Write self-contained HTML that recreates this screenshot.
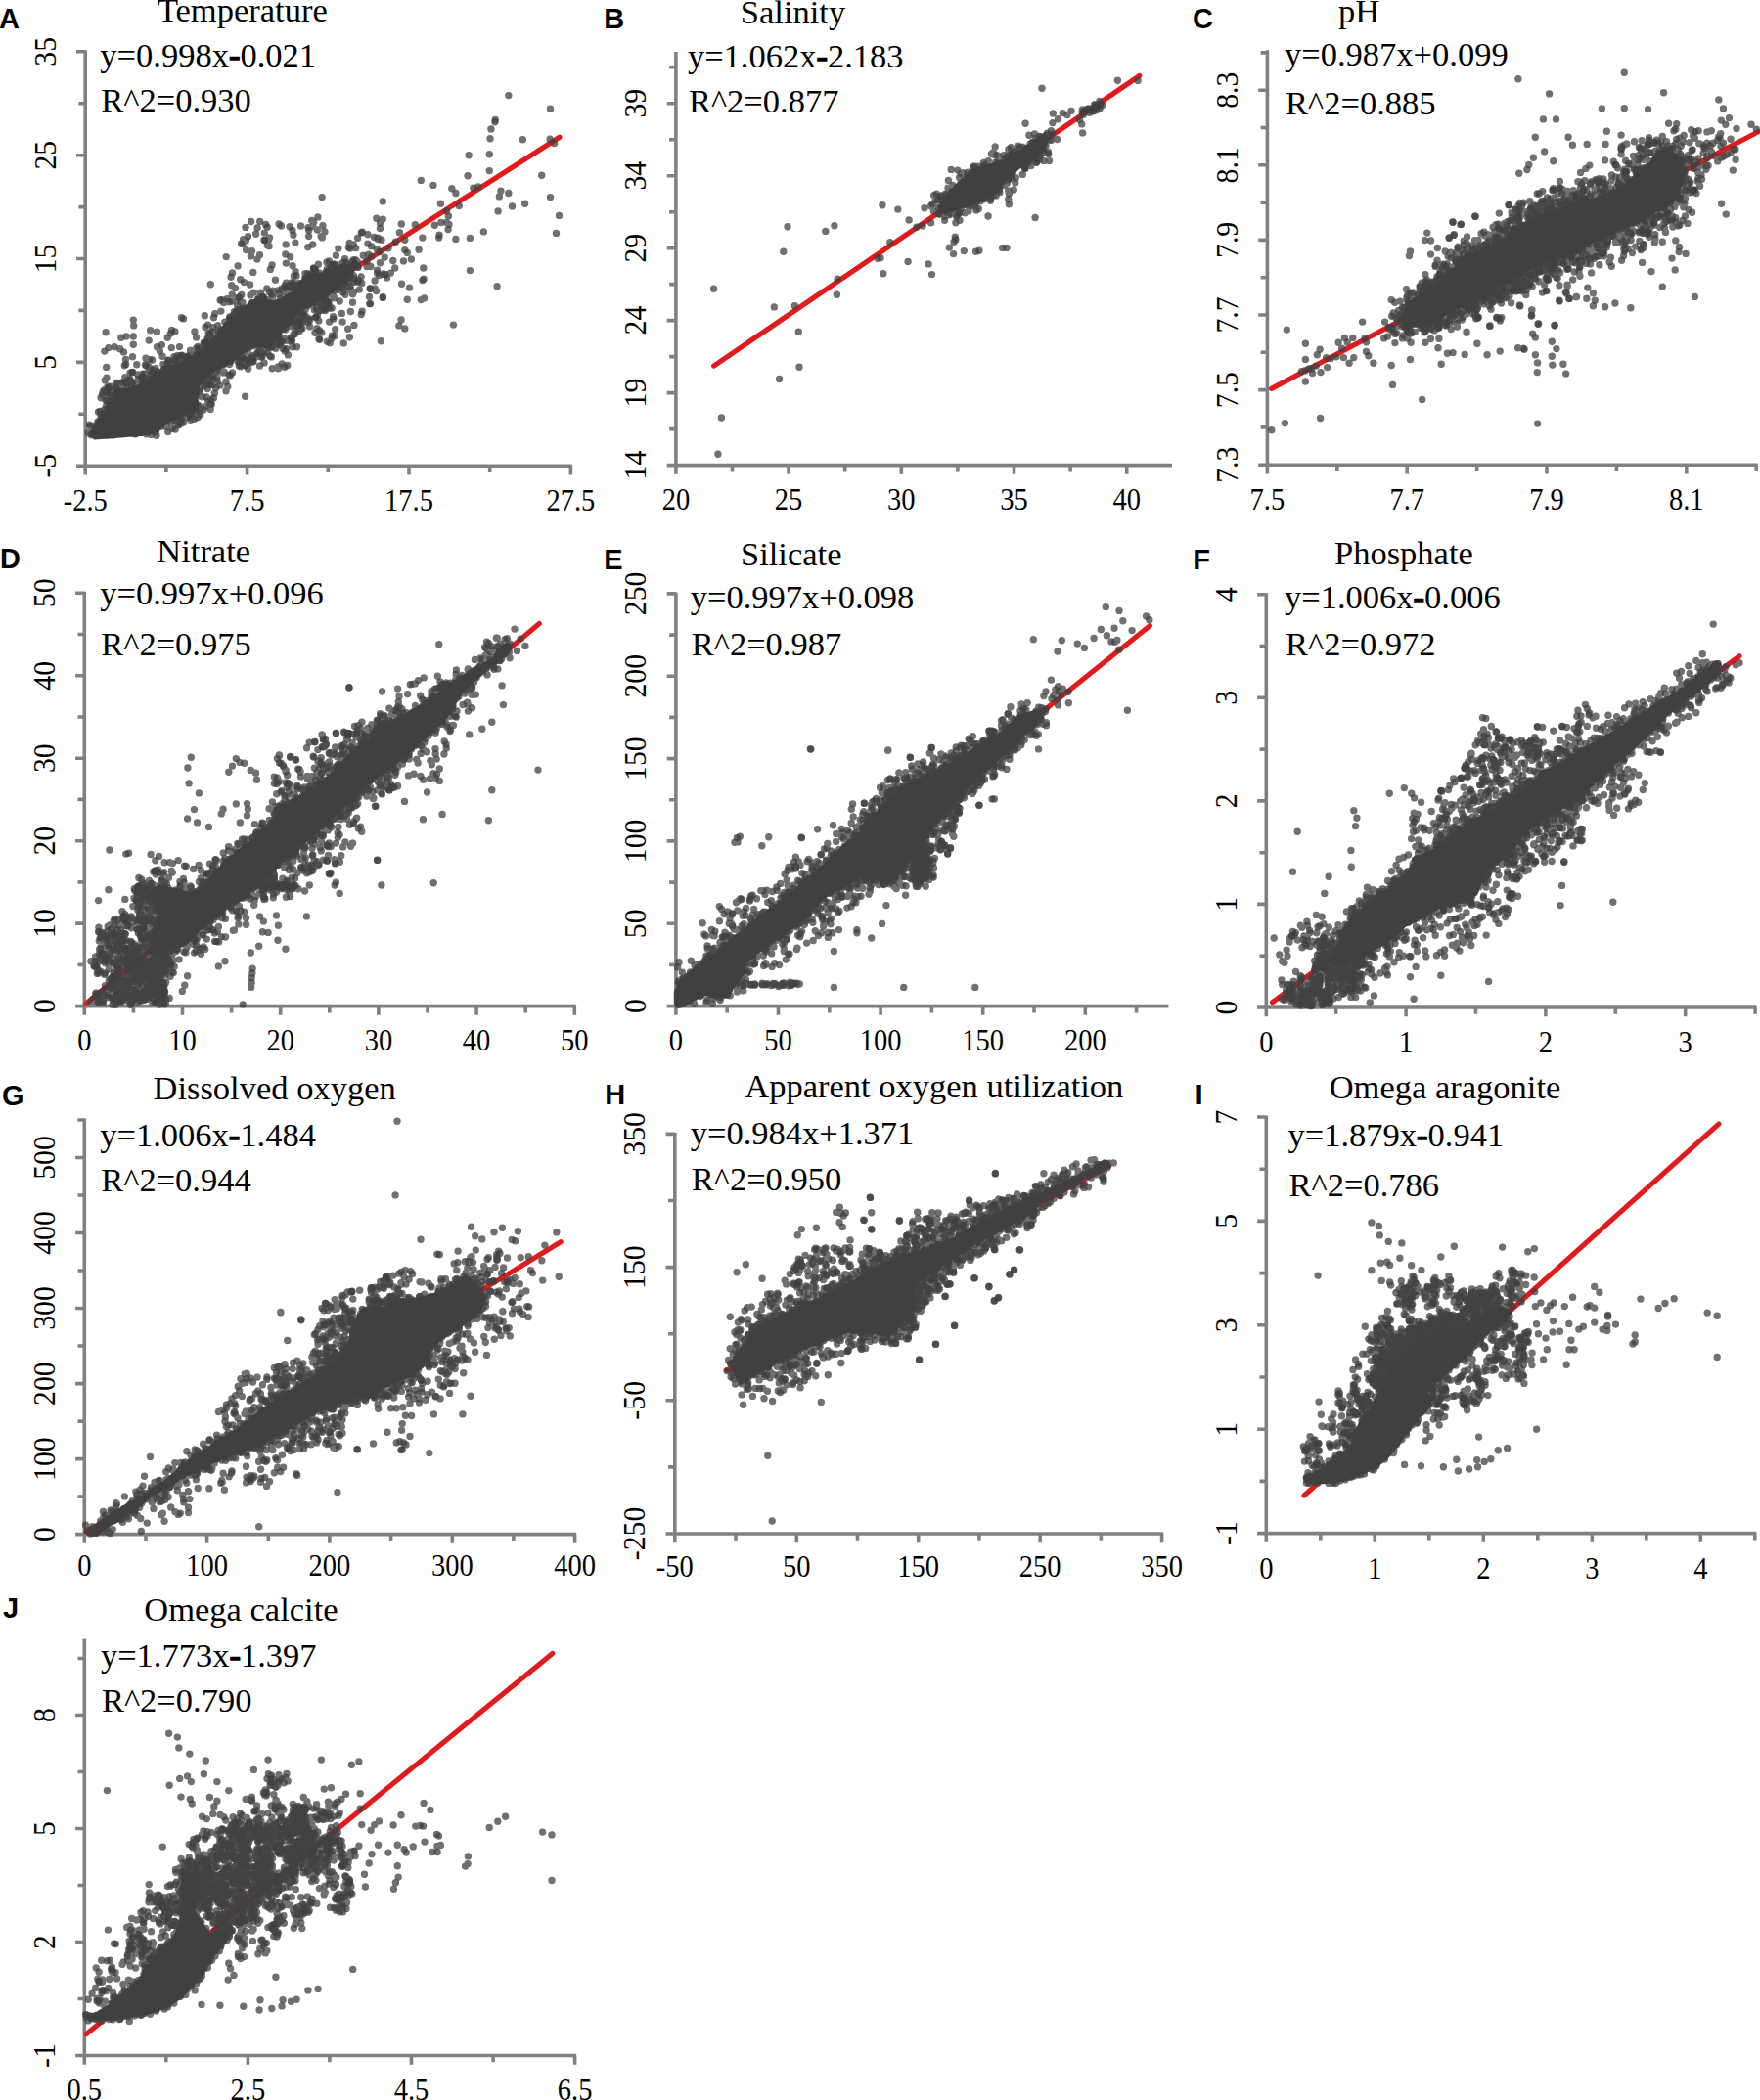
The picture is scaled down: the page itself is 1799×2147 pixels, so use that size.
<!DOCTYPE html>
<html><head><meta charset="utf-8"><title>Figure</title>
<style>
html,body{margin:0;padding:0;background:#fff;}
body{width:1799px;height:2147px;overflow:hidden;}
svg{display:block;}
.lab{font-family:"Liberation Sans",sans-serif;font-weight:bold;font-size:29px;fill:#000;}
.ttl{font-family:"Liberation Serif",serif;font-size:34.5px;fill:#000;}
.tk{font-family:"Liberation Serif",serif;font-size:32px;fill:#000;}
.d{stroke:#404040;stroke-width:7.4;stroke-linecap:round;fill:none;opacity:.75;}
</style></head><body>
<svg width="1799" height="2147" viewBox="0 0 1799 2147">
<rect width="1799" height="2147" fill="#fff"/>
<g><g stroke="#808080" stroke-width="3.6" fill="none">
<path d="M87.2 51.3V485.4M78 476.2H584.9M169.9 476.2v6.8M252.6 476.2v9.2M335.3 476.2v6.8M418 476.2v9.2M500.7 476.2v6.8M583.4 476.2v9.2M87.2 423.3h-6.8M87.2 370.4h-9.2M87.2 317.4h-6.8M87.2 264.5h-9.2M87.2 211.6h-6.8M87.2 158.7h-9.2M87.2 105.8h-6.8M87.2 52.8h-9.2"/></g>
<path d="M97 444L571.9 140.3" stroke="#e31a1c" stroke-width="5.2" stroke-linecap="round" fill="none"/>
<polygon fill="#404040" points="92.2,443.8 95.9,449.4 117.5,447.9 141.9,446 158.8,443.8 164.4,438.1 173.8,431.6 185,425.9 196.3,423.1 203.8,417.5 201.9,408.1 203.8,395 211.3,385.6 222.5,378.1 235.6,372.5 248.8,361.3 260,355.6 273.1,355.6 282.5,348.1 290,336.9 297.5,329.4 305,320 320,312.5 331.3,305 342.5,297.5 351.9,290 361.3,278.8 366.9,269.4 363.1,265.6 353.8,271.3 342.5,273.1 331.3,278.8 318.1,278.8 305,288.1 299.4,297.5 286.3,305 278.8,306.9 267.5,305 258.1,306.9 248.8,314.4 241.3,321.9 230,329.4 220.6,342.5 211.3,351.9 200,361.3 188.8,368.8 177.5,372.5 168.1,378.1 158.8,380 151.3,387.5 141.9,393.1 128.8,396.9 117.5,396.9 113.8,406.3 106.3,419.4 98.8,430.6 94.1,438.1"/>
<path class="d" d="M91.4 434.1h0M96.1 444.4h0M96.9 437.5h0M100 430.9h0M104.5 403.4h0M108.7 375.4h0M109.3 409.4h0M119 391.7h0M125.3 390.8h0M126.1 399.9h0M126.5 359.9h0M127.3 373.7h0M127.8 385.7h0M128.5 367.4h0M129.1 344h0M133 381.3h0M136.3 352.3h0M140.2 397.9h0M144.9 385.9h0M145.5 442.4h0M149.5 443.8h0M154 382.5h0M155.6 368h0M158.8 384.6h0M159.6 440.3h0M160 445.3h0M160.4 339.3h0M160.6 354.7h0M161.8 437.1h0M163.4 359h0M166 380h0M167.9 377.5h0M171.3 345.3h0M171.8 368.3h0M172 429.3h0M173.9 375.9h0M174.4 429.9h0M175.3 433.1h0M176.1 438.3h0M177.9 375.7h0M178 364.8h0M178.2 367.3h0M178.4 425.7h0M178.9 338.9h0M181.3 373.6h0M182.3 370.2h0M182.6 434.7h0M183.5 363.9h0M183.5 425.9h0M184.4 372.6h0M185.7 366.4h0M187.6 432h0M188.6 365.8h0M192 367.7h0M192.5 366h0M194.8 429.2h0M197.4 365.9h0M199.9 420.4h0M203.1 358.5h0M203.2 356.1h0M204.4 394.6h0M204.8 397.7h0M210 351.2h0M211.3 392.7h0M212.1 346.3h0M212.2 397.5h0M212.5 332.1h0M216 345.4h0M216.9 339h0M217.6 393.6h0M217.8 388.3h0M217.9 378h0M218.2 351.1h0M219.4 402.1h0M219.7 320.8h0M221.7 379.2h0M222.2 389.7h0M222.7 338h0M222.7 332.6h0M222.9 374.7h0M225.1 307h0M225.8 318.1h0M231 399.8h0M232.1 305.8h0M232.8 395.2h0M234.6 372.6h0M234.8 323.9h0M236.4 328.8h0M237.5 381h0M241.2 318.6h0M242.6 312h0M243.1 304.7h0M244.3 373.9h0M245.7 285.7h0M246.5 322.3h0M246.6 366.3h0M246.8 301.5h0M247.5 363.2h0M248.1 317.8h0M248.1 249.5h0M248.6 244.8h0M250.7 360.1h0M251.4 245.8h0M253.6 377.1h0M257.3 363.5h0M257.5 309.8h0M257.7 368h0M258.8 278.4h0M261.6 239.3h0M261.7 364.7h0M262.9 265.1h0M263.3 306.2h0M264.2 360.3h0M264.9 352.7h0M265.3 362.7h0M265.5 260.8h0M267 365.1h0M267.9 353.9h0M269.3 303.6h0M269.7 361h0M270.1 370.9h0M271.6 229.5h0M272.9 354h0M274.2 355.6h0M275.1 352.9h0M277.7 300.7h0M278.7 297.2h0M285.3 352.5h0M286.1 348h0M288 295.2h0M288.3 372h0M289.2 356.4h0M289.9 295.5h0M290.9 298.7h0M293.8 330h0M296.7 262.7h0M297 295.7h0M297.8 300.7h0M298 289h0M298.5 348.5h0M301.8 341.5h0M301.9 248.1h0M302.7 326.1h0M303.2 321.7h0M303.5 354.7h0M304.9 328.8h0M306.9 291.9h0M308.1 326.2h0M309 325.9h0M309.4 320.7h0M313.6 311h0M314.8 252.7h0M316.4 312.1h0M316.7 333.9h0M319.6 311.4h0M320.9 274.2h0M321.5 316.9h0M322.8 324.5h0M325.4 270.2h0M326 317.9h0M326.7 279.2h0M326.7 347.2h0M329.5 310.1h0M330.2 282.6h0M332.2 313.7h0M334.4 349.2h0M334.4 274.9h0M334.5 310.2h0M336.6 329.1h0M339 346.1h0M341.9 270h0M342.7 336.8h0M343.1 294.2h0M343.4 261.3h0M344.5 274.3h0M345.9 254.1h0M347.2 308h0M349.5 288h0M350.2 295.3h0M350.4 272.8h0M351.5 286.5h0M352.6 264.6h0M352.9 301.3h0M352.9 284.2h0M356.2 284.6h0M356.4 252.9h0M356.9 296.5h0M358.1 278.4h0M358.4 318.5h0M358.5 295.7h0M359.5 284.2h0M360.6 300.8h0M360.9 298.8h0M361.4 284.8h0M361.5 265.7h0M361.6 298.4h0M362.6 271.6h0M369.2 321.5h0M371.3 261.3h0M375.1 267.3h0M375.9 249.1h0M377.5 303.4h0M387.6 281.5h0M388.1 257.5h0M391.3 303.7h0M413.8 245.3h0M413.8 255.6h0M430.3 306.6h0M433.1 285.3h0M433.5 304.9h0M444.4 230.3h0M458.1 234.6h0M479.1 158.7h0M483.8 192.3h0M500.3 174.6h0M553.7 179.3h0M566.6 146.5h0M571.5 220.4h0"/>
<path class="d" d="M93.3 444.7h0M100.5 421.2h0M103 426h0M106 425.9h0M106.8 418.7h0M107 398.4h0M107.3 388.7h0M109 386.2h0M110.1 395h0M112 412.1h0M112 400.8h0M113.2 409.5h0M113.7 404.4h0M116.8 397.9h0M117.4 404.7h0M119.2 397.3h0M123.8 345.3h0M128.7 372.4h0M129.3 391.7h0M135.5 364.8h0M135.6 380.4h0M136.3 327.1h0M136.3 344h0M136.7 332.9h0M139.4 394.1h0M139.7 372.8h0M140.9 382.9h0M145.3 382.4h0M145.6 388h0M147.6 386.3h0M149.6 373.9h0M152.2 348.1h0M152.8 387.7h0M153.6 337.8h0M155.9 378.4h0M157.4 386h0M161 380h0M164 382.3h0M164.6 383.3h0M165.4 352.6h0M166.1 364.2h0M170.5 377.9h0M171.8 441.6h0M172.5 368.5h0M172.9 377.6h0M173.3 373h0M175.3 355.6h0M175.5 337.4h0M178.5 367.9h0M181.1 363.8h0M181.6 431.1h0M185.2 432.7h0M192.7 363.8h0M193.9 420.5h0M195.5 424.6h0M197.6 411.7h0M198.4 367.2h0M198.9 339h0M200.9 403.4h0M202.6 362.5h0M204.8 424.1h0M204.8 422.1h0M208 418.9h0M208.9 350.7h0M209 394.6h0M209.9 334.4h0M211 405.9h0M212 382.9h0M213.2 340.1h0M215.7 408.5h0M217.8 334.8h0M221.1 387.5h0M221.8 385.6h0M223.5 372.5h0M225 394.1h0M225.7 337h0M226.7 306.6h0M228.6 372.8h0M228.6 309.6h0M229.8 329.1h0M231 390.3h0M231.2 262.6h0M232.8 330.1h0M232.9 308.6h0M233.6 368.7h0M234.3 308.8h0M235.3 369.5h0M235.4 383.8h0M237.3 301.1h0M237.5 278.9h0M238.8 321.7h0M241.3 366.1h0M242.5 362.2h0M243 316.8h0M243.5 370h0M244.4 360.6h0M247.1 319.4h0M247.8 358.1h0M249.3 371.9h0M249.5 367.5h0M250.2 373.1h0M251 232.4h0M251.5 318.6h0M251.6 367.3h0M255.5 312.7h0M255.6 291h0M255.8 371h0M256.1 367.5h0M256.6 226.5h0M258.5 370h0M259.4 310.3h0M260.9 353.9h0M262.7 310.1h0M263.7 308.2h0M265.7 226.4h0M266.6 299.1h0M270.1 306.6h0M270.2 245.6h0M271.3 352h0M272.1 353.3h0M274 309.9h0M275.5 298.7h0M275.9 363.9h0M276.5 353.6h0M277.6 354.7h0M278.2 376.8h0M280.3 350.5h0M282.6 351.5h0M282.8 350.9h0M283.6 345.3h0M284.2 374.9h0M284.4 376.8h0M284.6 345.6h0M285.1 229h0M285.3 339.7h0M286.6 305.1h0M289 349.1h0M289.4 336.2h0M291.8 260h0M292.4 269.1h0M292.7 356.7h0M293.8 373.4h0M294.4 362.9h0M295.8 292.1h0M296.1 231.8h0M297.9 345.5h0M299.1 293.8h0M300.5 330.9h0M303 281.9h0M305.6 289.4h0M305.8 332.2h0M306.5 328.4h0M307.6 315.5h0M307.6 231h0M308.4 291.5h0M309.1 319.1h0M311.9 284.2h0M312 279.8h0M312.4 316.1h0M315.2 282.2h0M315.8 235.4h0M322.4 277.9h0M322.7 305h0M324.9 221.9h0M326.7 337.9h0M328.1 241.6h0M329.3 242.9h0M331.2 306.6h0M331.5 307.3h0M331.9 236.9h0M331.9 304h0M332.4 317.5h0M333.2 279.4h0M334 268.2h0M335.7 310.8h0M335.8 277h0M335.9 308.2h0M339.7 278.4h0M340.3 270.6h0M345.8 271.6h0M346.5 296.4h0M350 268.9h0M350.5 298.7h0M356.5 288.7h0M357.2 248.5h0M357.4 344.8h0M357.9 254h0M358.3 272.3h0M358.4 275.3h0M359.2 287.4h0M361.3 250h0M361.4 272.2h0M361.4 281.7h0M361.8 288.2h0M361.9 332.5h0M362.8 269.1h0M363.7 265.9h0M365.3 267.6h0M365.8 272.9h0M367.3 296.1h0M369.3 238h0M369.8 289.5h0M385.5 276.1h0M386.2 244.6h0M386.3 243.1h0M388.5 228.2h0M389.4 348.7h0M391.3 224.1h0M393.2 263.1h0M395.6 284.1h0M401.8 266.5h0M403.7 274h0M408.4 237.8h0M410.1 326.9h0M416.3 306.3h0M418.5 294.1h0M420.4 265h0M431.8 243.1h0M442.9 189.4h0M465.9 197.5h0M480.4 243.4h0M500.3 157.8h0M509.1 215.9h0M510.4 200.9h0M511.9 195.3h0M534.4 142.8h0M536.6 208.2h0"/>
<path class="d" d="M90.3 442.7h0M94 443.6h0M100.6 432h0M103.7 423.5h0M105.3 400.5h0M108 409.2h0M108.1 339.7h0M108.3 444.8h0M108.8 401.8h0M109.9 444.9h0M110.8 407h0M110.9 355.6h0M111.1 415.2h0M112 396.3h0M114 395.3h0M115.6 444.9h0M117.7 403.4h0M119.3 396h0M119.8 443.6h0M120.6 391.8h0M122.7 356.7h0M124.8 392.3h0M125.9 395.4h0M133.2 388.3h0M134.3 395.4h0M134.5 391.7h0M135.2 380.7h0M137.8 443.5h0M141.5 387.7h0M141.9 442.2h0M143.5 388.6h0M144.6 396.7h0M145.8 388.1h0M146.7 384.3h0M147.7 382h0M148.4 373h0M149.1 384.7h0M150.6 441.6h0M150.7 386.9h0M151.7 387.8h0M154.4 384.5h0M158.2 377.7h0M158.9 441.6h0M159 376.5h0M169.5 377.6h0M169.5 436.3h0M170.1 432.5h0M171 372.3h0M178.1 429.8h0M179.2 439h0M182.8 434.1h0M185.2 428h0M186 363.1h0M187.5 325.9h0M191.6 365h0M192 423h0M194.6 358.2h0M195.1 426.6h0M196.8 366.1h0M198.7 428.2h0M199.9 362.6h0M199.9 407.9h0M200.3 364.2h0M200.3 395.2h0M200.6 356.2h0M201 400.5h0M201.7 414.4h0M203.2 390.1h0M204.3 360.6h0M206.8 405.8h0M207.1 359.8h0M208.6 386.8h0M209.2 354.7h0M210.2 415.6h0M210.5 385.5h0M210.8 350.4h0M212.8 410.2h0M213.4 355.4h0M213.4 393.1h0M216.3 413.2h0M216.5 385.6h0M220.7 396.7h0M230.3 369.2h0M231.9 333.6h0M232.2 332.3h0M233.9 383.3h0M234.5 325.9h0M236.1 283.3h0M237.7 328.7h0M239.5 318.7h0M243.1 271.9h0M244.3 369.5h0M244.6 303.9h0M246.1 374.7h0M246.5 249.1h0M248.4 315.3h0M248.5 365.7h0M248.6 320.6h0M251.6 255.6h0M254.5 370.1h0M256.4 261.8h0M257.5 256.8h0M259 369.3h0M262.5 361.6h0M262.8 309.1h0M263.1 233h0M265.5 374h0M265.5 306.5h0M268 364.5h0M270.3 245.4h0M270.4 305.6h0M272.1 306.6h0M274.9 306.8h0M276 310h0M277.7 354.9h0M278.1 271h0M279 303.1h0M282.4 346.3h0M283.4 349.7h0M284.1 342.6h0M285.3 300.5h0M286.3 352.3h0M291.1 292.1h0M291.6 337.1h0M292.2 249.9h0M296.3 333.6h0M296.8 345.4h0M297.9 327.7h0M299.1 271.8h0M299.9 342.3h0M299.9 240.2h0M300.1 320.3h0M300.3 289.2h0M301.5 337.9h0M302.1 277.4h0M302.2 295.8h0M305 292.7h0M305.5 318.9h0M305.7 294.6h0M307.5 336.1h0M309.3 329.6h0M309.6 289.4h0M309.9 313h0M312.2 322.7h0M312.2 284.5h0M315 232.6h0M315.6 241.6h0M316.6 327.5h0M317.3 280.7h0M318.7 225.5h0M319.7 231.3h0M320 226.4h0M320.4 274.3h0M320.6 227.6h0M321.2 307.9h0M322 340.3h0M322.6 276h0M323.6 315.9h0M324.4 235h0M324.4 323.2h0M324.7 312.8h0M325.8 328h0M325.9 346.6h0M328.5 282.1h0M328.5 317.3h0M329.1 201.6h0M329.5 316.3h0M330 230.7h0M332.1 305.5h0M333.2 278.1h0M334 301.5h0M335.9 310.3h0M336.4 267h0M336.8 315h0M337.8 277.8h0M337.8 300.3h0M338.2 272.9h0M339.4 343.1h0M340.3 274.5h0M340.7 302.7h0M340.8 326.1h0M341.3 273.5h0M341.8 304.8h0M347.7 293.7h0M349.2 273.8h0M349.4 320.4h0M351.3 350.9h0M353.5 292.5h0M355 292.5h0M355.7 270.4h0M358 292.2h0M360.5 309.2h0M363.7 253.6h0M365.5 288.3h0M366 273.3h0M369.1 282.9h0M370.1 318.3h0M370.3 237.3h0M375 272.5h0M376.7 260.2h0M378.2 295h0M378.5 310.6h0M378.8 272.5h0M382.5 242.5h0M383.1 287h0M383.2 295h0M384.6 297.5h0M385.3 254.7h0M390 245.3h0M393.8 280.7h0M407.8 332.9h0M410.3 229h0M410.6 290.3h0M413.8 335.9h0M424.3 229.8h0M430.3 184.4h0M431.8 286.6h0M448.7 243.1h0M450.4 208.2h0M456.6 215.9h0M456.6 227.5h0M459 229.4h0M461.8 192.8h0M463.5 332.1h0M488.8 190.9h0M506.3 122.5h0M508.1 292.8h0M519.8 197.5h0M523.5 211h0M562.5 201.6h0M568.5 238.4h0"/>
<path class="d" d="M91.9 435.8h0M95.2 441.7h0M96.4 435.1h0M102.2 420.4h0M103.1 406.7h0M103.3 429.7h0M106.8 359.1h0M108.5 415.3h0M108.6 421.7h0M110.2 400h0M110.5 397.3h0M111.1 401.9h0M117.1 354.7h0M121.6 399.9h0M128.8 400.3h0M128.8 390h0M131.1 396.8h0M131.7 388.2h0M131.9 395.3h0M135.4 390.8h0M136.7 443h0M138.8 443.8h0M145.2 385.1h0M145.6 393h0M147.9 391.2h0M149 366.2h0M152 374.9h0M152.5 377.5h0M152.9 367.6h0M153.2 376.5h0M154.7 444.4h0M155.8 442.7h0M159.9 382.8h0M164.5 436h0M165.1 433.3h0M166.9 372.5h0M167.2 378.9h0M174.4 341h0M177.7 375.9h0M177.8 370.1h0M178.9 372.7h0M180 369.3h0M183.5 354.6h0M185.3 365.5h0M185.4 324.7h0M185.5 426.8h0M185.8 363.7h0M186.5 369.9h0M186.8 364.2h0M188.3 367.3h0M188.4 370.4h0M190 421.3h0M190.4 426.5h0M191.2 367.8h0M195 367.3h0M196.4 421.2h0M200.1 362.9h0M200.5 345h0M201.7 418.9h0M202 426.7h0M202.1 354.5h0M202.2 414.3h0M203.6 415.2h0M203.8 399.9h0M204.6 420.5h0M208.3 350.4h0M208.6 388.9h0M209.3 322.8h0M212.8 346h0M213.5 389h0M213.6 352.9h0M214.3 341.8h0M215.1 413h0M215.2 418.4h0M215.3 290.7h0M215.6 393.4h0M215.8 347.1h0M216.5 377.9h0M217.6 345.4h0M217.9 383.8h0M218.4 406.9h0M218.5 345.8h0M218.5 324.8h0M221.4 347.3h0M223.4 340.5h0M224.5 378.4h0M225.7 338.4h0M225.7 379.1h0M226.6 341.5h0M228.2 381.1h0M229.2 380.3h0M229.3 337.9h0M230.1 336.4h0M236.3 368.8h0M236.6 324.8h0M236.7 291.7h0M237.5 308.1h0M239.5 326h0M240.5 294.6h0M242.3 363.8h0M242.7 325.5h0M243.9 321.6h0M245.5 308.8h0M247.6 316.3h0M247.9 309.2h0M249.1 313.9h0M249.5 288.6h0M250.6 405.3h0M250.8 373.8h0M252 368.4h0M253.6 357h0M253.6 241.6h0M254.7 315.7h0M255 354.3h0M256 301.9h0M256 354.2h0M258.1 365.1h0M258.2 309.6h0M259.4 299.1h0M264.4 305h0M264.4 360.5h0M265.6 304.3h0M266.1 358.7h0M267.8 303.1h0M267.8 360.1h0M270.3 238.1h0M272.8 294.9h0M273.2 232.2h0M273.3 250.8h0M273.7 360.8h0M274.5 245.2h0M275.1 251.7h0M275.5 242.9h0M276.3 275.4h0M277.2 348.7h0M277.4 364.9h0M280.6 310.7h0M281.5 286.3h0M281.8 356.3h0M284.2 296.9h0M285.3 343.9h0M287.4 231h0M288.3 348h0M289.3 308.5h0M290.1 345.8h0M290.9 294.2h0M290.9 375.3h0M291.3 359h0M291.9 334.4h0M292.1 332.9h0M292.5 289.2h0M292.5 305.3h0M294 329.6h0M294 348.2h0M296.2 293.1h0M296.5 303.3h0M296.7 293.9h0M297.5 349.5h0M298.6 326.6h0M298.9 235.4h0M299.2 354.7h0M299.8 302.7h0M300.3 292.8h0M300.5 282.3h0M300.7 329.5h0M303.5 334.1h0M304.1 324.3h0M306.1 338.6h0M307.1 332.3h0M307.2 331.2h0M309 335.8h0M310.4 323h0M314.1 289.9h0M314.6 329.6h0M314.6 284.3h0M314.8 279.7h0M315.1 309.7h0M316 325.6h0M319.1 282.4h0M319.7 250h0M320.3 309h0M320.7 275.9h0M322 281.7h0M322.9 324.1h0M324 335.7h0M324.3 282.1h0M324.5 309.1h0M325.7 306h0M327.8 311.4h0M328.8 340.1h0M328.9 303.2h0M332.5 316.1h0M333.7 307.8h0M333.8 310.2h0M334.7 298.9h0M337.3 350.7h0M339.1 315h0M339.8 270.7h0M340.6 323.7h0M341.9 343.5h0M342.1 297.1h0M345.1 290.7h0M350.2 329.1h0M351.1 274h0M352 290.1h0M353.2 268.3h0M355.7 336.3h0M357.3 280h0M357.3 283.9h0M359.4 269h0M359.7 267.8h0M365.6 243.4h0M366.1 286.2h0M366.2 287.1h0M375.9 239.7h0M377.8 310.6h0M378.5 295.3h0M379.7 251.9h0M379.7 262.2h0M384.8 223.2h0M385.7 279.5h0M388.5 233.5h0M388.5 268.8h0M391.3 205.9h0M391.3 304.4h0M391.9 280h0M393.7 280.6h0M396.9 253.8h0M399.4 279.1h0M404.4 247.2h0M412.5 266.9h0M416.3 258.4h0M428.1 255.3h0M432.8 274h0M449.1 240.3h0M450.9 227.5h0M458.4 220.9h0M465.9 244.4h0M469.3 210.6h0M478.1 179.7h0M480.4 276.6h0M494.4 236.9h0M501 141.8h0M501.9 131.9h0M505.9 124.8h0M519.8 97.6h0M562.1 142.2h0M562.5 111.3h0"/>
<text class="lab" x="-1" y="29">A</text>
<text class="ttl" x="160.9" y="22.3">Temperature</text>
<text class="ttl" x="102.3" y="67.7">y=0.998x<tspan stroke="#000" stroke-width="1.3">-</tspan>0.021</text>
<text class="ttl" x="103.3" y="113.6">R^2=0.930</text>
<text class="tk" text-anchor="middle" transform="translate(87.2 522) scale(.89 1)">-2.5</text>
<text class="tk" text-anchor="middle" transform="translate(252.6 522) scale(.89 1)">7.5</text>
<text class="tk" text-anchor="middle" transform="translate(418 522) scale(.89 1)">17.5</text>
<text class="tk" text-anchor="middle" transform="translate(583.4 522) scale(.89 1)">27.5</text>
<text class="tk" text-anchor="middle" transform="translate(56.7 476.2) rotate(-90) scale(.93 1)">-5</text>
<text class="tk" text-anchor="middle" transform="translate(56.7 370.4) rotate(-90) scale(.93 1)">5</text>
<text class="tk" text-anchor="middle" transform="translate(56.7 264.5) rotate(-90) scale(.93 1)">15</text>
<text class="tk" text-anchor="middle" transform="translate(56.7 158.7) rotate(-90) scale(.93 1)">25</text>
<text class="tk" text-anchor="middle" transform="translate(56.7 52.8) rotate(-90) scale(.93 1)">35</text></g>
<g><g stroke="#808080" stroke-width="3.6" fill="none">
<path d="M690.9 53.1V484.8M681.7 475.6H1197.9M748.5 475.6v6.8M806.1 475.6v9.2M863.7 475.6v6.8M921.3 475.6v9.2M978.9 475.6v6.8M1036.5 475.6v9.2M1094.1 475.6v6.8M1151.7 475.6v9.2M690.9 438.6h-6.8M690.9 401.6h-9.2M690.9 364.6h-6.8M690.9 327.6h-9.2M690.9 290.6h-6.8M690.9 253.7h-9.2M690.9 216.7h-6.8M690.9 179.7h-9.2M690.9 142.7h-6.8M690.9 105.7h-9.2M690.9 68.7h-6.8"/></g>
<path d="M729.6 374.1L1164.7 77.5" stroke="#e31a1c" stroke-width="5.2" stroke-linecap="round" fill="none"/>
<polygon fill="#404040" points="960,215 964.7,217.8 975,215.9 984.4,213.1 995.6,209.4 1005,205.6 1014.4,200 1021.9,194.4 1027.5,185 1035,179.4 1042.5,171.9 1050,166.3 1057.5,164.4 1061.3,160.6 1066.9,155 1070.6,147.5 1073.4,140 1068.8,137.2 1063.1,138.1 1057.5,141.9 1051.9,147.5 1044.4,152.2 1038.8,155 1031.3,155 1029.4,162.5 1020,164.4 1010.6,168.1 1001.3,170 993.8,173.8 984.4,181.3 976.9,188.8 969.4,196.3 963.8,203.8 960,209.4"/>
<polygon fill="#404040" points="1103.4,112.8 1105.3,116 1115.6,116.6 1122.2,112.8 1127.8,107.2 1128.8,104.4 1124.1,103.4 1117.5,106.3 1113.8,110.4 1108.1,110.9"/>
<path class="d" d="M791.3 313.9h0M812.4 312.8h0M817 375.2h0M852.9 230.7h0M856.1 285.3h0M900 263.8h0M936.9 232.3h0M945 212.8h0M951.6 210.7h0M954.4 215.9h0M957.2 198.1h0M958.7 204.7h0M964.1 213.8h0M964.6 213.2h0M966.1 214.1h0M966.7 202.6h0M970.3 253.1h0M971.2 212.6h0M972.1 213.7h0M972.2 173.4h0M974.5 195.8h0M974.6 259.6h0M976.3 242.2h0M976.9 194.9h0M977.2 211.6h0M980.5 217.9h0M984.9 185.6h0M985.2 199.1h0M987.2 187.5h0M988.6 179.9h0M991.8 178.2h0M995.9 175.4h0M997.2 171.6h0M1000.4 177.9h0M1001.5 179.5h0M1004.4 172.3h0M1007 201.5h0M1010.3 164.6h0M1010.8 201.9h0M1012.2 183.4h0M1012.4 203.6h0M1013.1 171.8h0M1019.4 193.1h0M1021.3 190.2h0M1021.4 182.3h0M1022.9 187.1h0M1026.2 161.9h0M1028.4 165.7h0M1030.7 203.8h0M1033.2 179.4h0M1034.5 156.6h0M1034.9 183h0M1036.6 156.5h0M1037.8 186.9h0M1039.8 154.9h0M1041 149.3h0M1045.3 150.1h0M1045.7 152.5h0M1047.1 171.1h0M1048.1 166.8h0M1048.1 126.3h0M1049.9 151.6h0M1051.9 138.3h0M1052.1 158.9h0M1058.5 141.7h0M1058.6 144.5h0M1059.5 155.5h0M1059.9 156.9h0M1060.5 145.4h0M1062.5 139.5h0M1062.5 163.2h0M1063.1 157.8h0M1065 90.3h0M1066.2 155.5h0M1067.1 146.8h0M1074.4 133.8h0M1076.3 116h0M1080.5 142.5h0M1090.9 117.5h0M1095 113.4h0M1103.4 122.2h0M1106.1 114.1h0M1106.4 111.9h0M1113.7 115.2h0M1120.7 109.7h0M1123.9 103.5h0M1124.1 111h0M1142.4 82.3h0"/>
<path class="d" d="M729.6 295.2h0M733.9 464.3h0M796.6 387.5h0M805 231.8h0M816.3 339.2h0M897 264.2h0M901.9 209.8h0M929.1 224.9h0M943.1 230.9h0M951.6 227.8h0M953.2 208.4h0M958.9 212.3h0M960 218.8h0M960.9 212.7h0M962.9 201.2h0M965 214.1h0M965.7 221h0M966 198.4h0M967 205.7h0M969.8 219.7h0M974.7 198.2h0M975 247.3h0M977.8 221.6h0M978.1 216h0M980.6 181.5h0M982.3 213.6h0M983.6 210.4h0M989.4 176.1h0M994.9 176.7h0M996.4 201.2h0M997.4 176.5h0M1000.9 256.3h0M1001.1 179.5h0M1001.4 198.4h0M1002.2 205.8h0M1006.2 168.8h0M1011.9 171.3h0M1012.7 200.9h0M1013.5 190.4h0M1013.8 196h0M1017.6 166.3h0M1020.4 192.2h0M1021.8 193.1h0M1021.9 196.5h0M1022.1 172.5h0M1027.9 180.7h0M1029.6 160.6h0M1029.7 164.4h0M1030.5 159.5h0M1031.8 168.9h0M1032.1 163.1h0M1032.2 181.6h0M1033.4 150.7h0M1036.3 194h0M1039.8 170.1h0M1040.4 167h0M1042.6 150.8h0M1043.8 153.4h0M1044.8 159.7h0M1046.8 162.9h0M1048.1 171.9h0M1051.5 150.7h0M1052.7 166.7h0M1053.9 169.6h0M1054.1 163.4h0M1055.1 145.5h0M1055.8 146.4h0M1059.5 165.8h0M1059.6 147.7h0M1060.1 149.2h0M1060.6 157.2h0M1063.3 139.8h0M1068.7 142.7h0M1069.1 148.5h0M1069.2 138.1h0M1071.9 138h0M1074.3 143.4h0M1081.5 121.8h0M1105.7 126.9h0M1106.6 135.9h0M1111.2 111.5h0M1117.2 113.7h0M1119.3 107.9h0"/>
<path class="d" d="M800.8 257.2h0M855.4 301.2h0M902.8 279.7h0M909.8 247.8h0M949.1 269.9h0M952.5 280.6h0M954.6 199.6h0M956.3 204.7h0M958.3 201.9h0M960 219.1h0M961.4 212.5h0M964.2 209.3h0M965.6 225.3h0M965.8 216.1h0M966.4 210.2h0M968.3 197.8h0M969 192.2h0M972 205.6h0M973.8 189.4h0M974.4 212.1h0M976.9 227.8h0M978.8 174.1h0M979.3 192h0M980.6 217.4h0M981.9 187.7h0M985.3 256.6h0M985.7 187.2h0M986.3 217.8h0M990 215.9h0M990.8 209.5h0M995.3 171.2h0M995.4 195.3h0M996.1 210.5h0M998.2 205.2h0M998.6 197.1h0M1000.3 213.5h0M1005.3 166.4h0M1006 203.7h0M1010.1 221h0M1012.5 205.3h0M1013.4 157.5h0M1014.6 181h0M1015.3 155.6h0M1016.1 194.8h0M1016.8 158.6h0M1017.2 149.9h0M1018 170.2h0M1018.1 200h0M1020.2 165.2h0M1021.1 194.4h0M1024.7 253.4h0M1024.8 167.2h0M1025.5 158.9h0M1026 184.9h0M1027.8 158.4h0M1030.6 183.8h0M1030.9 152.8h0M1032.2 157.1h0M1032.6 178.5h0M1034.6 176.4h0M1034.9 156.5h0M1036.1 154.9h0M1038.3 181.7h0M1039.3 157.5h0M1042.7 168.2h0M1045.3 178.4h0M1045.8 167.1h0M1047.5 170.1h0M1048.9 152.1h0M1053 164.1h0M1053.1 147.1h0M1054.8 146.4h0M1057.6 136.9h0M1058.7 159.2h0M1059.4 166.3h0M1062.9 142.9h0M1065.7 149.1h0M1068.7 142.2h0M1070.5 136.3h0M1071.4 155.3h0M1072.5 164.4h0M1072.7 142.5h0M1075.3 137.2h0M1107.4 117.3h0M1112.9 110.9h0M1117.8 113.6h0M1120.7 112.7h0M1122.9 108.5h0M1126.7 107.5h0"/>
<path class="d" d="M737.4 427h0M843.8 236.4h0M917.8 214.1h0M928.1 267.5h0M961.9 200h0M963.5 206.9h0M965.2 207.4h0M967.7 217h0M968.9 216.9h0M969.4 184.4h0M970 203.3h0M971.8 218.8h0M972.8 196.3h0M976.9 245h0M978.3 220.3h0M978.6 191.2h0M981 225.3h0M982.4 177.7h0M984.4 176.6h0M987.8 209.5h0M988.3 183.6h0M991.8 182.1h0M992.2 206.6h0M992.5 181.4h0M993.4 210.6h0M993.8 177.1h0M995.6 170h0M997 211.2h0M997.5 186.4h0M997.5 257.2h0M997.9 215h0M998 206.6h0M998.4 171.4h0M999.3 170.3h0M1002.2 171.2h0M1005.6 179.4h0M1010.6 198.9h0M1015 199.1h0M1015 199.6h0M1019.2 158.6h0M1026.6 189.3h0M1028.4 185.4h0M1029 253.4h0M1029.3 187.3h0M1030.7 194.9h0M1031.3 198.1h0M1031.3 208.8h0M1035.2 175.9h0M1036.8 172.7h0M1037.7 160.4h0M1047.7 172.5h0M1050.1 164.3h0M1050.8 166.5h0M1055.2 160.9h0M1058.1 222.5h0M1060.2 162.4h0M1063.3 159.2h0M1065.8 141h0M1066.8 153.1h0M1066.9 164.4h0M1067.5 140.3h0M1071.6 157.4h0M1075.9 125.6h0M1086.2 115.6h0M1107.6 113.6h0M1118.8 106.8h0M1124.7 106.3h0M1163.1 82.4h0"/>
<text class="lab" x="617.2" y="29.2">B</text>
<text class="ttl" x="756.8" y="24">Salinity</text>
<text class="ttl" x="702.9" y="69">y=1.062x<tspan stroke="#000" stroke-width="1.3">-</tspan>2.183</text>
<text class="ttl" x="703.9" y="114.7">R^2=0.877</text>
<text class="tk" text-anchor="middle" transform="translate(690.9 521.4) scale(.89 1)">20</text>
<text class="tk" text-anchor="middle" transform="translate(806.1 521.4) scale(.89 1)">25</text>
<text class="tk" text-anchor="middle" transform="translate(921.3 521.4) scale(.89 1)">30</text>
<text class="tk" text-anchor="middle" transform="translate(1036.5 521.4) scale(.89 1)">35</text>
<text class="tk" text-anchor="middle" transform="translate(1151.7 521.4) scale(.89 1)">40</text>
<text class="tk" text-anchor="middle" transform="translate(660.4 475.6) rotate(-90) scale(.93 1)">14</text>
<text class="tk" text-anchor="middle" transform="translate(660.4 401.6) rotate(-90) scale(.93 1)">19</text>
<text class="tk" text-anchor="middle" transform="translate(660.4 327.6) rotate(-90) scale(.93 1)">24</text>
<text class="tk" text-anchor="middle" transform="translate(660.4 253.7) rotate(-90) scale(.93 1)">29</text>
<text class="tk" text-anchor="middle" transform="translate(660.4 179.7) rotate(-90) scale(.93 1)">34</text>
<text class="tk" text-anchor="middle" transform="translate(660.4 105.7) rotate(-90) scale(.93 1)">39</text></g>
<g><g stroke="#808080" stroke-width="3.6" fill="none">
<path d="M1295.4 51.3V484.4M1286.2 475.2H1796.8M1366.8 475.2v6.8M1438.2 475.2v9.2M1509.6 475.2v6.8M1581 475.2v9.2M1652.4 475.2v6.8M1723.8 475.2v9.2M1795.2 475.2v6.8M1295.4 436.9h-6.8M1295.4 398.6h-9.2M1295.4 360.3h-6.8M1295.4 322h-9.2M1295.4 283.7h-6.8M1295.4 245.4h-9.2M1295.4 207.1h-6.8M1295.4 168.8h-9.2M1295.4 130.5h-6.8M1295.4 92.2h-9.2M1295.4 53.9h-6.8"/></g>
<path d="M1299.6 397.4L1797.2 134.7" stroke="#e31a1c" stroke-width="5.2" stroke-linecap="round" fill="none"/>
<polygon fill="#404040" points="1434.4,336.6 1440,335.6 1449.4,333.8 1458.8,334.7 1470,330 1477.5,322.5 1486.9,316.9 1496.3,313.1 1505.6,309.4 1515,305.6 1524.4,300 1531.9,292.5 1541.3,286.9 1552.5,283.1 1560,275.6 1571.3,271.9 1582.5,268.1 1593.8,264.4 1605,260.6 1620,255 1620,200.6 1608.8,208.1 1597.5,213.8 1586.3,217.5 1575,219.4 1565.6,223.1 1560,234.4 1550.6,241.9 1539.4,243.8 1528.1,247.5 1520.6,255 1511.3,262.5 1500,268.1 1492.5,275.6 1483.1,283.1 1473.8,286.9 1466.3,292.5 1455,296.3 1447.5,303.8 1438.1,309.4 1434.4,318.8 1433.4,328.1"/>
<polygon fill="#404040" points="1469,284.9 1480.3,277.4 1493.4,268 1506.5,258.6 1521.5,251.1 1536.5,245.5 1551.5,236.1 1562.8,226.8 1577.8,221.1 1592.8,215.5 1607.8,209.9 1622.8,206.1 1637.8,198.6 1652.8,193 1664,185.5 1675.3,174.3 1686.5,164.9 1695.9,153.6 1705.3,151.8 1714.6,157.4 1720.3,166.8 1722.1,175 1720.3,188.1 1716.5,197.5 1710.9,206.9 1699.6,214.4 1690.3,218.1 1680.9,225.6 1667.8,231.3 1656.5,235 1645.3,240.6 1634,246.3 1622.8,250 1611.5,255.6 1600.3,259.4 1589,265 1574,270.6 1562.8,276.3 1551.5,281.9 1540.3,287.5 1529,295 1517.8,302.5 1506.5,308.1 1493.4,313.8 1480.3,319.4 1469,325"/>
<path class="d" d="M1334.4 390h0M1340.6 376.9h0M1350 380.6h0M1373.4 365.6h0M1382.8 345.4h0M1396.5 359.4h0M1418.4 344.1h0M1419.4 334.7h0M1422.2 373.5h0M1423.4 338.6h0M1423.5 393.4h0M1432.4 326.9h0M1432.7 331.4h0M1433.4 345.9h0M1433.4 327.3h0M1434.6 329.1h0M1436.3 335.1h0M1436.6 333.3h0M1437.3 322.7h0M1437.4 333.3h0M1439.5 310.1h0M1440 339.6h0M1442.1 350.2h0M1448.1 331.2h0M1454.5 293.1h0M1454.7 300.7h0M1455.8 335.6h0M1456.5 245.6h0M1456.5 332.7h0M1456.8 298.7h0M1456.9 280.7h0M1458.5 318h0M1458.7 325.6h0M1458.8 288.8h0M1459.6 323.6h0M1462.4 289h0M1462.5 324.3h0M1462.6 336.6h0M1463 314h0M1463.3 293.6h0M1466.7 323.7h0M1468.3 332h0M1469.3 292.8h0M1470.5 301.3h0M1470.9 301.7h0M1470.9 346.3h0M1471.1 314.8h0M1471.1 335h0M1471.2 333.7h0M1471.3 280.7h0M1472.1 327.5h0M1472.3 287.8h0M1472.7 287.6h0M1472.8 322.7h0M1473.1 325.7h0M1473.2 372.2h0M1473.3 322.1h0M1474.7 283.7h0M1474.8 324.1h0M1475.7 285.5h0M1475.8 320.9h0M1476.2 324.7h0M1477.2 284.8h0M1477.2 257h0M1477.6 307.6h0M1477.8 272h0M1477.8 273.1h0M1478.4 323.4h0M1478.4 330h0M1480.6 316.4h0M1482.4 280.4h0M1482.8 319.6h0M1482.8 298h0M1482.9 281.9h0M1483.3 336.6h0M1485 227.3h0M1485.8 282.1h0M1486.3 239.7h0M1491.3 294.4h0M1491.4 307.8h0M1492.5 269.1h0M1493 320.2h0M1493 229.4h0M1494.4 311.7h0M1495.2 265.3h0M1495.5 304.8h0M1495.9 255.4h0M1496.7 307.6h0M1496.9 266h0M1497.3 271.4h0M1498 292.5h0M1498.3 269.6h0M1498.8 310.1h0M1499.1 265.2h0M1499.1 308.3h0M1499.8 267.3h0M1500.4 303.3h0M1500.5 265.8h0M1500.8 260.1h0M1500.8 316.9h0M1503.8 251.3h0M1503.8 276.3h0M1503.9 289.3h0M1506.3 308.2h0M1506.4 286.9h0M1507.2 311.2h0M1507.5 315h0M1508.6 308.7h0M1509.3 316.6h0M1510.1 265.7h0M1510.5 313.7h0M1510.6 324.1h0M1510.8 306.4h0M1511.7 306.5h0M1513.3 262.5h0M1514.1 238.7h0M1515.6 292.8h0M1515.8 258.9h0M1515.9 304.4h0M1516 260.4h0M1516.4 253.4h0M1516.8 310.8h0M1517.3 250.7h0M1517.8 240.9h0M1518.1 261.7h0M1519 301.2h0M1520.1 362.8h0M1520.7 304.8h0M1520.9 242.8h0M1521 239.8h0M1521.3 252.2h0M1521.4 270.9h0M1521.4 240.2h0M1521.9 291h0M1521.9 293.3h0M1522 305.6h0M1522.9 333.4h0M1524 316.2h0M1524 256.3h0M1524.6 310.1h0M1524.7 248.3h0M1525.3 294.7h0M1525.7 301.5h0M1526.1 232.3h0M1526.5 297.7h0M1527.3 247.3h0M1527.6 297.8h0M1528.4 242.3h0M1528.6 294.8h0M1529.1 229.7h0M1530 324.4h0M1530.3 258.9h0M1531 300.2h0M1531.2 289h0M1532.1 301.7h0M1532.3 218.1h0M1532.4 234.4h0M1532.9 288.4h0M1533.8 306.6h0M1533.9 234.6h0M1535 296h0M1535.7 293.2h0M1536.5 291.6h0M1537.1 267.5h0M1539.7 230h0M1540.2 244.1h0M1540.7 266.5h0M1540.9 287.3h0M1541.9 285.6h0M1542.2 209.6h0M1543.5 243.4h0M1544.4 246.4h0M1545.1 217.2h0M1545.2 217.6h0M1545.6 240.1h0M1546.7 297.4h0M1547.5 232.4h0M1547.6 238.1h0M1548 287.5h0M1548.7 214h0M1548.8 288.6h0M1549.7 286.1h0M1550.7 222.4h0M1550.9 268.3h0M1551.5 273h0M1551.5 251.5h0M1551.8 222.4h0M1551.9 80.7h0M1552 210.6h0M1552.2 289.5h0M1552.5 219.4h0M1552.5 225.7h0M1552.9 234.3h0M1553.2 295.9h0M1553.3 238.3h0M1553.6 242.1h0M1554 295.3h0M1554.8 239.3h0M1555.2 240.2h0M1555.9 254.3h0M1556 279.4h0M1556.2 275.3h0M1556.6 230.1h0M1556.8 237.8h0M1556.9 266.8h0M1557.1 233.7h0M1557.1 293.3h0M1557.8 233.2h0M1558 253.3h0M1558.1 357.2h0M1558.2 247.1h0M1558.3 287.6h0M1559.6 277.3h0M1560.5 237.2h0M1560.7 279h0M1561.6 256.5h0M1561.9 219.4h0M1562.4 228.9h0M1562.7 291.5h0M1562.9 215.7h0M1562.9 270.6h0M1563.8 230.7h0M1563.9 231.2h0M1564.8 274.3h0M1565.6 322.2h0M1565.7 212.6h0M1565.8 225.2h0M1566.5 272.5h0M1566.6 341.3h0M1566.9 226.8h0M1567 279.8h0M1567.5 281.2h0M1567.8 210h0M1568.4 274.3h0M1568.7 276.6h0M1568.9 213.5h0M1569.4 362.8h0M1570 224.9h0M1570.1 213.3h0M1570.4 254.1h0M1571.6 433.1h0M1571.7 219.8h0M1572.9 287.7h0M1575.2 270h0M1575.8 205.6h0M1576.7 276.6h0M1577.5 275.8h0M1578.6 291.2h0M1578.7 208.2h0M1578.8 255.6h0M1580.5 264.3h0M1580.6 297.6h0M1580.7 272.4h0M1581 278.9h0M1581.1 214.6h0M1581.7 220.6h0M1582.2 225.9h0M1583.6 95.9h0M1583.9 277.3h0M1583.9 253.8h0M1584.1 212.4h0M1584.2 209.4h0M1584.3 212.3h0M1584.4 221.2h0M1584.4 265h0M1585.3 260h0M1586.8 373.1h0M1586.8 275.3h0M1586.9 217.8h0M1587.1 194.7h0M1587.1 234.8h0M1587.7 164.7h0M1587.8 242.4h0M1588 216h0M1588.4 262.9h0M1588.7 256.2h0M1589.1 332.8h0M1589.3 272.2h0M1589.6 251.8h0M1589.6 216.7h0M1589.8 273.2h0M1590.8 267.1h0M1591.3 234.7h0M1591.3 264.2h0M1591.5 261.9h0M1591.8 267.1h0M1592.1 284.5h0M1592.7 268.5h0M1594.7 278.7h0M1594.9 209h0M1596.3 254.4h0M1596.8 254.4h0M1597.2 258.5h0M1597.8 244.5h0M1598.2 260.4h0M1598.3 264.5h0M1600.5 212.2h0M1600.7 213.9h0M1601 207.3h0M1601.3 300h0M1602.1 223.1h0M1602.5 214h0M1602.8 249.7h0M1603 222.6h0M1603.1 140.3h0M1603.3 274.9h0M1603.7 207.7h0M1605.4 261.7h0M1606.4 208.4h0M1607.2 209.5h0M1607.5 223.6h0M1608.6 210.3h0M1609.4 202.7h0M1609.5 245.2h0M1609.8 228.7h0M1610.5 234.6h0M1610.6 208.9h0M1611.6 256.3h0M1612.1 243.8h0M1612.9 197.9h0M1613.3 245.7h0M1613.5 218.1h0M1613.8 211.9h0M1614.1 265.9h0M1614.8 272.9h0M1615.5 238.6h0M1615.8 266.9h0M1616.8 188.1h0M1617.4 260.6h0M1617.5 224.7h0M1618 251.3h0M1618 258.7h0M1618.2 213.5h0M1618.6 201.5h0M1618.9 252.5h0M1619 226.6h0M1619 193.9h0M1619.4 262h0M1619.5 203.5h0M1619.6 246.7h0M1619.8 250h0M1619.8 205.7h0M1619.8 184.7h0M1620.4 209.3h0M1621.6 257.1h0M1622.5 244h0M1623.7 253.7h0M1625.7 199h0M1625.9 187.5h0M1626.6 204.5h0M1627.2 260.9h0M1627.3 227.3h0M1627.5 255.4h0M1628.4 312.8h0M1628.5 261.5h0M1629.6 262.4h0M1631.2 251.5h0M1632.4 184.2h0M1632.5 224.2h0M1633.3 253.2h0M1633.4 186.1h0M1634.8 210.2h0M1634.9 270.8h0M1635.9 217.9h0M1636.8 197.2h0M1637.4 258.8h0M1638 243.6h0M1639 241.9h0M1640.5 242.5h0M1640.6 313.8h0M1641 200.1h0M1642.3 253h0M1643.4 246.6h0M1644.1 197.1h0M1644.8 211h0M1646.3 241.3h0M1646.5 197.8h0M1648.9 198h0M1651.2 181h0M1652.1 191.3h0M1652.4 196.7h0M1653.3 238.3h0M1655.4 242.8h0M1655.8 222.1h0M1657.1 157.8h0M1657.3 242.8h0M1658.2 233.3h0M1659 192.1h0M1659.8 253.7h0M1660.1 257h0M1660.3 148.2h0M1661.3 213h0M1661.6 203.5h0M1662.2 175.7h0M1662.8 146.9h0M1663.1 181.6h0M1664.2 254.3h0M1664.8 232.2h0M1665.7 229.7h0M1666.8 168.4h0M1667 185.4h0M1667.5 203.1h0M1667.8 230.1h0M1668.1 238.2h0M1668.6 186.6h0M1669.4 166.5h0M1669.8 236.3h0M1669.8 185.1h0M1670.3 172.1h0M1670.5 144.7h0M1671.7 252.1h0M1672.3 176.7h0M1673.8 168.1h0M1674.2 228.4h0M1675.1 176.3h0M1675.3 150.4h0M1676.3 173.3h0M1677.1 234h0M1677.1 255.6h0M1678.5 162.8h0M1680.2 163.3h0M1680.3 172.3h0M1680.3 225.4h0M1682.5 154h0M1682.8 160.5h0M1683.6 237.5h0M1684.9 171.5h0M1685.7 147.6h0M1686.1 156h0M1686.5 208.8h0M1688.1 217.2h0M1690.5 155.6h0M1690.8 227.9h0M1690.8 224.9h0M1691.3 248.1h0M1691.9 244.1h0M1692.1 154.2h0M1692.7 153.9h0M1692.7 186.7h0M1694.1 166.7h0M1694.6 221.5h0M1695.3 147h0M1696.3 198.4h0M1696.8 205.8h0M1697.1 195.9h0M1697.8 193.1h0M1698 193.8h0M1699 197.8h0M1699.2 180.8h0M1700.7 157h0M1700.9 211.4h0M1701.6 222.4h0M1702.2 206.5h0M1703 155.7h0M1703.2 152h0M1703.4 226.6h0M1704.5 149.5h0M1704.7 222.7h0M1704.8 207.1h0M1704.8 222.9h0M1704.9 218.8h0M1705 225.3h0M1706.5 154.2h0M1707.5 154.5h0M1707.9 203.3h0M1708.4 207.5h0M1708.9 169.1h0M1709.2 221h0M1709.7 224h0M1709.8 149.2h0M1711.7 211.5h0M1712.3 200.3h0M1714.2 160.9h0M1714.4 199.9h0M1714.5 206.2h0M1714.8 207.2h0M1715.1 203.2h0M1715.2 152.9h0M1715.3 158.2h0M1716.7 205h0M1717.3 202.4h0M1719.2 185.6h0M1719.2 169.5h0M1719.3 202.9h0M1719.5 160.3h0M1719.6 170.6h0M1720.9 205.1h0M1721.2 138.4h0M1722.5 202.7h0M1724.5 162.1h0M1726.2 214.5h0M1726.6 165.4h0M1726.8 193.5h0M1729.3 153.7h0M1730.7 172.3h0M1731.5 194.7h0M1735.3 185.3h0M1736 161.9h0M1737.6 190.3h0M1744.2 169.6h0M1750.6 146.8h0M1751.1 146.3h0M1758.2 141.6h0M1759.3 123.1h0M1761.5 110.9h0M1761.5 146.3h0M1769.2 156.1h0"/>
<path class="d" d="M1299.8 439.7h0M1337.8 376.9h0M1355.6 365.6h0M1356.6 375.6h0M1360.3 366.6h0M1365.9 364.7h0M1377.2 350.1h0M1395 345.9h0M1415.6 329.1h0M1422.2 306.6h0M1423.1 335.6h0M1425.7 341.3h0M1434.9 320h0M1435.5 314.2h0M1435.7 334.2h0M1437.6 320.3h0M1439 301.8h0M1441.5 328.1h0M1442.1 310.9h0M1446.3 309.6h0M1449.4 307.3h0M1449.6 301.4h0M1451.6 293.2h0M1454.1 335.5h0M1455.1 332.7h0M1456.6 288h0M1456.9 338.9h0M1458.3 310.8h0M1458.8 238.1h0M1460.2 324.5h0M1460.8 331.9h0M1461.5 323.9h0M1462.1 293.4h0M1463.3 301.3h0M1465.3 301h0M1466.1 298.1h0M1466.1 337.9h0M1466.2 317.4h0M1467.2 272.4h0M1468.3 328.9h0M1469 266.1h0M1469.2 292.7h0M1469.4 287h0M1469.5 286.7h0M1470.3 334.2h0M1470.4 326.5h0M1470.4 330.5h0M1470.9 320.8h0M1471.4 284h0M1471.8 312.5h0M1472 328.8h0M1472.1 276.3h0M1472.8 297.8h0M1473.6 305.2h0M1478.6 332.1h0M1478.7 278.8h0M1480.6 276.5h0M1480.7 315.8h0M1481.7 308.6h0M1482.1 327.8h0M1483 293.7h0M1483.1 329.6h0M1483.2 263.5h0M1484.1 323.4h0M1484.1 324.9h0M1485.3 314.4h0M1485.3 277.7h0M1485.7 282.2h0M1485.8 310.2h0M1485.9 301.5h0M1485.9 240.4h0M1487.1 322.3h0M1487.9 264.9h0M1488.2 267.7h0M1489.4 285.5h0M1489.7 312h0M1490.3 279.8h0M1490.5 273.4h0M1490.9 273.5h0M1491 266.7h0M1493.1 317.8h0M1493.4 229.3h0M1494.4 319h0M1494.4 319h0M1495.2 285.4h0M1496.2 310.1h0M1496.3 250.3h0M1496.3 275.2h0M1496.9 317.3h0M1498.1 269.4h0M1498.8 248.5h0M1499 339.1h0M1499.1 340.3h0M1499.6 261.9h0M1499.7 264.1h0M1500.1 306.4h0M1501.5 263h0M1502.3 314h0M1505.4 314.9h0M1506 260h0M1506.8 307.6h0M1507.5 245.6h0M1508 258h0M1508.1 221.3h0M1509.2 252.1h0M1509.9 351.2h0M1510.2 250.8h0M1511 245.4h0M1511.5 260.8h0M1512.1 296.5h0M1513 290.3h0M1514.7 257.7h0M1515.1 283.8h0M1515.5 272.7h0M1515.6 257.3h0M1515.7 297.5h0M1516 304.6h0M1516.9 237.2h0M1516.9 302.3h0M1517.9 307.5h0M1518.7 298.1h0M1519.2 302.6h0M1519.6 308.6h0M1519.7 306.5h0M1520.2 256.4h0M1521.3 249.8h0M1521.5 294.3h0M1521.7 299.3h0M1522.2 246.3h0M1522.5 313.1h0M1522.6 282.9h0M1523.1 307.8h0M1523.2 286h0M1524.1 303h0M1525.6 288h0M1526.5 250.7h0M1526.8 303.6h0M1526.8 285.2h0M1527 302.5h0M1527.3 291.5h0M1527.6 292.9h0M1527.7 237.2h0M1528.7 293.1h0M1529.2 248h0M1529.2 256h0M1529.7 306.9h0M1530.2 301.4h0M1530.5 254h0M1530.9 271.8h0M1531.3 252.9h0M1531.7 229.3h0M1531.9 232.5h0M1531.9 242.4h0M1532.7 269h0M1532.8 325.9h0M1534.1 286.3h0M1535 288.9h0M1535.7 250.1h0M1535.7 300.8h0M1536.1 235.4h0M1536.3 303.9h0M1536.4 247.6h0M1537 286.2h0M1537.2 245.3h0M1538.4 295.5h0M1539.3 304.8h0M1542.2 240.1h0M1542.8 295.1h0M1544.8 243.5h0M1545.3 250.6h0M1545.5 291h0M1545.5 285.3h0M1546 225.3h0M1546.2 295.6h0M1547.7 233.6h0M1548.1 290.5h0M1548.9 214.7h0M1549.1 275h0M1549.7 214.7h0M1549.7 249.2h0M1550.3 282.3h0M1550.8 216.9h0M1552.4 226.1h0M1552.8 296.9h0M1553.7 238.4h0M1554 230.8h0M1555.5 236.3h0M1555.7 285.2h0M1556.9 231.7h0M1556.9 298.1h0M1557 287.6h0M1558.6 231.2h0M1559.8 301.5h0M1560.2 262.5h0M1560.5 229.6h0M1561.4 233.8h0M1562.4 281.5h0M1562.6 288.6h0M1562.8 168.4h0M1562.9 229.5h0M1563.5 227h0M1563.8 290.6h0M1563.8 240.9h0M1564.1 289.9h0M1565 264.2h0M1565.6 316.9h0M1565.9 316.9h0M1566.8 284.3h0M1566.9 270.2h0M1567.1 282.8h0M1567.3 244.5h0M1568.3 273.7h0M1568.8 253.5h0M1568.8 217.8h0M1568.8 281.9h0M1569.4 276.5h0M1569.5 221h0M1569.9 277.5h0M1571.6 370.9h0M1572.6 330.9h0M1573.2 267.8h0M1573.3 269.2h0M1573.6 270h0M1573.9 276.6h0M1576.3 206.1h0M1577.3 267.3h0M1577.4 121.9h0M1577.6 206.1h0M1578.1 205.5h0M1578.1 239.7h0M1579.8 238.7h0M1580.5 221.4h0M1580.9 284.2h0M1581.5 222h0M1581.6 214.6h0M1582.4 244.7h0M1582.7 220.5h0M1583.1 224.2h0M1584.4 274.3h0M1585.7 271.4h0M1586.8 263.4h0M1586.9 272.5h0M1588 213.6h0M1588.7 235.8h0M1589.1 208.1h0M1589.4 265.7h0M1589.7 245.7h0M1589.7 206.9h0M1590.4 264.4h0M1590.5 238.5h0M1591 209.2h0M1591 206.5h0M1592.1 197.9h0M1593.6 205.4h0M1593.6 260.1h0M1594.1 307.9h0M1594.8 225.5h0M1596 267.3h0M1596.6 268.7h0M1596.9 215.6h0M1597 193.5h0M1597.9 372.2h0M1598 195.1h0M1598.3 232.7h0M1598.4 204.4h0M1599.9 200.9h0M1601.3 209.6h0M1601.5 256.3h0M1601.7 239.7h0M1602.1 291.3h0M1602.2 198.8h0M1602.2 292.5h0M1602.3 195.6h0M1602.4 195.4h0M1602.6 197h0M1603.3 221.9h0M1603.9 230.5h0M1604 305.3h0M1604.2 210.9h0M1605.5 210.6h0M1605.5 227.1h0M1605.7 254.1h0M1606.1 258.1h0M1606.3 250.4h0M1606.6 256.7h0M1607.4 148.2h0M1607.6 266.7h0M1607.6 268.3h0M1607.7 285.9h0M1608.2 266.7h0M1608.3 194.7h0M1609.6 246.6h0M1609.8 197.1h0M1611.7 201.9h0M1613 267.1h0M1613.3 209.9h0M1613.5 245.3h0M1613.9 277.5h0M1614 250.9h0M1614.9 282.3h0M1615.3 241.9h0M1615.8 231.8h0M1616.1 251h0M1616.6 203.1h0M1617.3 267.3h0M1618.2 253.4h0M1619.4 246.6h0M1620.4 249.7h0M1621 172.4h0M1621.1 203.9h0M1623.5 226.7h0M1623.8 233.6h0M1623.9 218.3h0M1624.1 249.9h0M1624.5 264.2h0M1625.1 210.4h0M1625.2 243.2h0M1626.3 264.2h0M1626.6 278.9h0M1626.7 207.4h0M1626.7 245.7h0M1626.8 237.6h0M1627.4 230h0M1627.5 208.8h0M1628.6 227.5h0M1629.5 264.3h0M1630 194h0M1630.5 206.9h0M1631 246.5h0M1631.1 249.9h0M1631.3 183.7h0M1631.3 193.3h0M1633.1 254h0M1633.2 250h0M1634.6 182.6h0M1634.6 261.8h0M1635.5 224.4h0M1636.7 246.2h0M1637.1 242.5h0M1637.1 200.7h0M1637.4 110.9h0M1637.5 217.3h0M1638.3 259.4h0M1638.4 200.9h0M1638.5 257h0M1638.6 194.6h0M1638.9 254.9h0M1639.2 186.4h0M1640.4 247h0M1641.5 188.2h0M1642 250h0M1645.1 192.2h0M1646.5 193.4h0M1646.8 234.8h0M1648.9 196.4h0M1649.3 165.2h0M1650.7 233.5h0M1651 214.5h0M1651.3 228.8h0M1654.1 234.9h0M1654.7 187h0M1654.9 191.4h0M1654.9 186.9h0M1655.2 187.1h0M1656.2 216.6h0M1656.5 192h0M1657.1 138.1h0M1657.1 151.8h0M1657.8 228.7h0M1658 199.7h0M1658.7 247.4h0M1659.7 261.5h0M1659.8 247.3h0M1660.3 74.3h0M1660.3 110.7h0M1660.3 217.8h0M1660.3 236.9h0M1660.5 173.1h0M1660.7 249.9h0M1661 226h0M1661 230.7h0M1661.2 180.7h0M1661.5 189.1h0M1661.5 177.9h0M1662 230.2h0M1662.9 174.9h0M1663.4 228.9h0M1663.5 186.8h0M1664 193.3h0M1664.5 237.9h0M1666.5 237.6h0M1666.8 314.7h0M1667.1 245.5h0M1668.4 258.6h0M1668.8 227.1h0M1671.7 203.1h0M1673.5 178.5h0M1674.5 189.3h0M1675.4 221.1h0M1676.2 161.3h0M1676.2 236.9h0M1676.5 161.1h0M1677 209.4h0M1677.3 196.7h0M1678.2 172.3h0M1678.6 268.4h0M1679.5 238.5h0M1679.5 207.9h0M1679.7 249.9h0M1679.8 210.9h0M1679.9 232.4h0M1680.3 191.7h0M1681 217.2h0M1681.4 216.3h0M1681.5 229.5h0M1683 189.2h0M1683.3 232.8h0M1683.9 217.1h0M1684.6 111.6h0M1685.3 238.3h0M1685.7 143.7h0M1688.8 221.1h0M1690.7 230.3h0M1691.2 145.4h0M1691.2 164.4h0M1691.8 239.6h0M1692 212.9h0M1693.4 197.4h0M1693.4 208.2h0M1695.7 155h0M1696.7 232.5h0M1697 222.1h0M1699.3 153h0M1699.5 180.4h0M1699.5 203.8h0M1700.6 212.3h0M1700.7 228.7h0M1701.7 221.4h0M1704 217.3h0M1707.3 153.2h0M1708.1 226.1h0M1708.3 204.9h0M1709 264.1h0M1709.5 157.9h0M1709.8 152.2h0M1709.8 232.1h0M1710.9 133.8h0M1711.2 166.6h0M1712.8 222.8h0M1713.7 126.6h0M1714.6 196.6h0M1715.5 200.3h0M1716.1 257.5h0M1717 141.3h0M1717.4 166.5h0M1719.8 164.4h0M1719.9 225.5h0M1720 179.9h0M1720.5 144.9h0M1722.6 171h0M1725.5 158.8h0M1727 145.8h0M1727.8 186.5h0M1730.8 196.4h0M1731.3 194.9h0M1731.4 170.2h0M1732.1 171.8h0M1732.4 134.7h0M1734 197.6h0M1736.8 146.8h0M1736.8 170.2h0M1742.3 147.8h0M1743 168.9h0M1743.9 173.3h0M1744.8 162.1h0M1744.9 146.1h0M1745.4 159.1h0M1746.1 169.4h0M1753.1 159.7h0M1755.7 143.5h0M1755.7 164.9h0M1759.6 208.2h0M1762 159.7h0M1764.3 219.1h0M1769 142.2h0M1771.3 174.1h0M1774.1 163.2h0M1775 131.5h0"/>
<path class="d" d="M1313.4 432.6h0M1334.1 378.8h0M1349.1 357.2h0M1349.6 427.5h0M1396.5 349.7h0M1398.8 363.8h0M1403.8 371.3h0M1414.7 345.9h0M1422.7 323.3h0M1425.7 309.3h0M1426.8 325.1h0M1428.8 324.4h0M1429.6 317.5h0M1431.2 308.1h0M1431.4 321.2h0M1434.6 343h0M1437.8 304.1h0M1438.1 306.4h0M1438.7 346.1h0M1439.6 339.4h0M1440.4 261.6h0M1441.5 256.9h0M1441.7 299.5h0M1441.7 333h0M1443 301.4h0M1443.7 339.8h0M1444.7 301.9h0M1444.8 330.8h0M1446.1 302.9h0M1446.2 339.4h0M1448.8 302.1h0M1449.7 314.1h0M1452 335.3h0M1452.9 320.2h0M1453.9 301.5h0M1454.1 297.9h0M1455.6 321.9h0M1455.6 324.9h0M1456.1 339.7h0M1456.5 291.9h0M1457.3 327.2h0M1457.5 297.8h0M1459.7 290.4h0M1460.9 335.4h0M1461.6 334.7h0M1461.9 314.4h0M1462.5 246h0M1463.9 330.5h0M1464.5 290.2h0M1465.8 294.2h0M1465.8 332.1h0M1467.4 308h0M1467.5 333.2h0M1468.2 286.4h0M1468.6 290h0M1469.1 295.7h0M1469.5 321.9h0M1469.5 317.7h0M1470 355.7h0M1470 321.3h0M1470.1 324.2h0M1470.7 310h0M1470.8 282.9h0M1470.9 304.8h0M1472.1 308.3h0M1473.1 322.4h0M1473.8 295.2h0M1474.3 283.4h0M1474.9 330.9h0M1475.8 270.9h0M1476.2 329.1h0M1478 332.9h0M1479.4 361.3h0M1479.7 282.1h0M1480.1 262.1h0M1481.3 243.2h0M1482.8 258.3h0M1482.9 321.9h0M1483.6 284.1h0M1484.1 259.7h0M1485 277.5h0M1485.1 280.5h0M1486.4 287.4h0M1487 321.5h0M1487.5 266h0M1488.2 314.7h0M1490 253.8h0M1490.1 326.7h0M1490.7 319.7h0M1490.8 275.6h0M1491 270.4h0M1491.4 278.5h0M1491.7 321.8h0M1491.8 309.2h0M1492.4 297.6h0M1493.7 264.9h0M1494.5 281.4h0M1494.6 268.5h0M1495.1 298.9h0M1495.1 324.2h0M1495.2 272.7h0M1495.4 259.8h0M1496.3 246.3h0M1497.2 362.4h0M1497.4 313.3h0M1498.8 255.6h0M1499 320.9h0M1499.6 241.9h0M1499.9 312h0M1501.9 315h0M1502 261.5h0M1502.3 253.7h0M1503.8 309.6h0M1503.9 261.8h0M1504.4 285.4h0M1505.2 266.1h0M1506.2 308.2h0M1506.3 289.2h0M1507.3 262.9h0M1507.7 320.2h0M1507.8 221.3h0M1507.9 282.9h0M1508.2 322.4h0M1508.6 253.7h0M1508.8 312.2h0M1509.2 304h0M1509.4 257h0M1510.3 325.3h0M1511.6 296.9h0M1511.6 255.7h0M1513 263.8h0M1514.3 258.2h0M1514.7 293.6h0M1515 266.9h0M1515.8 302.9h0M1516.2 285.1h0M1517.4 283.6h0M1518.2 300.7h0M1518.5 296.9h0M1518.5 276.4h0M1518.7 248.9h0M1519.4 250.3h0M1523.5 269.6h0M1524.8 299.1h0M1524.9 288h0M1525.4 278.1h0M1526.4 253.7h0M1526.8 296.4h0M1527.1 254.4h0M1527.3 292.5h0M1527.6 243.4h0M1531.8 247.6h0M1531.9 298.1h0M1532.1 304.9h0M1532.1 290.4h0M1533.2 359.1h0M1533.3 246.7h0M1533.4 328.1h0M1534.7 324.8h0M1534.9 289.9h0M1535.6 296.8h0M1537.7 247.3h0M1537.8 255.6h0M1537.9 250.1h0M1538.9 298.4h0M1539.2 268.7h0M1540.4 235.1h0M1540.5 298.3h0M1540.7 288h0M1540.8 238.9h0M1541.1 245.3h0M1541.3 255.8h0M1542.1 235.1h0M1542.1 209.7h0M1543.6 225.8h0M1544.6 259.8h0M1545.7 241.2h0M1545.9 286.1h0M1546.6 296.4h0M1546.7 225.7h0M1547.8 225h0M1548.1 284.4h0M1548.3 235.3h0M1548.4 255.8h0M1549.5 241.5h0M1549.6 282.3h0M1549.7 241h0M1550.4 265.2h0M1550.5 286.8h0M1551.6 292.9h0M1552.3 264.6h0M1552.5 297.2h0M1552.8 177.3h0M1553.2 232.4h0M1553.4 311.9h0M1553.5 207.5h0M1553.5 280.6h0M1553.5 282.5h0M1553.8 221.7h0M1554.8 230.5h0M1556 209.4h0M1556.3 215h0M1556.7 294.9h0M1556.9 283.2h0M1557.2 297h0M1558.8 236h0M1560.5 296.5h0M1560.9 219.8h0M1561.1 231.5h0M1561.2 221.8h0M1561.8 272.9h0M1562.6 231.4h0M1562.7 231.3h0M1563.7 205.7h0M1563.9 272.7h0M1564.2 242.4h0M1564.3 222.9h0M1564.7 211.9h0M1564.9 281.8h0M1565.4 228.3h0M1566.2 292.7h0M1567.4 161.3h0M1569.4 345h0M1569.7 215.2h0M1570.3 211h0M1571 234.2h0M1571.3 198h0M1571.3 217.9h0M1571.8 275.8h0M1572.1 331.2h0M1572.9 213.1h0M1573.5 277.6h0M1573.8 269h0M1574.2 215.8h0M1574.4 221.3h0M1574.6 209.6h0M1575.8 224.1h0M1576.5 299.1h0M1576.7 195.6h0M1576.8 239.9h0M1577.6 207.7h0M1577.7 251.4h0M1578.7 154.9h0M1579.8 219.1h0M1579.9 235.3h0M1580 284.7h0M1580.3 269.3h0M1580.9 211.9h0M1581.6 255.7h0M1582.6 286.2h0M1583.6 219.1h0M1584.1 264.4h0M1584.1 224.6h0M1584.4 263.8h0M1584.7 213.4h0M1584.8 203.2h0M1584.8 214.6h0M1584.8 241.5h0M1585 213.4h0M1585 264.1h0M1585.2 234.3h0M1585.7 266.1h0M1585.9 244.6h0M1586.1 279.8h0M1586.4 252.2h0M1586.9 239.8h0M1587.1 270.8h0M1587.2 194.1h0M1587.3 277.7h0M1587.4 226.7h0M1587.8 202.4h0M1588.5 215h0M1588.8 266.8h0M1589 332.5h0M1589 268.8h0M1591.4 263.2h0M1591.6 244.3h0M1592 223.3h0M1592.7 216.7h0M1592.9 218.3h0M1593 207.2h0M1593.7 260.4h0M1593.7 307.2h0M1593.7 233h0M1593.7 223.6h0M1593.8 242.9h0M1593.9 291.7h0M1594.1 241.3h0M1594.1 216.1h0M1594.1 192.2h0M1596.2 205.7h0M1596.4 256.3h0M1597.1 257.9h0M1597.3 215.3h0M1597.4 208.3h0M1597.6 207.8h0M1598 258.3h0M1598.2 242.2h0M1598.6 217.3h0M1598.6 204.4h0M1600.7 269.5h0M1600.7 382.1h0M1601.3 264.4h0M1601.7 213.9h0M1601.9 270.2h0M1602.2 273.5h0M1602.7 223.6h0M1603.1 206h0M1603.3 211.4h0M1603.5 205h0M1604.2 251.2h0M1604.2 257.7h0M1604.6 263.8h0M1605 257.9h0M1605.6 213.1h0M1606.4 263.3h0M1606.8 214.2h0M1607.3 258.2h0M1607.5 199.4h0M1607.5 213.9h0M1607.8 255.5h0M1607.9 260.1h0M1608 210.4h0M1609.3 243.9h0M1609.3 278h0M1609.7 200.6h0M1609.8 230.6h0M1611 303.8h0M1611.3 211.1h0M1611.5 303.4h0M1612.6 254.9h0M1613.4 256h0M1613.4 205.3h0M1614.8 245.7h0M1615.2 201.6h0M1615.4 192.5h0M1615.6 214.3h0M1616.2 244.1h0M1616.9 229.3h0M1617 239.7h0M1617.2 195.1h0M1617.3 193h0M1617.4 239.2h0M1617.8 209.4h0M1617.9 216.5h0M1617.9 212.1h0M1618 211h0M1619.5 218h0M1619.6 238.7h0M1620.7 193.5h0M1621.9 194.6h0M1622.1 240.6h0M1622.7 228h0M1623.3 248.1h0M1623.3 206.3h0M1624 232.2h0M1624.2 209.5h0M1625.5 269.9h0M1625.5 265.2h0M1628.5 245.4h0M1632.2 250.4h0M1632.7 244.7h0M1634.9 186.9h0M1635.7 246.5h0M1636.1 216.9h0M1638.4 250.3h0M1640.3 188.6h0M1640.3 250.6h0M1640.5 163.9h0M1641.6 200.6h0M1642.4 134.3h0M1642.8 246.7h0M1643.1 245.6h0M1644.9 236.7h0M1645 233.4h0M1645.1 268h0M1646.5 263.2h0M1647 185.1h0M1648.8 197.6h0M1649.1 196.4h0M1649.3 241.2h0M1651.1 230.3h0M1651.4 247.8h0M1651.8 228.9h0M1651.8 168.8h0M1653.5 248h0M1654.1 188.4h0M1655.5 202.1h0M1656.4 192.4h0M1657.3 152.5h0M1657.5 149.8h0M1657.5 202.9h0M1659.6 175.9h0M1661.3 255.4h0M1661.6 164.3h0M1662.3 232.4h0M1665 220.6h0M1666.2 186.6h0M1667.1 218.7h0M1667.4 227.6h0M1667.5 199.6h0M1670.1 227.6h0M1672 183.3h0M1672.5 218.5h0M1672.5 205.4h0M1672.7 173.6h0M1673.8 226.2h0M1674.6 163.4h0M1674.8 158.6h0M1675.6 237.7h0M1675.8 246.4h0M1675.9 174.7h0M1676.6 223.4h0M1677 151.4h0M1677.2 182.1h0M1677.7 254.3h0M1679.4 193.2h0M1679.6 253.6h0M1679.9 152.2h0M1680 249.8h0M1681 193.3h0M1681.2 225.1h0M1682 224.1h0M1682.3 221.7h0M1682.4 224.9h0M1682.6 221.3h0M1684.2 200.3h0M1684.5 147.8h0M1685.7 242.2h0M1686.1 234.8h0M1686.2 167.5h0M1686.5 156.3h0M1688 165h0M1690 227.9h0M1690.5 214.7h0M1692.9 223h0M1693.3 143.2h0M1693.3 143.5h0M1693.4 216.3h0M1695 219.6h0M1695.9 159.5h0M1699.1 149.6h0M1699.3 247.2h0M1699.3 293.1h0M1700.1 212.8h0M1700.6 94.8h0M1701.5 233.1h0M1702.5 237.4h0M1703.5 144.7h0M1706 152.2h0M1707.4 213.7h0M1707.5 173.3h0M1707.5 214.6h0M1707.8 151.9h0M1707.9 204.4h0M1712.2 275.9h0M1712.7 226.6h0M1712.8 245.9h0M1713.1 146.8h0M1714.5 196.5h0M1714.6 191.5h0M1715.3 231h0M1715.7 201.8h0M1717.2 164.2h0M1717.3 204.4h0M1718.9 183.5h0M1720.2 186.5h0M1720.8 211.8h0M1721.4 176.9h0M1721.9 196h0M1721.9 208.1h0M1722.5 221h0M1722.6 181.7h0M1722.7 163.7h0M1723.1 259.4h0M1723.8 192.5h0M1724.9 191.7h0M1726.6 189.1h0M1727.3 164.4h0M1728.3 164.3h0M1728.7 132.8h0M1729.6 217.2h0M1730.1 153h0M1730.5 138.8h0M1732.2 193.9h0M1732.3 141.3h0M1733.7 165.3h0M1735.8 176.4h0M1739 178.8h0M1741.1 156.6h0M1741.6 149.7h0M1743.9 151.7h0M1749.4 154.9h0M1767.5 120.6h0M1771.9 152.4h0M1790 127.2h0M1795.3 132.3h0"/>
<path class="d" d="M1315.3 337.1h0M1330.3 379.7h0M1334.4 351.2h0M1334.4 367.5h0M1341.6 381.6h0M1345.3 374.1h0M1346.3 362.8h0M1368.2 350.3h0M1371.6 356.3h0M1374.4 345.4h0M1379.1 371.3h0M1383.8 365.6h0M1392.6 329.1h0M1420.2 336.4h0M1423.9 334.9h0M1424.2 319.9h0M1425 322.5h0M1425.9 350.6h0M1426 334.5h0M1427.8 340.8h0M1428.4 327.7h0M1429.4 321.8h0M1431.8 333.5h0M1433.2 324.1h0M1433.6 314.4h0M1437.6 295.7h0M1438.4 313h0M1438.4 340h0M1439.4 307.7h0M1441.4 338.3h0M1441.5 367.5h0M1442.5 313h0M1442.7 340.8h0M1443.5 307.6h0M1444.1 298.9h0M1446.9 307.7h0M1451.1 292.8h0M1451.2 296.3h0M1452.2 304h0M1452.3 331.6h0M1453.1 289.3h0M1453.5 300.7h0M1453.7 408.4h0M1453.7 313.7h0M1456.9 350.3h0M1458.6 286.2h0M1458.7 318.4h0M1458.9 295h0M1461.2 298.8h0M1461.3 310.3h0M1461.7 294.3h0M1462.5 260.1h0M1462.5 346.5h0M1463.1 296.9h0M1463.5 325.1h0M1463.9 288.2h0M1464.4 291.6h0M1466.3 310.1h0M1467.2 271h0M1467.9 305.9h0M1468.9 283h0M1469 283.3h0M1469.1 298.9h0M1469.4 253.5h0M1470 335.6h0M1470.3 327.7h0M1471.2 323.9h0M1472.1 279.8h0M1472.2 301.7h0M1472.5 293h0M1472.7 296h0M1473.3 307.7h0M1474.1 272.8h0M1474.4 270.2h0M1476.6 285.1h0M1477 280.9h0M1477 282.3h0M1478.4 329.7h0M1479.1 269.7h0M1479.2 317.9h0M1480.8 277.2h0M1481.2 243.1h0M1481.8 324.2h0M1482 327.6h0M1482.7 319.9h0M1482.7 288.3h0M1482.8 318.6h0M1483.4 273.7h0M1483.5 281h0M1483.5 273.2h0M1484.1 323.6h0M1484.2 317.5h0M1484.9 226.9h0M1485 360.6h0M1485 322.8h0M1485.4 316.9h0M1486.4 280h0M1486.9 306.3h0M1487.5 275.5h0M1487.7 271.6h0M1488.3 279.5h0M1488.6 258.1h0M1489 301.3h0M1489.1 317.1h0M1489.1 312.1h0M1489.1 330.8h0M1489.3 291h0M1489.5 334.1h0M1489.9 268.1h0M1490.4 252.2h0M1490.9 277.8h0M1491.6 260.6h0M1491.8 273.1h0M1494.2 327h0M1495 307.9h0M1495.3 264.9h0M1495.4 277.2h0M1497.2 274.4h0M1498.1 283.3h0M1498.5 311.2h0M1499.2 277.9h0M1499.5 313.8h0M1501.1 308.4h0M1501.2 264.4h0M1501.4 315.6h0M1502.8 269.9h0M1504.1 310.3h0M1504.6 256.1h0M1505.1 312.7h0M1505.4 256h0M1505.8 321.2h0M1506.3 314.1h0M1506.3 295.8h0M1506.9 309.8h0M1507.6 268h0M1507.8 257.3h0M1508.1 264.8h0M1508.4 271.7h0M1508.6 306.3h0M1508.6 310.4h0M1508.7 320.2h0M1508.7 325.7h0M1509 285.4h0M1509.3 291.5h0M1509.5 306.2h0M1510.3 315.4h0M1511.1 270.7h0M1511.2 278.2h0M1511.3 324.4h0M1511.8 275.1h0M1512.1 265.7h0M1512.5 280.1h0M1512.8 291h0M1513.3 250.9h0M1513.4 302.1h0M1514.1 306.9h0M1514.5 308.2h0M1515.5 301.6h0M1516.1 282h0M1516.2 300.7h0M1518.2 270.1h0M1519 264.2h0M1519.3 304.9h0M1519.4 273.9h0M1519.5 302h0M1519.5 255.9h0M1520.9 254.4h0M1522.8 332.9h0M1523.4 268.6h0M1525 299.7h0M1525.2 300.4h0M1526.4 308.6h0M1526.6 252.5h0M1526.9 294.1h0M1528.6 250.5h0M1528.6 291.4h0M1528.7 244.6h0M1529.3 300.9h0M1529.9 325h0M1530.1 250.4h0M1530.2 296.8h0M1530.5 294.3h0M1530.7 252.4h0M1531.2 291.6h0M1532.3 233.2h0M1533.1 241h0M1533.6 246.6h0M1533.9 299.5h0M1534 297.8h0M1534 245.7h0M1534.5 310.1h0M1535.9 266.7h0M1536.3 287.3h0M1537.5 236.5h0M1538.1 228.2h0M1539.2 295.9h0M1539.4 303.8h0M1539.5 236h0M1539.7 240.6h0M1539.8 236.9h0M1540 274.7h0M1540.2 247.4h0M1540.3 231.6h0M1540.3 229.7h0M1540.7 269.5h0M1540.7 226.8h0M1542 289.6h0M1543 239.3h0M1543 302.5h0M1543.1 235.3h0M1543.6 273.6h0M1544.6 309.7h0M1545.2 222.2h0M1545.7 235.1h0M1546.3 292.2h0M1546.3 243.5h0M1546.8 281.5h0M1547.5 239.6h0M1547.6 287.6h0M1548.1 295.4h0M1548.6 295.6h0M1548.7 242.9h0M1549.3 298.1h0M1550.3 236.9h0M1551.3 289.3h0M1551.4 221.9h0M1551.6 355.7h0M1551.7 277.3h0M1552.5 230.4h0M1552.5 280.8h0M1553.1 214h0M1553.5 295.3h0M1553.8 313.1h0M1555.2 250.7h0M1555.9 278.4h0M1556.9 289.4h0M1557 274h0M1557.2 207.3h0M1557.2 356.3h0M1557.3 241.4h0M1559.4 292.1h0M1560.9 286.1h0M1560.9 173.5h0M1561.1 263.6h0M1561.1 244h0M1561.4 277.7h0M1561.7 233.8h0M1562.8 225h0M1562.9 258h0M1563.2 268.7h0M1563.3 223h0M1564.5 280h0M1564.5 287.1h0M1564.8 214.7h0M1565.3 323.1h0M1565.8 270.8h0M1567 220.8h0M1567.6 253.8h0M1567.8 259.5h0M1568.3 222h0M1568.6 233h0M1569.1 225.9h0M1569.3 140.3h0M1569.4 269.9h0M1569.7 285.1h0M1570.4 269.2h0M1571.2 226.1h0M1571.3 380.6h0M1571.7 268.1h0M1572.9 278.3h0M1573.3 198.1h0M1573.5 225.8h0M1574 276.5h0M1574.2 223.5h0M1574.4 209.1h0M1574.9 277.8h0M1575.6 213.6h0M1576.5 219.4h0M1576.6 271.9h0M1577.3 223h0M1577.3 227.9h0M1577.8 235.7h0M1578 221.7h0M1578.2 269.7h0M1579.5 217.8h0M1580.1 267.9h0M1580.5 276.2h0M1580.6 297.3h0M1581.4 268.3h0M1581.4 202h0M1582 285.6h0M1582.7 267.2h0M1583.5 226.3h0M1584.7 205.8h0M1585.2 268.7h0M1585.7 273.3h0M1585.8 209.6h0M1586.2 267.3h0M1586.3 349.3h0M1586.3 364.3h0M1587.6 217h0M1587.9 221h0M1587.9 192.7h0M1588.8 267.6h0M1588.9 280.9h0M1589.2 275.6h0M1589.2 270h0M1589.3 230.6h0M1590.4 220.4h0M1590.5 121.9h0M1590.8 283.7h0M1590.9 356.6h0M1592.1 232.7h0M1592.1 244.5h0M1592.2 256.5h0M1592.9 276.3h0M1593.2 219h0M1594 259.1h0M1594.3 191.9h0M1594.3 214.8h0M1594.4 185.5h0M1596.2 211.5h0M1596.8 198h0M1598.8 269.8h0M1599 261.5h0M1600.3 298.8h0M1601.8 275.2h0M1602.6 237.4h0M1603.8 205.2h0M1604.1 305.6h0M1604.2 260.9h0M1604.5 260.8h0M1605.6 263.1h0M1606.5 209.4h0M1608.1 210.2h0M1608.2 207.6h0M1608.3 259.5h0M1608.6 262.9h0M1608.8 253.8h0M1610.1 268.8h0M1610.4 251.2h0M1610.5 199.3h0M1610.7 265h0M1612 216h0M1612 204.1h0M1612.9 185.7h0M1614.2 208.6h0M1614.6 252.5h0M1614.7 272.9h0M1614.8 255.2h0M1615.1 261.5h0M1615.3 186.5h0M1615.5 253.6h0M1615.6 176.4h0M1615.7 240.1h0M1616.1 222.4h0M1616.3 187.5h0M1616.6 221.9h0M1616.9 258.8h0M1617 222.4h0M1617.1 206.3h0M1617.5 228.8h0M1618 248.2h0M1618.2 195.2h0M1618.8 210.3h0M1619.1 218.8h0M1619.2 262h0M1619.4 234.9h0M1619.5 214.8h0M1619.7 262.4h0M1620.4 206.2h0M1621.1 202.4h0M1621.3 260.6h0M1621.5 269.4h0M1621.5 204.9h0M1621.8 305.3h0M1622.2 147.4h0M1622.7 237h0M1622.8 294.1h0M1623 249.1h0M1623.4 215.4h0M1624.7 214.4h0M1624.8 169.1h0M1625.2 200.7h0M1625.6 188.8h0M1625.9 203.3h0M1626.8 185.8h0M1627.6 224.1h0M1628.4 299.7h0M1629.1 225.4h0M1630.3 307.2h0M1630.6 199.2h0M1631.8 262h0M1632.3 205.8h0M1632.6 229.2h0M1633.7 187.5h0M1633.7 230.9h0M1634.3 258.6h0M1635.6 194.1h0M1637.1 221.3h0M1638.1 213.9h0M1638.9 182.9h0M1639.5 261.7h0M1639.6 197.2h0M1639.7 259h0M1640.8 191.9h0M1641.1 147.4h0M1642 239.7h0M1643 249.1h0M1647.3 272.3h0M1647.4 179h0M1648.6 241.2h0M1650.9 310h0M1651 168.6h0M1653.4 171.8h0M1655.5 182.9h0M1656.2 181.2h0M1657.2 186.8h0M1657.6 266.3h0M1659.1 225.7h0M1660.9 244.6h0M1661.1 247.6h0M1661.4 175.6h0M1662.9 245.9h0M1664 238.8h0M1664.1 183.5h0M1664.6 167.4h0M1664.8 196.4h0M1667.3 239.5h0M1669.3 183.4h0M1669.5 159.5h0M1670.5 173.2h0M1672.8 180.1h0M1677.1 152.5h0M1678.1 143.7h0M1679.6 177.1h0M1679.9 235.5h0M1679.9 158.5h0M1680.5 237.9h0M1681.2 235.9h0M1681.4 204.3h0M1681.8 180.3h0M1682.2 228.1h0M1682.8 171.2h0M1683.2 222.6h0M1683.8 147.9h0M1684.1 239h0M1685.3 226.5h0M1685.6 140.7h0M1687.3 174.9h0M1688 277.6h0M1688.1 227.9h0M1688.7 221.8h0M1689.3 205.1h0M1690.2 146.4h0M1690.8 169.4h0M1692.2 160h0M1696 212.4h0M1697.8 144.8h0M1697.9 214.2h0M1698 218.5h0M1698.4 169.1h0M1699.3 139.4h0M1699.6 216h0M1700.3 213.7h0M1701.3 194.1h0M1701.5 210.7h0M1702.3 162.5h0M1702.5 181.3h0M1703.2 206.9h0M1704.1 159.3h0M1704.7 218.6h0M1705.6 126.3h0M1706.5 224.7h0M1706.5 208.1h0M1710 160.6h0M1711 193.5h0M1712.8 131.9h0M1712.9 162h0M1713.6 142.5h0M1713.6 202.2h0M1716.5 252.4h0M1716.9 229.9h0M1717.3 201.3h0M1717.4 157.2h0M1718.2 149.3h0M1719.5 180.6h0M1719.6 164.2h0M1719.6 174.2h0M1719.8 187.7h0M1720.4 187.4h0M1721.3 194.3h0M1722.1 176.3h0M1722.8 184.4h0M1724.9 228.4h0M1725.8 183.5h0M1725.8 183.4h0M1727.3 196.8h0M1728.8 162.5h0M1730.8 195.1h0M1732.4 303.4h0M1735.9 182.5h0M1736.2 133.8h0M1738.2 182.3h0M1739.5 183.3h0M1742 151.3h0M1744.9 134.9h0M1748.2 149h0M1749.3 133.8h0M1756.8 101.9h0M1756.8 139.4h0M1758.7 136.6h0M1759 149.6h0M1759.7 161.1h0M1763.8 127.2h0M1765.3 158.1h0M1773.9 152.7h0"/>
<text class="lab" x="1219" y="29.4">C</text>
<text class="ttl" x="1368" y="22.8">pH</text>
<text class="ttl" x="1313" y="67.1">y=0.987x+0.099</text>
<text class="ttl" x="1314" y="116.6">R^2=0.885</text>
<text class="tk" text-anchor="middle" transform="translate(1295.4 521) scale(.89 1)">7.5</text>
<text class="tk" text-anchor="middle" transform="translate(1438.2 521) scale(.89 1)">7.7</text>
<text class="tk" text-anchor="middle" transform="translate(1581 521) scale(.89 1)">7.9</text>
<text class="tk" text-anchor="middle" transform="translate(1723.8 521) scale(.89 1)">8.1</text>
<text class="tk" text-anchor="middle" transform="translate(1264.9 475.2) rotate(-90) scale(.93 1)">7.3</text>
<text class="tk" text-anchor="middle" transform="translate(1264.9 398.6) rotate(-90) scale(.93 1)">7.5</text>
<text class="tk" text-anchor="middle" transform="translate(1264.9 322) rotate(-90) scale(.93 1)">7.7</text>
<text class="tk" text-anchor="middle" transform="translate(1264.9 245.4) rotate(-90) scale(.93 1)">7.9</text>
<text class="tk" text-anchor="middle" transform="translate(1264.9 168.8) rotate(-90) scale(.93 1)">8.1</text>
<text class="tk" text-anchor="middle" transform="translate(1264.9 92.2) rotate(-90) scale(.93 1)">8.3</text></g>
<g><g stroke="#808080" stroke-width="3.6" fill="none">
<path d="M86.3 604.8V1037.8M77.1 1028.6H588.7M136.4 1028.6v6.8M186.5 1028.6v9.2M236.6 1028.6v6.8M286.7 1028.6v9.2M336.8 1028.6v6.8M386.9 1028.6v9.2M437 1028.6v6.8M487.1 1028.6v9.2M537.2 1028.6v6.8M587.3 1028.6v9.2M86.3 986.4h-6.8M86.3 944.1h-9.2M86.3 901.9h-6.8M86.3 859.7h-9.2M86.3 817.4h-6.8M86.3 775.2h-9.2M86.3 733h-6.8M86.3 690.8h-9.2M86.3 648.5h-6.8M86.3 606.3h-9.2"/></g>
<path d="M88 1026L551.3 637.6" stroke="#e31a1c" stroke-width="5.2" stroke-linecap="round" fill="none"/>
<polygon fill="#404040" points="168.1,976.3 177.5,970.6 192.5,965 203.8,951.9 215,944.4 226.3,933.1 237.5,925.6 248.8,920 256.3,912.5 267.5,905 276.9,895.6 286.3,884.4 297.5,875 308.8,863.8 320,856.3 331.3,845 342.5,833.8 353.8,822.5 365,813.1 376.3,801.9 387.5,792.5 398.8,783.1 410,775.6 410,740 387.5,740 380,751.3 372.5,762.5 361.3,770 350,779.4 342.5,792.5 331.3,803.8 321.9,811.3 310.6,815 301.3,824.4 288.1,830 278.8,839.4 267.5,846.9 260,858.1 248.8,863.8 241.3,871.3 230,878.8 222.5,888.1 211.3,899.4 201.9,908.8 192.5,912.5 185,908.8 173.8,906.9 162.5,905 155,908.8 153.1,916.3 158.8,927.5 162.5,935 156.9,944.4 155,951.9 153.1,961.3 151.3,970.6 155,978.1"/>
<polygon fill="#404040" points="267.5,903.1 278.8,901.3 290,901.3 303.1,905 301.3,908.8 290,909.7 278.8,910.6 267.5,910.6"/>
<polygon fill="#404040" points="280,826.1 291.3,820.5 302.5,814.9 313.8,809.3 325,801.8 336.3,792.4 345.6,783 355,771.8 364.4,764.3 373.8,756.8 385,749.3 392.5,741.8 403.8,734.3 415,728.6 426.3,723 435.6,715.5 445,709.9 454.4,702.4 463.8,694.9 475,689.3 484.4,681.8 493.8,678 503.1,672.4 508.8,663 516.3,657.4 521.9,659.3 523.8,661.9 520,669.4 512.5,675 505,680.6 495.6,686.3 488.1,693.8 480.6,701.3 473.1,708.8 467.5,716.3 463.8,725.6 456.3,735 446.9,744.4 439.4,751.9 430,759.4 422.5,766.9 411.3,776.3 400,785.6 388.8,793.1 377.5,798.8 368.1,806.3 360.6,817.5 351.3,825 341.9,834.4 330.6,843.8 319.4,853.1 308.1,862.5 298.8,871.9 289.4,877.5 280,885"/>
<path class="d" d="M92.9 982.8h0M96.5 988.1h0M96.9 983.6h0M98.1 1014.9h0M100.5 1019h0M100.6 952.7h0M100.6 920.6h0M101.3 962h0M103.1 982.5h0M103.4 979.3h0M103.8 974.4h0M104.4 1024.6h0M106.8 978.1h0M107.4 978.1h0M107.5 1007.7h0M108.7 958.4h0M109.5 1008.8h0M110.2 947.3h0M110.4 1017.1h0M110.8 1005.1h0M111 984.4h0M111.2 991.1h0M111.4 986.1h0M111.5 969.6h0M111.5 1002h0M112.5 945.6h0M113.3 962.4h0M113.4 1005.5h0M114 1010.8h0M114.9 973.9h0M115 1027h0M115.4 1002.8h0M115.7 984h0M116.2 941.1h0M116.4 975.6h0M116.8 998.7h0M116.9 961.9h0M117 959.7h0M117.6 986.5h0M117.9 957.3h0M118.4 1016.3h0M118.9 969.3h0M119.1 997.3h0M119.2 958.8h0M119.8 950.9h0M119.8 954.4h0M120 969.6h0M120.4 981h0M121.1 966.3h0M121.4 977.3h0M121.4 993.6h0M121.9 1024.2h0M122.7 957.1h0M122.9 967.7h0M123.6 1015.4h0M124.2 972h0M124.2 1018.1h0M124.5 1004.4h0M124.6 1021.5h0M125.3 1003.2h0M125.5 968h0M125.6 1013.5h0M125.8 939h0M125.9 1016.8h0M126 982.5h0M126.4 1005.9h0M127.7 1017.8h0M127.7 1002.5h0M127.8 934.6h0M127.8 919.4h0M128.6 982.2h0M129.3 941.9h0M129.6 970.5h0M129.7 993h0M130 990.7h0M130.4 975.7h0M130.5 974.1h0M130.5 984.4h0M130.7 983.6h0M130.8 1008.9h0M131.5 1015.8h0M131.5 1015.4h0M131.8 984.9h0M132.3 1012.3h0M132.4 1006.2h0M132.7 971.8h0M132.7 993.8h0M133 981.1h0M133.1 990.3h0M133.2 1027.2h0M133.7 962.5h0M133.8 962.8h0M134.2 936.9h0M134.5 993.8h0M134.7 994.1h0M134.8 1005.3h0M135.1 1004.6h0M135.5 1002.8h0M135.5 982h0M135.5 1011.6h0M135.6 978.3h0M135.7 1005h0M136 996.4h0M136 974.4h0M136.2 942.7h0M136.3 970.5h0M136.3 1000.8h0M136.4 978.7h0M136.5 997.4h0M136.5 981.4h0M136.6 976.1h0M137.2 1010.1h0M137.3 908.8h0M138 1001.8h0M139 972.6h0M139.1 1000h0M139.5 921.3h0M139.8 987.2h0M139.9 1021h0M140 950h0M140.3 912.2h0M140.3 1002.2h0M140.8 930.5h0M141 992.6h0M141 906.5h0M141.2 1012.1h0M141.3 970.6h0M141.7 909.4h0M141.7 980.8h0M142.2 993.2h0M142.2 1018.9h0M142.2 979.8h0M142.3 997.8h0M142.5 970.6h0M142.5 929.3h0M142.6 941.1h0M142.7 1010.8h0M142.8 981.7h0M142.9 941.5h0M143.3 992.3h0M143.3 1021.2h0M143.4 906.3h0M143.4 991.3h0M143.4 955.4h0M143.7 990h0M144 911.7h0M144.2 986.9h0M144.4 913.4h0M144.5 920.6h0M144.6 905.3h0M144.7 899.3h0M144.8 1007.5h0M145 968.3h0M145.1 920.6h0M145.3 911.1h0M145.5 951.5h0M145.6 970.7h0M145.6 958.9h0M146 910.4h0M146.2 977.4h0M146.3 905.2h0M146.4 914.9h0M146.6 923.8h0M146.8 929.3h0M146.9 988.9h0M146.9 997.2h0M147.8 913.4h0M148.2 1017.6h0M148.4 914.4h0M148.7 984.2h0M149.5 1015.3h0M149.6 919.5h0M149.8 959.9h0M149.8 974.7h0M150.3 975.4h0M150.6 1021.2h0M150.6 913.9h0M150.7 998.5h0M150.7 974h0M150.8 983h0M151.1 988.5h0M151.2 910.7h0M151.5 1010.2h0M151.8 918.5h0M151.9 917.7h0M152 917.6h0M152 1007h0M152.4 915.4h0M152.5 1012.4h0M152.5 900.5h0M152.6 940.7h0M152.9 914.1h0M152.9 951.7h0M153.5 942.3h0M153.6 902.3h0M154.1 921.7h0M154.1 916.4h0M154.7 983.1h0M154.7 940h0M154.8 958.9h0M155 950.2h0M155.8 1025.1h0M155.9 991.5h0M156.3 920.4h0M156.3 1013.1h0M156.3 1003.1h0M156.3 962h0M156.4 991.2h0M156.5 1016.9h0M156.6 1000.3h0M157 973.7h0M157 955.7h0M157.3 973.9h0M157.5 909.4h0M157.6 1003.3h0M158.1 988.8h0M158.6 984.6h0M159 928.8h0M159.7 977.8h0M159.9 889.9h0M160.4 1008.8h0M160.6 979.4h0M160.8 1002.6h0M161.2 1021.7h0M161.3 932.1h0M161.3 1019.6h0M161.4 1012.7h0M161.5 1007.3h0M161.9 891.9h0M161.9 998h0M162.2 993.7h0M162.7 1010.5h0M162.9 991.7h0M162.9 930.4h0M164 1017.8h0M164.1 929.6h0M164.1 1017.9h0M164.5 906.4h0M164.9 986.1h0M165.1 1006.8h0M165.1 994.5h0M165.5 937.1h0M165.8 1005.8h0M165.9 991.6h0M166 1006.3h0M166.2 1010.8h0M166.3 992.7h0M166.7 994.6h0M166.7 990.2h0M167.3 906.7h0M167.3 983.6h0M167.4 993.6h0M167.4 981.4h0M167.6 975.7h0M167.7 891.6h0M167.8 1010.6h0M167.8 971.9h0M167.9 1016.8h0M168.1 881.7h0M168.1 1017.3h0M168.1 1012.9h0M168.3 1026.8h0M169.4 1025.8h0M169.5 1021.8h0M170 972.5h0M172.9 986h0M173.4 972.8h0M174.3 985.7h0M175.3 890.5h0M176.3 892h0M178.2 988.2h0M180.6 967.8h0M184.7 965.2h0M185.1 913.7h0M186.3 1013.4h0M187.6 962.7h0M188.8 1007.2h0M189.9 973.7h0M191.6 836.9h0M194.7 906h0M198.6 974.1h0M200.7 966.3h0M201.5 840.9h0M203.1 884.4h0M203.4 810.9h0M205.4 897.8h0M208.9 947.8h0M211.5 893h0M217.3 889.1h0M217.7 950.8h0M221.9 935.3h0M224 890h0M226.8 931.3h0M227 938.5h0M228 937.7h0M228.5 884.6h0M230.5 958h0M230.7 925.7h0M240.8 868.2h0M241.3 775.6h0M242.8 862.5h0M249.4 857.9h0M249.7 932.2h0M252.1 913.5h0M255.9 914.2h0M257.6 911h0M258.1 990.3h0M258.4 861.2h0M260.6 907.5h0M261.4 916.5h0M261.6 852.2h0M265.3 913.8h0M266 906.1h0M268.1 841.3h0M268.3 843.9h0M269.4 942.1h0M270.1 902.9h0M272 847.7h0M273.3 900.8h0M273.3 907h0M275.3 838.5h0M275.5 902.4h0M277.6 869.9h0M277.7 879.2h0M277.7 907.5h0M278.4 820h0M279.5 913.9h0M279.7 893.6h0M280 897.9h0M281.5 854.7h0M282.2 877h0M282.5 935.9h0M282.9 855.4h0M283.4 775.6h0M283.4 795.3h0M283.8 840h0M283.8 870.9h0M283.9 867h0M285.4 799h0M286.6 908.6h0M289.4 782.8h0M292.2 800h0M292.3 814h0M294 876.7h0M295.7 911.3h0M296.6 916.6h0M296.9 773.4h0M296.9 908.8h0M297.4 872.3h0M298.1 821.6h0M302 868.3h0M302.7 827.5h0M302.8 815.8h0M303.6 875.1h0M303.8 803.3h0M306.1 821.6h0M306.4 863.5h0M306.5 860.8h0M308.1 863.2h0M309.7 864.9h0M309.8 890.1h0M309.8 855.9h0M310.1 865.2h0M310.4 872h0M310.5 866.9h0M311 817h0M311.3 866.5h0M311.6 911h0M312.3 877.1h0M313.4 936.9h0M319.7 890h0M319.8 873.9h0M320.2 852.4h0M321 879.5h0M321.5 808.2h0M321.7 810.5h0M322.3 855.7h0M322.4 854.6h0M322.8 796.9h0M324.4 800.4h0M325.1 845.8h0M325.5 850.9h0M326.9 810.8h0M327 846.3h0M328.2 774.7h0M328.2 852.6h0M328.3 869.9h0M329.1 750.9h0M329.2 845.4h0M329.3 790h0M329.4 751.3h0M329.5 843.5h0M329.6 848h0M330 763.8h0M330.4 805.9h0M330.6 755.6h0M330.9 807.9h0M333.1 761.6h0M334.4 880.3h0M335.3 848.9h0M335.7 798.3h0M336.3 794.4h0M336.8 840.8h0M338 892.5h0M338.2 865.6h0M339.4 800.1h0M339.4 801.3h0M340.2 794.1h0M341.3 831h0M341.8 878.6h0M342.8 882.2h0M343.4 902.2h0M344.8 782.9h0M347.8 823.7h0M348.3 828h0M349.6 778.9h0M350.4 787.4h0M350.5 784.1h0M350.7 770.7h0M350.8 780.7h0M351.5 822.2h0M351.8 834.4h0M352.3 761.3h0M352.4 771.1h0M353.8 831.6h0M354.1 817h0M354.4 830.8h0M355.1 817.8h0M355.8 752.2h0M356.9 776.4h0M356.9 749.6h0M357.6 821.9h0M358.8 764h0M359.8 826.1h0M359.9 765.7h0M360.7 811.5h0M361 767.1h0M361.4 840.2h0M361.7 810.3h0M362.5 742.5h0M362.5 819.6h0M363.2 771.7h0M364 822.9h0M364.4 750h0M365.8 767.4h0M367.1 765.9h0M368.6 805.1h0M369.4 808.6h0M369.9 738.3h0M370 805.4h0M371.1 760.2h0M373.3 750.5h0M374.2 765.9h0M374.9 802.3h0M375.7 744.4h0M375.8 798.4h0M376.6 808.1h0M377.8 760.5h0M378.3 795.4h0M381.4 751.6h0M383.7 792.9h0M383.8 824.4h0M384.8 745.9h0M385.4 736.3h0M386.2 743.9h0M388.1 800.9h0M388.6 729.6h0M392 739.9h0M393.1 804.6h0M393.8 784.3h0M395.2 745.7h0M396 793.9h0M397.6 736.1h0M397.8 807.8h0M397.9 724.1h0M399.8 805.2h0M400 784.5h0M400.6 730.6h0M402.4 739.1h0M405.6 741.5h0M406.1 774.2h0M406.6 772.2h0M406.6 722.7h0M406.8 756.1h0M408.1 711.9h0M409.1 732.3h0M409.4 759.8h0M410.1 765.7h0M411 725h0M412.2 776.5h0M412.7 770.7h0M413.5 819.4h0M414.4 774.2h0M417.7 766.6h0M418.2 771.7h0M419.3 699.7h0M420.5 766.1h0M424.4 762.5h0M425.7 776.5h0M427.1 780h0M429.6 711.3h0M433.2 692.9h0M433.8 759.1h0M441 711.3h0M444.7 746.5h0M445.2 770.8h0M446.6 703.6h0M447.4 738.8h0M448.8 658.7h0M449.3 786h0M450 696.9h0M450.7 705.3h0M450.9 736.8h0M452.2 740.5h0M454 700h0M456.3 765h0M457.5 705.2h0M458.9 728.7h0M458.9 731.7h0M460 698.1h0M460.3 732.3h0M460.4 746.2h0M464.3 698.7h0M466.4 684.9h0M476.7 700.5h0M477.6 718.2h0M478.1 720.2h0M478.4 727.1h0M478.8 689.7h0M479.1 697.5h0M490.1 688.6h0M493.6 686.9h0M500.2 674.8h0M502.8 738.2h0M510.3 666h0M513.1 700.9h0M514.4 720.6h0M521.4 658.2h0M550 787.1h0"/>
<path class="d" d="M99 987.5h0M100.1 1021.3h0M100.8 995.1h0M101.6 975.5h0M101.9 1016.4h0M103.1 969.4h0M103.8 1018.8h0M103.9 969.1h0M104.1 981.1h0M105.1 953.4h0M105.4 1021.7h0M105.5 957.9h0M105.6 1025.3h0M106.4 1018h0M107.2 981.7h0M107.2 995h0M107.6 967.7h0M107.7 964.6h0M108.1 1015h0M108.2 1011.9h0M109.5 958.5h0M109.5 979.8h0M110 960.3h0M111.9 956h0M113.2 1000.6h0M114.1 1019.7h0M114.4 1004.4h0M115.1 1006.3h0M115.3 1009.6h0M115.4 998.1h0M115.5 984.5h0M116.9 960.4h0M117.1 960.1h0M117.1 954.6h0M117.6 1004h0M117.8 1003.8h0M117.9 1006.7h0M118.2 962.9h0M118.4 993.7h0M119.1 1012.4h0M119.5 966.4h0M119.7 971.2h0M120.1 1024.4h0M120.5 940.2h0M120.5 1021.1h0M120.6 971.6h0M120.8 1008.1h0M121.2 991.8h0M121.3 1005.2h0M121.3 1006.3h0M121.8 997.6h0M121.8 967.8h0M122.2 990.3h0M122.2 968.6h0M122.3 960.6h0M124.2 999.2h0M124.2 1022.9h0M124.3 1014.7h0M124.9 1012.1h0M125.1 954h0M126.1 1014.8h0M126.2 980h0M126.6 936.7h0M127.3 961.5h0M127.6 1017.1h0M127.9 941.2h0M128.4 971.5h0M128.7 985h0M128.7 1019h0M128.8 873.1h0M129 937h0M129 1003.4h0M129.1 999.8h0M129.5 942.4h0M129.7 994.7h0M130.2 1023.1h0M130.2 993.4h0M130.4 1009.5h0M131.3 1002.7h0M131.4 969h0M131.5 1008.9h0M132.4 1018.2h0M132.6 982.4h0M132.9 992.5h0M133 997.6h0M133.2 986.7h0M133.3 999.6h0M133.8 1021h0M133.8 1024.6h0M134.3 948.7h0M134.3 938.6h0M134.4 991.7h0M134.4 997.6h0M134.4 1026.2h0M135.4 986.5h0M135.5 1022h0M135.7 1021.3h0M136 967.1h0M136.4 1000.6h0M136.6 993.3h0M136.8 970.1h0M137.1 977.4h0M138 968.5h0M138.1 1016.6h0M138.3 1019.1h0M138.4 1020.3h0M138.5 967.7h0M138.8 975.3h0M139.2 975.7h0M139.3 920h0M139.5 993.1h0M139.5 986.7h0M139.8 967.4h0M140.3 914.8h0M140.3 973.5h0M140.4 907.2h0M140.6 987.1h0M140.7 912.5h0M140.8 1015.5h0M140.9 992.6h0M141.3 954h0M141.4 967.5h0M141.5 908.2h0M141.9 937.9h0M142 915.2h0M143.2 992.4h0M143.3 933.1h0M143.4 1023.3h0M143.4 919.4h0M143.4 986.1h0M143.5 981.6h0M143.6 909.2h0M143.6 994.3h0M143.8 992.8h0M144.2 987.5h0M144.2 927.6h0M144.4 911h0M144.4 961.1h0M144.6 909.8h0M144.8 949.1h0M145 985.6h0M145.1 980.6h0M145.3 1018.8h0M145.5 979.6h0M145.9 1001.4h0M145.9 999.2h0M146.2 909.3h0M146.3 968.7h0M146.9 966.6h0M147.3 1012.8h0M147.5 940.7h0M147.6 1013.5h0M147.7 937.2h0M147.9 986.6h0M148 1012.5h0M148 1022.1h0M148.6 1003.7h0M148.8 1012.1h0M149.2 945h0M149.7 921.4h0M150 1014.8h0M150.3 956.2h0M150.8 907.9h0M151.3 944h0M151.8 936.9h0M151.8 929.2h0M151.9 981.3h0M152.1 973.1h0M152.1 1019.9h0M152.1 916h0M152.2 1001.5h0M152.4 995h0M152.7 937.7h0M153.3 937.2h0M153.7 933.4h0M153.9 944.2h0M154.1 873.5h0M154.1 1011.5h0M154.2 933.1h0M154.7 985.1h0M154.8 916h0M155.1 962.5h0M155.1 956.8h0M155.3 937.7h0M155.7 914.8h0M156.1 942.7h0M156.4 926.8h0M156.5 1017.5h0M156.5 975.9h0M157.4 923.6h0M157.8 935.5h0M158.1 989.9h0M158.3 1006.9h0M158.4 890.3h0M158.5 985.7h0M158.7 1024.3h0M159.2 1010.5h0M159.7 1023.3h0M159.8 993.9h0M160.2 922.3h0M160.5 1002.8h0M160.9 1005.6h0M161 993.7h0M161.4 1006.6h0M161.5 1017.2h0M161.6 889.3h0M162.5 875.4h0M162.7 998.3h0M162.7 994.7h0M163.1 990.2h0M163.2 1027h0M163.6 1001.2h0M163.8 976.1h0M163.8 976.6h0M164 1006.8h0M164.3 995.1h0M164.5 1023.4h0M164.6 1012h0M165.2 1024.3h0M165.3 1020.2h0M165.7 899.2h0M165.7 974.3h0M165.9 992.6h0M166.3 1013.4h0M166.6 1005.6h0M166.6 974.7h0M167 1025.2h0M167 1015.5h0M167.9 1014.1h0M168.3 905.5h0M168.4 993.7h0M168.8 980h0M169.1 1005.5h0M169.7 1004.1h0M170.4 903.4h0M171 983.9h0M171 991.2h0M171.3 984.4h0M171.6 980.8h0M172.6 970.1h0M173.4 983.3h0M174.3 911.7h0M174.6 986.7h0M175.6 971.3h0M176 994.1h0M181.4 970.6h0M184.4 905.3h0M187.9 973h0M188.1 901.9h0M188.7 907.7h0M190.8 965.9h0M191 968.6h0M191.6 997.8h0M194 910.4h0M195.3 957.3h0M195.4 907.4h0M197.4 957.7h0M198.2 961.6h0M202.5 911h0M204.3 969.8h0M205.2 946.4h0M205.5 975.2h0M206.2 905h0M207.7 955.5h0M208.1 968h0M212.4 894.4h0M215 942.6h0M215.8 949.7h0M219.8 895.5h0M219.9 893.7h0M220.4 879.2h0M220.7 891.6h0M221.1 962.6h0M221.4 879.8h0M221.7 937.4h0M222.3 952.6h0M223.4 947.5h0M227.7 933.3h0M228.1 929.2h0M228.2 872h0M230.4 939.4h0M232 881.9h0M233.6 865.7h0M233.7 878.8h0M233.8 789.3h0M234.1 865.9h0M237.5 930.8h0M238.4 951.3h0M239.4 950.9h0M242.3 919.9h0M243.5 932.4h0M243.9 944.9h0M245 779.4h0M246 931.1h0M248.8 869.1h0M251.5 938.6h0M252 862.8h0M252.5 821.6h0M253.6 858.3h0M256.3 787.4h0M256.6 1009.4h0M257.2 1004.8h0M257.8 995h0M260.4 842.6h0M261.5 790.3h0M262.4 853.5h0M262.4 850.8h0M262.4 797.2h0M264.7 967.3h0M265.6 936.9h0M266.2 845.7h0M268.4 952.8h0M269.2 907h0M269.9 912h0M270 919.5h0M270.6 848.8h0M270.9 919.2h0M275.1 826.8h0M275.4 903.7h0M275.9 866h0M276.6 896.2h0M277.3 843h0M279 904.4h0M279.2 893.9h0M279.3 917.7h0M279.3 890.8h0M279.9 897.1h0M280 831.6h0M280.1 844.7h0M280.5 895h0M280.8 846.4h0M281 836.6h0M281.4 874.1h0M281.7 824.7h0M281.8 904.8h0M282.2 877.1h0M282.2 828.6h0M282.5 840h0M282.7 878.3h0M282.9 834.9h0M282.9 863.9h0M284.3 907.3h0M284.9 884h0M285.3 771.9h0M285.4 827.5h0M285.6 772.5h0M285.9 824.6h0M287.1 902.6h0M287.2 780.3h0M287.6 808.6h0M288.2 878.7h0M288.9 898.2h0M288.9 907.5h0M289.5 832.5h0M290 784.1h0M290.7 901h0M290.9 887.3h0M291.5 874.8h0M291.9 788.8h0M292.2 787.5h0M292.4 917.2h0M292.4 906.8h0M293.3 805.1h0M294.3 883.5h0M294.8 820.2h0M296.8 906.9h0M298.6 869.3h0M299.8 888.9h0M300 868.8h0M302.1 905.4h0M302.5 872.8h0M302.6 867.9h0M303.9 892.5h0M304.3 804.8h0M304.7 786.3h0M307.5 794.1h0M308 878.4h0M308.1 886.9h0M308.5 860.5h0M309.8 877.7h0M309.9 861.7h0M310.5 807.2h0M310.9 880.6h0M311.8 811.4h0M312.5 859.3h0M313.4 816.4h0M313.5 764.7h0M313.6 860.5h0M313.6 892.8h0M314.1 793.5h0M314.4 796.6h0M315.4 810.5h0M316.1 804.8h0M316.3 857.8h0M318.3 890.6h0M318.6 884.8h0M318.8 793.8h0M319 852h0M319 867.3h0M319.1 800.5h0M319.2 874.6h0M320.7 813.9h0M320.9 858.7h0M321.4 785.2h0M321.6 758.4h0M322.3 848h0M323 847.9h0M324.3 801.9h0M324.9 778.3h0M325.9 884.1h0M326.7 778.2h0M328.3 790.8h0M328.6 860.3h0M328.8 844.7h0M329.2 763.6h0M330 782.1h0M330.4 800.1h0M330.4 841.3h0M330.6 802.9h0M331.9 763.5h0M332.2 837.7h0M332.8 840.6h0M333.4 760.7h0M333.6 804.7h0M334.1 864.3h0M335 841.4h0M335.2 799.2h0M335.3 785h0M335.5 874.4h0M336.2 835.5h0M336.3 770.3h0M336.3 892.9h0M337.5 842.9h0M338.6 772.1h0M341.4 788.8h0M342.1 786.8h0M342.5 882.9h0M342.7 835.9h0M342.8 770.3h0M343.4 749.6h0M343.4 862.1h0M344.5 830.3h0M344.6 783.2h0M344.6 773.7h0M345 828.6h0M345.1 828.6h0M346.5 832.2h0M347.1 853.4h0M348.7 837.5h0M349.4 762.5h0M352.2 749.1h0M352.4 819.4h0M354.5 837.2h0M354.5 756h0M354.7 775.8h0M354.8 778.8h0M355.2 754.6h0M355.3 777.7h0M355.6 749.4h0M356.9 703.1h0M357 774.1h0M358.6 865.2h0M359.1 816.2h0M359.8 816.7h0M360.3 862.3h0M360.6 862.1h0M360.9 774.3h0M361.1 818.2h0M361.3 842.2h0M363.8 804.8h0M363.9 753.8h0M365 815.4h0M366.6 763h0M368.8 756.1h0M371.7 766.8h0M372.4 751.9h0M373.4 759h0M375.9 806.7h0M377.5 798.2h0M378.4 798.4h0M380.2 796.8h0M382.4 753.2h0M383.6 747.3h0M383.8 789.8h0M385.6 879.4h0M386 798.9h0M386.1 744.8h0M388.3 803.3h0M388.6 744h0M388.9 741.4h0M389 731.7h0M390.5 811.9h0M391 794.7h0M391 797.9h0M392.5 739.1h0M393 786.9h0M393.2 731.8h0M397.8 788.1h0M398.2 807.9h0M398.9 737.2h0M399.9 777.2h0M400.2 784.5h0M401.7 804.2h0M402.3 784.6h0M402.3 790.9h0M403.7 787.5h0M403.8 792.2h0M404.1 778.2h0M406.1 747.5h0M406.2 775.7h0M406.7 745.6h0M406.8 728.3h0M407.3 717.6h0M407.6 739.9h0M408.1 721.9h0M413.3 776.2h0M414.1 772.2h0M415.3 769.3h0M416.6 709.6h0M417.5 792.9h0M422.6 727.4h0M423.1 791.2h0M427.4 761.2h0M429.9 793.5h0M430.9 754.5h0M432.4 766.1h0M436.4 768.7h0M439.6 795.9h0M439.9 777.6h0M441.3 781.8h0M442.9 790.8h0M445.3 795.3h0M446.2 776.1h0M447.4 691.3h0M449.2 703.2h0M454 735.5h0M454.2 757.9h0M455.1 737.6h0M455.9 697.9h0M459.2 742h0M462.8 725h0M463.4 741.4h0M465.5 695.3h0M465.6 732.6h0M466.1 689.2h0M468.9 712h0M472.3 690.5h0M476.2 705.7h0M477.3 704h0M478.2 684.4h0M478.4 684h0M482.5 703.5h0M482.5 723.8h0M484.7 697.1h0M487.2 692.4h0M492.8 674.2h0M492.8 745.3h0M496.2 670.3h0M497.7 669h0M498.1 689.9h0M499.5 657.7h0M499.5 678.3h0M501.5 672.5h0M502.8 807.8h0M504.5 682.2h0M505.1 677.2h0M506.3 672.2h0M507.4 670.4h0M507.4 652.3h0M508.2 652.1h0M508.3 661.6h0M508.6 668.1h0M511.1 675.3h0M511.2 658.3h0M511.5 660.4h0M518.3 652.7h0"/>
<path class="d" d="M93 1024h0M94 1024.4h0M95 1021.4h0M97.6 978h0M98.4 987.9h0M98.9 990.1h0M99.3 995.2h0M100.6 1025.1h0M101.8 953.1h0M102.1 953.5h0M102.3 958.6h0M102.5 993h0M102.7 954h0M104.6 974.9h0M106.8 975.1h0M108.1 982.6h0M109.9 951.9h0M110.2 965.5h0M110.4 954.2h0M110.9 909.7h0M112.7 981.7h0M112.7 977.7h0M114.2 971.5h0M115.2 953.3h0M115.5 1022.5h0M115.7 955.7h0M116.1 1022h0M116.4 1003.8h0M116.5 994.4h0M116.6 1000.3h0M117.3 945.7h0M117.4 1022.4h0M117.4 939.8h0M117.9 1020.7h0M118.6 1006.5h0M118.7 1018.4h0M118.8 1007h0M119.4 987.5h0M119.8 1021.3h0M120.2 1008.8h0M120.4 984.9h0M120.6 1000.3h0M121.3 1022.7h0M121.5 990.2h0M122.3 1013.4h0M123.2 956.1h0M123.5 950.7h0M123.6 983.1h0M123.7 1010.9h0M123.8 1025h0M124.2 963.3h0M125.2 1014h0M125.6 938h0M125.8 1016.7h0M126.6 1016.1h0M126.6 968.2h0M127 954.8h0M127.2 987.6h0M127.6 1006.8h0M127.7 969.5h0M128.1 954.7h0M128.7 1021.1h0M129.5 961.6h0M129.7 980.5h0M129.9 1017.2h0M130.3 1010.5h0M130.3 1020.5h0M130.4 947h0M131.6 872.2h0M131.6 1010.4h0M132.1 1003.7h0M132.7 1016.3h0M133 981.2h0M133 990.3h0M133.4 976.1h0M133.9 985.6h0M134.7 1011.1h0M135.5 1019.2h0M135.9 926.6h0M136.4 1021.6h0M136.6 1013.2h0M137.1 1015.8h0M137.2 982.3h0M137.2 965.3h0M137.3 1003.4h0M137.4 972.7h0M137.9 991.5h0M138.5 993.5h0M139 967.5h0M140 942.8h0M140.2 971.8h0M140.5 940.9h0M140.6 969h0M141 987h0M141.1 993.1h0M141.2 911.8h0M141.5 997.3h0M141.6 981.7h0M141.6 924.1h0M142.2 1004.6h0M142.5 911.1h0M142.6 935.1h0M142.7 979.8h0M142.8 910.6h0M142.9 985.5h0M143 950.6h0M143.3 941.9h0M143.5 909.3h0M143.6 922.3h0M144.5 993.9h0M144.6 998.6h0M145.3 914.6h0M145.5 1014.5h0M145.7 960.1h0M145.8 959.1h0M145.9 994.3h0M145.9 1022.5h0M146 990.5h0M146.2 1014.3h0M146.3 939.4h0M146.3 903h0M146.6 1000.9h0M146.8 912h0M146.8 941h0M146.8 945.1h0M147 1022h0M147.2 948.9h0M147.3 959.5h0M148.1 989.5h0M148.1 989.1h0M148.8 905.4h0M149.5 1005h0M149.6 1017.2h0M149.7 1009.3h0M149.9 915.4h0M149.9 995.3h0M150 916h0M150 991.3h0M150.3 958.5h0M150.7 1017.3h0M150.7 993.3h0M151.3 909.4h0M151.6 1015.2h0M151.8 958.6h0M152.5 967.3h0M152.6 1008.8h0M153.4 971.9h0M153.5 990.1h0M153.8 917.1h0M154 1002.8h0M154.3 903.5h0M154.3 913.4h0M154.8 991.1h0M155 985.9h0M155.3 985.2h0M155.4 998.2h0M155.6 914.5h0M156 983.9h0M156.4 1006.4h0M156.5 980.2h0M156.7 1008.9h0M156.8 891.3h0M156.8 991.4h0M157.1 982.2h0M157.1 1005.4h0M157.4 1016.4h0M158 912.4h0M158.2 1015.1h0M159.1 989.4h0M159.1 951.1h0M159.2 1025.6h0M159.3 894.1h0M159.4 946.2h0M159.6 1025.7h0M159.6 998.5h0M160 1011.7h0M160.1 928.4h0M160.7 977.1h0M160.9 985h0M161.2 891.4h0M161.5 940.7h0M162.2 1014.1h0M163.5 982.3h0M163.6 998.9h0M164 997.7h0M164.3 978.3h0M164.8 983.4h0M165 978.2h0M165.5 995.9h0M165.5 1004.4h0M165.7 980.8h0M166.1 1020.1h0M166.2 893.1h0M166.4 988.3h0M167 984.3h0M167.3 1008.2h0M168 983.4h0M168.3 984.6h0M168.8 984.4h0M169 986.6h0M169.4 980.8h0M169.5 1020.7h0M169.5 982.9h0M169.7 976h0M169.8 973h0M170 993.6h0M171.9 979.8h0M172.5 897.3h0M173.2 1020.4h0M173.6 881.8h0M173.9 966.7h0M174.2 998.3h0M176.4 882.6h0M177.2 965.3h0M180.8 970.7h0M184 906.7h0M188.1 915.5h0M188.6 885.1h0M191.9 785h0M192.7 958.8h0M193.1 800.9h0M193.5 913.1h0M197.6 965.6h0M197.7 888.5h0M197.8 964.8h0M198.5 827.6h0M201.2 960.1h0M201.6 953.8h0M204.7 949h0M206.7 907h0M207.4 904.9h0M207.7 902.8h0M208.9 901.6h0M210.7 904h0M212 951h0M213.1 901.8h0M214.5 883.1h0M216.4 899.7h0M219.6 962.4h0M220.2 885.7h0M225.7 933.7h0M226.3 831.9h0M226.4 957.6h0M228.1 827.2h0M228.3 888.5h0M230 877.7h0M235.1 927.1h0M236.3 877.5h0M237.1 925h0M238.3 877.3h0M239.5 877.3h0M240.8 921.3h0M241.5 931.5h0M242.3 873.9h0M243.9 936.7h0M244 863.2h0M245.4 840.9h0M246.3 870.8h0M246.9 917.4h0M247.9 918.3h0M248.2 866h0M248.2 1026.9h0M251.6 945.3h0M252.2 917.5h0M253.4 827.2h0M255.9 919.1h0M256.3 974h0M258.7 856.3h0M262.7 905.8h0M265.3 851.2h0M265.5 902.6h0M267.3 852.9h0M268.3 841.8h0M268.4 911.2h0M269.5 909.3h0M269.5 917h0M274 905.5h0M276.1 843.9h0M276.5 849h0M276.6 910.1h0M277.4 843.8h0M279 880.8h0M279.1 840.5h0M280.2 898.6h0M280.3 885.4h0M280.4 794.2h0M280.9 908.1h0M281.5 843.5h0M282.4 912.3h0M283.1 835.4h0M283.1 801.4h0M283.2 827.9h0M283.3 849.1h0M283.4 800h0M283.8 829.3h0M283.9 884.4h0M284 880.5h0M284 906.3h0M284.1 880h0M284.4 946.3h0M285.4 823.8h0M286.5 880.7h0M287.6 809.9h0M288.2 822h0M289.8 908.5h0M290 880.8h0M291.3 880h0M291.9 970.3h0M292.6 871.5h0M292.8 901.9h0M293.5 910h0M293.7 792.5h0M294.1 906.8h0M294.6 877.3h0M294.9 800.9h0M295.4 889.5h0M296.6 774.3h0M297.6 870.1h0M298.4 897.3h0M298.7 812.8h0M299 904h0M299.5 908.3h0M299.8 874.2h0M300.3 815h0M301.3 813h0M302.2 776.9h0M303.1 868.2h0M304.1 824.6h0M304.9 818.3h0M305 908.7h0M305.8 816.7h0M306.2 786.6h0M306.5 818.1h0M306.7 824h0M307.1 789h0M308.9 807.1h0M309.7 818.8h0M309.8 856.7h0M310.1 887.8h0M310.4 818.8h0M311 805h0M312 866.7h0M313.3 814h0M314.2 852.2h0M314.5 809h0M314.5 886.9h0M316.2 759.1h0M316.2 804h0M316.3 905h0M319.6 861.9h0M320.6 855.9h0M320.8 774.1h0M321.1 850h0M321.7 863h0M321.9 885.5h0M323.9 789.8h0M324.3 852.6h0M324.3 880.8h0M325.6 884h0M325.7 802.6h0M325.9 813.6h0M326 794.6h0M326.2 786.1h0M327.1 866.5h0M327.6 795.9h0M327.8 803.8h0M328.4 780.1h0M329.9 854.4h0M329.9 804h0M330.3 755.9h0M330.5 879.1h0M330.7 785h0M331 842.8h0M332.6 785.1h0M333.9 837.1h0M333.9 797.8h0M334.4 864.4h0M334.7 780.4h0M336.4 779h0M336.8 843.2h0M336.9 893.8h0M337.1 833.6h0M337.9 804.2h0M338.4 833.5h0M338.7 837.5h0M338.9 845.7h0M339.5 832.1h0M342.6 764h0M344.1 784.4h0M345.8 781.1h0M345.9 845.5h0M345.9 790.8h0M346.9 790.5h0M347.4 881.3h0M347.5 834h0M348.6 772.1h0M348.6 826.5h0M348.8 831h0M349.3 764.1h0M349.8 781.9h0M351.6 748.2h0M355.9 828.1h0M355.9 820.6h0M356 831.2h0M356.3 831.1h0M356.9 702.8h0M356.9 817.4h0M357.3 766.6h0M357.5 843.3h0M357.9 773.8h0M358.5 825h0M360.6 750.4h0M360.7 812.1h0M364.8 749.6h0M365.4 807.8h0M366.5 814.9h0M367.5 769.6h0M368.1 803.5h0M368.4 808.5h0M368.6 845.1h0M368.6 744.9h0M369.5 801.9h0M369.6 849.8h0M369.7 850.3h0M369.7 761.8h0M369.7 810.8h0M371.1 801.7h0M373 754.7h0M374 797.7h0M374.8 764.4h0M375.4 752.9h0M376.8 757.7h0M377.9 757.3h0M379.9 740.6h0M379.9 754.4h0M380.6 809.4h0M380.6 795.8h0M380.6 753.2h0M380.9 747.1h0M381.3 756.1h0M383.5 824.1h0M384.5 793.4h0M387.5 793.7h0M387.9 788.8h0M388.4 741.4h0M388.7 738.4h0M389.9 787.9h0M389.9 905h0M390.9 790.1h0M390.9 744.2h0M391.1 732.7h0M391.1 790.8h0M392.6 732.4h0M395.5 739.5h0M396.1 799.5h0M396.5 787.5h0M396.6 783.7h0M398.1 784.8h0M399.2 780.7h0M401.2 779.8h0M401.9 738.9h0M402.4 786.4h0M402.9 805.2h0M403.7 785.3h0M404.7 781h0M405 725.8h0M406.1 740.7h0M406.1 768.7h0M406.5 784.2h0M406.5 774.5h0M406.6 773.4h0M406.9 757.6h0M410.6 750.6h0M410.8 765.8h0M411.8 729.1h0M412.7 774h0M414.6 767.1h0M418.2 776h0M420.9 763.8h0M421.6 699.4h0M424.3 698.9h0M427.2 724.7h0M430.1 770.4h0M431.2 723.9h0M431.6 715.2h0M432.6 797.2h0M439.2 748.4h0M440.2 717h0M444.4 704.4h0M444.9 711.7h0M445 765.6h0M446.5 712.7h0M449.3 798.4h0M451.8 699.7h0M452.1 832.5h0M452.5 738.3h0M456 760.9h0M457.1 743.3h0M459.9 747.5h0M462.6 722.6h0M464.4 715.7h0M466.3 733h0M467 713.9h0M469.8 693h0M471.2 693.1h0M482.2 710.2h0M484.1 685.9h0M485.4 674.5h0M485.9 692.4h0M486.3 710.1h0M491 673h0M491.6 679.4h0M495.3 682.9h0M495.5 661.6h0M495.6 680.2h0M497.5 683.3h0M501.3 678h0M502 660.7h0M503.4 679.3h0M506.1 675.7h0M508.6 660.7h0M508.8 683.9h0M510.7 675.6h0M516.2 653.7h0M516.3 667.3h0M518.2 661.7h0M519 660.1h0M528.5 665.5h0M532.2 653.1h0"/>
<path class="d" d="M96 987.3h0M97.4 982.8h0M97.8 1016.7h0M100.2 1017.4h0M100.5 1025.4h0M100.7 993.1h0M100.9 948.3h0M101.6 970.7h0M102.6 969.1h0M103.4 959h0M104 955.4h0M104.7 1014.1h0M104.7 1022.3h0M104.8 1016.6h0M106 976.8h0M106.8 996.2h0M107.4 984.7h0M108.3 960.6h0M108.6 975.7h0M109.5 957.5h0M109.9 1019.7h0M110.9 980.7h0M111.9 869h0M113.7 949.8h0M114.3 1003.2h0M114.5 1011.9h0M114.9 999.1h0M114.9 968.7h0M115.1 1007.7h0M115.3 952.1h0M115.7 1002.8h0M115.9 1002h0M116.1 966h0M116.6 1002.7h0M117 956.8h0M117 1022.1h0M117 966h0M117.1 1018.8h0M118.1 969h0M118.3 1008.7h0M118.4 1011h0M118.5 966.9h0M118.5 1012.6h0M118.5 1027.2h0M119 983.4h0M119.1 1000.6h0M119.4 999.6h0M119.7 967.7h0M120 980.8h0M120.3 995.4h0M120.8 984.4h0M121 989.9h0M121 946.6h0M121.1 994.3h0M121.6 962h0M121.8 979.7h0M123.2 977h0M123.6 972h0M123.6 1001.7h0M123.9 971.7h0M124.6 979.4h0M124.6 943.5h0M124.7 984.4h0M125 931.7h0M125.1 962h0M125.7 977.6h0M125.8 1004.9h0M126.2 1000.4h0M127.7 980.4h0M127.7 1005.1h0M127.9 955h0M128.1 946.6h0M128.4 939.4h0M128.9 992.3h0M129.6 969.4h0M129.9 942.9h0M130.3 985.3h0M130.7 946.3h0M130.7 977.3h0M131.3 995.1h0M131.5 971.6h0M131.6 1018.2h0M131.7 995.6h0M131.7 988.9h0M132.5 999.5h0M132.7 994.5h0M133.3 991.4h0M134 971.4h0M134.1 992h0M134.3 1000.4h0M134.5 963.6h0M134.7 986h0M134.8 971.1h0M135 997.6h0M135 991.9h0M135.1 1025h0M135.3 970.5h0M135.5 1020.8h0M135.5 972.5h0M136.2 986.9h0M136.4 975h0M137 918.5h0M137.1 970.8h0M137.1 972.5h0M137.2 982h0M137.2 985.7h0M137.4 1003.8h0M137.9 910.7h0M138.2 992.8h0M138.3 986.9h0M138.3 1011.6h0M138.4 971.5h0M138.9 1016.5h0M139.6 977.7h0M140.2 1025h0M140.2 1015.5h0M140.3 999.4h0M140.4 969.6h0M140.4 1015.5h0M140.6 982.9h0M140.6 973.6h0M140.7 1020.4h0M140.8 949.7h0M140.8 969.4h0M141.4 986.1h0M141.4 927.4h0M141.5 988.6h0M141.5 1007.4h0M141.6 940.8h0M141.9 897.5h0M142.6 905.4h0M143 975.1h0M143.1 940h0M143.1 911h0M143.5 919.2h0M143.6 956.8h0M143.8 957.7h0M144.1 992.3h0M144.1 917.8h0M144.5 1017.7h0M144.9 995.3h0M145.3 951.2h0M145.6 908.1h0M145.8 1000.8h0M146 946.7h0M146 988.8h0M146.5 988.7h0M146.8 985.4h0M146.8 948.8h0M147 983.6h0M147.1 959.4h0M147.8 935.4h0M148.1 1015h0M148.2 995.9h0M148.3 941.1h0M148.5 935.6h0M148.6 962.3h0M148.8 1017.3h0M148.8 955.5h0M148.8 965.4h0M149.1 939.7h0M149.6 992.1h0M149.7 983.7h0M150.2 986.3h0M150.6 909.9h0M150.8 915.8h0M150.9 985.2h0M151.1 1014.5h0M151.2 928.4h0M151.4 998.1h0M151.6 969h0M151.7 912.2h0M151.7 940.7h0M151.9 982.6h0M151.9 1009.3h0M151.9 1018.3h0M152.6 934.7h0M152.8 960.6h0M152.8 938.3h0M153.2 969.9h0M153.2 958.1h0M153.3 1012.4h0M153.4 984h0M153.8 1003.2h0M153.8 922.1h0M154.3 919.4h0M154.3 916.2h0M154.4 923.6h0M154.4 984.9h0M154.5 991.3h0M154.6 941.1h0M154.6 954h0M154.7 1005.8h0M154.9 954.7h0M155.2 982.3h0M155.9 992.4h0M156.2 904.5h0M156.6 919.7h0M156.6 1021.1h0M156.7 997.1h0M156.7 922.8h0M158 930.6h0M158.1 944.4h0M158.2 1010.3h0M158.2 891h0M158.4 983.8h0M158.6 1005h0M158.8 879.7h0M158.8 1018.6h0M158.9 1009.4h0M159.1 1003.6h0M159.4 986.7h0M159.7 911.8h0M160 991.2h0M160.4 1017.9h0M160.5 1023.9h0M160.7 906h0M160.8 1021h0M161.2 909.7h0M161.9 940.3h0M162.2 1023.8h0M162.8 931.2h0M162.8 985.8h0M163 1017.1h0M163.6 984.2h0M163.8 1002.3h0M164 978.7h0M164.2 1015h0M164.3 1007.2h0M164.6 984.7h0M164.8 900.4h0M165.1 997.9h0M165.2 1012.7h0M165.2 1011.2h0M165.3 1019h0M165.3 997.9h0M165.7 1016.9h0M165.8 988h0M165.9 976.3h0M166 1019.4h0M166 1018.2h0M167.3 1004.6h0M167.7 1026.4h0M168 982.1h0M168.4 902.8h0M168.5 1014.1h0M169 996.8h0M169.6 978.7h0M169.9 988h0M170.3 988.7h0M170.8 976h0M170.8 975.1h0M172 907.9h0M173.8 988.6h0M174.9 983.4h0M175.8 976.3h0M177 981.7h0M177.3 994.6h0M179.6 909.9h0M179.6 911.7h0M179.6 972.8h0M182.2 879.6h0M183.1 912.8h0M183.1 980.9h0M183.9 913.3h0M183.9 901.4h0M186.2 964.2h0M187.4 898.5h0M190.2 885.6h0M191.2 960.7h0M195.3 774.3h0M198.4 911.7h0M199.8 953.2h0M199.9 960.6h0M200.4 972.2h0M203.4 901.6h0M203.5 971.1h0M204.6 908.8h0M205.3 890h0M205.7 969.9h0M207 955.9h0M209.7 970.4h0M210.3 893.1h0M210.8 902h0M211.3 960.1h0M213.1 946.8h0M213.4 950h0M213.5 845.4h0M213.6 945.6h0M214.8 892.2h0M217.7 885.1h0M218 940.5h0M218.3 938.9h0M219.3 954h0M220.2 878.6h0M223.4 987.9h0M223.7 962.9h0M224.2 931.4h0M225.6 889.6h0M228.5 880.1h0M230 982.8h0M233.5 869.7h0M235.7 927.9h0M236.5 870.7h0M237.5 783.1h0M238.6 923.4h0M241.3 821.9h0M241.9 871.7h0M243.1 938.6h0M244.4 926.5h0M247.5 858.1h0M248.3 916.7h0M249.7 780.3h0M249.9 863.5h0M252.3 912.6h0M252.5 833.8h0M253.3 916.1h0M257.2 999.7h0M257.8 908h0M257.9 862.9h0M258 857.3h0M259.7 925.2h0M260 858.1h0M260.2 920.8h0M261.2 854.4h0M265.5 854h0M267.1 904h0M268.9 909.6h0M269.6 851.9h0M270.4 918h0M271.9 899.6h0M271.9 905.9h0M272.5 907.8h0M272.7 907.3h0M273.5 895.9h0M274.1 953.4h0M274.2 844.9h0M275.8 891.3h0M276.3 896.5h0M276.4 901.5h0M277.2 846.5h0M278 841h0M279.7 874.4h0M280.4 801h0M280.5 901.7h0M280.9 836.7h0M280.9 851.4h0M280.9 831.8h0M282.5 863.8h0M282.7 811.8h0M283.3 830.1h0M283.3 858.2h0M283.7 833.8h0M284 961.3h0M284.9 828.5h0M285.6 780h0M286.5 837h0M289.1 906.2h0M289.2 904.8h0M290.1 876.1h0M290.8 814h0M290.9 829.8h0M291 818.2h0M291.2 822.1h0M292.7 830h0M293.5 900.1h0M294 800.9h0M294.8 869.2h0M294.9 906.1h0M295.2 827.6h0M295.4 808.8h0M296 875.1h0M296.7 802.7h0M297.1 884.9h0M297.7 821.2h0M298.9 908.4h0M299.8 820.9h0M299.8 880.3h0M299.9 827.4h0M300.4 904.9h0M301.6 871h0M301.6 898h0M302.5 776.8h0M303.8 806.9h0M304 862.8h0M307.8 886.8h0M308 864.7h0M309.3 813.4h0M310.3 887.2h0M310.3 814.4h0M311.3 887.4h0M315.3 884.2h0M315.3 888.3h0M315.7 807.6h0M316.2 891.6h0M316.3 891.5h0M316.5 855.6h0M317 854.6h0M317.7 860h0M318.5 814.2h0M320.2 773.2h0M321.8 803.8h0M321.9 758.8h0M323.7 848.1h0M324.9 766.6h0M327.7 799.8h0M327.8 782h0M328 853.9h0M330.1 797.2h0M330.4 854.3h0M332.6 755.4h0M332.7 798.5h0M334.1 879.7h0M335.4 865.8h0M335.7 789.6h0M336.3 862h0M336.9 770h0M337 844.4h0M337.1 783h0M337.6 769.5h0M338.6 788h0M338.8 783.9h0M339 831h0M340 837.6h0M340.5 796.3h0M341.8 770.8h0M342.1 795.1h0M342.1 905h0M342.4 837.2h0M342.9 831.9h0M343.4 787.2h0M343.4 749.4h0M345.1 851.4h0M345.3 856.2h0M345.8 828.4h0M347.2 913.4h0M348.6 833.9h0M348.7 874.7h0M348.7 822.9h0M350.7 865.9h0M350.7 783.7h0M350.7 767.4h0M351.6 768.7h0M352.1 765h0M352.3 823.7h0M352.9 861h0M353.3 779.3h0M355.9 750h0M356.7 826.6h0M358.2 824.9h0M358.3 823.3h0M360.1 759.4h0M360.5 770.7h0M360.5 768.6h0M361 821.4h0M361.5 766.5h0M361.8 814.3h0M362.3 765.9h0M362.7 823.9h0M364.1 836.9h0M364.4 823h0M364.7 836.1h0M365.2 746.6h0M365.7 821.7h0M365.9 811.3h0M366.2 809.8h0M366.3 741.8h0M366.3 847h0M368.9 765.7h0M369 757.2h0M369.8 749.8h0M372.1 809.4h0M372.8 754.6h0M374.3 804.5h0M374.6 812.1h0M374.9 814h0M377.2 757.7h0M378.6 805.2h0M378.8 797.7h0M379.1 752.2h0M379.3 753.1h0M379.7 750.6h0M381.3 816.6h0M381.9 815.9h0M385.5 741.5h0M385.6 879.3h0M385.8 737h0M385.8 807.9h0M387.4 752.3h0M387.5 789.7h0M387.6 749.4h0M389.3 741.6h0M389.7 811.1h0M390 748.7h0M390.1 805.9h0M390.6 706.9h0M391.3 787.5h0M391.3 742.7h0M393.2 740.6h0M393.6 741.1h0M395.8 741.5h0M397 807.1h0M397.5 795.5h0M399.4 801.4h0M399.8 739.9h0M399.9 782h0M401 782.6h0M401.5 742.4h0M403 738.2h0M404 726.4h0M404.8 789.3h0M405.6 776.1h0M405.9 734.9h0M406.1 751.3h0M406.6 704.1h0M406.6 803.4h0M406.6 803.8h0M408 763.8h0M411.4 781.1h0M411.6 733.1h0M415.6 728.8h0M417.6 770.9h0M420.9 729.6h0M424.5 721.4h0M426.2 758.4h0M427.5 695.6h0M428 757.3h0M430.4 762.6h0M431.7 722.1h0M432.4 837.8h0M433.4 718.2h0M434.8 755.2h0M435.3 716.4h0M436.6 810h0M438 752.2h0M438.5 717.6h0M440.9 707h0M441.1 713.2h0M441.5 748.4h0M442.2 711.2h0M443.2 902.8h0M445.2 749.2h0M445.7 740.9h0M446.2 745.2h0M446.5 791.6h0M447 742h0M450 709.9h0M451.4 702.4h0M452.7 703.4h0M453.5 731.7h0M453.9 771h0M458 699.7h0M463 720.7h0M463.8 730.6h0M467.1 726.9h0M469.9 708.1h0M471.2 705.4h0M473.1 720.5h0M475.1 709h0M479.3 690.1h0M479.7 750.9h0M480.6 698.1h0M480.8 704h0M481.4 687.9h0M482.7 702h0M487 686.1h0M488.2 689h0M489.9 681.8h0M496.8 663.1h0M497.5 656.3h0M499.4 838.7h0M501.3 666.6h0M502.6 664.1h0M505 684.2h0M511.8 665.7h0M512.8 673.5h0M514.9 669.1h0M515.2 661.1h0M518.7 665.7h0M519.1 660.7h0M520.4 666.8h0M521.1 672.8h0M526 643.1h0M536.9 660.4h0"/>
<text class="lab" x="0" y="580.5">D</text>
<text class="ttl" x="160.3" y="575.2">Nitrate</text>
<text class="ttl" x="102.2" y="618.2">y=0.997x+0.096</text>
<text class="ttl" x="103.2" y="670.3">R^2=0.975</text>
<text class="tk" text-anchor="middle" transform="translate(86.3 1074.4) scale(.89 1)">0</text>
<text class="tk" text-anchor="middle" transform="translate(186.5 1074.4) scale(.89 1)">10</text>
<text class="tk" text-anchor="middle" transform="translate(286.7 1074.4) scale(.89 1)">20</text>
<text class="tk" text-anchor="middle" transform="translate(386.9 1074.4) scale(.89 1)">30</text>
<text class="tk" text-anchor="middle" transform="translate(487.1 1074.4) scale(.89 1)">40</text>
<text class="tk" text-anchor="middle" transform="translate(587.3 1074.4) scale(.89 1)">50</text>
<text class="tk" text-anchor="middle" transform="translate(55.8 1028.6) rotate(-90) scale(.93 1)">0</text>
<text class="tk" text-anchor="middle" transform="translate(55.8 944.1) rotate(-90) scale(.93 1)">10</text>
<text class="tk" text-anchor="middle" transform="translate(55.8 859.7) rotate(-90) scale(.93 1)">20</text>
<text class="tk" text-anchor="middle" transform="translate(55.8 775.2) rotate(-90) scale(.93 1)">30</text>
<text class="tk" text-anchor="middle" transform="translate(55.8 690.8) rotate(-90) scale(.93 1)">40</text>
<text class="tk" text-anchor="middle" transform="translate(55.8 606.3) rotate(-90) scale(.93 1)">50</text></g>
<g><g stroke="#808080" stroke-width="3.6" fill="none">
<path d="M690.9 605.4V1037.8M681.7 1028.6H1194.4M743.2 1028.6v6.8M795.5 1028.6v9.2M847.8 1028.6v6.8M900.1 1028.6v9.2M952.4 1028.6v6.8M1004.7 1028.6v9.2M1057 1028.6v6.8M1109.3 1028.6v9.2M1161.6 1028.6v6.8M690.9 986.4h-6.8M690.9 944.3h-9.2M690.9 902.1h-6.8M690.9 859.9h-9.2M690.9 817.7h-6.8M690.9 775.6h-9.2M690.9 733.4h-6.8M690.9 691.2h-9.2M690.9 649.1h-6.8M690.9 606.9h-9.2"/></g>
<path d="M692 1027L1175.3 639.7" stroke="#e31a1c" stroke-width="5.2" stroke-linecap="round" fill="none"/>
<polygon fill="#404040" points="690.6,1030.6 700,1029.7 709.4,1023.1 722.5,1017.5 733.8,1021.3 745,1019.4 750.6,1010 760,996.9 763.8,983.8 773.1,976.3 784.4,966.9 797.5,959.4 812.5,948.1 827.5,936.9 835,925.6 846.3,916.3 861.3,908.8 872.5,901.3 883.8,893.8 895,886.3 906.3,878.8 917.5,875 928.8,869.4 938.1,860 947.5,848.8 955,837.5 966.3,828.1 977.5,815 988.8,803.8 1000,794.4 1015,779.4 1015,751.3 1003.8,758.8 992.5,768.1 981.3,775.6 970,783.1 958.8,788.8 947.5,794.4 936.3,800 925,809.4 913.8,818.8 902.5,830 891.3,837.5 881.9,846.9 872.5,856.3 861.3,863.8 850,875 838.8,886.3 827.5,895.6 816.3,905 805,914.4 793.8,923.8 782.5,931.3 771.3,940.6 760,950 748.8,957.5 737.5,968.8 726.3,976.3 715,985.6 703.8,993.1 694.4,1002.5 688.8,1013.8 688.8,1025"/>
<polygon fill="#404040" points="936.3,861.9 947.5,860 950.3,882.5 949.4,897.5 941.9,903.1 932.5,899.4 930.6,886.3 934.4,871.3"/>
<polygon fill="#404040" points="898.8,895.6 904.4,890 915.6,891.9 919.4,897.5 910,903.1 900.6,903.1"/>
<polygon fill="#404040" points="880,844.9 887.5,835.5 898.8,828 910,814.9 921.3,805.5 932.5,798 943.8,792.4 955,788.6 966.3,783 977.5,775.5 986.9,769.9 996.3,764.3 1007.5,758.6 1016.9,753 1026.3,745.5 1033.8,738 1041.3,730.5 1048.8,728.6 1058.1,725.8 1064.7,726.8 1067.5,729.4 1061.9,736.9 1058.1,744.4 1048.8,750 1041.3,759.4 1030,768.8 1020.6,776.3 1011.3,785.6 1001.9,793.1 992.5,800.6 985,808.1 977.5,819.4 968.1,830.6 958.8,840 951.3,851.3 943.8,862.5 936.3,871.9 928.8,881.3 917.5,892.5 902.5,900 880,900"/>
<polygon fill="#404040" points="934.4,875.6 947.5,871.9 951.3,885 949.4,900 932.5,900 934.4,888.8"/>
<path class="d" d="M697.5 1005.8h0M698.4 1001.8h0M706.3 982.2h0M719.1 983.7h0M719.4 1014.9h0M719.9 955.3h0M723.1 966.9h0M726.8 976.2h0M728.1 970.1h0M728.4 1018.8h0M729 1021h0M730.9 952.1h0M733.4 973.8h0M735.1 1020.8h0M735.3 926.6h0M736.2 1022.5h0M737.5 971h0M738.2 957.9h0M740.2 934.6h0M740.8 966h0M741 953.2h0M742.8 955.8h0M745.2 944.2h0M745.3 944.4h0M746.2 1008.4h0M747.8 944.7h0M748.3 933.9h0M748.7 946.8h0M750.2 950.1h0M751.8 1005.1h0M753.4 950.7h0M753.4 856.6h0M754 999.1h0M755.9 955.9h0M757.8 919.4h0M757.8 953.6h0M758.3 994.5h0M758.6 989.4h0M759.2 936.3h0M759.9 1007.6h0M760.5 931.9h0M762.5 1001.5h0M763.5 950.8h0M764.2 950.8h0M764.8 986.1h0M766.4 993.2h0M767.3 938.9h0M767.4 947.2h0M770.4 976h0M770.6 943.6h0M771.5 985.2h0M771.5 1006.6h0M771.6 1006h0M773.9 978.1h0M773.9 972.7h0M777.4 938.5h0M777.8 910.6h0M778.9 1006.2h0M779.3 1005.3h0M780.1 910.7h0M780.3 977h0M780.5 969.2h0M781.6 969.7h0M784.1 1005.7h0M784.7 922.5h0M788.5 925.3h0M788.7 974.9h0M792.3 1005.8h0M793.1 961.6h0M793.8 906.9h0M795.2 923.7h0M796.6 986.6h0M796.7 958.5h0M799.2 915.6h0M804.4 960.1h0M805.4 948.9h0M807 975.3h0M807.6 951.1h0M807.8 1005.4h0M808.8 1006h0M810.3 914.4h0M811.6 1005.2h0M813.3 885.8h0M815.6 956.2h0M817.1 939.5h0M817.6 944h0M819.1 856.3h0M821 941.3h0M823.4 939.9h0M823.7 941.8h0M826.9 897.6h0M828.8 766.1h0M829.6 897.7h0M829.7 930.8h0M830 885.5h0M830.2 939.4h0M830.3 881.9h0M830.6 895h0M834.6 887.8h0M835 880.6h0M836.5 956.6h0M838.4 920.1h0M839.3 873.6h0M841.6 947.2h0M841.7 914.3h0M841.8 945.6h0M841.8 917.9h0M844.4 942.5h0M844.6 879.1h0M851.6 875.1h0M858 931.5h0M859.2 910.8h0M860.8 917h0M861 915.2h0M864.8 906.9h0M865.4 903.5h0M866.4 916.6h0M867.5 863.1h0M868.5 903h0M868.7 913.1h0M869.5 905.6h0M870.1 926.7h0M870.3 827.2h0M873.7 853h0M874.1 898.4h0M875.2 845.9h0M875.9 953.8h0M876.2 904.2h0M877.2 844.8h0M878 857.2h0M879.1 865.4h0M879.2 837.9h0M879.3 873.6h0M879.3 863.1h0M881.2 882.9h0M881.6 897h0M881.7 878.3h0M882 867.9h0M882.2 885.2h0M882.6 850.2h0M884.1 894.2h0M884.2 854.1h0M884.9 892.7h0M885.6 898.5h0M885.8 838h0M886 900.2h0M887 834.1h0M888 914.2h0M889.4 911h0M890.2 899.4h0M890.2 823h0M891.4 899.9h0M891.8 820h0M892.3 836.4h0M892.5 835.7h0M894.3 833.7h0M896.3 897.4h0M897.7 885.3h0M902 901.2h0M902.1 877.7h0M902.3 902.8h0M903.4 886.5h0M904.3 828.7h0M904.7 821.1h0M905.2 818.5h0M905.6 888.9h0M907.2 810.8h0M907.5 885.7h0M907.7 820.1h0M910.4 881.1h0M911.2 809.8h0M912.5 815.4h0M913.8 906.3h0M914 799.6h0M915.4 894.4h0M915.7 885.5h0M915.8 896.9h0M916.1 908.5h0M916.3 812.8h0M918.4 881.9h0M920.3 813.1h0M922.3 887.5h0M922.6 891.3h0M923.1 804.1h0M923.9 887.4h0M924.2 815.5h0M926.1 887.8h0M926.1 905.8h0M927.7 881h0M927.9 866.2h0M929.3 800h0M929.5 866.8h0M930.3 774.3h0M930.5 879.3h0M930.9 794.2h0M931.1 878.5h0M931.9 890.3h0M932.7 884h0M933.2 805.5h0M933.5 866.5h0M933.5 800.3h0M934.1 890.4h0M934.4 882.4h0M934.6 798.3h0M934.7 898.5h0M934.8 876.2h0M935.1 889.7h0M935.5 872.9h0M936.3 906.2h0M936.3 871.8h0M937 872.3h0M937.5 874.3h0M937.8 878.9h0M938 860.2h0M938.4 788.5h0M938.4 868.2h0M938.7 868.1h0M938.8 868.3h0M939.2 869h0M940 786.5h0M940.4 901.1h0M940.4 798.2h0M940.7 903.5h0M941.1 899.7h0M941.1 876.1h0M941.8 868.8h0M942.7 863.6h0M943.7 873.3h0M944 898.7h0M944.5 794.1h0M944.5 791h0M944.5 879.9h0M945.6 862.5h0M946 786.2h0M946.2 860.8h0M946.4 881.3h0M946.5 866.8h0M946.5 859h0M946.8 877.2h0M946.8 856.5h0M947 859.6h0M947.5 884.7h0M947.5 790.8h0M947.9 892.1h0M950.3 770h0M950.6 888h0M950.8 885.7h0M950.9 770.1h0M951.8 864.9h0M951.8 869h0M952.2 838.5h0M952.3 881h0M952.6 841.4h0M952.8 789.1h0M953.4 788.1h0M953.7 880.1h0M953.9 881.8h0M954 894.4h0M954.2 792.1h0M954.6 775.3h0M956.1 853.6h0M957.2 842.6h0M957.4 866.8h0M957.6 833.6h0M958.3 836.8h0M958.4 838.3h0M959.1 852.2h0M962.3 860.3h0M962.5 860.6h0M962.9 827.5h0M964.2 833.6h0M965.2 849.6h0M965.6 864.3h0M965.6 825.3h0M966.2 783.8h0M969 825.8h0M969.3 827.7h0M971.4 775.4h0M971.5 866.8h0M971.9 783.8h0M972.5 834.9h0M973.6 780.7h0M975.3 838.2h0M976.5 826.9h0M977.1 776.9h0M977.8 776.3h0M977.8 810h0M979.3 825.8h0M980.3 830.6h0M980.4 780.4h0M982 772.2h0M983.7 810.6h0M984.6 808h0M985.3 769.3h0M985.3 773.4h0M987.8 762.8h0M988.3 801.9h0M990.9 798.2h0M991.1 800h0M994 811.5h0M994.5 810.4h0M994.9 793.8h0M995.2 798.9h0M996.4 767.6h0M1000.6 791.7h0M1001.8 796.4h0M1002.7 763.8h0M1004.5 785.6h0M1005.3 758.4h0M1005.4 787.1h0M1005.4 762.4h0M1005.9 763.5h0M1009.4 781h0M1009.8 787.4h0M1010.9 785.2h0M1012.3 788.5h0M1013.1 768.1h0M1013.3 755.6h0M1013.9 757.1h0M1014.1 747.2h0M1014.3 751.3h0M1014.5 785.3h0M1015.2 752.8h0M1015.5 757.6h0M1015.8 782.8h0M1016 747.7h0M1016.7 791.4h0M1017.4 753.3h0M1022.4 751.6h0M1025 735.8h0M1028.7 740.2h0M1030.5 729.4h0M1032.9 722.7h0M1033.6 739.7h0M1033.8 734.1h0M1035.7 738.5h0M1039.5 758.5h0M1043 731.8h0M1044.9 752.1h0M1045.2 747.4h0M1045.8 729.8h0M1049 748.2h0M1050.3 745.2h0M1050.8 731.8h0M1054.3 742.5h0M1056.3 653.8h0M1059.3 752.2h0M1059.4 727.7h0M1060.9 738.3h0M1062 730.6h0M1063.2 734.6h0M1064.7 723.8h0M1065.6 727.3h0M1066.1 740.2h0M1068.4 727.5h0M1069 706.9h0M1069.4 738.8h0M1074.4 695.1h0M1076.9 710.6h0M1081.6 701.8h0M1091.9 707.4h0M1108.4 662.4h0M1118.1 652.5h0M1125.3 643.5h0M1130.3 620.6h0M1131.3 649.7h0M1147.8 634.7h0M1152.4 726.2h0"/>
<path class="d" d="M693.8 1002.9h0M694 983.8h0M694.2 1027.2h0M696.1 1001.7h0M697.3 994.3h0M700 1025h0M703.5 998h0M709.5 1020.6h0M709.6 1026.2h0M710.7 993.8h0M712.6 1017.6h0M714.8 989.7h0M722.8 1022.4h0M723.4 979.4h0M727.4 950.5h0M728.5 979.7h0M728.5 1016.7h0M730.4 969.1h0M731.5 977.5h0M735.3 971.3h0M735.9 968.2h0M736 963.4h0M737.6 967.6h0M737.6 929.4h0M740.9 957.2h0M741.8 963h0M742 961.1h0M743 961.8h0M743.1 1017.3h0M745 1012.5h0M745.6 962.4h0M753.6 1001.9h0M757 1007.8h0M757.2 997.4h0M758.2 946.8h0M758.7 1002.3h0M762.1 992.2h0M762.6 928.4h0M766.4 921.1h0M767.7 945.6h0M769.2 915.2h0M769.5 977.2h0M770 986h0M771.8 1007.1h0M774.5 934.9h0M776.8 969.7h0M780.7 932.3h0M782.4 984.6h0M783 932.4h0M783 985.9h0M785.4 968.2h0M788.3 920.8h0M791 968h0M792.5 927.4h0M795.9 1008.5h0M797.4 958.9h0M797.7 903.4h0M799.8 1006.9h0M800.8 921.6h0M801.8 963.5h0M803.2 916.2h0M803.4 960.7h0M805.7 975.4h0M805.9 886.4h0M806.4 1007.9h0M806.5 912.2h0M807.6 1004.3h0M808.8 886.3h0M808.8 946.9h0M809.3 1005h0M809.7 1006.7h0M810.7 908.4h0M814.4 970.6h0M814.9 969.1h0M815.5 945.2h0M817.5 901.4h0M818.3 954.4h0M818.7 904.3h0M819.4 856.6h0M822.5 899.2h0M825.1 880.7h0M828.4 765.7h0M829.7 889.6h0M831.1 885.6h0M835.3 928.4h0M836.8 927.6h0M837.3 891.5h0M839 873.7h0M839.4 936.5h0M842.5 868h0M842.9 887.1h0M843.9 928h0M846.3 958.4h0M847.3 913.3h0M849.4 869.9h0M850.9 910.4h0M851.2 873.3h0M853.4 917.6h0M857.5 915.7h0M857.5 950.6h0M857.7 868.4h0M859 905.6h0M859.7 869.2h0M859.8 915.4h0M860.7 906.5h0M861.5 851.3h0M862.5 857.7h0M864.9 867.1h0M869.2 861.6h0M870 907.6h0M871.8 868.9h0M872.5 855.7h0M872.9 860h0M874.9 922.8h0M876.1 903.2h0M878.4 863.4h0M879.3 864.1h0M880 916.3h0M880.9 868.9h0M880.9 892.4h0M881.6 890.7h0M881.8 832.5h0M882.1 846.2h0M882.7 848.3h0M883.1 900.7h0M883.2 847.6h0M883.3 858.7h0M883.4 821.3h0M884.5 891h0M886.3 840.9h0M886.4 891.2h0M887 844.8h0M889 891.2h0M890.8 836h0M891.1 904.2h0M891.2 841.8h0M892.1 834h0M894 887.6h0M895.5 816.4h0M895.5 900h0M895.5 881.9h0M898 896.4h0M899.8 894.7h0M900.6 826.8h0M901.4 810.3h0M901.6 893.8h0M901.7 825.8h0M901.7 810.9h0M902 899.8h0M902.3 803.8h0M903.7 892h0M904.9 900.9h0M905.2 810.4h0M905.6 829.4h0M906.3 812h0M907.6 767.2h0M907.7 891.3h0M907.8 766.9h0M907.9 892.8h0M910 826.3h0M910 796.3h0M910.4 901.2h0M911.3 815.1h0M911.3 886.8h0M911.4 894.3h0M912.2 880.9h0M912.8 876.5h0M912.8 821.1h0M913.3 881h0M914.4 813h0M915.6 796.9h0M916.1 805.9h0M916.9 820.8h0M920.3 816.5h0M920.4 870.3h0M920.7 891.1h0M922.9 807.9h0M923.8 884.7h0M924.4 896.5h0M924.4 807.7h0M924.7 796.3h0M924.9 870.5h0M925.6 809h0M926.9 805h0M930 877.3h0M930.9 873.2h0M932.1 887h0M933.5 876h0M934.8 899.5h0M935.5 806.9h0M935.5 880.1h0M935.9 791.1h0M936.2 896.7h0M937.1 899.4h0M937.5 873h0M937.9 906.4h0M938.3 802.2h0M938.7 790.5h0M938.8 883.7h0M939.1 853.2h0M939.1 902.6h0M939.4 876.4h0M939.6 874.4h0M940.2 866h0M940.4 864.2h0M943.4 862.9h0M944.1 850.6h0M944.7 799.1h0M944.8 863.6h0M945.2 784.9h0M945.4 865.7h0M946 898.5h0M946.6 842.1h0M946.9 872.8h0M947.3 848.5h0M947.3 894h0M948.3 882.6h0M949.4 892.2h0M950.2 797.1h0M950.3 879.7h0M950.4 881.2h0M951.3 868.4h0M952.4 784.9h0M952.7 842.9h0M953.6 781.4h0M953.9 852.5h0M954.4 845.4h0M956.6 847.6h0M956.8 789h0M958.7 838.2h0M960 776.7h0M961.2 868.7h0M962.5 861.9h0M962.6 835.2h0M963.5 785.3h0M964 841h0M967.6 869.3h0M968.3 830.7h0M968.7 872.8h0M968.7 844.6h0M969.8 827.1h0M971.7 819.1h0M972.2 769.9h0M972.8 773h0M973.4 833.3h0M973.5 852.4h0M974 817.1h0M974 771.8h0M974.7 781.5h0M974.8 855.2h0M974.9 813.5h0M975 776.2h0M975.1 823.3h0M976 775.3h0M976.6 817.8h0M977.8 821.5h0M978 775h0M980.3 831.3h0M980.8 816.1h0M981 826.4h0M981 811.1h0M981.6 764.8h0M983.8 777.6h0M985.5 805.3h0M986 771.2h0M990.9 756.7h0M991 800.5h0M993 795.2h0M993.7 795.5h0M995.9 808.1h0M996.9 760.8h0M999.1 803.2h0M1000.5 803.4h0M1000.9 823.4h0M1002.3 790.9h0M1003.1 789.1h0M1003.4 795.4h0M1003.4 795.7h0M1003.6 792.5h0M1004.6 757.8h0M1011.3 747.2h0M1012 778.2h0M1013 763.8h0M1013.2 771.5h0M1013.4 751.2h0M1013.9 747.4h0M1014.1 751h0M1014.8 793.9h0M1015.7 755.2h0M1016.3 816.9h0M1016.8 775.9h0M1018.7 783.4h0M1021.8 770.5h0M1023.5 742h0M1025.2 768.9h0M1028 765.7h0M1028.7 744.9h0M1028.9 786.4h0M1032.1 771.5h0M1033.8 760.4h0M1034.4 764.1h0M1037 735.6h0M1038.2 762h0M1040.3 757.8h0M1041 734.9h0M1041.1 735.4h0M1044.1 720h0M1044.4 722.8h0M1044.7 758.6h0M1047.2 756.4h0M1054.2 731.3h0M1055.9 749.9h0M1061.5 765.9h0M1061.8 735.6h0M1063.9 731.6h0M1069.1 724.8h0M1082.5 706.9h0M1085.3 654.8h0M1086.3 704.1h0M1135.9 655.9h0M1144 624.4h0M1157.1 644.6h0"/>
<path class="d" d="M692.6 988.8h0M693.4 1004.8h0M710.1 987.3h0M711 989.6h0M711.5 986.3h0M717.1 1017.3h0M718.2 943.8h0M721.2 981.1h0M721.6 956.9h0M725 976.6h0M725.1 1016.7h0M728.5 956.2h0M730.2 956.7h0M731.8 1018.6h0M736.5 1019.8h0M739 1017.5h0M739.3 958.1h0M745.6 956.5h0M746.3 1017.7h0M748.5 934.5h0M750.2 958.7h0M751 861.3h0M751.9 1007.4h0M754 860.9h0M756.3 855.3h0M757.4 988.8h0M759.8 1012.9h0M759.8 952.1h0M761.5 1006.7h0M762 936h0M763.3 1005.7h0M764.3 978.8h0M764.4 994.6h0M766.1 1006.6h0M766.6 919.4h0M768.1 941.6h0M768.7 1006.9h0M770.7 929.4h0M771.3 984.7h0M772 971.7h0M773.5 918.8h0M778.8 864.7h0M780.2 937.5h0M781.8 971.5h0M783.8 1006.9h0M785.7 855.7h0M785.9 964.5h0M787.3 933.6h0M788.2 1007.5h0M789.5 928.7h0M789.8 926.9h0M791.8 984.6h0M794.2 910.3h0M798 918.2h0M799.7 965h0M799.8 955h0M800.4 1005.7h0M801.7 1005.1h0M802.2 893.8h0M803.3 981.1h0M805 913.1h0M805.8 952.8h0M808.9 1007.2h0M811.6 882.1h0M811.7 881.1h0M813.2 946h0M813.4 888.1h0M814.3 1005.2h0M815.6 900.3h0M819.6 952.1h0M820 892.8h0M822.2 901h0M822.3 945.3h0M824.5 941.1h0M826.2 932h0M826.4 935.2h0M826.6 878.4h0M828.6 928.2h0M830.8 943.2h0M831.2 889.6h0M835.6 931h0M836.5 922.5h0M837.3 882.4h0M838.7 928.6h0M840.7 940.3h0M841.3 884.3h0M845.1 867.1h0M845.8 862.4h0M846 922.7h0M846.1 933.6h0M846.5 953.5h0M847.9 881.2h0M848.8 913h0M849.3 874.8h0M849.5 939.1h0M850 927.5h0M851.4 923.8h0M852.4 972.5h0M852.4 1009.4h0M854.7 860.5h0M854.7 852.4h0M854.7 928.9h0M855.5 911.6h0M856.6 919.5h0M860.3 847.4h0M860.5 917.1h0M865.9 928.1h0M867.5 855.5h0M868.2 853.6h0M868.5 851.5h0M868.7 901.4h0M869.7 858.3h0M870.2 841.5h0M871.1 900.1h0M871.6 821.9h0M872.3 855.5h0M873.4 856.8h0M874 916.2h0M874.8 854.6h0M875.8 899.2h0M875.9 950.6h0M876.9 916.8h0M880.3 856.5h0M880.4 873.4h0M880.5 852.9h0M881.3 846.2h0M881.4 852.7h0M881.6 862.6h0M881.9 838.8h0M882.8 829.8h0M883.4 821.2h0M883.7 842h0M886.7 843.7h0M887.1 837.6h0M887.1 835.7h0M888.1 902.2h0M889.7 840.2h0M890.7 959h0M891.7 825.7h0M893.5 819h0M893.6 885.5h0M893.7 829.5h0M894.9 835.7h0M896.1 885.7h0M896.4 830.8h0M896.7 820.4h0M899.4 833.8h0M899.4 881.5h0M899.6 805.3h0M900.1 830.6h0M900.4 825.5h0M900.8 829.1h0M901.4 898.7h0M903.5 879h0M903.5 904.1h0M904.4 817.5h0M904.9 892.1h0M905 828.9h0M905 903.5h0M908.7 893.4h0M908.7 875.3h0M908.8 812.5h0M910 796.3h0M910.8 817.3h0M911.4 808.8h0M911.4 808.3h0M911.5 822.2h0M911.6 893.3h0M911.8 811h0M912 882h0M912.5 891.9h0M913.1 891.4h0M913.4 809h0M913.6 900.2h0M914.1 810.6h0M914.3 896h0M915.5 893.4h0M918.3 873.3h0M918.5 889.3h0M919.4 807.4h0M921.1 815.1h0M922.4 805.8h0M923.8 795.1h0M924.1 805.5h0M924.2 868h0M925.1 878.2h0M925.4 811.4h0M925.6 915.3h0M925.8 789.6h0M926.8 795.9h0M926.9 795.6h0M926.9 896.4h0M926.9 800.2h0M927.5 880.6h0M927.7 809.5h0M928.3 807.5h0M929.7 897.4h0M931.4 860.6h0M932.4 786.2h0M932.9 898.8h0M933 895.7h0M933.4 879.8h0M933.8 898.6h0M934 799.6h0M934.2 880.7h0M934.2 898.8h0M934.5 868.1h0M935.6 795.2h0M936 891.5h0M936.1 871.4h0M936.9 859h0M937 871.6h0M937.5 804.4h0M937.6 866.5h0M937.9 856.7h0M938.2 797.9h0M938.4 875.9h0M939.5 851.7h0M939.9 876.6h0M939.9 863.1h0M940.6 900.3h0M941.4 870.2h0M941.5 860.3h0M942 793.6h0M942.3 796.9h0M942.8 873.5h0M943.7 779h0M945.3 896.6h0M945.5 874.9h0M945.8 895.3h0M945.8 874.1h0M946 895.9h0M946.2 906.3h0M946.5 854.9h0M947.3 886.8h0M947.5 876.3h0M947.8 870.6h0M947.8 880.7h0M948.4 843.7h0M948.7 879.8h0M949.3 895.9h0M949.4 792h0M949.7 850.4h0M949.7 899.6h0M951.5 878.6h0M951.5 793.7h0M951.9 848.7h0M952.2 764.4h0M952.4 853.3h0M952.8 896.4h0M954.7 782.4h0M955.4 840.8h0M955.4 877.4h0M956.7 789.4h0M958.5 788.7h0M958.9 787.5h0M959.6 829.4h0M959.8 788.9h0M960.1 792.7h0M961.4 833.9h0M961.9 770.9h0M962.1 860.9h0M963.2 830.5h0M963.5 848.8h0M964.6 834.4h0M965.1 772.7h0M965.4 830.9h0M965.6 864.3h0M966.3 849.4h0M966.3 849.7h0M966.6 781.9h0M968.7 873.1h0M968.7 821.9h0M969.4 828.3h0M970.2 784h0M970.3 847.4h0M970.4 822.6h0M971.4 822.9h0M971.9 841.3h0M973.4 842.3h0M973.5 829.5h0M973.8 847.8h0M974.5 820h0M976.1 837.1h0M976.6 829.8h0M977.2 767.7h0M977.5 825.3h0M978.3 812.4h0M981.5 816.3h0M981.8 809.1h0M982.2 762.2h0M984 813.4h0M984.1 804.2h0M985.8 804.3h0M986.4 766.5h0M987.3 804.1h0M987.5 773.2h0M988.6 809h0M989.1 769.4h0M991.2 768.4h0M991.3 805h0M993.2 764.4h0M993.8 771.1h0M994 770h0M994.3 752.7h0M995.7 764.1h0M996.5 769.4h0M996.7 802.4h0M996.7 803.5h0M997.8 794.9h0M999.4 765.7h0M1000 794.6h0M1000.8 797.9h0M1002.8 788.7h0M1004.3 798.1h0M1005.4 790.3h0M1006.5 758.9h0M1006.9 756.4h0M1007.1 785.7h0M1008.9 784.3h0M1009.9 759.6h0M1010.8 747.3h0M1011.1 758h0M1014 749.6h0M1015.2 755.3h0M1015.2 780.3h0M1015.7 786.3h0M1016 777.7h0M1016.2 776.4h0M1017 772.2h0M1019.6 773.3h0M1022.2 770h0M1022.4 775.7h0M1023.7 782.4h0M1024 747h0M1024 779.2h0M1025.6 775.6h0M1028.2 768.7h0M1031.5 765.1h0M1031.9 776.3h0M1032.6 743.6h0M1037.5 766.9h0M1046.6 724.1h0M1052.3 751.2h0M1053.7 745.4h0M1054.3 751.6h0M1059.9 740.7h0M1063.5 736.6h0M1064.4 735.5h0M1066.9 711.6h0M1069.5 741.7h0M1075 714.4h0M1081 666h0M1092.4 718.7h0M1101.3 658.1h0M1139.7 656.3h0M1141.9 654.4h0M1143.8 664.3h0M1171.6 630h0"/>
<path class="d" d="M695.3 1007.7h0M698.7 999.9h0M704.1 1023.9h0M705.5 993.9h0M705.9 1022.1h0M708.3 995.9h0M712.8 989.5h0M715.5 1018.6h0M716 985.8h0M721.9 977.3h0M722 1024.4h0M723.2 969.7h0M726.5 974.9h0M728.3 1026.3h0M735.4 941.8h0M739.2 966.9h0M743.8 931.9h0M745.1 1010.4h0M746.1 938.9h0M746.8 960.5h0M747.6 959h0M748.6 946.9h0M749 964.1h0M752.5 922.8h0M753.3 1014h0M753.8 930.9h0M755 920.7h0M755.3 1004.1h0M755.4 958.7h0M756.8 918.8h0M760.3 946.4h0M760.3 944.8h0M760.9 992.1h0M762.6 984.4h0M763.8 979h0M767.4 1006.5h0M767.5 1006.9h0M767.5 916.3h0M769.4 979.9h0M769.5 935.3h0M773.2 941.6h0M776.2 938.2h0M777.3 934.5h0M779.4 1006.9h0M780.6 987.5h0M780.8 1006.7h0M780.9 932.7h0M781.9 914.5h0M782.9 969.7h0M783.3 972.7h0M783.8 910.3h0M787.3 961.3h0M787.7 932.2h0M788.9 961.5h0M789.1 988.4h0M789.3 911.5h0M790.2 1005.5h0M790.5 1006.9h0M796 1007.3h0M797.8 923.9h0M799.9 955.1h0M800.1 1005.3h0M800.2 1006.4h0M800.4 1006.5h0M800.5 1007.4h0M801.3 972.6h0M801.3 969.7h0M801.5 914.2h0M801.6 917.6h0M801.6 912.5h0M803 956.7h0M803.9 911.9h0M804.2 900h0M805 890h0M805.2 905.3h0M807.2 908.4h0M809.1 888.9h0M811.1 909.9h0M811.2 905.3h0M813.4 876.3h0M814.1 947.7h0M815.3 909.6h0M815.9 1006.5h0M816.3 880.6h0M817.3 1005.9h0M817.5 910h0M817.8 957.7h0M818.1 884.4h0M819.6 903.8h0M823.3 893.7h0M824.3 898.9h0M824.7 964.1h0M825.3 934h0M831.2 961.5h0M833.2 924.7h0M833.3 951.8h0M833.3 921.6h0M835 892.7h0M835.6 847.8h0M835.9 934h0M838.3 888.3h0M839.7 953.8h0M840.7 938h0M843.4 921.6h0M844.6 880.5h0M846.7 885.2h0M848 941.6h0M849 944.7h0M849.8 928.8h0M850.8 953.8h0M851.5 843.7h0M851.6 878.6h0M854.2 872h0M856.2 907.5h0M856.6 933.1h0M856.9 872.4h0M860.5 856.1h0M863.4 865.1h0M866.6 906.7h0M866.6 849.3h0M867.6 907.7h0M868 862.2h0M872.2 922.7h0M872.2 834.9h0M873 918.9h0M875.5 851.3h0M875.9 897.8h0M876.7 908h0M879.8 897.1h0M880.1 880.2h0M881.3 901.1h0M881.6 895.2h0M881.8 908.3h0M882.3 848.5h0M882.3 894h0M883.5 889h0M884.6 898.2h0M887.3 846.3h0M887.3 836.6h0M887.6 833.2h0M889 890.3h0M889.3 907.6h0M889.9 829h0M890.4 884.6h0M890.5 829.3h0M890.8 828.9h0M892.4 889.4h0M892.8 900h0M897.4 837.7h0M897.9 884.5h0M898 904.6h0M898 886.1h0M898.9 896h0M899 818.3h0M899.5 821.8h0M900 830.3h0M900.4 818.6h0M901.6 944.4h0M901.9 821.2h0M902.5 900.7h0M902.7 903.4h0M903.2 904.6h0M903.3 833.7h0M903.6 898.1h0M905 895.6h0M905.9 925.6h0M907.1 825.8h0M907.4 813.7h0M907.4 797.7h0M908.7 805.6h0M908.8 903.8h0M909 901h0M909.3 823.9h0M910.2 825.8h0M910.2 876.4h0M910.5 805.5h0M912.5 807.1h0M914.3 900h0M914.4 894.1h0M915.1 880.4h0M915.3 812.9h0M916 896.4h0M916.3 889.9h0M916.6 796.6h0M916.6 897.9h0M916.9 813.5h0M917.1 875.1h0M917.8 802.8h0M918.9 789.9h0M919.4 900.5h0M919.5 805.4h0M919.6 903.1h0M920 874.8h0M920.3 811.1h0M921.8 896.6h0M922.5 905.3h0M923.7 889.3h0M923.7 1009.4h0M924.6 804.2h0M925.2 884.5h0M926.9 795.3h0M929.3 876.2h0M929.9 876.8h0M930.3 774.4h0M931.6 898.9h0M931.7 783h0M932.7 896.1h0M932.9 870h0M933.3 880.1h0M933.4 893.4h0M933.6 798.9h0M934 863.2h0M934.3 872.4h0M935 866.8h0M935.3 876.4h0M935.9 878.7h0M936 903.1h0M937.3 891.3h0M937.9 901.8h0M938.1 780.9h0M938.3 863.2h0M938.5 872.8h0M938.9 863.2h0M939.8 901.5h0M941.3 875.8h0M941.9 781.9h0M942.5 797.9h0M942.6 801.9h0M943.3 897.8h0M944 873.2h0M944.5 856.5h0M945.1 848.2h0M945.4 894.6h0M946.3 893.9h0M946.4 854.7h0M946.5 862.7h0M946.6 798.3h0M946.8 879.6h0M946.8 847h0M947.6 886.8h0M947.9 895.2h0M949.8 786.4h0M949.9 847.4h0M950.5 870.8h0M951.8 865.9h0M952.2 764.4h0M952.4 794.1h0M952.6 791.2h0M952.7 783.7h0M954.2 897h0M954.5 887.3h0M955.1 850.8h0M955.2 835.6h0M959 862.9h0M959.7 858.6h0M961.2 868.4h0M962.3 786.1h0M962.6 784.6h0M964.4 778.1h0M964.8 784.6h0M965 789.3h0M966.9 844.2h0M967 774.3h0M967.2 825.2h0M967.3 780.3h0M968.3 828.6h0M968.7 834.5h0M970 843.8h0M970.1 826h0M970.4 784.4h0M971.5 867.5h0M971.6 774.6h0M972.3 846.8h0M974 814.3h0M974.7 772.5h0M975.2 823.9h0M975.4 844.7h0M975.9 780.9h0M976.5 837.3h0M977.2 763.9h0M977.4 781.5h0M977.6 822.5h0M978.4 825h0M978.6 774.5h0M979.1 830h0M980.2 778.3h0M981.1 817.6h0M981.4 772.7h0M981.5 773.5h0M982 808.4h0M984.8 772.1h0M984.9 762.8h0M985.3 815.8h0M985.3 773.4h0M985.9 811.9h0M987.6 801.2h0M988.7 809.4h0M990.2 755.1h0M990.7 774.6h0M991 808.3h0M993.2 796.3h0M993.6 759.2h0M995.8 803.7h0M995.8 798.7h0M996.8 1009.4h0M999.4 760.6h0M999.4 766.1h0M1000.8 792.6h0M1000.9 823.1h0M1001.1 764.8h0M1002.5 800.5h0M1006.5 796.8h0M1009.4 760.2h0M1010.8 759.3h0M1010.8 781.7h0M1010.8 781.4h0M1011.8 751.7h0M1012.5 771.9h0M1012.6 779.5h0M1013.2 760.5h0M1014.1 816.9h0M1014.3 751.9h0M1015.9 793.2h0M1016.8 748.4h0M1016.9 781h0M1019.5 775.6h0M1021.6 778.1h0M1023.6 736.8h0M1023.8 784.7h0M1024.9 773.7h0M1026.5 772.8h0M1026.8 747.5h0M1027.1 741.6h0M1029.2 772.4h0M1030 730.3h0M1031.8 745h0M1031.9 767.9h0M1036.7 766h0M1040.3 761.3h0M1040.4 764.7h0M1043 726.9h0M1043.7 761.8h0M1044.5 755.4h0M1048.8 725.7h0M1050.2 718.6h0M1054.1 743h0M1058 748.2h0M1059.1 727.2h0M1061.3 750.6h0M1061.6 723.2h0M1064.4 726.7h0M1065.5 728.8h0M1078.8 705h0M1080.6 716.3h0M1081.6 720.9h0M1084.4 710.6h0M1139.1 642.2h0M1174.8 633.8h0"/>
<text class="lab" x="617.3" y="581.6">E</text>
<text class="ttl" x="757" y="577.8">Silicate</text>
<text class="ttl" x="705.7" y="622">y=0.997x+0.098</text>
<text class="ttl" x="706.7" y="669.8">R^2=0.987</text>
<text class="tk" text-anchor="middle" transform="translate(690.9 1074.4) scale(.89 1)">0</text>
<text class="tk" text-anchor="middle" transform="translate(795.5 1074.4) scale(.89 1)">50</text>
<text class="tk" text-anchor="middle" transform="translate(900.1 1074.4) scale(.89 1)">100</text>
<text class="tk" text-anchor="middle" transform="translate(1004.7 1074.4) scale(.89 1)">150</text>
<text class="tk" text-anchor="middle" transform="translate(1109.3 1074.4) scale(.89 1)">200</text>
<text class="tk" text-anchor="middle" transform="translate(660.4 1028.6) rotate(-90) scale(.93 1)">0</text>
<text class="tk" text-anchor="middle" transform="translate(660.4 944.3) rotate(-90) scale(.93 1)">50</text>
<text class="tk" text-anchor="middle" transform="translate(660.4 859.9) rotate(-90) scale(.93 1)">100</text>
<text class="tk" text-anchor="middle" transform="translate(660.4 775.6) rotate(-90) scale(.93 1)">150</text>
<text class="tk" text-anchor="middle" transform="translate(660.4 691.2) rotate(-90) scale(.93 1)">200</text>
<text class="tk" text-anchor="middle" transform="translate(660.4 606.9) rotate(-90) scale(.93 1)">250</text></g>
<g><g stroke="#808080" stroke-width="3.6" fill="none">
<path d="M1294.3 606.3V1039.2M1285.1 1030H1795.6M1365.7 1030v6.8M1437.1 1030v9.2M1508.5 1030v6.8M1579.9 1030v9.2M1651.3 1030v6.8M1722.7 1030v9.2M1794.1 1030v6.8M1294.3 977.2h-6.8M1294.3 924.4h-9.2M1294.3 871.7h-6.8M1294.3 818.9h-9.2M1294.3 766.1h-6.8M1294.3 713.3h-9.2M1294.3 660.5h-6.8M1294.3 607.8h-9.2"/></g>
<path d="M1300.6 1024.7L1777.9 670.8" stroke="#e31a1c" stroke-width="5.2" stroke-linecap="round" fill="none"/>
<polygon fill="#404040" points="1365,989.4 1374.4,985.6 1387.5,983.8 1395,978.1 1406.3,970.6 1417.5,965 1428.8,955.6 1436.3,948.1 1447.5,942.5 1458.8,935 1470,929.4 1481.3,925.6 1492.5,923.8 1503.8,920 1511.3,912.5 1515,901.3 1518.8,891.9 1528.1,884.4 1539.4,876.9 1548.8,865.6 1556.3,856.3 1565.6,846.9 1576.9,839.4 1588.1,831.9 1599.4,826.3 1608.8,822.5 1620,816.9 1620,770 1608.8,775.6 1597.5,781.3 1586.3,788.8 1575,796.3 1563.8,803.8 1552.5,813.1 1541.3,820.6 1530,826.3 1518.8,831.9 1507.5,839.4 1496.3,848.8 1485,856.3 1473.8,861.9 1462.5,869.4 1451.3,876.9 1441.9,886.3 1434.4,895.6 1425,905 1413.8,910.6 1402.5,918.1 1393.1,927.5 1383.8,935 1376.3,944.4 1372.5,955.6 1366.9,965 1363.1,976.3"/>
<polygon fill="#404040" points="1469,865.5 1480.3,856.1 1495.3,844.9 1510.3,835.5 1525.3,828 1540.3,816.8 1553.4,809.3 1566.5,799.9 1574,788.6 1585.3,784.9 1596.5,779.3 1607.8,771.8 1619,764.3 1630.3,758.6 1641.5,751.1 1652.8,745.5 1664,738 1675.3,730.5 1686.5,723 1697.8,715.5 1709,709.9 1720.3,702.4 1731.5,693 1742.8,685.5 1750.3,678 1757.8,678.8 1757.8,688.1 1750.3,695.6 1739,705 1727.8,712.5 1716.5,721.9 1705.3,731.3 1694,742.5 1682.8,753.8 1671.5,765 1660.3,774.4 1649,783.8 1637.8,795 1626.5,804.4 1615.3,813.8 1604,821.3 1592.8,828.8 1581.5,834.4 1570.3,841.9 1559,849.4 1547.8,860.6 1536.5,870 1525.3,879.4 1515.9,890.6 1510.3,900 1469,900"/>
<path class="d" d="M1310.4 1021.3h0M1314.6 1012.5h0M1315.8 1006.5h0M1316 977.3h0M1316.4 1016.4h0M1317.1 1013.5h0M1317.8 1006.6h0M1318.1 963.1h0M1318.3 959.7h0M1319.6 1013.6h0M1320.9 1018.7h0M1321 1015.9h0M1321.5 891.3h0M1323 955.8h0M1325.7 1014.6h0M1326.5 1019.5h0M1327.8 1011h0M1329.2 997.8h0M1329.4 1025h0M1329.6 1027.2h0M1329.7 1028.1h0M1330 1024.1h0M1330.6 1017.6h0M1330.9 1005.5h0M1331 968.7h0M1332.1 1019.2h0M1332.4 960.6h0M1332.7 1026.6h0M1335.3 1026.8h0M1335.6 1019.8h0M1336.4 1016h0M1336.6 1017.4h0M1337.2 1019h0M1338.7 1025.5h0M1339 1015.3h0M1339.3 1017.8h0M1339.4 1028.5h0M1339.6 1025.9h0M1340.4 999.3h0M1340.5 1012.7h0M1340.7 1020.4h0M1341.9 1010.2h0M1342.2 1004.1h0M1342.9 1015.7h0M1343.6 992.3h0M1343.7 1001.1h0M1344.2 1004.6h0M1344.4 1008.1h0M1344.5 987.5h0M1344.9 1012.1h0M1345.1 985.9h0M1345.4 935.4h0M1345.5 965.7h0M1346.4 1001.5h0M1347.5 962h0M1348.1 980h0M1348.1 967.9h0M1348.7 998.1h0M1348.8 1001.2h0M1348.9 946.7h0M1349.3 967.5h0M1349.4 980.7h0M1349.4 1013.6h0M1349.6 983.5h0M1349.8 1019.7h0M1350.5 979.6h0M1350.5 984.4h0M1351.2 937.2h0M1351.4 964.1h0M1351.7 976.8h0M1352.1 1025.7h0M1352.3 1026.7h0M1352.6 987.7h0M1353.1 985.5h0M1353.1 958.2h0M1353.3 988.5h0M1353.5 974.8h0M1353.8 913.4h0M1354 1020.2h0M1354.6 1026.4h0M1354.7 980.7h0M1355.5 993.2h0M1355.8 1017.7h0M1356.2 1016.2h0M1356.9 1000.8h0M1357.1 988.4h0M1357.3 1026.3h0M1357.6 1006.5h0M1357.6 993.6h0M1357.6 967.3h0M1357.8 982.2h0M1358.4 1024.8h0M1359 972h0M1359.1 1016.9h0M1359.3 1008.6h0M1359.5 996.7h0M1359.8 1000.5h0M1360.1 988.1h0M1360.5 979.5h0M1360.7 986.9h0M1362.4 971.2h0M1363.3 1012.8h0M1363.7 994.6h0M1364.2 989.6h0M1364.7 972.7h0M1365.1 952.1h0M1365.3 951.6h0M1367.9 984.2h0M1368.2 998.4h0M1369.8 991.9h0M1371.3 999.5h0M1371.5 1000.3h0M1371.6 957.9h0M1371.9 1015.7h0M1372.4 998.3h0M1372.4 1000.6h0M1372.5 1006.6h0M1372.6 988h0M1372.8 991.1h0M1374 998.5h0M1374.2 1010.1h0M1374.3 1014.9h0M1374.3 1009.6h0M1375.1 991.2h0M1377.5 997.4h0M1378.4 995.7h0M1379.4 997.3h0M1379.6 1010.7h0M1380.3 1000.4h0M1380.9 869.4h0M1381 1001.9h0M1381.3 886.3h0M1381.4 999.6h0M1381.9 995.8h0M1382.6 935.2h0M1383.6 1012.8h0M1383.7 986.2h0M1384.5 1012.6h0M1385.3 1008h0M1385.6 1002.1h0M1386.5 986.7h0M1387 980h0M1387.4 932.9h0M1388 988.3h0M1389.4 978.5h0M1390.8 1013.1h0M1392.3 996.4h0M1394.7 1009.3h0M1395.2 978.4h0M1395.7 976.9h0M1396.4 914.5h0M1398.5 923.9h0M1398.8 924h0M1399.8 914.1h0M1401.1 974.3h0M1401.6 991.4h0M1407.1 918.2h0M1409.5 915.4h0M1416.6 914.2h0M1417.8 964.4h0M1418.4 909.4h0M1419.8 910.1h0M1422.5 890.8h0M1424.8 899.7h0M1425.3 959.4h0M1425.9 901.5h0M1430 878.2h0M1431.1 949.7h0M1431.9 899.8h0M1432.7 958.2h0M1434.7 876.5h0M1435.7 955.1h0M1441.5 998.8h0M1442.6 857.6h0M1443.7 836.8h0M1443.9 843.6h0M1444 888.8h0M1445.1 941h0M1445.6 815.9h0M1446.9 879.5h0M1447.1 988.4h0M1447.5 947.6h0M1447.6 849.1h0M1447.8 880.5h0M1448.4 965.8h0M1450.2 878.3h0M1452.2 846h0M1454.6 958.8h0M1455.7 848.7h0M1455.8 875.6h0M1455.8 934.8h0M1456.2 876.8h0M1457.7 874.6h0M1458.6 950.7h0M1462.7 949.3h0M1465.3 886.1h0M1466.8 880h0M1467.1 873.3h0M1468.4 851.2h0M1468.4 933.5h0M1469 883h0M1469.4 899.7h0M1470.1 868.8h0M1472.4 947.8h0M1472.5 973.4h0M1472.8 997.3h0M1473.8 864.3h0M1473.9 836.8h0M1474.2 923.1h0M1475.4 930.7h0M1476.2 899.4h0M1478.3 848h0M1478.6 832.7h0M1480 862.4h0M1480.4 859.2h0M1481.8 924.6h0M1482 803h0M1482.2 904.1h0M1483.2 903.5h0M1483.3 822.4h0M1483.7 850.6h0M1485.9 856.4h0M1486.9 923.3h0M1488.1 939.4h0M1489.1 851.1h0M1489.9 847.1h0M1490.9 919.4h0M1491.2 850.2h0M1491.9 972.1h0M1493.8 795.4h0M1494.4 958.4h0M1495.5 835.9h0M1495.6 963.8h0M1496.6 835.3h0M1496.8 920.5h0M1497.1 785.6h0M1497.6 960.5h0M1498.7 845.8h0M1499.2 948.4h0M1499.8 843.7h0M1500 787.3h0M1500.8 793.8h0M1500.8 778.7h0M1501 820.2h0M1501.2 952.7h0M1501.2 954.9h0M1501.3 842.7h0M1502.5 960h0M1502.7 827.3h0M1502.8 771.9h0M1502.8 772.3h0M1503.6 808.8h0M1503.9 921.7h0M1504 916.8h0M1504.1 770.3h0M1504.7 916.6h0M1505 835.3h0M1508.1 790.4h0M1509.2 841.4h0M1510.3 814.9h0M1510.4 904.6h0M1510.5 902.2h0M1511.3 819h0M1511.3 819.4h0M1512.6 817.5h0M1513.7 750.1h0M1513.8 838.8h0M1514.2 779.2h0M1515 774.7h0M1515 802.4h0M1515.2 782.1h0M1515.8 795.6h0M1516.3 836.6h0M1516.5 745.7h0M1516.5 798.1h0M1516.7 895.4h0M1516.9 898.8h0M1518 837.2h0M1518.5 812.2h0M1518.9 830.7h0M1519.5 810.5h0M1520 750.2h0M1521 893.8h0M1521.4 826.9h0M1522.2 882.6h0M1523 825h0M1523.6 776.5h0M1523.8 782.3h0M1524.3 742.5h0M1524.3 806.2h0M1524.4 742.8h0M1524.4 826.3h0M1524.5 924.1h0M1524.6 825.7h0M1524.7 880.3h0M1525.2 878.5h0M1525.2 885.9h0M1526.1 830.6h0M1526.2 776.8h0M1526.3 879.3h0M1528.7 760.8h0M1528.9 940.2h0M1529.7 784.6h0M1530 881.2h0M1530.3 889.4h0M1531.4 755.1h0M1531.4 780.4h0M1531.7 822.8h0M1532.7 880.7h0M1533.6 825.3h0M1533.8 779.4h0M1534.4 802.2h0M1534.5 881.9h0M1534.6 797.8h0M1535 826.8h0M1535 821.1h0M1535.1 753.1h0M1535.2 883.2h0M1536.3 821.7h0M1537 878.2h0M1537.7 868.9h0M1538.9 824.6h0M1539.7 862.7h0M1539.9 897.6h0M1540 800h0M1540.3 818.1h0M1540.5 873.3h0M1540.5 934.5h0M1541 894.3h0M1541.3 774.9h0M1541.9 883.9h0M1542.2 768h0M1542.4 872.7h0M1542.7 916.8h0M1543.2 757.3h0M1544 873h0M1544.9 775.3h0M1545 774.7h0M1545.2 793.4h0M1545.3 869.8h0M1545.3 868.4h0M1545.3 868.8h0M1545.3 819.2h0M1545.5 820.3h0M1545.9 781.5h0M1546.3 913.9h0M1546.4 812.2h0M1547 863h0M1547.1 772.6h0M1547.3 896.7h0M1547.4 873.8h0M1548.6 774.3h0M1548.7 818.4h0M1549 880.1h0M1550.5 772h0M1550.7 806.7h0M1550.8 867.5h0M1551 862h0M1551.5 853h0M1551.6 796.9h0M1553.1 887.1h0M1553.1 896.1h0M1553.9 863.8h0M1554.1 861.1h0M1555.1 887h0M1555.4 757h0M1555.5 807h0M1555.8 812.8h0M1556.1 801.7h0M1556.5 769.6h0M1556.7 864h0M1557.2 807.4h0M1557.4 761.8h0M1557.9 880.3h0M1558.4 780h0M1558.9 766.7h0M1559.1 847.4h0M1559.4 849.3h0M1561 765.8h0M1561 809.6h0M1561.3 804.3h0M1561.7 764h0M1561.7 881.1h0M1561.8 767.8h0M1562.9 774.3h0M1565 798h0M1565.1 801.3h0M1565.3 853.8h0M1565.4 875.3h0M1565.9 777.3h0M1566.5 806.2h0M1566.8 808.3h0M1566.9 800.4h0M1567.7 840.9h0M1568.1 851.2h0M1568.4 765h0M1568.7 797.3h0M1569.2 843.7h0M1569.6 800.4h0M1570.1 756.3h0M1571.2 800.7h0M1571.3 771.9h0M1571.8 766.9h0M1571.9 843.7h0M1572.3 837.3h0M1572.3 765.2h0M1572.7 798.2h0M1573.3 858.4h0M1574.4 771h0M1575.2 794.5h0M1578.4 791.9h0M1581.1 847.2h0M1581.1 867.8h0M1581.7 832.1h0M1582.1 796h0M1585.1 779.2h0M1585.6 770.9h0M1586.2 831.4h0M1586.3 871.2h0M1586.4 830.9h0M1587.7 779.2h0M1588.4 773.2h0M1589.1 827.5h0M1589.2 783.9h0M1589.4 784h0M1589.6 868.5h0M1591.4 765.9h0M1591.9 789.1h0M1592.1 829.1h0M1592.3 831.1h0M1592.4 836.2h0M1593 861.2h0M1593.4 770.2h0M1593.9 840.1h0M1593.9 843.6h0M1594.2 859.7h0M1594.2 783.1h0M1594.9 787.1h0M1595.1 925.6h0M1595.5 822.5h0M1596.1 767h0M1596.9 742.8h0M1597.5 846.9h0M1598.7 833.3h0M1599 782h0M1599.7 778.9h0M1600.7 840.2h0M1601.9 827.9h0M1602.4 769.2h0M1603.5 829.6h0M1604.2 771.2h0M1604.5 762.9h0M1605.8 826.3h0M1607.9 771.5h0M1608.1 840.5h0M1608.1 823.1h0M1608.8 817.1h0M1609 744.8h0M1609.8 765.6h0M1611.6 776.4h0M1612.1 859.1h0M1612.3 826.6h0M1612.8 743.2h0M1613.4 755h0M1613.6 775.6h0M1613.6 824.9h0M1615.1 854.4h0M1615.2 769.9h0M1615.5 772.6h0M1615.9 812.3h0M1615.9 847.5h0M1616 731.9h0M1616.4 813h0M1616.6 817h0M1616.7 851.9h0M1616.9 818.5h0M1617.1 800.5h0M1617.2 859.1h0M1618.1 805.1h0M1618.3 775.6h0M1618.4 782.2h0M1618.4 783.7h0M1618.5 795.5h0M1618.8 802.9h0M1619 767.1h0M1619.7 766.7h0M1619.7 788.4h0M1621.5 825.8h0M1622.3 809.8h0M1622.7 783.5h0M1624.3 763.1h0M1624.5 728.9h0M1626.1 756.9h0M1626.6 814.6h0M1627.1 800.1h0M1630.2 805.8h0M1631.5 800.6h0M1634.4 815.1h0M1636.6 795.8h0M1637.3 754.7h0M1639.5 812.7h0M1641.2 790h0M1643.2 789.9h0M1644.7 824.6h0M1644.8 820.7h0M1645.2 828.4h0M1647.1 745.5h0M1648.2 790.5h0M1649.6 833.4h0M1649.9 748h0M1649.9 783.5h0M1652.7 826.3h0M1653.7 780.2h0M1656.3 744.8h0M1658.5 776.4h0M1659.2 736.6h0M1659.3 734.6h0M1664 741.7h0M1664.4 826.9h0M1664.4 806.2h0M1665.8 768.8h0M1666.9 734.8h0M1667.1 821.2h0M1670 729.7h0M1670.3 760.8h0M1671.7 719.3h0M1672.2 726.9h0M1674.7 820.3h0M1675.1 723.7h0M1676.6 754.7h0M1680.5 763.2h0M1680.6 752.5h0M1681.3 800.6h0M1682 727.7h0M1683.1 768.6h0M1686.3 727.9h0M1686.5 745.2h0M1689.9 724.8h0M1690.4 748h0M1692.5 747.1h0M1693 767.6h0M1693.6 743.8h0M1694.4 753.2h0M1695.3 742h0M1697.9 718.2h0M1698.1 740.3h0M1699.5 737.3h0M1700.9 746.6h0M1705.4 742.2h0M1706.6 725.8h0M1708.9 704.7h0M1712.6 739.3h0M1713.9 724.7h0M1714 738.2h0M1718.4 686.5h0M1718.9 724.6h0M1719.5 706.4h0M1719.8 718h0M1720.1 722.5h0M1723.3 715h0M1724.4 712h0M1727.2 688.5h0M1728.5 712.1h0M1735.7 691.7h0M1736.7 701h0M1736.8 718.6h0M1741.9 684.9h0M1745.1 706.9h0M1747.7 686.6h0M1751.2 638.1h0M1752.8 690.3h0M1753.3 690.3h0M1756.2 678.8h0M1759 703.2h0M1764 690.3h0M1767.1 691.9h0M1767.1 698.1h0"/>
<path class="d" d="M1310.7 1006.6h0M1316.4 1019.4h0M1317.4 1007.1h0M1319.6 1023.4h0M1319.6 1019.8h0M1320.2 1013.1h0M1324.3 953.6h0M1324.4 1024.1h0M1328.2 1025.8h0M1328.3 1024.8h0M1329.2 1008.2h0M1329.4 946.3h0M1329.5 1018.9h0M1330.2 1023.6h0M1330.8 999.2h0M1330.8 948.3h0M1332.2 1012.7h0M1332.4 1018.5h0M1333.2 1012h0M1333.5 964.1h0M1334.5 1019.5h0M1334.8 965.2h0M1335.8 1026.9h0M1336.1 1016.8h0M1336.5 946.2h0M1337.4 1021.6h0M1340.7 1015.1h0M1341 1014.4h0M1341.3 1014.9h0M1341.3 1028h0M1342.4 1012.5h0M1343.7 982.3h0M1344.3 990.2h0M1344.5 1003.2h0M1345 1005.1h0M1345.1 1014.1h0M1345.6 1007.9h0M1345.8 953.7h0M1345.9 1009.7h0M1346.1 1006.9h0M1346.4 992.5h0M1346.8 1025.1h0M1348.1 1008.7h0M1348.4 996.5h0M1348.5 987.2h0M1348.8 1004.1h0M1349.3 986.6h0M1350.4 990.1h0M1350.4 1017.2h0M1350.7 977.9h0M1350.9 983.2h0M1351 989.4h0M1351.1 1001.9h0M1351.6 1016.8h0M1352.4 1024h0M1352.4 1000.4h0M1352.5 960.7h0M1352.9 944.6h0M1352.9 998h0M1353.2 967.6h0M1353.5 976.9h0M1353.8 962.8h0M1353.9 956.3h0M1354 962h0M1354.5 988.6h0M1354.7 1013.6h0M1355.1 963.5h0M1355.4 954.4h0M1356 963.9h0M1356.2 995.1h0M1356.4 1017.1h0M1356.8 965.8h0M1356.9 974.1h0M1357.1 996.7h0M1357.3 1022.7h0M1357.3 1007h0M1357.6 964.2h0M1357.7 1007h0M1358.2 965.8h0M1358.6 1001.2h0M1358.7 1015.3h0M1359.5 973.6h0M1360.6 964.3h0M1361.2 981.9h0M1362.9 983.1h0M1362.9 985.7h0M1363.1 1020.7h0M1363.1 972.3h0M1363.4 1008.9h0M1363.5 963.6h0M1363.5 1000.3h0M1364.7 981.8h0M1364.8 976.4h0M1365.4 969.5h0M1365.7 965.9h0M1365.8 998.1h0M1366.2 1000.4h0M1367.1 1011.2h0M1368 945.7h0M1368.3 987.6h0M1369.2 960.2h0M1370.4 1000.4h0M1370.5 954.2h0M1370.8 997.9h0M1371 994.9h0M1371.1 1004.3h0M1371.5 996h0M1371.9 954.4h0M1372.6 950.7h0M1375.3 945.1h0M1377.1 994.4h0M1377.1 951.6h0M1377.3 984.7h0M1378.4 999.1h0M1379 1010.6h0M1379 998.3h0M1379 946.1h0M1379.6 1000.9h0M1380.2 992h0M1380.5 981.1h0M1380.6 997.5h0M1380.8 982h0M1381.4 937.9h0M1382.1 1001.2h0M1382.5 1004.3h0M1383.9 980h0M1384.7 985.9h0M1384.8 982.9h0M1385.6 844.6h0M1385.7 996h0M1386.2 931.2h0M1386.8 926.7h0M1387.2 987.9h0M1388.6 932.9h0M1389.1 998h0M1389.3 920.9h0M1389.9 986.7h0M1390.8 934.1h0M1391.2 922.1h0M1394.9 926.4h0M1395.2 986.1h0M1396.4 973.1h0M1399.2 990.1h0M1400.3 1025h0M1402.6 920.2h0M1403.1 909.7h0M1404 977.9h0M1404.4 1017.9h0M1404.4 910.1h0M1408.2 969.4h0M1409.4 913.2h0M1411.1 964h0M1414.1 963.8h0M1415.6 990h0M1417 994h0M1418.5 900.5h0M1418.7 969.3h0M1419.9 957.6h0M1420.1 912.7h0M1420.3 811.3h0M1422.5 901.4h0M1423.8 908.4h0M1425.9 956.5h0M1426.9 898.2h0M1427.7 900.9h0M1428.4 906.2h0M1428.7 951.9h0M1430.1 889.8h0M1430.3 973.8h0M1430.5 900.3h0M1431.6 895.7h0M1432.5 898.3h0M1432.9 946.1h0M1433.3 898h0M1434.4 977.2h0M1435.3 805.6h0M1437.4 953h0M1439.1 890.8h0M1441.9 977.8h0M1442.8 811.3h0M1445.1 1021.3h0M1445.3 886.2h0M1446.1 939.1h0M1447.4 837.5h0M1448.6 876.9h0M1449.4 951.1h0M1449.6 871.9h0M1451.7 880.5h0M1451.9 880.6h0M1453.3 865.1h0M1458.3 932h0M1458.8 869.2h0M1459.7 872.7h0M1461 933.8h0M1465.4 841.6h0M1467 869h0M1467.4 870.1h0M1468 859.9h0M1468.1 841.9h0M1468.4 976.7h0M1468.5 927.1h0M1470.1 840.5h0M1470.2 865.5h0M1470.2 860.2h0M1470.9 859.9h0M1471.6 878.5h0M1471.7 897.1h0M1471.9 886.7h0M1472.8 808.8h0M1473.2 878.5h0M1473.5 873.4h0M1473.6 888.1h0M1474 852.7h0M1475.5 930.9h0M1475.9 822.2h0M1476.2 858.3h0M1476.9 820.8h0M1477.1 828.6h0M1477.4 834.6h0M1478.9 857.1h0M1479.5 897.9h0M1479.5 862.1h0M1479.9 897.9h0M1480.4 861.4h0M1481.4 829.3h0M1481.6 855.7h0M1482.9 857h0M1484.1 826.1h0M1484.3 848.5h0M1484.8 854.1h0M1485.4 955.4h0M1485.7 853.6h0M1486.2 845.5h0M1487.1 799.6h0M1487.2 851h0M1487.2 939.4h0M1487.6 823.1h0M1489.7 852.1h0M1490 854.6h0M1491.7 847.8h0M1491.9 900.4h0M1492.4 796.3h0M1492.5 952.4h0M1492.7 818.9h0M1493.4 827.7h0M1494.2 852.9h0M1494.4 838.4h0M1495 817h0M1495 899.6h0M1496.3 838.1h0M1496.7 840.7h0M1497.6 899.5h0M1497.7 945.1h0M1498.3 782.1h0M1498.9 933h0M1499.4 794.2h0M1500.2 838.2h0M1500.8 824.3h0M1501.9 841.8h0M1503 807.3h0M1503.1 922.3h0M1504.7 839.9h0M1504.8 776.5h0M1505.7 896.1h0M1505.8 821h0M1506.4 911.5h0M1506.6 897.9h0M1506.6 844.5h0M1506.6 817h0M1506.9 911.3h0M1508 939.6h0M1508.9 829.1h0M1510.1 945.2h0M1510.1 897.5h0M1511 777.4h0M1511 842.9h0M1513 802.3h0M1513.1 937.7h0M1513.2 894.8h0M1513.7 925.9h0M1514.1 810.4h0M1515.2 796.8h0M1515.4 937.3h0M1515.5 829.3h0M1515.5 733.7h0M1517.1 775.6h0M1517.3 761.6h0M1517.4 756.5h0M1517.5 825.8h0M1517.7 892.1h0M1518.5 902.3h0M1518.6 887h0M1518.8 792.7h0M1518.9 824.7h0M1519.3 892.8h0M1519.9 832.7h0M1520.1 887.1h0M1520.2 896.7h0M1520.4 834.3h0M1521.2 900.3h0M1521.3 754.3h0M1521.4 928.1h0M1521.6 1003.4h0M1522 761.1h0M1522.3 799.9h0M1524 765.1h0M1524.8 884.4h0M1524.8 772.9h0M1526.3 776.9h0M1527.9 783h0M1528.1 784.6h0M1528.2 933.6h0M1528.6 808.1h0M1529.1 796.8h0M1529.1 791.5h0M1529.6 748.1h0M1530.1 874.4h0M1531.5 932.8h0M1531.9 754.4h0M1532.6 799.7h0M1532.9 821.5h0M1534.3 868.3h0M1534.5 818.6h0M1536 769h0M1536.8 765.2h0M1537.1 768.2h0M1537.5 757.3h0M1537.5 822.5h0M1537.6 876h0M1538.1 763.1h0M1538.2 797h0M1538.2 813.1h0M1538.5 937.5h0M1539.4 816.1h0M1539.8 928.1h0M1540.2 816.8h0M1540.2 876.9h0M1540.7 891.2h0M1542.2 779.8h0M1543.5 815.2h0M1543.5 873.2h0M1544 756.1h0M1544 861.6h0M1544.2 913.9h0M1544.7 882.4h0M1545.5 918.6h0M1545.9 804.2h0M1546.2 813.5h0M1546.2 807.3h0M1546.6 865.2h0M1547.6 816.2h0M1547.6 853.4h0M1547.7 815.8h0M1547.8 813.6h0M1550.1 806.9h0M1550.2 898.1h0M1550.2 859.7h0M1550.5 859.7h0M1551.2 855.7h0M1551.2 758.7h0M1551.3 815.3h0M1551.6 916.2h0M1551.6 785.5h0M1552.4 791.1h0M1552.8 818.3h0M1555.3 850.7h0M1555.5 798.2h0M1555.8 863.1h0M1556.2 888.9h0M1557.4 807.3h0M1558.8 868.2h0M1559.3 797.8h0M1559.7 762.4h0M1560.5 853.3h0M1562.4 844.4h0M1562.8 843.5h0M1563.1 875.1h0M1565.1 847.5h0M1565.3 756.6h0M1566.5 807.1h0M1566.8 800.6h0M1567.5 800h0M1567.6 863.8h0M1567.6 805h0M1567.8 760.5h0M1568.1 788.3h0M1568.2 862.8h0M1569.6 761.1h0M1569.7 880.7h0M1570.9 849h0M1571.6 840.8h0M1572.6 767.4h0M1573.3 761.6h0M1573.6 759.4h0M1574.9 781.6h0M1575.7 836h0M1577 791.7h0M1577.8 875.6h0M1578.8 790.5h0M1579.7 837.4h0M1580.2 840.8h0M1581.1 852.1h0M1581.5 772.4h0M1582.2 792.2h0M1584.1 789.2h0M1584.2 867.1h0M1585.9 853h0M1587.4 789.1h0M1587.5 792.8h0M1587.9 772.7h0M1588.1 777.7h0M1588.2 851.8h0M1590 770.9h0M1593 765.7h0M1593 827.6h0M1593.4 832.3h0M1594.1 859.7h0M1596.4 771h0M1596.7 787.2h0M1598.8 881.6h0M1599.2 772.4h0M1599.7 767.8h0M1600.8 835.8h0M1600.9 771.9h0M1601.4 743.5h0M1602.7 819h0M1604.7 854h0M1604.8 823.1h0M1605.2 817.1h0M1605.5 779.7h0M1605.9 850.9h0M1606.1 835.5h0M1606.6 773.9h0M1606.7 779.7h0M1610.6 760h0M1611.3 774.1h0M1611.6 766.6h0M1612.5 859.1h0M1612.6 849.6h0M1612.9 748.4h0M1613.6 741.7h0M1614.8 767.3h0M1615 771.1h0M1615.2 852.2h0M1615.5 817.2h0M1616.2 738.4h0M1616.6 813.8h0M1616.7 819h0M1616.7 810.8h0M1617.4 847.8h0M1617.7 818.8h0M1618 797.3h0M1619.2 772.9h0M1620 790.3h0M1620.3 771.5h0M1620.8 760.4h0M1622.3 724.4h0M1622.7 775.2h0M1622.7 765.6h0M1624.6 810.2h0M1626.2 765.2h0M1626.9 769.7h0M1627.5 775.5h0M1628 733.7h0M1629.6 819.8h0M1631 732.3h0M1631.5 744.3h0M1633 821.2h0M1633.3 754.5h0M1638.5 798.7h0M1646.7 782.9h0M1647.6 799.5h0M1648.1 816h0M1648.4 752.3h0M1651.2 789.7h0M1653.3 742.3h0M1653.8 774.2h0M1654.1 749.8h0M1656.1 736.7h0M1657.1 772.3h0M1657.3 790h0M1657.3 794.4h0M1658 776.2h0M1659 741.9h0M1661 812.1h0M1661.2 795.7h0M1662.2 742.9h0M1664.9 720h0M1666.8 737.4h0M1669.7 788.8h0M1670.4 734.9h0M1672.9 756.9h0M1674.9 792.2h0M1675 761.9h0M1677.4 731.1h0M1678 730.6h0M1679.3 807.5h0M1679.4 756.6h0M1681 721.6h0M1682.2 749.5h0M1687.2 714.7h0M1687.4 769.3h0M1691.5 716.6h0M1692.2 742.9h0M1692.9 719.5h0M1696.3 744.4h0M1697.2 769h0M1697.6 744.7h0M1699.8 734.4h0M1701.3 703.2h0M1703.1 729.1h0M1705.4 729h0M1706.1 715.5h0M1712.6 708.3h0M1713.2 726.1h0M1713.7 704.1h0M1715.1 722.4h0M1716.5 693.2h0M1717.7 709.7h0M1718.7 699.7h0M1719.3 733.7h0M1721.3 703.4h0M1725.8 699.9h0M1725.8 680.7h0M1730.7 694.2h0M1731.1 707.7h0M1732.9 693.6h0M1734.5 701.9h0M1735.5 705.8h0M1736.1 682.4h0M1739.5 713.7h0M1741.7 688h0M1743.5 704.2h0M1746.3 694.6h0M1753.5 678.9h0M1756.5 681.8h0M1756.8 686.8h0M1761.1 699.7h0"/>
<path class="d" d="M1307.8 975.9h0M1310.7 982.7h0M1312.9 984.3h0M1312.9 1022.4h0M1318.3 1012.7h0M1319.7 1019.8h0M1320.9 957h0M1321.1 1020.9h0M1321.5 1011.7h0M1321.5 952.4h0M1322.4 1003.1h0M1323.5 1016.4h0M1324.5 993.5h0M1326.2 850.3h0M1327.2 1019.6h0M1328.5 1027.2h0M1329.2 1001.7h0M1331.3 1024.9h0M1332.9 956.9h0M1333 1014.7h0M1333.5 1014.7h0M1334.7 1020.1h0M1335 966.8h0M1335.6 1027.6h0M1336 1014.2h0M1336.5 957.9h0M1337.3 1007.8h0M1337.9 1023.4h0M1338.2 1025.2h0M1338.7 1017.7h0M1339.1 953.6h0M1339.1 1013.8h0M1340.4 1008.8h0M1340.4 1026.4h0M1340.9 1020.8h0M1341 1017.4h0M1341.4 1025h0M1341.7 1021.5h0M1341.8 962.5h0M1342.7 1016.3h0M1342.7 1001.7h0M1343.2 1020.5h0M1343.5 1014.4h0M1343.8 1018.3h0M1345.7 1000.6h0M1346.2 988.3h0M1346.3 1006.5h0M1346.4 976.8h0M1346.5 988.8h0M1346.5 999.9h0M1346.5 976.1h0M1347 947.8h0M1347.3 1003.2h0M1347.6 980h0M1347.6 1009.5h0M1348.5 1018.5h0M1348.8 1019.8h0M1349.1 1007.3h0M1349.2 997.7h0M1349.4 968.2h0M1349.9 981.7h0M1350 976.2h0M1350.8 1014.9h0M1351.3 978.5h0M1351.5 1027.5h0M1351.7 978.6h0M1351.9 970.1h0M1352 990.1h0M1352.8 979.4h0M1353.4 963.9h0M1354.2 975.8h0M1354.3 980.6h0M1354.6 966.6h0M1355.1 976.8h0M1355.1 1020h0M1355.7 984.5h0M1355.8 963h0M1355.9 981.4h0M1356 1015.6h0M1356 1020.1h0M1356.2 975.5h0M1357.1 961.9h0M1357.6 1016.9h0M1357.6 992.2h0M1358 1005.3h0M1358.1 896.2h0M1358.3 948.3h0M1358.3 989.1h0M1358.4 981.2h0M1358.5 984.7h0M1358.8 1012.7h0M1359.3 1001.9h0M1359.3 1021.1h0M1361 969.8h0M1361.1 961.8h0M1361.1 988.9h0M1361.6 1014.5h0M1361.7 982.5h0M1361.8 989.5h0M1362 985.8h0M1363.5 1008.5h0M1363.9 1002.9h0M1363.9 989.7h0M1364.3 981.7h0M1364.5 995.6h0M1366.1 994h0M1367 978.3h0M1367.3 972.8h0M1369 968.1h0M1369.6 991.4h0M1369.6 954h0M1370.8 954.6h0M1371.8 996.5h0M1372.6 1009.6h0M1373.7 1002h0M1374.2 999.7h0M1374.6 1005.1h0M1375.1 1011.9h0M1375.7 949.8h0M1376 993.3h0M1376 1010.5h0M1376.2 988.5h0M1376.4 932h0M1376.4 988.9h0M1376.7 1009.8h0M1376.8 998.2h0M1378.1 982.1h0M1378.6 950.7h0M1379.2 947.1h0M1380.2 939.4h0M1380.3 1008.2h0M1380.4 1007.7h0M1380.5 1013.5h0M1380.9 1019.4h0M1381.3 1001.2h0M1381.5 999.8h0M1382 942.3h0M1382.1 938h0M1383 928.8h0M1383.2 939.6h0M1383.3 990.8h0M1383.3 1009.7h0M1384.3 1003.1h0M1385.7 986.3h0M1385.7 997.7h0M1386.1 935.1h0M1386.5 986.9h0M1386.7 939.2h0M1386.8 933.4h0M1388 999.4h0M1389 998.9h0M1389.6 1000.2h0M1390.5 932.6h0M1391.2 986h0M1391.6 1008.1h0M1391.9 984h0M1392.1 982.6h0M1392.6 928.1h0M1396.3 917.2h0M1396.7 926.2h0M1397.5 907.3h0M1398.9 985.7h0M1399 923.4h0M1399.1 918.4h0M1399.9 919.9h0M1400.9 977.6h0M1401 972.4h0M1402.6 970.5h0M1403.6 973.6h0M1404 918.9h0M1405 999.2h0M1409.8 911.4h0M1412.7 917.1h0M1413.4 908.7h0M1417.3 963.1h0M1419.2 973.7h0M1419.3 967.6h0M1420.4 977.9h0M1421.1 966.2h0M1421.4 972.6h0M1422.4 959.4h0M1423.1 905.3h0M1425 983.7h0M1426.9 908.9h0M1427.4 958.1h0M1427.5 903.2h0M1429.1 901.8h0M1431.9 953h0M1435 897.1h0M1435.5 961.3h0M1438 891.6h0M1439.5 874h0M1439.6 943.2h0M1441.9 891.9h0M1444.4 883.2h0M1444.5 850.5h0M1445.3 831.1h0M1445.7 840h0M1445.9 883.2h0M1446.1 961.3h0M1446.4 881.7h0M1448.4 939.1h0M1448.7 877.6h0M1449 832.4h0M1449.7 859h0M1453.2 949.1h0M1453.5 936.9h0M1455.7 876h0M1456.1 941h0M1456.4 939.7h0M1456.6 943.6h0M1457.8 977.9h0M1460.6 867.1h0M1460.6 872.4h0M1460.8 848.4h0M1461.2 849.3h0M1461.3 937.3h0M1463.2 829.5h0M1465.2 884.1h0M1466 871.7h0M1466.3 945.3h0M1466.5 927h0M1467 863.7h0M1467.2 956.2h0M1467.7 845.2h0M1469.3 892.1h0M1469.9 907.1h0M1470.6 873h0M1470.7 816.1h0M1472 882.2h0M1472.2 862.6h0M1472.6 854.4h0M1472.8 867.7h0M1473.1 808.5h0M1474.3 866.4h0M1474.5 827.5h0M1475.8 927.9h0M1476.6 970.9h0M1479.1 943.9h0M1479.2 843.9h0M1479.3 837.7h0M1479.6 900.7h0M1479.6 858.7h0M1481.6 956.5h0M1483.1 897.3h0M1484.3 923.7h0M1485.4 899.4h0M1488.1 853.2h0M1489.3 855.8h0M1490.9 928.9h0M1491.6 896.8h0M1491.8 938h0M1492.5 920.2h0M1493.8 936.9h0M1495.1 849h0M1496.1 805.2h0M1496.6 908.2h0M1496.8 847.6h0M1497.2 785.6h0M1498.8 850.2h0M1498.9 850.8h0M1499.2 784.8h0M1500 837.4h0M1500.1 845.3h0M1501.6 845.7h0M1502.4 841.3h0M1502.6 899.6h0M1502.9 787.9h0M1503.4 818.7h0M1503.9 844.8h0M1504.4 898.4h0M1504.5 925.2h0M1505.3 811.5h0M1507.9 842.6h0M1508.4 840.4h0M1508.8 894.4h0M1509.7 835.8h0M1511.8 759.4h0M1511.9 906.8h0M1512.7 802.6h0M1513.2 827.6h0M1513.2 837h0M1513.5 837.1h0M1515.2 828.7h0M1515.9 817.6h0M1516.3 902.8h0M1516.3 918.1h0M1516.3 785.4h0M1516.8 756h0M1516.8 761.3h0M1516.9 755.9h0M1517 884.2h0M1517.1 752.4h0M1517.9 761.9h0M1518 886.9h0M1518.2 825.9h0M1518.8 734.5h0M1519 899.2h0M1519 907h0M1520.3 892.7h0M1520.6 826.4h0M1520.9 894.1h0M1521 921.8h0M1521.7 810h0M1522.4 831.3h0M1522.7 933.1h0M1524.1 832.8h0M1524.2 829.8h0M1524.7 821.3h0M1526 888.7h0M1527 799.9h0M1527.2 777.3h0M1527.5 779.8h0M1527.6 763.7h0M1528 830.6h0M1528.9 829.3h0M1529.2 821.3h0M1529.6 881.2h0M1529.7 829.7h0M1530.4 766.4h0M1530.5 794.6h0M1530.7 763h0M1531.3 779.9h0M1531.5 754.2h0M1531.9 894.8h0M1533.8 769.4h0M1534 819.2h0M1534.1 755.3h0M1534.3 822.4h0M1535.1 774.1h0M1535.3 930.9h0M1535.6 773.6h0M1535.7 811.3h0M1537.2 809.9h0M1537.4 816.6h0M1538.2 773.1h0M1538.7 819.2h0M1539.1 763.8h0M1540 813.3h0M1540.3 910.1h0M1541.3 877.6h0M1542.1 818.4h0M1544.4 877.2h0M1544.8 870.2h0M1545.1 896.7h0M1545.1 766.2h0M1546 862.7h0M1546.2 898.6h0M1546.2 870.5h0M1546.4 759.9h0M1547.7 874.9h0M1547.8 884.1h0M1548.2 788.7h0M1550.3 801.1h0M1552.2 802.3h0M1552.2 870.2h0M1553.7 814.8h0M1554.4 860.6h0M1554.7 811.8h0M1555.6 871.7h0M1555.6 810.1h0M1555.9 810.6h0M1556.5 854.8h0M1557.8 857.5h0M1558.7 866.9h0M1559 848.4h0M1559.4 786h0M1559.5 851.4h0M1559.8 847.5h0M1560.1 882h0M1561.2 800.7h0M1561.3 771.9h0M1562 801.5h0M1563.5 800.5h0M1563.8 758.8h0M1565.1 769.4h0M1565.5 842.5h0M1567.3 768.9h0M1567.6 772.1h0M1567.7 882.8h0M1567.9 803.8h0M1568.7 753.7h0M1569.5 839.4h0M1570.1 773.7h0M1571.2 851.2h0M1571.6 743.1h0M1571.8 868.2h0M1573.1 867.1h0M1573.1 782.5h0M1575.2 786.5h0M1576.4 865.6h0M1577.1 840.7h0M1577.3 759h0M1577.9 855.5h0M1578.3 795.2h0M1578.7 835.2h0M1578.7 881.2h0M1579.4 838.1h0M1579.5 874.4h0M1580.3 797.4h0M1580.8 834.2h0M1581 789.8h0M1581 769.6h0M1581 838.5h0M1581.6 844h0M1584.3 791.1h0M1585.3 787.8h0M1585.4 859.6h0M1585.9 831.6h0M1586.2 853.2h0M1587.1 837.9h0M1587.7 747.1h0M1587.7 846.8h0M1587.8 789.1h0M1590.2 781.3h0M1591.9 866h0M1592.2 827h0M1592.9 784h0M1594.6 846.5h0M1595.8 831.2h0M1596.6 905.4h0M1596.9 742.5h0M1597 860.5h0M1597.2 838h0M1597.3 780h0M1597.5 823h0M1598 782.4h0M1600.5 769.1h0M1602 780h0M1602.3 822.2h0M1602.7 855.1h0M1603.1 778.2h0M1603.3 821.2h0M1603.5 775.8h0M1604.2 825h0M1604.4 774.8h0M1604.5 821.3h0M1605 851.6h0M1605.3 773.3h0M1607 854.3h0M1607.3 783.4h0M1608 864.9h0M1608.5 823.9h0M1609.3 825h0M1610.1 830.1h0M1610.2 819.7h0M1610.5 812.3h0M1611.8 775.1h0M1612.5 769.4h0M1612.6 820.8h0M1612.9 726.3h0M1613.6 820.2h0M1614 739.6h0M1614.8 748.1h0M1615.2 759.2h0M1615.4 776.9h0M1616.2 859.7h0M1616.9 813.6h0M1617.8 770.4h0M1617.9 807.8h0M1618.6 807.7h0M1619.4 793.6h0M1620.5 774h0M1621.7 805.6h0M1622.3 742.4h0M1624.1 731h0M1626.9 818.7h0M1629.6 762h0M1631.2 759.8h0M1636.5 745.5h0M1637.2 793.7h0M1639.2 756.2h0M1643.4 739.4h0M1643.4 753.7h0M1644.6 787.1h0M1646.3 787.3h0M1647.5 738.6h0M1648.8 794.8h0M1649 811.5h0M1649.9 743h0M1651.8 776.9h0M1652.5 732.7h0M1654.4 744.7h0M1655.8 783.9h0M1656.5 794.4h0M1656.8 805.5h0M1658.9 771.4h0M1659.4 800.2h0M1659.6 778.3h0M1660.2 811.2h0M1660.6 723.8h0M1667.4 793.9h0M1672.5 759h0M1672.7 734.6h0M1678.4 725.4h0M1683 750.1h0M1686.3 748.5h0M1687 727.2h0M1689.1 757.8h0M1693.5 738.7h0M1695.3 717.7h0M1695.5 741.5h0M1695.7 712.4h0M1696.2 735.1h0M1697.4 769.3h0M1697.6 708.7h0M1698.1 716.7h0M1703.4 715.8h0M1710 714.6h0M1710.1 709.7h0M1713.2 725.5h0M1713.7 688.1h0M1715.2 729.2h0M1722 718.2h0M1722.6 714.4h0M1723.8 697.9h0M1725.7 732.4h0M1726.3 702.6h0M1728.1 721.4h0M1728.4 707.3h0M1730.1 698h0M1733 709.7h0M1733.8 728.8h0M1735.6 710.2h0M1736.4 709.7h0M1736.4 715.9h0M1736.9 693.2h0M1737.5 715.1h0M1739 688.5h0M1740.3 668.8h0M1742.5 700.9h0M1744.5 696.7h0M1746.8 681.6h0M1748.5 695.1h0M1750.6 679.3h0M1751.8 680.4h0M1754.6 686.9h0M1754.9 702.6h0M1755.4 693.1h0M1755.5 678.6h0M1765.2 696.3h0"/>
<path class="d" d="M1302.2 959h0M1309.9 1002h0M1313.2 1020.6h0M1315.1 971.1h0M1315.3 1016h0M1317.7 1014.3h0M1320.1 957.1h0M1320.1 1016.2h0M1321.1 1021.8h0M1321.6 1006.8h0M1324.7 1026.9h0M1326.3 961h0M1328.9 1020.8h0M1329 1026.2h0M1329.2 1019.8h0M1329.8 1012.1h0M1330.2 1020.6h0M1330.3 1018.2h0M1330.6 1022.7h0M1332.2 1020h0M1334.4 1021.5h0M1334.7 1012.8h0M1335.6 1017.6h0M1335.7 961.4h0M1335.9 942.1h0M1336.1 1020.5h0M1337.5 1005.4h0M1338.2 1006.2h0M1338.6 951.4h0M1338.8 1026.9h0M1338.9 1003.2h0M1339 967.5h0M1339.9 1024.4h0M1339.9 1028.5h0M1339.9 1005.4h0M1340.9 1011.6h0M1342.3 1014.2h0M1342.8 998.8h0M1342.8 1015.6h0M1344.6 991h0M1345.1 1009.5h0M1345.6 985.8h0M1346 990.5h0M1346.4 1003.9h0M1346.5 989.9h0M1347.1 1007.9h0M1347.9 984.3h0M1348 962.7h0M1348.4 988.6h0M1348.5 974.8h0M1349 1003.3h0M1349.1 1013.6h0M1349.4 971.6h0M1349.5 973.1h0M1350 982.7h0M1350.2 987.5h0M1350.7 987.5h0M1350.9 962.1h0M1351.1 1014.5h0M1351.1 1022h0M1351.3 970.6h0M1351.8 1022.1h0M1352.1 1025.3h0M1352.3 963.1h0M1352.5 1022.3h0M1352.5 984.2h0M1352.5 959h0M1353 977.3h0M1353.4 990.2h0M1353.8 976.4h0M1353.9 1025.2h0M1355.5 1012.4h0M1355.8 1025.3h0M1356 1016.4h0M1356.8 991.6h0M1358.1 997.7h0M1359.2 999.8h0M1359.3 1025.9h0M1359.5 1024.8h0M1359.5 989.4h0M1359.5 977.7h0M1361.2 965h0M1361.6 977.2h0M1362.2 979.3h0M1362.4 956.1h0M1362.9 967.1h0M1363 995h0M1364.2 993.8h0M1364.9 982.9h0M1365 965.6h0M1366.1 1005h0M1366.1 977.2h0M1367.2 985h0M1367.9 968h0M1368.3 1009.7h0M1368.4 1019.5h0M1368.4 954.8h0M1369 963.8h0M1370 955.9h0M1370.3 1001.6h0M1370.5 998.9h0M1371.5 992.3h0M1371.7 982.9h0M1372.2 993.2h0M1372.7 990.3h0M1372.9 1016.1h0M1373.2 953.8h0M1373.3 961.7h0M1373.5 1014.9h0M1373.5 1000.4h0M1375.3 995.5h0M1376 1000.7h0M1376.4 986.6h0M1376.7 991.6h0M1377.4 946.5h0M1377.5 997h0M1378.3 1003.2h0M1378.9 986.1h0M1379.4 979.8h0M1380.8 990.7h0M1380.8 1000.6h0M1380.9 1012.1h0M1381.4 934.3h0M1381.5 928.7h0M1381.5 1014.2h0M1381.7 990.2h0M1382.1 981.9h0M1382.1 998.6h0M1383.8 828.7h0M1384.7 938.5h0M1385.6 1019.4h0M1386.2 1003.6h0M1386.7 1009.5h0M1386.9 993.4h0M1386.9 836.2h0M1387 986.2h0M1387.1 1003.6h0M1387.6 1012.2h0M1390.5 996h0M1391.3 923.1h0M1391.4 982.7h0M1391.4 1001.6h0M1392.4 977.5h0M1392.9 987h0M1395.8 1010h0M1396.8 926.2h0M1397 919.6h0M1398.3 993.9h0M1401.3 975.9h0M1401.6 919.7h0M1401.9 996.1h0M1402.7 923.4h0M1403.8 917.4h0M1405.4 978.4h0M1407.2 918.6h0M1409 965.2h0M1410.9 995h0M1411.3 912.7h0M1412.8 911.2h0M1415.1 912.4h0M1415.7 913.4h0M1416.3 966.5h0M1417.2 966.3h0M1417.3 975h0M1418 988.1h0M1418.4 996.9h0M1418.5 973.6h0M1421.4 905h0M1425.6 900.5h0M1426 964.5h0M1427.1 884.4h0M1427.4 901.8h0M1429.6 979h0M1433.2 892.2h0M1435.5 893.5h0M1436.6 943.3h0M1436.8 897.6h0M1437.5 960h0M1440.7 941.9h0M1440.7 977.8h0M1443.9 886.5h0M1445.6 965.9h0M1446.3 879.2h0M1446.9 865.4h0M1448.4 972.5h0M1450.2 868.5h0M1450.2 951.1h0M1451 865.1h0M1452.6 820.3h0M1452.9 879.8h0M1453.7 876.5h0M1455.1 937.6h0M1455.6 846.3h0M1455.8 869.7h0M1456.7 972h0M1456.9 871h0M1463.5 931.3h0M1463.5 940.4h0M1465.1 873.3h0M1465.2 950.6h0M1468.5 864.3h0M1468.7 893.9h0M1468.7 857.2h0M1470 818h0M1470.5 867.7h0M1470.7 904h0M1470.9 890.9h0M1471.2 936h0M1471.4 835.7h0M1472 844h0M1472.4 859h0M1473.8 809h0M1474.2 897h0M1474.4 857.9h0M1474.9 929.3h0M1475 865.9h0M1475.3 860.9h0M1476.4 923.2h0M1476.6 977.2h0M1476.6 837.8h0M1477.2 860.4h0M1480.5 807.6h0M1481 852.1h0M1481.3 924.9h0M1481.4 929.5h0M1482.2 940h0M1484 858.7h0M1484.2 857.3h0M1484.4 966.3h0M1485.7 795.9h0M1485.9 846.2h0M1488.2 838.1h0M1488.4 839.5h0M1488.8 969.1h0M1489.2 948.5h0M1489.4 964.1h0M1489.5 925.3h0M1490.5 848.7h0M1491.9 846.7h0M1493.4 795.3h0M1494.2 845.5h0M1494.4 848.8h0M1494.9 832.1h0M1496 923.2h0M1496.5 822.9h0M1497.6 784.3h0M1497.6 844.1h0M1498.3 812.7h0M1498.7 840.9h0M1499.8 956.7h0M1501.4 903.1h0M1502.6 922.2h0M1502.8 919h0M1503.8 966.5h0M1503.9 923.7h0M1504.3 840.3h0M1504.9 942.9h0M1506.7 956.5h0M1507.1 946.5h0M1507.3 912.6h0M1507.4 787.8h0M1507.9 818.4h0M1508.2 761.7h0M1508.4 838.4h0M1510 924.6h0M1510.3 780.4h0M1510.3 779.9h0M1510.5 757.4h0M1512.5 939.2h0M1513.1 886.1h0M1513.6 899.8h0M1514.3 787.4h0M1514.9 775.3h0M1515.4 893.2h0M1516.3 786h0M1516.3 926.5h0M1516.5 916.1h0M1516.8 833h0M1517.6 799.2h0M1517.8 789.3h0M1518.4 772.9h0M1518.6 887.9h0M1519 772.2h0M1519.2 956.1h0M1519.2 895h0M1519.7 835.6h0M1520.6 826.3h0M1520.8 808.7h0M1520.9 797.8h0M1521.5 814.9h0M1522 928h0M1522.1 891h0M1522.7 885.8h0M1524.3 825.2h0M1525.1 786.9h0M1526 910.3h0M1526.3 935h0M1526.3 824.2h0M1527.9 872.3h0M1528.9 876h0M1529 813.2h0M1529.1 747.9h0M1529.4 904.3h0M1530.8 921.8h0M1531.2 795.9h0M1531.9 944.4h0M1533 787.4h0M1533.7 769.7h0M1534.3 800.9h0M1534.5 825.3h0M1534.5 872.3h0M1536 928.9h0M1537.2 764.8h0M1538.2 817.7h0M1538.6 865.3h0M1539.1 814.2h0M1539.7 875.8h0M1539.7 820.4h0M1539.9 819.8h0M1540.2 881.9h0M1540.4 822.3h0M1541 824h0M1541.9 930h0M1542.8 756.1h0M1543.2 917.4h0M1543.6 818h0M1544.4 874.6h0M1544.7 913.8h0M1545.1 914.4h0M1546.1 822.4h0M1547 815.4h0M1547.2 859.4h0M1547.2 817.2h0M1547.8 881.8h0M1548.2 819.2h0M1549.7 860.4h0M1550.5 809.6h0M1550.6 899h0M1550.8 892.3h0M1552.4 856.6h0M1552.5 875.1h0M1555.3 780.1h0M1555.6 805.4h0M1555.7 762.8h0M1556.7 851.5h0M1556.9 792.8h0M1557.8 759.6h0M1558.9 890.8h0M1559.4 876.4h0M1559.8 808h0M1559.9 873.6h0M1560 804.8h0M1560.5 856.8h0M1561.3 800.3h0M1561.4 807.2h0M1561.9 768.1h0M1562.1 768.1h0M1562.4 889.3h0M1562.8 759.1h0M1563.4 805.7h0M1563.4 798.1h0M1563.9 787.6h0M1564.3 759h0M1564.6 878.1h0M1565 845h0M1565.9 766h0M1568.4 769.2h0M1569 764.4h0M1569.2 767.5h0M1569.4 880.6h0M1570.3 789.7h0M1570.3 775.9h0M1570.9 841.5h0M1571.3 742.8h0M1571.5 775.5h0M1572 795h0M1572.5 770.6h0M1572.8 770h0M1573 850.7h0M1573.2 799.7h0M1573.5 794.1h0M1574.2 794.7h0M1575.7 792.5h0M1575.9 872.7h0M1576 840h0M1576 790.6h0M1576.1 839.4h0M1576.2 838.4h0M1576.7 743.5h0M1577.8 875.6h0M1577.9 862.6h0M1578.1 797h0M1578.7 794.7h0M1578.8 839.9h0M1578.8 857.4h0M1579.1 845.4h0M1579.8 776.7h0M1580.3 833.8h0M1582.4 787.7h0M1582.5 839.5h0M1582.7 833h0M1582.9 790h0M1583.7 841.5h0M1586.1 880.5h0M1586.3 784.5h0M1586.4 787.3h0M1587.2 776.5h0M1587.5 836.2h0M1588 841.4h0M1590.5 832.3h0M1590.7 826.5h0M1591.3 854.5h0M1594.4 757.1h0M1594.5 779.2h0M1594.6 765.6h0M1594.6 846.4h0M1595.1 779.1h0M1596.3 823.8h0M1597.3 785.5h0M1598.7 822.4h0M1598.8 880.6h0M1600.1 854.4h0M1600.2 822.6h0M1600.4 760.3h0M1603.2 836.9h0M1603.3 753.2h0M1604.8 824.5h0M1605.3 846h0M1606 840.4h0M1606.4 754.8h0M1610.9 817.8h0M1611 814.7h0M1611.5 748.3h0M1611.5 834h0M1611.8 732.3h0M1616.8 811.1h0M1617.2 767h0M1618.4 813.9h0M1618.9 777.8h0M1619.7 787h0M1620.3 816.1h0M1620.5 720.4h0M1621.2 810.6h0M1623.7 787.7h0M1624 782.1h0M1624.1 803.6h0M1625.2 769.7h0M1626.7 800.8h0M1629.3 754.3h0M1630.2 818.5h0M1632.5 796.3h0M1634.5 755.7h0M1635.4 802.4h0M1638.6 742.6h0M1639 743.9h0M1639.9 792.2h0M1641.1 747.9h0M1643.7 755.1h0M1644 731.2h0M1645.4 804.9h0M1646.5 785.7h0M1648.8 922.3h0M1649.2 810.5h0M1650.9 804.1h0M1652.6 740.5h0M1655.9 814.1h0M1660.5 776.1h0M1661.1 790.1h0M1663.8 808.1h0M1663.9 786.5h0M1664.2 771.3h0M1664.7 739.9h0M1666.1 765.7h0M1667.3 823.5h0M1668 770.2h0M1668.2 764.7h0M1670.2 822.4h0M1670.9 730.5h0M1670.9 725.1h0M1671.8 818.1h0M1677 733.2h0M1679.2 717.6h0M1683.9 754.6h0M1685.3 768.8h0M1689.5 743.8h0M1690 721.9h0M1698.9 743h0M1702.6 709.2h0M1703.5 749.1h0M1710.6 724.6h0M1716.9 722.1h0M1718.4 722h0M1718.6 706.7h0M1722.4 719.6h0M1725.4 696.8h0M1726.2 720.8h0M1728.2 723.2h0M1728.3 710.6h0M1728.7 723.8h0M1733.8 675.4h0M1738.3 686.7h0M1740.1 677.8h0M1741.9 682.3h0M1744 699.1h0M1744.3 677.3h0M1751.4 692.8h0M1753.6 704h0M1759.9 691.6h0M1760.6 700.7h0M1760.8 698.2h0M1762.2 694.6h0M1763 684.3h0M1764 681.8h0M1768.8 693.2h0M1774.3 679.7h0M1778 677.8h0"/>
<text class="lab" x="1219.2" y="581.8">F</text>
<text class="ttl" x="1364" y="576.8">Phosphate</text>
<text class="ttl" x="1313" y="622">y=1.006x<tspan stroke="#000" stroke-width="1.3">-</tspan>0.006</text>
<text class="ttl" x="1314" y="670.4">R^2=0.972</text>
<text class="tk" text-anchor="middle" transform="translate(1294.3 1075.8) scale(.89 1)">0</text>
<text class="tk" text-anchor="middle" transform="translate(1437.1 1075.8) scale(.89 1)">1</text>
<text class="tk" text-anchor="middle" transform="translate(1579.9 1075.8) scale(.89 1)">2</text>
<text class="tk" text-anchor="middle" transform="translate(1722.7 1075.8) scale(.89 1)">3</text>
<text class="tk" text-anchor="middle" transform="translate(1263.8 1030) rotate(-90) scale(.93 1)">0</text>
<text class="tk" text-anchor="middle" transform="translate(1263.8 924.4) rotate(-90) scale(.93 1)">1</text>
<text class="tk" text-anchor="middle" transform="translate(1263.8 818.9) rotate(-90) scale(.93 1)">2</text>
<text class="tk" text-anchor="middle" transform="translate(1263.8 713.3) rotate(-90) scale(.93 1)">3</text>
<text class="tk" text-anchor="middle" transform="translate(1263.8 607.8) rotate(-90) scale(.93 1)">4</text></g>
<g><g stroke="#808080" stroke-width="3.6" fill="none">
<path d="M86.3 1143.5V1577.8M77.1 1568.6H589.1M149 1568.6v6.8M211.6 1568.6v9.2M274.3 1568.6v6.8M336.9 1568.6v9.2M399.6 1568.6v6.8M462.3 1568.6v9.2M524.9 1568.6v6.8M587.6 1568.6v9.2M86.3 1530.1h-6.8M86.3 1491.6h-9.2M86.3 1453.1h-6.8M86.3 1414.6h-9.2M86.3 1376h-6.8M86.3 1337.5h-9.2M86.3 1299h-6.8M86.3 1260.5h-9.2M86.3 1222h-6.8M86.3 1183.5h-9.2M86.3 1145h-6.8"/></g>
<path d="M88 1566.3L573.1 1269.7" stroke="#e31a1c" stroke-width="5.2" stroke-linecap="round" fill="none"/>
<polygon fill="#404040" points="89.4,1569.7 98.8,1570.6 108.1,1563.1 121.3,1555.6 136.3,1546.3 147.5,1536.9 158.8,1527.5 173.8,1520 185,1512.5 200,1505 215,1497.5 230,1491.9 241.3,1486.3 254.4,1482.5 267.5,1478.8 275,1471.3 286.3,1467.5 297.5,1460 310.6,1452.5 321.9,1445 331.3,1441.3 346.3,1435.6 357.5,1428.1 368.8,1422.5 380,1413.1 391.3,1407.5 398.8,1400 410,1396.3 410,1328.8 398.8,1336.3 387.5,1343.8 376.3,1351.3 365,1356.9 357.5,1366.3 353.8,1377.5 346.3,1388.8 335,1398.1 323.8,1405.6 312.5,1411.3 301.3,1418.8 290,1424.4 278.8,1431.9 267.5,1441.3 256.3,1448.8 245,1458.1 233.8,1465.6 222.5,1471.3 211.3,1480.6 200,1486.3 188.8,1495.6 177.5,1505 166.3,1514.4 155,1521.9 143.8,1529.4 132.5,1535 121.3,1542.5 110,1550 98.8,1557.5 89.4,1565"/>
<polygon fill="#404040" points="280,1430 291.3,1428.5 302.5,1421.8 313.8,1414.3 325,1405.6 336.3,1396.3 347.5,1385 355,1373.8 358.8,1360.6 362.5,1349.4 370,1338.1 381.3,1334.4 392.5,1336.3 400,1330.6 411.3,1328.8 422.5,1326.9 433.8,1325 445,1321.3 456.3,1315.6 467.5,1310 475,1304.4 482.5,1308.1 490,1315.6 495.6,1323.1 495.6,1332.5 490,1341.9 482.5,1349.4 471.3,1356.9 460,1364.4 448.8,1371.9 441.3,1381.3 437.5,1392.5 430,1400 422.5,1407.5 411.3,1411.3 400,1415 388.8,1422.5 377.5,1430"/>
<path class="d" d="M89.2 1565h0M96.1 1567.6h0M98.7 1567.3h0M107.6 1548.9h0M110.1 1557.7h0M114 1554.9h0M115.2 1563.6h0M118.4 1540h0M118.8 1553.5h0M126.7 1542.5h0M135.3 1534.8h0M138.2 1543.6h0M138.8 1525.1h0M139.5 1533.4h0M139.8 1528.6h0M144.3 1565.4h0M145.2 1527.3h0M155.4 1536.1h0M156.9 1542.5h0M158.5 1524.9h0M161.4 1522.3h0M165.8 1519.4h0M168.1 1555.3h0M170.1 1524.6h0M172.1 1530.4h0M172.3 1500.9h0M177.1 1512.9h0M179.7 1512.2h0M184.3 1547.1h0M187.8 1535.9h0M188.4 1496.4h0M192.5 1546.6h0M193.4 1497.6h0M202.1 1503.7h0M208.8 1502.4h0M212.4 1496.3h0M213.9 1521.8h0M214.3 1471.8h0M214.7 1502.4h0M221.9 1474.2h0M222.3 1471h0M225.7 1516.2h0M228.1 1506.3h0M231.3 1458.4h0M233.9 1490.8h0M237.1 1465.9h0M240.5 1446.1h0M240.5 1464.6h0M241.4 1460.6h0M243 1450h0M243.2 1417.5h0M243.7 1417.3h0M247.4 1427.6h0M248.1 1414.3h0M248.7 1459.6h0M248.9 1455.6h0M251.1 1413.4h0M253.2 1479.3h0M255.5 1430.6h0M255.9 1480.3h0M256 1408.9h0M256.3 1512.5h0M256.6 1450h0M257.2 1441.6h0M259.7 1509h0M263 1408.1h0M266.5 1425h0M266.6 1502.2h0M268.1 1472.4h0M268.2 1475.5h0M268.4 1415.8h0M268.7 1477.8h0M270.7 1510.4h0M270.7 1441.7h0M271.6 1431.9h0M272.8 1410.4h0M277.5 1478.6h0M277.7 1426.7h0M278.8 1482.5h0M279.2 1465.2h0M280.3 1398.5h0M282.5 1433.4h0M282.7 1492.1h0M283.6 1467.5h0M283.6 1492.8h0M284.5 1476.7h0M285.2 1397.5h0M286.4 1466.6h0M286.8 1433.6h0M286.8 1341.5h0M286.9 1341.9h0M287.8 1396.8h0M289.5 1416.4h0M289.9 1424.6h0M290.8 1404h0M291 1394.8h0M291.9 1463.8h0M292.5 1422.5h0M292.8 1418.3h0M293.5 1480.5h0M293.7 1370.4h0M293.8 1370.6h0M294.5 1406.7h0M295.4 1428h0M297.7 1429.8h0M298.2 1474.4h0M299.6 1393.2h0M300.5 1466.2h0M300.8 1469.7h0M304.2 1421.1h0M304.8 1407.4h0M305 1453.1h0M305.5 1405.6h0M305.6 1418.9h0M305.8 1425.9h0M306.3 1461.3h0M307.3 1456.9h0M307.7 1408.9h0M307.8 1349h0M307.9 1451.9h0M309.8 1394h0M310.8 1464h0M312.1 1450.5h0M312.2 1426h0M313.2 1414.2h0M314.2 1456.8h0M314.7 1408.2h0M315 1461.1h0M317.2 1405.8h0M317.4 1453.7h0M318 1476.7h0M319 1426.6h0M322.4 1381.3h0M323.1 1441.2h0M323.1 1452.1h0M323.4 1396.2h0M323.8 1470h0M324 1408.7h0M324.9 1359.4h0M325.1 1471.8h0M326 1459.3h0M326.6 1399.7h0M326.7 1397.5h0M326.9 1400.7h0M327.3 1390.9h0M329.5 1437.6h0M330 1442.4h0M330 1350.8h0M330.3 1461.5h0M330.8 1400.5h0M331.1 1429.3h0M331.3 1397.7h0M332.3 1392.8h0M332.5 1390.9h0M332.5 1332.5h0M332.8 1385.9h0M332.8 1369.7h0M333.1 1380h0M333.6 1450.4h0M334 1472.6h0M335.2 1363.4h0M335.4 1429.3h0M335.9 1396h0M336 1464.3h0M336.4 1402h0M336.6 1428.7h0M337 1350.9h0M338 1440.2h0M338.5 1438.1h0M339.7 1393.5h0M340 1360.1h0M340 1439.9h0M340.6 1479.7h0M340.7 1386.6h0M341.7 1430.1h0M341.7 1391.1h0M342.1 1455.4h0M342.2 1481h0M342.2 1328.6h0M342.8 1382.9h0M343 1365.7h0M343.2 1393.3h0M343.4 1373.3h0M343.6 1373.9h0M343.9 1478.8h0M344 1385.7h0M344.8 1426.8h0M345.8 1434.8h0M346 1347.3h0M346.5 1436.3h0M347.7 1390.4h0M348.5 1456.2h0M349.3 1458.7h0M349.5 1444.7h0M349.6 1386.3h0M350 1451.5h0M350 1465.3h0M350.2 1324.4h0M350.9 1428.6h0M351.2 1384h0M351.3 1441.1h0M351.3 1335.9h0M351.4 1378.2h0M351.7 1374h0M352.2 1366.4h0M352.5 1343.2h0M352.6 1350.1h0M352.8 1439.1h0M353 1438.5h0M354.1 1378.4h0M354.4 1342.3h0M354.6 1434.2h0M355.5 1375.2h0M357.6 1377.2h0M357.8 1346.8h0M358 1341.5h0M358.2 1348h0M358.8 1353h0M358.8 1320.7h0M359.4 1434.6h0M360.2 1362.5h0M360.7 1369.3h0M362.3 1359.3h0M362.9 1360h0M364.2 1428.9h0M365.3 1436.4h0M365.4 1481.9h0M367.7 1319.2h0M368.3 1428.5h0M369.9 1417.7h0M370.4 1428h0M370.6 1421.1h0M372.2 1430.6h0M373.6 1425h0M374.8 1427.2h0M375 1356h0M376.2 1344.2h0M379.9 1418.5h0M381.5 1475.9h0M382.4 1425.2h0M383 1330.7h0M383.2 1425.8h0M383.3 1350.1h0M383.5 1330.1h0M383.7 1413.8h0M386.6 1440.3h0M387.6 1315.9h0M388.7 1332.2h0M389 1340.6h0M390.3 1430h0M391.6 1316.2h0M392.5 1400.5h0M392.6 1346.4h0M394.4 1305.7h0M394.4 1338.8h0M394.6 1405.2h0M396.6 1400.6h0M397.3 1427.3h0M397.9 1412.5h0M398.2 1313.8h0M398.8 1311.3h0M399 1403.3h0M399.2 1330.1h0M399.6 1326.2h0M400 1411.8h0M400 1329h0M402.3 1325.9h0M402.7 1420.7h0M403 1405.8h0M404.5 1335.3h0M404.5 1337.2h0M404.6 1325.9h0M406.2 1340.4h0M406.6 1372.8h0M406.9 1393.2h0M407.4 1338.3h0M407.8 1302.1h0M408 1346.9h0M409.9 1311.7h0M410 1482.5h0M410 1349.5h0M410.1 1313.2h0M410.6 1462.2h0M411 1416.1h0M411.2 1455.6h0M411.8 1330.8h0M412.5 1475h0M412.7 1331.8h0M413.5 1405.9h0M414.4 1373.4h0M419.7 1299.7h0M420.9 1403.8h0M421.3 1413.5h0M422.2 1405.4h0M422.7 1409.7h0M424.2 1421.3h0M424.8 1405.5h0M427.1 1406.3h0M428.5 1434.1h0M429 1328.7h0M430 1267.3h0M430.1 1395.9h0M431.1 1423.1h0M431.8 1414.3h0M434.3 1328.9h0M434.9 1328.2h0M436.6 1391h0M438.1 1312.3h0M438.4 1397.8h0M439.1 1386h0M440.1 1325.4h0M440.1 1315.1h0M445.5 1427.9h0M446.9 1282.3h0M448.5 1320.2h0M450.3 1416.2h0M450.5 1387.6h0M451 1307.8h0M451.7 1392.4h0M453.9 1386.4h0M457 1405.3h0M459.3 1373.6h0M460.8 1393h0M462.7 1372.1h0M464.1 1292h0M465 1414.2h0M468.2 1367.7h0M469.2 1354.2h0M469.5 1357.2h0M471.8 1389.1h0M472.6 1391h0M473.5 1386.8h0M473.7 1403.8h0M475.3 1308.3h0M476.1 1307.3h0M476.7 1308h0M480.8 1285.6h0M481 1427.2h0M482.1 1284.7h0M484.1 1297.7h0M485.5 1340h0M487.2 1318h0M490.8 1301.5h0M493.5 1327.4h0M494.7 1366.4h0M494.9 1329.3h0M496.6 1330.7h0M497.5 1309.6h0M497.6 1303h0M498.1 1287.5h0M498.9 1357.6h0M500.1 1346.6h0M505.3 1369.2h0M506.2 1357.9h0M507.7 1285.7h0M507.7 1288.3h0M509.3 1359.7h0M510.6 1349h0M511.1 1351h0M511.9 1365.5h0M518.5 1286h0M526.2 1306.5h0M531.4 1341.1h0M532.9 1322.3h0M537.8 1319.9h0M540.3 1284.7h0M540.6 1335.9h0M554.7 1309.1h0M556.9 1273.1h0M568.8 1259.9h0M571.2 1305.3h0"/>
<path class="d" d="M87.5 1559.1h0M93.5 1564.2h0M94.5 1560.6h0M102.2 1559.4h0M104.7 1565.8h0M105.9 1555.9h0M109.2 1563h0M109.8 1552.4h0M114.2 1552.8h0M115.8 1554.9h0M118.2 1545.4h0M125.4 1556.2h0M129.6 1550.8h0M133.7 1546.5h0M134.5 1546.7h0M140.4 1549.4h0M141.4 1532.7h0M143.7 1552.5h0M147.5 1509.3h0M148.3 1526.4h0M150.3 1557.1h0M154.4 1520.6h0M160.6 1531.3h0M161.3 1523.1h0M162.9 1513.4h0M165.3 1535h0M165.6 1518.4h0M173.6 1520.3h0M175.6 1515.9h0M178.9 1545.6h0M182.2 1548.4h0M183.9 1504.1h0M186.5 1508.1h0M187.6 1532.8h0M188.4 1505.6h0M188.5 1496h0M189.4 1495h0M193.8 1532.6h0M194.6 1508h0M194.9 1487.4h0M201.4 1506.7h0M201.5 1482.9h0M202.2 1521.5h0M202.4 1485.4h0M207.7 1476.2h0M211.8 1481h0M212 1501.9h0M212 1481.5h0M214.1 1494.5h0M216.1 1503.2h0M216.8 1501.3h0M219.3 1495.9h0M220.2 1492.2h0M221.6 1467.1h0M223.4 1443.5h0M226.8 1513.4h0M227.2 1515.3h0M227.9 1471.5h0M227.9 1469.3h0M228.1 1441.3h0M231.5 1436h0M231.9 1467.2h0M234.2 1509.8h0M237 1429.9h0M237 1503.9h0M237.9 1456.9h0M239.6 1434.7h0M240.7 1490.9h0M242.5 1484.2h0M244.1 1461.4h0M245.4 1455.4h0M245.9 1409.8h0M246.6 1485.3h0M251.9 1485.4h0M252 1510.2h0M252.6 1454.9h0M253.5 1510.6h0M254.1 1450.8h0M257.4 1479.9h0M259.2 1511h0M259.7 1438.6h0M261.7 1479.9h0M263.5 1449.6h0M266.2 1481.1h0M266.5 1515.3h0M266.6 1443.9h0M269.5 1493.3h0M271.2 1472.3h0M272.7 1433.6h0M273.2 1474.5h0M276.7 1469.3h0M280.4 1505.8h0M281.6 1427.2h0M281.8 1490.6h0M282.1 1410.9h0M283.8 1397.8h0M284.3 1430.8h0M285.9 1396.8h0M286.1 1403.3h0M286.6 1407.3h0M287.4 1416.8h0M287.7 1467.4h0M287.9 1403.7h0M288.3 1408.2h0M290.6 1410.3h0M292.2 1414.3h0M294.8 1408.2h0M295.4 1481.3h0M297.4 1426.3h0M298.7 1457.4h0M300.1 1408.9h0M300.1 1423.5h0M300.3 1482.5h0M301.1 1458.6h0M302.4 1426.8h0M304.3 1419.8h0M305.1 1418.5h0M305.4 1407h0M305.7 1415.2h0M306.3 1475.7h0M306.3 1481.6h0M306.6 1400.3h0M307.3 1401.7h0M307.6 1415.2h0M307.8 1349.8h0M308.3 1414.7h0M309.1 1403.7h0M309.5 1421.7h0M311.5 1457.7h0M312.8 1476.7h0M315.7 1413.1h0M317 1428.3h0M317.3 1450.9h0M318.8 1447.7h0M319.8 1411.1h0M320.7 1412.2h0M321 1470.3h0M322.6 1363.5h0M322.7 1409.1h0M322.7 1427.1h0M323.8 1475h0M324.7 1434.2h0M325 1374.3h0M325.2 1462.8h0M325.4 1400.9h0M325.4 1384.7h0M326.2 1369.4h0M326.8 1463.4h0M327.4 1461.6h0M327.6 1402.3h0M328.4 1429.1h0M328.4 1383.4h0M328.9 1371.5h0M329 1337.4h0M330.4 1443.5h0M330.5 1404.7h0M331.1 1368.5h0M331.2 1441.6h0M331.5 1354.4h0M331.8 1444.7h0M333.3 1452.4h0M333.4 1376.2h0M334.5 1387h0M335.2 1339.5h0M335.3 1457.8h0M335.5 1393.5h0M335.5 1353.3h0M336.2 1352.8h0M336.3 1334.7h0M336.3 1439.8h0M336.4 1434.1h0M336.6 1438h0M336.9 1399.3h0M337.6 1399.5h0M337.9 1467.7h0M338 1377.9h0M338 1363.8h0M338.4 1427.3h0M339.5 1432.1h0M341.8 1338.5h0M342 1386.6h0M342.4 1382.4h0M342.4 1436.5h0M342.5 1335.1h0M342.8 1353.9h0M343.7 1354.5h0M344.2 1337.9h0M344.7 1384.8h0M344.9 1525.6h0M346.1 1466.3h0M347.7 1347.5h0M347.8 1388.5h0M348 1367.1h0M348.3 1445.4h0M348.6 1429.9h0M350 1354h0M350.5 1333.7h0M350.6 1431.6h0M350.8 1388.5h0M352.9 1444.9h0M353.9 1337.3h0M356 1340.7h0M356.4 1428.5h0M357.3 1431.8h0M358.8 1372.8h0M359.8 1320.3h0M360 1348.6h0M360.3 1349.8h0M360.8 1339.4h0M361.5 1358.8h0M362.1 1365.3h0M362.4 1354.5h0M363 1353.2h0M364.5 1432.3h0M365.6 1432h0M365.8 1419.7h0M366.2 1361.8h0M368.9 1347.9h0M371.2 1415.6h0M373.2 1347.5h0M373.5 1352.8h0M374.5 1429.1h0M375.9 1338.9h0M377.3 1331.3h0M377.3 1329.3h0M377.9 1426.1h0M378.9 1318.6h0M379.4 1346.2h0M379.4 1316.6h0M380.2 1333.9h0M381.1 1410.5h0M382.5 1343.2h0M382.6 1323.8h0M383.4 1316.1h0M383.4 1408.8h0M386.1 1318h0M386.1 1435.8h0M386.6 1418h0M387.1 1329.8h0M393.4 1425h0M393.7 1408.4h0M394.6 1305.3h0M394.8 1344.7h0M396.6 1334.8h0M397.1 1414.7h0M398.6 1325.5h0M399.8 1418.9h0M400 1329.6h0M400.7 1330.3h0M402.1 1399.1h0M402.7 1429h0M402.7 1415.1h0M402.9 1316h0M403.4 1324.1h0M403.5 1422.3h0M403.7 1334.9h0M404 1406.2h0M404.1 1221.9h0M404.4 1328.2h0M405.3 1439.8h0M405.5 1405.3h0M406.2 1318.1h0M406.4 1387.8h0M406.6 1399.3h0M407.5 1359.9h0M407.7 1330.2h0M408.9 1322.4h0M409.2 1413.1h0M409.5 1336.5h0M410.3 1396.3h0M410.5 1366.9h0M410.6 1376.4h0M411 1389.9h0M411.1 1333.1h0M411.2 1481.9h0M411.7 1352.9h0M411.9 1438.8h0M412.4 1372.5h0M412.9 1305.5h0M414.1 1298.8h0M415.1 1312.9h0M418.1 1328.1h0M419 1468.4h0M420.6 1447.5h0M421.6 1302.5h0M422.8 1429.9h0M423.7 1405.3h0M424.3 1399.9h0M424.6 1330.2h0M425.5 1405h0M427.6 1400.2h0M429 1325.5h0M430 1394.6h0M430.6 1411.3h0M437 1425.7h0M437.1 1412.2h0M437.4 1388.1h0M437.9 1327.2h0M439.5 1394.9h0M444 1395.5h0M445.3 1325.9h0M446.1 1370.1h0M449.3 1282.8h0M449.4 1374h0M449.8 1372.7h0M451.9 1366.5h0M453.6 1316.5h0M453.6 1417.9h0M453.8 1390.5h0M457.1 1363.5h0M459.1 1362.2h0M459.5 1315.3h0M459.6 1424.4h0M460.6 1396.3h0M460.6 1414.1h0M461.3 1360.6h0M463.5 1397.8h0M465.2 1399.5h0M465.4 1308.2h0M467.6 1390.1h0M467.8 1290.7h0M468.3 1361.3h0M468.6 1358.6h0M470 1378.2h0M472 1376.2h0M472.8 1382.1h0M473.9 1305.1h0M475.3 1289.7h0M475.4 1388.4h0M479 1308.2h0M480.5 1369h0M481.6 1254.3h0M481.9 1303.8h0M484.4 1373h0M485.3 1343.8h0M485.7 1263.7h0M486.3 1278.1h0M487.2 1343.9h0M488.7 1313h0M490 1339.7h0M490.6 1334.6h0M492.6 1310.7h0M493.7 1337.8h0M494 1331.5h0M494.8 1332.7h0M496.7 1347.2h0M498.4 1302.7h0M500.5 1352.6h0M504.1 1309.6h0M504.9 1351.2h0M505.2 1346.3h0M506.8 1321.1h0M508.4 1287.5h0M509.7 1279.1h0M513.8 1340.8h0M514.3 1351.2h0M514.6 1295.9h0M517.1 1357.9h0M518.1 1310.2h0M518.9 1309.6h0M523 1331.6h0M523.2 1267.4h0M523.5 1342.8h0M532.2 1285.6h0M544.4 1301.6h0M553.8 1288.8h0"/>
<path class="d" d="M92.2 1564.5h0M92.3 1568h0M100.7 1560.7h0M102.7 1554.9h0M105.8 1551.2h0M113.6 1549.6h0M113.9 1545.6h0M118.5 1536.8h0M119.4 1537.8h0M121.1 1546.7h0M123.1 1552.6h0M127.7 1543.5h0M133.1 1537.9h0M138 1543.4h0M143.1 1523.2h0M143.4 1532.8h0M143.7 1537.3h0M144.9 1536.8h0M149.8 1529.3h0M150.1 1529.2h0M153.5 1524.9h0M154 1523.8h0M160.1 1532.6h0M161.5 1520.7h0M163.1 1535.5h0M168.7 1527.1h0M168.9 1533.3h0M169.7 1504.7h0M170.9 1516.1h0M171.4 1519.9h0M173.4 1520.2h0M174.6 1516.2h0M176.7 1503.3h0M177.1 1502.3h0M178.8 1495.6h0M179.1 1508.2h0M181.3 1523.8h0M181.9 1506.3h0M184.3 1502.9h0M184.8 1495.5h0M189.3 1513.2h0M190.9 1483.8h0M192.5 1524.7h0M192.5 1541.2h0M195.8 1502.5h0M198.7 1489.4h0M199.3 1482h0M200.4 1512.8h0M203.6 1484.7h0M203.8 1487.6h0M209.7 1481.1h0M212.7 1499.8h0M218.8 1477.1h0M229.9 1453.2h0M230.6 1493.3h0M231.9 1439.2h0M233.3 1464.4h0M235.4 1434.7h0M235.8 1466.1h0M236.6 1505.9h0M237.9 1484.6h0M239 1445h0M240.7 1437.2h0M244 1484.9h0M244.6 1421.9h0M248.2 1481.9h0M251.6 1515.9h0M251.9 1409.7h0M254.1 1512.6h0M256.3 1508.8h0M258.7 1452.3h0M261.5 1424.8h0M264.6 1494.3h0M264.7 1560.7h0M265.6 1438.8h0M266 1484.1h0M266.9 1430.4h0M267 1511.5h0M267.4 1489.6h0M268.1 1432.2h0M269.6 1444.5h0M271.8 1494.3h0M272.6 1519.4h0M273 1472.1h0M275 1431.5h0M275.5 1514.8h0M276.5 1437.8h0M277.3 1424.5h0M280.3 1473.4h0M282 1409.2h0M282.3 1426.1h0M283.7 1428h0M283.7 1471.2h0M283.9 1466.6h0M284.8 1410.1h0M285.7 1462.6h0M286.2 1462.9h0M286.7 1504.5h0M287.2 1430h0M288.6 1425.8h0M290.7 1475.6h0M291.1 1416.2h0M293.2 1457.6h0M293.4 1466.2h0M293.9 1412.8h0M295.1 1463.5h0M295.8 1424.4h0M296 1429.5h0M297.8 1469.1h0M299.1 1429.1h0M299.2 1399.6h0M299.3 1462.4h0M299.5 1412.1h0M299.5 1470.9h0M300 1421.3h0M302.6 1453.4h0M302.6 1425.6h0M303 1506.7h0M303 1415.8h0M303.5 1431.2h0M303.9 1391.3h0M307.8 1467.5h0M308.2 1475h0M308.9 1462.6h0M309.4 1429.4h0M310.6 1476h0M310.6 1481.2h0M311.5 1409.5h0M312.2 1418.8h0M312.3 1404.8h0M313.4 1400.7h0M313.9 1401.5h0M316.4 1414.1h0M318.3 1404.8h0M318.3 1463.3h0M318.8 1387.2h0M319.5 1444.8h0M319.8 1392.7h0M321 1432.3h0M321.3 1364.6h0M321.7 1409.1h0M321.9 1404h0M322.1 1466.5h0M323.2 1393.3h0M323.9 1388.9h0M327.7 1454.2h0M329.6 1391.7h0M330 1366h0M330.9 1356.8h0M331.1 1435.4h0M332 1438.7h0M332.7 1399.9h0M332.8 1475.5h0M333.6 1400h0M334.5 1476.6h0M334.6 1377.4h0M335.1 1385.3h0M336.6 1367h0M337.2 1435.2h0M337.9 1357.9h0M338 1336.4h0M339 1388.4h0M339.1 1353.9h0M339.8 1377.4h0M340 1390.9h0M340.2 1460.2h0M340.7 1383.1h0M340.8 1440.8h0M341 1347.3h0M341.3 1398.2h0M341.5 1384.4h0M342.2 1449.3h0M342.5 1384.5h0M345.4 1386.3h0M346.3 1350.6h0M346.6 1427.1h0M347.4 1467.8h0M348.5 1351.6h0M349.5 1386.9h0M350.2 1371.1h0M350.3 1380.5h0M351 1356.2h0M353 1338.4h0M353.5 1430.8h0M353.5 1383h0M353.5 1360.7h0M353.8 1426.9h0M354.5 1373.7h0M355.9 1369.4h0M356.3 1351.6h0M356.5 1428.4h0M357 1427.5h0M359 1425.6h0M360.2 1371.5h0M360.3 1360.7h0M360.7 1365.9h0M360.8 1328.1h0M361.3 1424h0M362.9 1426.2h0M365 1481.6h0M365.6 1353.6h0M368.2 1352h0M368.5 1343.1h0M369.2 1349.2h0M370.4 1351.2h0M370.6 1354.9h0M371.5 1339.6h0M372.8 1342.5h0M374 1413.3h0M377.4 1425.2h0M378.8 1337.4h0M379.2 1345.7h0M380 1340.7h0M380.4 1317.1h0M381.5 1330.2h0M382.3 1428.8h0M384.1 1329.1h0M384.6 1343.6h0M384.7 1326.1h0M385.3 1422h0M385.4 1424.4h0M385.8 1406.4h0M387.1 1412.4h0M387.5 1335.6h0M387.5 1349.5h0M387.6 1347.7h0M387.7 1420h0M388.5 1408.5h0M389.7 1403.5h0M389.8 1426.2h0M389.8 1419.6h0M390.7 1332h0M391 1337.3h0M391.9 1309.8h0M392.4 1427.2h0M392.5 1343.1h0M392.9 1334.6h0M393 1416.3h0M393.5 1311.9h0M393.6 1338.5h0M393.6 1422.6h0M395.1 1426.8h0M395.2 1414.5h0M395.9 1464.3h0M396.1 1336.5h0M396.4 1423.8h0M396.5 1328.3h0M396.9 1311.1h0M397.2 1305.1h0M398.1 1312.8h0M398.8 1422.7h0M399 1331.9h0M399.3 1326h0M399.7 1439.8h0M401.3 1328.8h0M401.8 1398.7h0M402 1304.1h0M403.2 1411.7h0M404 1413.2h0M405.3 1475h0M406.1 1328.5h0M406.4 1377.2h0M406.5 1397.1h0M406.5 1318.2h0M407.3 1341.9h0M407.3 1418.9h0M407.7 1385.3h0M408.3 1395.6h0M408.6 1370.7h0M408.7 1407.3h0M408.9 1330.5h0M410.2 1300.5h0M410.4 1422.4h0M410.4 1330.7h0M411 1408.1h0M413.4 1410.7h0M414.4 1447.2h0M414.8 1331.9h0M415 1357.7h0M416.8 1387.1h0M418.1 1308h0M418.3 1326.5h0M418.3 1341.6h0M418.6 1424h0M419 1435h0M419.3 1360.9h0M420.6 1409h0M420.7 1330.9h0M420.7 1328.4h0M426 1425.3h0M428.4 1429.9h0M428.6 1326h0M429.1 1310.6h0M430.5 1419.7h0M431 1311h0M433.4 1394.1h0M433.7 1323.2h0M434.1 1390.9h0M435 1431.2h0M438.7 1393.3h0M439.5 1382.2h0M440.3 1378.1h0M441.4 1423.1h0M443.4 1391h0M443.5 1445.9h0M443.6 1375.1h0M443.7 1385.7h0M444.6 1393.6h0M445 1427.1h0M447.2 1380.3h0M447.9 1323.2h0M447.9 1366.5h0M448.1 1319.7h0M449 1316.9h0M450 1429.9h0M452.2 1402.8h0M453.9 1416.4h0M455.4 1307.8h0M455.4 1404.5h0M455.8 1385.7h0M456.7 1412.7h0M458.8 1402.7h0M459.2 1313.3h0M459.4 1315.1h0M459.4 1390.1h0M459.9 1414.6h0M465.8 1393.8h0M465.8 1358.2h0M466.2 1367.8h0M467.7 1309.7h0M468.1 1279.1h0M469.2 1309h0M469.9 1309.1h0M472.3 1308.7h0M472.9 1445.9h0M476 1301.5h0M476.5 1364.3h0M477.8 1296.4h0M477.8 1363.2h0M478.1 1353.5h0M478.8 1347.5h0M481.8 1311.3h0M483.5 1290.6h0M485.7 1382.2h0M487.6 1348.4h0M487.9 1308.4h0M490.6 1342.7h0M491.3 1319.5h0M492.4 1305.2h0M493.7 1346.8h0M496.2 1323.8h0M496.3 1372.2h0M498.1 1321.5h0M499.3 1285.7h0M500.5 1310.6h0M500.7 1298.8h0M501.2 1320h0M506.1 1295.4h0M507.3 1356.4h0M507.7 1282.8h0M510.4 1320h0M513.3 1326.1h0M519.1 1311.4h0M520.2 1357.6h0M521.3 1365.9h0M523.9 1330.7h0M526.6 1268.8h0M529.4 1258.8h0M534.7 1343.6h0M538.8 1335.7h0"/>
<path class="d" d="M105.4 1545.4h0M106.9 1562.9h0M108.7 1555.3h0M110.7 1566.8h0M112.6 1567.6h0M113.1 1543.9h0M116.1 1547h0M124.1 1553.5h0M124.3 1544.8h0M127.4 1529.9h0M127.8 1549h0M131.3 1540.3h0M131.5 1552.7h0M137.3 1547h0M140.4 1529.1h0M140.6 1527.6h0M142.7 1541.2h0M146 1519.1h0M147.1 1533h0M150.2 1532.7h0M153.5 1489.4h0M154.7 1529.6h0M157.8 1526.6h0M157.9 1522.7h0M158 1515.5h0M161.7 1514.1h0M162.9 1519.8h0M163 1527.3h0M164.9 1548.8h0M166.1 1530.1h0M166.3 1547.2h0M167.9 1522.7h0M169.8 1512.8h0M172.2 1511.5h0M174.7 1541h0M175.7 1511.5h0M180.2 1519.1h0M182.5 1511.9h0M182.9 1517.8h0M185.6 1500.5h0M186.3 1508.9h0M186.8 1528.4h0M190.8 1516.3h0M195.4 1493.6h0M195.7 1505.4h0M199.2 1508.5h0M200.4 1489.3h0M200.5 1506.9h0M201.4 1503.5h0M206.6 1499.6h0M207 1486.7h0M208 1499h0M210 1497.3h0M214 1472.9h0M217.1 1480.4h0M219.7 1474.4h0M221.1 1490.4h0M226.6 1471.6h0M226.6 1493h0M227.6 1488.7h0M229.4 1444.1h0M229.4 1523.2h0M230.4 1448.8h0M230.6 1489.7h0M232 1486.4h0M233.4 1456.9h0M237.1 1486.8h0M238 1490.2h0M239.7 1443.4h0M240.7 1426.6h0M246.9 1484.7h0M250.1 1445.6h0M250.3 1404.7h0M251.4 1443h0M251.5 1499.2h0M252.2 1404.3h0M252.7 1488.8h0M255.2 1431.9h0M255.6 1444.1h0M256.2 1514.5h0M257.6 1430h0M258.4 1446.6h0M258.5 1413h0M261.2 1480.4h0M261.5 1444.1h0M263.9 1421.9h0M266.3 1477.1h0M266.7 1441.5h0M268.5 1430.5h0M272.3 1482.4h0M272.8 1492.8h0M272.9 1408h0M274.3 1436.9h0M276.9 1418.4h0M277.6 1472.2h0M279.8 1428.9h0M280.2 1409.1h0M280.2 1434.2h0M280.9 1434.8h0M282.5 1403.4h0M282.9 1416.1h0M283.7 1500.2h0M284 1430.3h0M286 1428h0M286.2 1423.6h0M287 1428.2h0M287.5 1428.5h0M288 1424.9h0M288.5 1487.2h0M288.5 1427h0M288.7 1410.7h0M289.5 1416.8h0M289.6 1500.3h0M290 1462.5h0M291.4 1430.5h0M291.8 1423.9h0M292.3 1425.7h0M292.5 1399.5h0M293.1 1427.3h0M295 1482.1h0M295.4 1457h0M296.8 1478.2h0M296.9 1483.6h0M299.2 1474.9h0M299.4 1424.1h0M299.5 1457.4h0M303.7 1508.4h0M304.7 1470.7h0M305.6 1407.8h0M306.6 1395.6h0M306.7 1427.1h0M308.1 1398.8h0M309.8 1454.1h0M309.9 1468.9h0M310 1420.2h0M310.6 1449.3h0M310.7 1413.5h0M314.2 1418.5h0M315.1 1447.5h0M317.8 1411.2h0M319.2 1468.3h0M319.8 1443.7h0M319.9 1412.3h0M320.5 1383.1h0M321.1 1426.7h0M323.6 1468.6h0M323.9 1453.9h0M323.9 1409.3h0M324.3 1405.9h0M324.6 1369.7h0M325 1427.8h0M325.5 1403.8h0M325.8 1383.7h0M325.9 1443h0M326.7 1355.7h0M326.9 1403.9h0M328.3 1407.6h0M329.3 1464.3h0M330.4 1400.3h0M331 1339.8h0M331.2 1369.6h0M331.2 1428.7h0M331.9 1354.2h0M332.8 1332.5h0M333.9 1390.9h0M334.5 1381.5h0M334.9 1395.8h0M335.8 1475.6h0M337.3 1438.7h0M337.4 1464.1h0M339.1 1395.4h0M339.2 1389h0M339.3 1440.9h0M339.8 1449.9h0M340.1 1473.8h0M342 1388.4h0M342.3 1396.6h0M342.4 1456.5h0M344 1362.3h0M344.5 1396.1h0M344.6 1458.3h0M345.7 1389h0M346.3 1478.8h0M346.7 1434.8h0M347.4 1449h0M347.6 1387.8h0M348.1 1356.2h0M348.2 1332.3h0M348.6 1375.9h0M349.2 1357h0M349.2 1358h0M350 1326.6h0M350.1 1383.6h0M350.3 1347.4h0M351 1431.1h0M352.2 1378.2h0M352.5 1429.7h0M352.5 1432.3h0M352.7 1377.9h0M353.1 1323.9h0M354.3 1357.3h0M354.7 1377.6h0M355 1321.3h0M355.3 1320.9h0M356.2 1359.1h0M356.6 1344.7h0M358.9 1433.7h0M359.7 1427.9h0M359.7 1320.7h0M359.7 1341.9h0M359.8 1351.9h0M359.8 1431.5h0M360.6 1344.9h0M361 1352.3h0M361.5 1367.8h0M362.3 1365.2h0M363.7 1430.7h0M363.7 1347.5h0M363.8 1421.4h0M366.3 1428.6h0M366.5 1422.5h0M366.8 1357.8h0M367.8 1352.9h0M367.9 1345.6h0M370.3 1338.5h0M373.1 1429.9h0M373.6 1432.1h0M374.3 1423.9h0M374.6 1426.8h0M377.1 1339h0M377.3 1328.2h0M378.6 1335.1h0M379 1354h0M379.4 1316.9h0M379.5 1321.6h0M379.6 1413.9h0M380.3 1350h0M380.6 1348.9h0M380.7 1317.5h0M381 1335.6h0M383 1428.8h0M383.3 1339.4h0M383.4 1429h0M384.9 1329.3h0M385.1 1335.8h0M385.2 1413.5h0M385.4 1331h0M386.4 1415.6h0M386.8 1416.1h0M388.1 1423.4h0M388.7 1310.5h0M389.6 1424.7h0M390 1415.6h0M390.7 1403.9h0M390.9 1311.8h0M391.6 1331.2h0M392.4 1317.3h0M393.3 1330h0M395.6 1308h0M396 1426.7h0M399.7 1339h0M400.1 1338.9h0M400.2 1403.6h0M400.9 1414.9h0M404.1 1333.5h0M404.5 1422.6h0M405 1402.3h0M405.5 1419.4h0M405.9 1361.4h0M406 1146.3h0M406.1 1410.5h0M406.4 1328.8h0M407 1331.2h0M407.3 1382.5h0M407.5 1355.8h0M408.8 1473.8h0M409.1 1355.2h0M409.2 1397.5h0M409.4 1342.5h0M409.7 1412.5h0M410.9 1322.5h0M410.9 1367h0M411.1 1350.9h0M412.7 1357.3h0M413.7 1341.5h0M414.7 1327.2h0M415 1476.9h0M415.6 1326.8h0M417.2 1404.4h0M417.4 1419.2h0M417.6 1428.1h0M419.8 1413.1h0M429.2 1409.1h0M430.1 1410.2h0M438.3 1395.9h0M438.8 1485.6h0M441 1315.9h0M444.3 1373.9h0M447.9 1378.4h0M448.3 1410.1h0M449.7 1368.8h0M450.3 1401.6h0M451.1 1310.1h0M453.6 1319.7h0M454.9 1321.2h0M454.9 1381.1h0M454.9 1401.5h0M456.6 1395h0M457.9 1381.9h0M458.1 1361.7h0M461.3 1390.1h0M462.1 1397.6h0M463.6 1313.2h0M464.4 1388.6h0M466.8 1371h0M466.8 1298.7h0M467.2 1307.4h0M468.6 1313.2h0M472.6 1363.9h0M472.7 1351.9h0M476.6 1347.9h0M478 1355.5h0M478 1390.1h0M478.9 1289.7h0M479.5 1290.8h0M481.6 1308.8h0M482.2 1348.8h0M485.6 1312.6h0M486 1307h0M486.1 1316.5h0M491.8 1337.6h0M491.9 1314.5h0M492.6 1324.1h0M492.8 1266.9h0M493 1326.5h0M494.7 1294.4h0M495.2 1296.2h0M496.6 1335.6h0M497.5 1385.4h0M498.4 1325h0M501.2 1320.4h0M503 1348.9h0M504.8 1309.9h0M505 1259.8h0M509.4 1323.1h0M509.6 1360h0M511 1281.5h0M512.6 1301.7h0M513.4 1255.3h0M515.4 1310.6h0M517.4 1317.7h0M517.6 1358.8h0M517.8 1360.8h0M521.6 1308.4h0M524.6 1312.4h0M525.5 1338.1h0M530.3 1326.6h0M530.8 1338h0M531.3 1312.7h0M540.1 1346.6h0M542.5 1298.8h0"/>
<text class="lab" x="2" y="1130.4">G</text>
<text class="ttl" x="156.5" y="1124.1">Dissolved oxygen</text>
<text class="ttl" x="102.2" y="1172.3">y=1.006x<tspan stroke="#000" stroke-width="1.3">-</tspan>1.484</text>
<text class="ttl" x="103.2" y="1218.1">R^2=0.944</text>
<text class="tk" text-anchor="middle" transform="translate(86.3 1610.8) scale(.89 1)">0</text>
<text class="tk" text-anchor="middle" transform="translate(211.6 1610.8) scale(.89 1)">100</text>
<text class="tk" text-anchor="middle" transform="translate(336.9 1610.8) scale(.89 1)">200</text>
<text class="tk" text-anchor="middle" transform="translate(462.3 1610.8) scale(.89 1)">300</text>
<text class="tk" text-anchor="middle" transform="translate(587.6 1610.8) scale(.89 1)">400</text>
<text class="tk" text-anchor="middle" transform="translate(55.8 1568.6) rotate(-90) scale(.93 1)">0</text>
<text class="tk" text-anchor="middle" transform="translate(55.8 1491.6) rotate(-90) scale(.93 1)">100</text>
<text class="tk" text-anchor="middle" transform="translate(55.8 1414.6) rotate(-90) scale(.93 1)">200</text>
<text class="tk" text-anchor="middle" transform="translate(55.8 1337.5) rotate(-90) scale(.93 1)">300</text>
<text class="tk" text-anchor="middle" transform="translate(55.8 1260.5) rotate(-90) scale(.93 1)">400</text>
<text class="tk" text-anchor="middle" transform="translate(55.8 1183.5) rotate(-90) scale(.93 1)">500</text></g>
<g><g stroke="#808080" stroke-width="3.6" fill="none">
<path d="M689.8 1157.9V1577.2M680.6 1568H1189.1M752 1568v6.8M814.3 1568v9.2M876.5 1568v6.8M938.7 1568v9.2M1000.9 1568v6.8M1063.2 1568v9.2M1125.4 1568v6.8M1187.6 1568v9.2M689.8 1499.9h-6.8M689.8 1431.8h-9.2M689.8 1363.7h-6.8M689.8 1295.6h-9.2M689.8 1227.5h-6.8M689.8 1159.4h-9.2"/></g>
<path d="M742.7 1401L1133.7 1192.2" stroke="#e31a1c" stroke-width="5.2" stroke-linecap="round" fill="none"/>
<polygon fill="#404040" points="745,1395 752.5,1408.1 761.9,1411.9 773.1,1406.3 786.3,1398.8 797.5,1391.3 808.8,1387.5 820,1380 831.3,1376.3 842.5,1372.5 853.8,1366.9 865,1363.1 876.3,1363.1 885.6,1361.3 895,1361.3 906.3,1361.3 917.5,1355.6 925,1348.1 934.4,1338.8 938.1,1327.1 934.4,1320 940,1310.3 951.3,1302.8 962.5,1295.3 973.8,1287.8 985,1280.3 996.3,1272.8 1007.5,1267.1 1018.8,1261.5 1030,1254 1041.3,1248.4 1052.5,1242.8 1060,1237.1 1060,1222.9 1048.8,1228.5 1037.5,1232.3 1026.3,1237.9 1015,1241.6 1003.8,1249.1 992.5,1254.8 981.3,1262.3 970,1267.9 958.8,1273.5 947.5,1279.1 936.3,1282.9 925,1284.4 913.8,1288.1 902.5,1291.9 891.3,1297.5 880,1305 868.8,1310.6 857.5,1316.3 846.3,1321.9 835,1327.5 823.8,1331.3 812.5,1336.9 801.3,1342.5 790,1348.1 778.8,1353.8 769.4,1359.4 763.8,1368.8 758.1,1378.1 750.6,1385.6"/>
<polygon fill="#404040" points="880,1304.4 891.3,1296.9 902.5,1293.1 913.8,1287.5 925,1281.9 936.3,1280 947.5,1276.3 958.8,1272.5 970,1268.8 981.3,1261.3 992.5,1253.8 1003.8,1250 1015,1240.6 1026.3,1236.9 1037.5,1231.3 1048.8,1225.6 1060,1220 1071.3,1216.3 1082.5,1210.6 1093.8,1205 1105,1199.4 1116.3,1193.8 1127.5,1186.3 1133.1,1188.1 1134.1,1193.8 1127.5,1197.5 1116.3,1201.3 1105,1206.9 1093.8,1212.5 1082.5,1218.1 1071.3,1223.8 1060,1229.4 1048.8,1236.9 1037.5,1244.4 1026.3,1251.9 1015,1259.4 1003.8,1265 992.5,1270.6 981.3,1278.1 970,1285.6 958.8,1293.1 947.5,1300.6 936.3,1308.1 932.5,1321.3 936.3,1332.5 928.8,1343.8 921.3,1355 913.8,1362.5 902.5,1366.3 891.3,1362.5 880,1366.3"/>
<path class="d" d="M743.1 1401.6h0M744.6 1390.5h0M745.3 1391.4h0M747.1 1407.7h0M749.2 1384.5h0M750.1 1403h0M750.9 1361.9h0M751.3 1397.2h0M751.9 1374.7h0M754.7 1387.5h0M756.9 1368.1h0M757.4 1348.8h0M761.1 1375h0M761.5 1411h0M764.7 1348.9h0M765.3 1407.8h0M765.6 1364.1h0M768.6 1366.9h0M768.7 1405.6h0M770.9 1361.4h0M773.5 1357.8h0M773.9 1343.5h0M775.6 1345.8h0M779.1 1307.3h0M782.1 1349.5h0M782.7 1330.3h0M784.8 1488.2h0M785 1398.3h0M786.5 1352.7h0M786.8 1345.3h0M788.1 1349.3h0M789.6 1432.5h0M790 1349.9h0M790.8 1326.1h0M792.2 1328.1h0M794.7 1322.3h0M795.1 1322.6h0M796.6 1349.4h0M797.9 1344.1h0M798.2 1387.4h0M799 1409.8h0M799.9 1412.1h0M801 1398h0M802.2 1345.7h0M803.4 1401.6h0M805.5 1386h0M806.2 1343.3h0M806.7 1336.9h0M806.7 1339h0M807.6 1395.8h0M810.1 1381.4h0M810.1 1397.8h0M810.3 1415.4h0M813.2 1390h0M814.2 1294.9h0M814.2 1411h0M814.6 1332.5h0M816.3 1287.2h0M816.5 1310.9h0M817.3 1399.5h0M817.7 1321.9h0M817.7 1391.4h0M817.7 1397.8h0M818.5 1290h0M819.8 1294h0M821 1328.7h0M824.2 1388.8h0M824.3 1381.7h0M825.6 1316.8h0M825.9 1394h0M826.2 1304.7h0M826.6 1373.9h0M828.5 1334.1h0M830.3 1291.5h0M830.5 1375.9h0M831.1 1287.7h0M831.5 1324.2h0M832.7 1277.6h0M833.3 1331h0M835 1393.4h0M836.1 1376.2h0M837.3 1306.6h0M837.8 1289.6h0M840.4 1322.5h0M842.3 1317.5h0M843.7 1321.5h0M844 1292.7h0M844.7 1303.9h0M845.8 1380.8h0M846.3 1405.7h0M848.5 1316h0M851.6 1320.8h0M851.7 1312.6h0M854.7 1369.5h0M854.7 1279h0M855.6 1374.1h0M855.8 1315.4h0M856 1301.6h0M856 1277.2h0M858.2 1368.2h0M859.4 1280.1h0M861.3 1254.4h0M862.5 1311.2h0M862.6 1278.3h0M864.1 1275.9h0M864.4 1239.9h0M866.2 1381.6h0M867.5 1308.3h0M869.3 1369h0M873 1374.4h0M876.7 1359.2h0M878.9 1359.9h0M878.9 1362.8h0M879.1 1360.7h0M880 1310.8h0M880.1 1378.8h0M880.1 1307.7h0M880.2 1353.5h0M881.5 1290.9h0M882 1331.8h0M882.1 1338.1h0M882.4 1307h0M882.9 1367.4h0M883.6 1297.8h0M883.8 1360.8h0M884.3 1299.1h0M884.6 1297.1h0M885.5 1276.3h0M887 1301.6h0M887.3 1284h0M887.4 1298.7h0M888.8 1299.4h0M889.3 1371.4h0M889.4 1224.3h0M889.6 1285.7h0M890 1285.8h0M890.5 1281.8h0M890.9 1256.8h0M891.9 1283h0M892.7 1358.5h0M893.1 1278.7h0M893.8 1300h0M894.5 1296.4h0M895.4 1285.3h0M897 1359.7h0M897.5 1360.6h0M899.1 1286.8h0M899.5 1280.8h0M900.4 1297.7h0M902.9 1368.5h0M906.3 1367.4h0M908.1 1364h0M913.1 1359.9h0M914.2 1362.3h0M914.4 1287.2h0M915.6 1373.2h0M916.7 1284h0M919.1 1276.7h0M919.6 1284.6h0M920.3 1349.1h0M921.7 1354h0M924.1 1342.8h0M925 1347.8h0M925.4 1275.1h0M926.3 1351h0M926.4 1350.4h0M926.7 1263.5h0M927 1342.1h0M927 1270.4h0M927.4 1342.9h0M928.3 1366.6h0M928.8 1262.1h0M929.4 1323h0M930.9 1340h0M931.1 1338.6h0M931.1 1351.3h0M931.1 1327.6h0M932.3 1333.1h0M932.8 1346.4h0M933.1 1248.6h0M934 1316.5h0M934 1282h0M935.7 1357.3h0M935.7 1322.5h0M935.7 1270.1h0M936.4 1266.3h0M936.8 1273.4h0M936.9 1325.1h0M937 1268h0M937 1332.9h0M937.4 1257.8h0M938.2 1245.9h0M938.3 1338.3h0M938.6 1319.8h0M939.1 1323.3h0M939.4 1255.1h0M941.4 1270h0M941.6 1319.8h0M942 1270.1h0M943.8 1316.5h0M944.1 1305.3h0M944.3 1308.1h0M945 1277.5h0M945.3 1262.4h0M945.6 1315.7h0M947.3 1263.1h0M947.6 1267.7h0M947.7 1284.5h0M948 1247h0M948.9 1256.9h0M949.1 1323h0M949.2 1273h0M951.4 1304.9h0M951.5 1249.6h0M952.6 1297.5h0M952.8 1307.8h0M953.7 1266.2h0M954.9 1304.1h0M955.5 1304.2h0M955.9 1296.4h0M958.2 1269.2h0M959 1301.2h0M959.1 1240.1h0M959.1 1239.9h0M959.7 1311.5h0M960.5 1318h0M960.7 1262h0M961.1 1291.9h0M961.5 1289.9h0M962.2 1298.6h0M962.3 1309.7h0M963.2 1270.6h0M963.7 1254h0M964.2 1256.1h0M964.9 1253.7h0M965.5 1273.5h0M965.5 1285.1h0M967.4 1273.1h0M967.8 1292.5h0M969.4 1270.6h0M970 1300.8h0M970 1288.8h0M970.1 1279.6h0M970.8 1264h0M970.9 1246.3h0M970.9 1312.9h0M971.4 1246.1h0M972.3 1268.2h0M972.6 1263.7h0M973.6 1265.7h0M974.7 1247.2h0M975.6 1355.4h0M975.7 1255.7h0M976 1246.4h0M977 1246.9h0M977.4 1281.8h0M977.7 1288h0M979.2 1251.6h0M980.1 1265.3h0M980.5 1261.8h0M981 1266.1h0M981.4 1293.4h0M982.2 1251.3h0M983.3 1288.5h0M984.1 1279.9h0M984.5 1252h0M985.2 1258.7h0M985.6 1240.3h0M986 1270h0M987.3 1239.1h0M987.5 1285.1h0M988.5 1274.9h0M989.5 1260.2h0M990.4 1248.4h0M990.5 1260.9h0M991.1 1273.7h0M994.4 1255.2h0M995 1255.8h0M995.3 1258.2h0M996.6 1271.9h0M997 1272.3h0M997.3 1247.4h0M1001.1 1234.8h0M1001.3 1253.9h0M1001.4 1242.2h0M1001.5 1247.4h0M1003.5 1249h0M1003.9 1265.1h0M1004.9 1250.3h0M1007.5 1275.9h0M1008.1 1263.2h0M1008.5 1244h0M1009.2 1247.9h0M1009.9 1244.7h0M1010 1263.9h0M1011.2 1244.6h0M1011.3 1233.5h0M1011.8 1233.7h0M1011.9 1230.8h0M1012.9 1266.8h0M1015.5 1245.1h0M1016.3 1330.1h0M1016.3 1277.4h0M1017.4 1200h0M1017.4 1229.1h0M1019.5 1243.9h0M1020.8 1225.9h0M1023 1256.3h0M1026.1 1232.9h0M1029.5 1238.9h0M1031.2 1236.1h0M1031.6 1247.8h0M1032.6 1249h0M1036.3 1241.9h0M1036.5 1225.1h0M1036.6 1298.4h0M1037 1227.2h0M1037.3 1251.8h0M1037.7 1250.2h0M1039.5 1249h0M1039.6 1221h0M1039.9 1225.5h0M1040.4 1241.7h0M1042 1232h0M1043.7 1241.5h0M1045.9 1234.9h0M1046.8 1228.7h0M1049.6 1252.1h0M1050.1 1255.5h0M1051.6 1225.6h0M1052.9 1232.8h0M1053.6 1252.5h0M1055.1 1219.4h0M1055.3 1229.8h0M1055.4 1240.8h0M1055.6 1227.2h0M1056.5 1224.2h0M1056.7 1241h0M1058.4 1212.6h0M1059.2 1218.4h0M1060.4 1229.1h0M1065.7 1234.4h0M1067.2 1221.3h0M1071.3 1208.4h0M1073.4 1229h0M1076.8 1218.1h0M1077.1 1201.2h0M1079.2 1209.3h0M1080.4 1206.4h0M1083 1221.7h0M1086.2 1200.1h0M1090.1 1200.5h0M1093 1212.1h0M1093.2 1209.9h0M1096.1 1213.1h0M1096.3 1207.2h0M1096.5 1192.7h0M1097.8 1205.5h0M1103.1 1205.1h0M1107 1201.9h0M1107.4 1211.6h0M1110.8 1192.8h0M1112.3 1197.6h0M1112.5 1213.8h0M1120.9 1190.8h0M1123.2 1197.3h0M1127.1 1204.1h0M1127.9 1208h0M1128.6 1196.9h0M1130 1193.5h0M1132 1193.7h0M1133.7 1189.3h0M1138.3 1188.9h0"/>
<path class="d" d="M746.3 1346.3h0M747.3 1394.5h0M748 1403.5h0M751.6 1415.1h0M752 1381.5h0M752.9 1364.6h0M753.1 1300.7h0M754.3 1405.7h0M754.4 1402.8h0M756.5 1412.6h0M756.8 1359.6h0M757.3 1380.8h0M758.1 1425.9h0M763.3 1420.3h0M764.7 1413.6h0M765.7 1372.4h0M769.3 1359.1h0M769.6 1362.8h0M771 1405.7h0M772.2 1419.4h0M775.3 1401.4h0M777.1 1346.5h0M777.6 1402.4h0M778.5 1353.6h0M779.4 1400.1h0M779.8 1419.4h0M781 1429.7h0M783.7 1351.2h0M783.9 1406h0M784.4 1422.2h0M784.7 1397.4h0M787 1328.1h0M787.4 1335h0M791.3 1390.8h0M792.4 1343.9h0M793.7 1330.8h0M795.4 1407.8h0M795.8 1329.1h0M797 1405.2h0M797.5 1423.5h0M799.9 1400.5h0M800.2 1401.3h0M801.2 1390.8h0M802.2 1409.9h0M802.8 1334.1h0M804.4 1329.2h0M804.7 1389.2h0M806.9 1397.7h0M807.3 1302.6h0M807.9 1326.8h0M808.8 1404h0M809.7 1330.6h0M810.6 1413.8h0M811.7 1405.9h0M811.9 1295.6h0M814.4 1292.8h0M814.7 1316.1h0M814.8 1313.6h0M815 1337.3h0M816.3 1301.5h0M817.8 1412.5h0M817.9 1298.1h0M817.9 1291.1h0M818.5 1386.7h0M820.2 1333.1h0M821.5 1321.6h0M823.1 1283.4h0M824.1 1314.9h0M824.5 1406.9h0M825.7 1407.4h0M825.8 1327.4h0M829.8 1382.2h0M830 1401.7h0M832.2 1372.7h0M832.2 1306.7h0M833.7 1406.8h0M834.8 1394.3h0M835.6 1277.3h0M836 1330.6h0M838.1 1377.2h0M841.4 1299.6h0M841.9 1278.4h0M842.5 1276.9h0M844 1286.9h0M844.4 1317h0M844.8 1282.3h0M846.3 1387.1h0M846.9 1287h0M849.3 1383.2h0M849.6 1368.3h0M849.7 1301.5h0M850.3 1313.8h0M853.1 1363.5h0M854.3 1322.4h0M855.7 1364.3h0M858.1 1249.7h0M858.4 1234.3h0M859.2 1282.7h0M860.6 1307h0M861.9 1316.7h0M862.6 1365.5h0M866.5 1381.3h0M868.7 1308.2h0M868.8 1279.7h0M869.1 1267.9h0M869.7 1376h0M870.4 1375.5h0M870.6 1358.9h0M871.1 1302.8h0M871.8 1341.4h0M872.2 1365.4h0M873.1 1313.3h0M875.9 1321.8h0M877.4 1305.2h0M879 1308.2h0M879 1309.5h0M879.1 1375.5h0M879.7 1328.5h0M880 1341.9h0M880 1288.1h0M880.6 1363.9h0M880.7 1303.3h0M880.8 1370.6h0M881.3 1282.2h0M882.1 1350.5h0M882.9 1290.2h0M882.9 1295.1h0M882.9 1303.7h0M883.1 1306.7h0M883.2 1247.6h0M884.3 1366h0M885.1 1363h0M886.7 1366.5h0M888.4 1276.8h0M889.2 1363.7h0M890.5 1297.3h0M890.7 1256.9h0M892.3 1290.7h0M894.1 1370h0M894.7 1288.6h0M895.2 1298.4h0M896 1294.6h0M897.7 1285.7h0M900.4 1367.8h0M900.8 1286.8h0M901.5 1363.2h0M901.7 1294.2h0M905 1296.4h0M905.2 1291.6h0M905.7 1367.1h0M905.7 1283.8h0M906.8 1363h0M906.9 1366.6h0M907.3 1360.9h0M911.4 1373.5h0M912.5 1288.2h0M914 1280.2h0M914.5 1355.4h0M915.6 1373.4h0M916.6 1361.2h0M918.7 1357.1h0M919.8 1286.3h0M920.9 1269h0M920.9 1366.7h0M921.4 1284.8h0M924.2 1284.5h0M924.5 1346.8h0M924.6 1351.5h0M925 1351.8h0M925 1356.2h0M925.7 1350.3h0M926.2 1282.1h0M926.8 1284.7h0M927 1349.1h0M927 1263.8h0M928.2 1368.8h0M928.4 1368.1h0M928.5 1320.6h0M929.7 1360.9h0M929.8 1348.4h0M930.5 1340.4h0M931.2 1337.9h0M931.3 1266h0M931.9 1316.9h0M932.1 1326.1h0M932.9 1354.8h0M932.9 1309h0M933.5 1350.3h0M934.2 1314.3h0M935 1270.8h0M935.3 1357.1h0M935.8 1337.6h0M936.2 1304.8h0M936.5 1264.3h0M936.5 1281.2h0M937.4 1328.1h0M937.6 1239.3h0M937.8 1239.4h0M937.8 1317.3h0M937.9 1309.9h0M939.6 1390.3h0M940 1259h0M940.1 1313.6h0M940.2 1277.8h0M942.2 1274.9h0M942.9 1259.4h0M943.1 1334.9h0M944.3 1325.4h0M944.5 1331.7h0M945.2 1317.5h0M946.8 1263.9h0M947.5 1246.3h0M947.9 1307.3h0M948.2 1319.9h0M949.2 1246.3h0M949.3 1299.7h0M949.4 1300.6h0M949.7 1277.2h0M950.2 1317.7h0M951.3 1245h0M952.8 1239.7h0M952.9 1306.9h0M953.1 1296.1h0M953.3 1303.8h0M953.5 1264.7h0M954 1273.3h0M954.2 1299.2h0M954.6 1291h0M955 1271.4h0M955.3 1258.5h0M955.5 1306.6h0M955.7 1306.7h0M955.8 1301.7h0M956.5 1290.4h0M958.6 1257.3h0M958.7 1296h0M958.8 1292.1h0M962.6 1277.2h0M963.6 1294.6h0M963.7 1294.9h0M964.4 1256.9h0M964.5 1265.1h0M966.6 1258.8h0M968.4 1313.2h0M969.5 1295.8h0M969.9 1291.1h0M970.4 1285.5h0M971.1 1283.7h0M971.7 1260.7h0M972 1243.1h0M973.3 1258.5h0M973.9 1246.8h0M974.7 1301.3h0M975 1278h0M975.6 1355.3h0M975.8 1282.9h0M976.3 1276.2h0M976.5 1286.5h0M977.4 1244.2h0M979.4 1254.3h0M979.6 1267.3h0M979.7 1263.8h0M980.7 1287.2h0M982.9 1276.1h0M983.6 1287.9h0M984 1253.9h0M984.5 1273.7h0M985.9 1281.8h0M986.7 1284.3h0M987.3 1279.7h0M989.7 1280h0M990.4 1240.6h0M990.6 1227.6h0M992.9 1267.4h0M993 1285.7h0M993.2 1271.1h0M993.4 1280.1h0M994.2 1257.7h0M994.7 1246.1h0M997.5 1255.2h0M1000 1269.7h0M1000 1282.7h0M1000.9 1276h0M1001.1 1277.3h0M1001.5 1239.3h0M1001.7 1252.8h0M1002.2 1261h0M1003.5 1272.1h0M1005.2 1244.2h0M1005.3 1232.6h0M1005.3 1244.5h0M1006.3 1248.3h0M1007.9 1268.5h0M1008.2 1258.8h0M1010.9 1315.3h0M1012.3 1257.7h0M1013.3 1267.9h0M1013.5 1239.4h0M1013.7 1272.2h0M1014.1 1233.1h0M1017 1237.7h0M1017.2 1257.8h0M1017.4 1199.4h0M1018.2 1235.6h0M1018.7 1255h0M1020.1 1243h0M1020.6 1326.5h0M1021.1 1267.7h0M1022.3 1254.5h0M1023 1256h0M1023.6 1268.8h0M1023.9 1227h0M1025.6 1253.5h0M1027.6 1251.2h0M1027.7 1234.6h0M1029.4 1249.4h0M1029.9 1252h0M1030.9 1224.4h0M1031.1 1258h0M1033 1244.4h0M1036.5 1261.8h0M1037.5 1233h0M1038.1 1245.8h0M1042.3 1251.5h0M1042.6 1278.1h0M1043.8 1245.2h0M1046.7 1222.7h0M1049 1231h0M1049.6 1248.6h0M1050.3 1253.2h0M1052.1 1241.2h0M1052.3 1231.4h0M1052.5 1245.3h0M1054.6 1226.5h0M1055.1 1245.3h0M1056 1247.3h0M1059.1 1213.1h0M1059.6 1239.7h0M1062.1 1226.2h0M1067.4 1223.5h0M1068.3 1213.8h0M1069.4 1221.5h0M1071.3 1230.5h0M1072.3 1220h0M1073.6 1224.4h0M1074.6 1205.6h0M1080.7 1214.2h0M1083 1216.1h0M1083.5 1221.7h0M1087.9 1208.6h0M1091.7 1212.5h0M1091.8 1210.1h0M1098.5 1212h0M1098.8 1217.7h0M1103.7 1203.8h0M1104.4 1211.8h0M1107.3 1200.7h0M1125.4 1190.7h0M1129.5 1189.2h0M1131.2 1189.8h0"/>
<path class="d" d="M746.2 1378.8h0M746.6 1393.9h0M753.1 1374.4h0M755 1409.6h0M755.2 1381h0M758.3 1414.9h0M760.1 1409.2h0M760.2 1370.3h0M761 1406.6h0M761.1 1339.9h0M762.6 1412.2h0M764.4 1364.6h0M765.1 1372h0M765.4 1420h0M766.1 1368.8h0M769.3 1356.4h0M774.8 1355.9h0M775.8 1356.9h0M776.1 1410.9h0M777.4 1352.3h0M778.3 1339.1h0M778.5 1354h0M779.4 1333.7h0M781.2 1346.7h0M781.5 1407.4h0M782.2 1352.1h0M782.6 1356h0M787.7 1347.6h0M787.8 1322.6h0M789.2 1555h0M790.3 1344.4h0M790.3 1392.5h0M790.9 1337.6h0M793.8 1336.9h0M795.3 1421.9h0M796.6 1391.3h0M799.2 1420.9h0M800.1 1343.7h0M800.7 1421.3h0M802.4 1393.1h0M804 1415.7h0M806.7 1390.2h0M806.8 1393.1h0M807.5 1394.7h0M807.9 1395.5h0M811.1 1299.2h0M811.1 1312.3h0M811.7 1384.6h0M812.2 1339.6h0M812.4 1395.7h0M814.3 1313.1h0M816.6 1380.6h0M818 1334.1h0M818.1 1288.1h0M818.1 1418.8h0M818.7 1316.8h0M819.4 1256.6h0M820.3 1293.9h0M823 1401.6h0M823.1 1331.7h0M823.9 1388.8h0M824.5 1376.3h0M825.9 1323.7h0M826.8 1333.4h0M828.6 1286.1h0M831.9 1382h0M832.4 1302h0M832.6 1310.2h0M833.2 1294.6h0M833.6 1276.2h0M833.7 1307.1h0M833.9 1298.6h0M833.9 1316.7h0M834.4 1255.3h0M839.3 1433.4h0M839.4 1383.6h0M840.3 1371.2h0M841 1327.6h0M841.2 1280.6h0M841.2 1324.9h0M841.9 1370.6h0M842 1302.4h0M844 1275.9h0M845.5 1317.1h0M848.9 1320h0M850 1323.5h0M850.7 1384.8h0M850.9 1288.1h0M851.3 1288.5h0M855.1 1300.3h0M856.3 1369.7h0M858.4 1314.2h0M858.9 1313.8h0M858.9 1362.1h0M859.3 1370.4h0M860.8 1289.6h0M862.2 1243.1h0M863.5 1315.6h0M863.6 1289h0M864 1360.8h0M865.6 1315.3h0M867.7 1371.8h0M868 1294.3h0M868.1 1363h0M872 1359h0M873.1 1360.3h0M874.5 1307.2h0M875 1299.7h0M879.2 1370.9h0M879.5 1343.4h0M879.7 1358.7h0M880 1345.6h0M880.2 1362.9h0M880.9 1348.2h0M882.2 1313.5h0M883.4 1295h0M883.5 1360.2h0M884 1335h0M884.1 1299.3h0M884.3 1328.5h0M884.5 1361.2h0M884.7 1378.4h0M885.3 1320.8h0M887.3 1360.2h0M887.7 1296.2h0M887.9 1282.1h0M889.4 1291.7h0M889.4 1224.4h0M890.7 1239.7h0M890.7 1239.8h0M893.4 1365.7h0M894.4 1287.1h0M897.2 1290.7h0M898 1290.1h0M898.3 1358.4h0M898.4 1299.1h0M900 1283.5h0M900.9 1283.5h0M901.4 1371.5h0M902.2 1358h0M903.9 1289.8h0M904.1 1288.6h0M905.5 1294.9h0M906 1287.5h0M909.6 1361.5h0M909.9 1289.2h0M911.5 1371.9h0M911.6 1359.5h0M912.7 1355.1h0M913.6 1360.3h0M913.8 1357.9h0M914.4 1358.1h0M916.8 1283.7h0M917.2 1367h0M918.4 1350.1h0M919.4 1247.8h0M919.6 1287.5h0M920.3 1352.1h0M924.1 1357.5h0M924.3 1282.6h0M924.7 1279.6h0M925.6 1269.3h0M925.7 1344.6h0M926.5 1289h0M926.5 1368.7h0M927.2 1341.2h0M927.3 1263.1h0M928.1 1356.5h0M929.1 1345.9h0M929.2 1283.1h0M929.2 1352.1h0M929.2 1338.3h0M929.4 1343h0M930.5 1315.1h0M931.1 1278.3h0M932.1 1340.1h0M932.2 1309.7h0M932.3 1356.7h0M933 1313.3h0M934 1320.6h0M934.2 1283.9h0M934.7 1321.8h0M934.8 1269.8h0M935.3 1276.9h0M936.1 1354.2h0M936.1 1322.1h0M937.2 1273.1h0M937.2 1321.3h0M937.3 1322.3h0M937.5 1326.8h0M938 1285.5h0M938.4 1303.5h0M939.1 1321h0M939.4 1329.6h0M940.7 1315h0M940.8 1301h0M941.1 1255.3h0M943.4 1299.9h0M943.6 1256.5h0M944 1268.6h0M944.3 1280h0M944.9 1282.2h0M945.4 1310.7h0M945.7 1246.5h0M945.9 1266.5h0M946.1 1330.2h0M947.5 1245.9h0M948.9 1295.8h0M949.8 1318.4h0M950.3 1256.6h0M950.4 1249.9h0M950.6 1251.6h0M952 1309.3h0M952.5 1319.9h0M953.7 1275.4h0M954.4 1300.7h0M954.4 1264.1h0M955.2 1259.8h0M956.5 1374.4h0M956.7 1279.4h0M957.8 1314.4h0M958.4 1319.4h0M960.1 1272.2h0M961.5 1286.9h0M962.7 1256.7h0M962.7 1305.5h0M964.1 1304.3h0M964.3 1271.6h0M965.3 1308.5h0M965.5 1290.2h0M966.3 1325.6h0M966.6 1265.5h0M967.3 1259.5h0M967.4 1298.3h0M967.8 1249h0M967.8 1313h0M967.9 1292.7h0M968.4 1293.5h0M968.4 1300.3h0M969.2 1288.2h0M969.3 1256.5h0M970.1 1252.2h0M970.1 1257.6h0M971.8 1271.1h0M972.7 1253.9h0M973 1278.1h0M974.7 1300.6h0M975.2 1249.3h0M975.7 1269.3h0M977.7 1281.2h0M984.4 1277.2h0M985.9 1261.7h0M986.7 1254.3h0M986.7 1273h0M987.5 1278.2h0M991.3 1231.9h0M991.9 1288.4h0M994.3 1234.8h0M995.9 1306.9h0M996.9 1254.2h0M997.5 1249.7h0M997.6 1280.6h0M999 1269.8h0M999.1 1233.8h0M999.6 1270.1h0M999.8 1246.9h0M1000.1 1247.3h0M1000.8 1266.6h0M1002 1253.8h0M1002.5 1281.3h0M1006.9 1262.2h0M1007 1249.9h0M1007.5 1275.9h0M1007.9 1241.8h0M1009.4 1271.5h0M1010.9 1315.7h0M1012.7 1271.9h0M1014.8 1239.6h0M1015 1259.8h0M1015.1 1267.2h0M1015.1 1241.9h0M1015.4 1269.2h0M1016.1 1275.2h0M1016.5 1242h0M1016.5 1255.1h0M1016.8 1241.6h0M1017.1 1231.2h0M1017.5 1263.2h0M1018 1232h0M1018.2 1261.4h0M1019.1 1261.2h0M1020 1238.3h0M1020.3 1327.1h0M1021.9 1258.2h0M1024.9 1254.8h0M1027.5 1238.5h0M1027.7 1228.3h0M1028.6 1257.3h0M1031.9 1303.1h0M1032.1 1235.7h0M1033.4 1254.6h0M1034.8 1245.8h0M1035.2 1232.6h0M1036.2 1225.4h0M1036.5 1229.7h0M1036.6 1298.1h0M1039.6 1231.5h0M1040.8 1249.7h0M1042.2 1229.6h0M1045.3 1243.1h0M1046.3 1222.5h0M1046.9 1223.3h0M1049.5 1234h0M1050.7 1232.4h0M1052.9 1227.9h0M1055.4 1222.2h0M1055.5 1234.9h0M1055.7 1237.9h0M1056.4 1243h0M1057.7 1223.7h0M1058.3 1231.1h0M1058.6 1226.6h0M1060.1 1225.9h0M1061.7 1220.3h0M1062.2 1217.7h0M1063.8 1211h0M1064.3 1226.3h0M1066.9 1199.8h0M1067.8 1232.9h0M1068.8 1224.5h0M1071.2 1217.4h0M1073 1219.2h0M1074.3 1217.8h0M1077.7 1211.6h0M1079.8 1215.9h0M1081.4 1204.7h0M1082 1210.4h0M1083.1 1210.4h0M1083.9 1222.8h0M1085 1202.4h0M1086.9 1215.6h0M1087.6 1207.5h0M1089.5 1203.7h0M1091.8 1198.8h0M1100.1 1189.9h0M1100.7 1206.9h0M1101.7 1201.9h0M1102 1197h0M1104.2 1203h0M1109.6 1201.9h0M1115.1 1186.1h0M1115.3 1204.1h0M1116.6 1193.7h0M1118.5 1185.8h0M1118.9 1198.1h0M1119.4 1196.4h0M1119.5 1196.2h0M1120.6 1200.8h0M1122.1 1190.4h0M1123.9 1195.8h0M1126.7 1203h0M1129.1 1189.2h0"/>
<path class="d" d="M749.5 1409.5h0M750.1 1392.9h0M752.1 1390.3h0M753.6 1407.9h0M754.1 1359.6h0M754.4 1352h0M754.4 1387.8h0M755.3 1384h0M756 1361.2h0M757.5 1350h0M757.9 1411.2h0M759.6 1377.8h0M759.6 1436.3h0M762.4 1292.8h0M763.3 1368.5h0M763.7 1336.7h0M764.7 1416.6h0M764.9 1353.8h0M768.3 1336.1h0M768.8 1358.5h0M769.4 1427.4h0M770.6 1357.5h0M773.6 1404.8h0M774.6 1354.4h0M776.3 1419.5h0M780.7 1405.1h0M784.6 1323.2h0M785.9 1399.5h0M787.2 1408.8h0M787.7 1403.1h0M788 1394.7h0M788.7 1332.5h0M791.3 1405.4h0M794.3 1397.3h0M794.8 1324h0M795 1339.6h0M796.3 1413.9h0M797.1 1391.3h0M799.2 1343.4h0M801.7 1410.4h0M802.2 1309.1h0M803.6 1312.9h0M807.1 1327.8h0M807.8 1395.2h0M808.6 1386h0M809.6 1338.8h0M811.7 1313.2h0M812.4 1384.9h0M813.9 1297.7h0M814.1 1330.6h0M814.2 1394.7h0M815.3 1262.8h0M816 1292.2h0M816.4 1330.2h0M817.1 1311h0M818.1 1379.2h0M821.1 1377h0M822.1 1405.2h0M822.3 1411.8h0M823.2 1407.2h0M823.6 1394.8h0M825.6 1299.6h0M826.8 1404.1h0M827.5 1292.8h0M831.2 1312.6h0M831.4 1319h0M831.4 1372h0M831.7 1315.8h0M833.1 1287.2h0M834.6 1283.5h0M835 1323.5h0M835.9 1327.5h0M837.3 1373.4h0M838.6 1288.8h0M840.7 1386.4h0M841.5 1387.9h0M841.5 1308.5h0M843.9 1368.1h0M844.1 1293.9h0M844.2 1305h0M844.2 1303.3h0M845 1324.8h0M848.3 1319.4h0M849.2 1299.5h0M852 1302.4h0M852.1 1275.9h0M852.4 1297.3h0M853.3 1366.6h0M854.6 1317.6h0M854.6 1384.3h0M854.7 1239.4h0M854.8 1316.3h0M858.9 1279.4h0M859.4 1240.3h0M859.8 1393.5h0M860.2 1383.6h0M861.6 1311.1h0M861.7 1288h0M863.8 1302.7h0M864.5 1306.9h0M865.1 1307h0M865.6 1303.1h0M867.3 1380.4h0M867.5 1306.3h0M868.1 1279.9h0M868.5 1275.4h0M868.7 1292.7h0M869.4 1294.6h0M869.5 1314h0M874.7 1360.9h0M875.4 1339.1h0M875.6 1331.3h0M879 1299h0M879.4 1316.5h0M880.7 1296.9h0M880.9 1379.4h0M881.6 1304.7h0M882.2 1371.9h0M882.2 1354.9h0M882.6 1321.7h0M882.8 1247.2h0M882.8 1247.3h0M883.8 1324.9h0M884.8 1302.8h0M885.5 1302.2h0M885.6 1359.3h0M888.4 1363.6h0M888.4 1276.9h0M890.1 1301.2h0M890.1 1360.5h0M890.2 1359.5h0M892.1 1299.9h0M892.9 1360.5h0M897.7 1362.4h0M899.1 1280.2h0M901.6 1295.8h0M902.4 1360.8h0M902.5 1292.6h0M905.1 1372.1h0M906.2 1360.1h0M907.3 1357.5h0M908.4 1366.8h0M908.8 1289.3h0M909 1293.7h0M909.5 1292.2h0M910.1 1370h0M910.2 1360.6h0M910.4 1284.8h0M910.8 1363.3h0M912.4 1291.1h0M914 1368.8h0M914.4 1289.3h0M914.9 1368.9h0M915.9 1353.4h0M916.9 1278.9h0M918.3 1286.1h0M918.9 1354.7h0M919.4 1248.2h0M921.2 1282.4h0M921.5 1277.1h0M922.3 1279.9h0M922.9 1285.5h0M922.9 1361.7h0M923.5 1346.8h0M925.3 1286.4h0M926.1 1276.2h0M927.4 1274.1h0M930.5 1359.6h0M930.8 1285.1h0M930.9 1286.6h0M932.6 1251h0M932.6 1348.5h0M933.1 1331.7h0M933.1 1257.2h0M933.8 1254.3h0M933.8 1255.1h0M933.9 1345.5h0M933.9 1334.8h0M934 1329.9h0M934.4 1265h0M934.8 1278.4h0M935.1 1277.5h0M935.9 1334.4h0M936.2 1281.4h0M936.9 1340.5h0M937.4 1328h0M938.6 1280.1h0M939 1307.7h0M939.3 1312.2h0M939.6 1335.6h0M939.6 1390.1h0M940.2 1321.7h0M941.2 1340.3h0M941.3 1283.3h0M941.8 1335.8h0M941.9 1309.2h0M941.9 1314.8h0M942.3 1328.4h0M943.3 1306.6h0M943.3 1257h0M943.4 1311.1h0M944 1325.6h0M944.2 1278.8h0M945 1308.1h0M945.2 1258.1h0M945.2 1279.1h0M945.7 1329.5h0M946.1 1298.6h0M946.2 1301.2h0M946.4 1324.8h0M946.6 1331h0M946.6 1330.7h0M947.9 1315.8h0M948.4 1301.1h0M948.9 1266.1h0M949.8 1280.3h0M950 1251.2h0M950.9 1326.9h0M952.2 1279.7h0M952.2 1247.2h0M952.9 1311h0M953.5 1280.6h0M954.5 1275.3h0M955.2 1303.8h0M955.5 1316.2h0M955.5 1309.1h0M955.7 1318h0M956.5 1374.1h0M956.8 1251.6h0M956.9 1314.7h0M957.5 1275.8h0M957.9 1246h0M958.4 1295.2h0M958.9 1316.7h0M959.2 1272.6h0M961.1 1252.6h0M963.2 1306.8h0M965 1272.4h0M965.9 1325.3h0M966.7 1247.8h0M968.6 1285.7h0M969.1 1293.1h0M969.2 1269.5h0M970.2 1284.7h0M970.9 1312.8h0M971 1295.5h0M971.2 1291.9h0M973.3 1268.7h0M973.8 1256.6h0M974.4 1297h0M975.7 1251.1h0M976.7 1254.3h0M977.7 1268.7h0M977.8 1290.8h0M978.5 1248h0M980 1287.6h0M980.4 1281.3h0M980.5 1255.6h0M981.4 1259h0M982.1 1255.8h0M982.1 1262.5h0M983.5 1241h0M984.8 1249.4h0M985.9 1240.3h0M987.3 1259.2h0M989.3 1269h0M990.6 1226.9h0M990.7 1260.2h0M992.7 1282.1h0M992.8 1283.1h0M992.8 1283.2h0M993.4 1281.7h0M994.3 1277.2h0M994.7 1253.6h0M996.3 1306.6h0M996.5 1265.1h0M998.1 1232.2h0M998.7 1264.9h0M1002.1 1262.4h0M1003.1 1270.7h0M1003.3 1247h0M1005.9 1278.9h0M1006.4 1274.1h0M1010.2 1261.1h0M1010.9 1235.8h0M1011.1 1246.9h0M1011.4 1265.6h0M1014.3 1259.6h0M1015.9 1232.9h0M1016.1 1246.4h0M1016.3 1329.8h0M1016.9 1277.8h0M1018.6 1270.3h0M1020.3 1236.1h0M1022.6 1239h0M1022.7 1242.5h0M1024.2 1252.3h0M1024.2 1254.5h0M1024.3 1232.3h0M1024.6 1248.9h0M1024.9 1239h0M1025.3 1240.9h0M1025.6 1227.1h0M1028.7 1265.2h0M1029.8 1227.4h0M1030.4 1257h0M1031.9 1302.8h0M1032.4 1233.7h0M1032.6 1233.5h0M1033.7 1235h0M1033.9 1231.7h0M1036.9 1231.9h0M1038.1 1260.6h0M1038.8 1233.2h0M1042.2 1277.8h0M1042.9 1236.9h0M1043.1 1247.4h0M1045.5 1244h0M1045.8 1241.3h0M1047.1 1232h0M1047.7 1229.2h0M1048.9 1223h0M1052.5 1228.8h0M1052.7 1228.2h0M1054 1240.5h0M1054.3 1251.7h0M1055.1 1243.1h0M1056.7 1236.6h0M1056.7 1220.3h0M1057.5 1237.9h0M1058.6 1226.5h0M1061.6 1234.6h0M1064.1 1215.3h0M1068.2 1225.9h0M1069 1217.8h0M1076.6 1215.3h0M1077.1 1225.3h0M1082.5 1221.5h0M1083.9 1205.4h0M1087.9 1196.2h0M1088 1219h0M1089.8 1211.4h0M1091.5 1205.5h0M1095.6 1205.1h0M1096.2 1213.2h0M1097.5 1220.9h0M1107.8 1214.4h0M1108.4 1210.5h0M1109.4 1196.9h0M1109.5 1193.7h0M1114.3 1200.2h0M1128 1205.1h0M1130.9 1191.6h0"/>
<text class="lab" x="618.3" y="1128.7">H</text>
<text class="ttl" x="761.3" y="1122.4">Apparent oxygen utilization</text>
<text class="ttl" x="705.7" y="1170.3">y=0.984x+1.371</text>
<text class="ttl" x="706.7" y="1216.8">R^2=0.950</text>
<text class="tk" text-anchor="middle" transform="translate(689.8 1611.8) scale(.89 1)">-50</text>
<text class="tk" text-anchor="middle" transform="translate(814.3 1611.8) scale(.89 1)">50</text>
<text class="tk" text-anchor="middle" transform="translate(938.7 1611.8) scale(.89 1)">150</text>
<text class="tk" text-anchor="middle" transform="translate(1063.2 1611.8) scale(.89 1)">250</text>
<text class="tk" text-anchor="middle" transform="translate(1187.6 1611.8) scale(.89 1)">350</text>
<text class="tk" text-anchor="middle" transform="translate(659.3 1568) rotate(-90) scale(.93 1)">-250</text>
<text class="tk" text-anchor="middle" transform="translate(659.3 1431.8) rotate(-90) scale(.93 1)">-50</text>
<text class="tk" text-anchor="middle" transform="translate(659.3 1295.6) rotate(-90) scale(.93 1)">150</text>
<text class="tk" text-anchor="middle" transform="translate(659.3 1159.4) rotate(-90) scale(.93 1)">350</text></g>
<g><g stroke="#808080" stroke-width="3.6" fill="none">
<path d="M1294.3 1140.5V1576.8M1285.1 1567.6H1795.3M1349.8 1567.6v6.8M1405.3 1567.6v9.2M1460.8 1567.6v6.8M1516.3 1567.6v9.2M1571.8 1567.6v6.8M1627.3 1567.6v9.2M1682.8 1567.6v6.8M1738.3 1567.6v9.2M1793.8 1567.6v6.8M1294.3 1514.4h-6.8M1294.3 1461.2h-9.2M1294.3 1408h-6.8M1294.3 1354.8h-9.2M1294.3 1301.6h-6.8M1294.3 1248.4h-9.2M1294.3 1195.2h-6.8M1294.3 1142h-9.2"/></g>
<path d="M1333 1529L1756.8 1149.1" stroke="#e31a1c" stroke-width="5.2" stroke-linecap="round" fill="none"/>
<polygon fill="#404040" points="1332.5,1510 1333.4,1515.6 1347.5,1517.5 1362.5,1516.6 1377.5,1513.8 1392.5,1508.1 1407.5,1500.6 1418.8,1491.3 1428.1,1480 1437.5,1466.9 1445,1457.5 1452.5,1448.1 1460,1440.6 1463.8,1431.3 1460,1423.8 1467.5,1414.4 1478.8,1405 1490,1395.6 1501.3,1384.4 1508.8,1375 1516.3,1367.5 1525.6,1360 1535,1352.5 1542.5,1345 1538.8,1337.5 1527.5,1337.5 1516.3,1341.3 1505,1348.8 1493.8,1356.3 1482.5,1360 1471.3,1363.8 1460,1367.5 1448.8,1371.3 1441.3,1378.8 1433.8,1386.3 1426.3,1390 1420.6,1397.5 1416.9,1408.8 1411.3,1420 1403.8,1431.3 1398.1,1442.5 1390.6,1450 1386.9,1459.4 1381.3,1466.9 1382.2,1474.4 1373.8,1483.8 1362.5,1491.3 1353.1,1498.8 1343.8,1506.3"/>
<path class="d" d="M1333.6 1483.5h0M1335.3 1516.1h0M1336.9 1516.4h0M1340.6 1478.5h0M1341.6 1478.3h0M1344.7 1487.9h0M1345.9 1497h0M1347.7 1475.7h0M1348.2 1513.6h0M1351 1457.9h0M1351.8 1458.6h0M1358.1 1516.4h0M1359.6 1477.6h0M1361.3 1461.3h0M1362.3 1516.2h0M1362.7 1464.1h0M1367 1478h0M1369.5 1486.8h0M1369.9 1433.9h0M1371.9 1474.6h0M1373.7 1465.4h0M1374.6 1455.1h0M1375 1512.7h0M1375.1 1486.8h0M1375.9 1454h0M1376.2 1480.8h0M1377.8 1477.6h0M1379.5 1448.3h0M1379.7 1469.3h0M1382.8 1459.7h0M1383 1422.6h0M1383.4 1418.7h0M1383.5 1443.2h0M1383.6 1472.3h0M1384.4 1445.6h0M1387.8 1446.3h0M1388.7 1397.2h0M1389 1506.1h0M1392.8 1384.2h0M1392.9 1436.2h0M1393.4 1432.5h0M1394.5 1506.9h0M1394.7 1440.2h0M1394.7 1435.9h0M1395.6 1501.4h0M1396.2 1446.9h0M1397.4 1444h0M1399 1410.5h0M1399.1 1433.5h0M1400.7 1425.4h0M1401.2 1370.7h0M1403.5 1405.1h0M1403.7 1399.8h0M1405.6 1416.6h0M1405.7 1412h0M1406.4 1409.8h0M1406.7 1411.9h0M1406.8 1357.3h0M1406.9 1498.8h0M1406.9 1399.2h0M1407 1405.5h0M1407.3 1364.9h0M1407.8 1415h0M1408.1 1408.5h0M1408.4 1406.1h0M1408.6 1402.7h0M1408.8 1417.5h0M1408.8 1494.1h0M1409.1 1389.5h0M1409.3 1396.5h0M1409.4 1253.5h0M1409.5 1406.6h0M1409.6 1419.5h0M1410 1418.7h0M1410.3 1396.1h0M1410.5 1388.4h0M1410.8 1414.9h0M1410.9 1393.3h0M1411.3 1291.2h0M1411.3 1422.9h0M1411.5 1406.3h0M1411.6 1398.3h0M1411.9 1409.3h0M1413 1394.5h0M1413.3 1406.6h0M1413.7 1386.2h0M1413.9 1364.1h0M1414.3 1404.8h0M1414.3 1374.6h0M1414.3 1415.8h0M1415 1383.4h0M1415.2 1490.1h0M1415.7 1394.4h0M1416.1 1389.5h0M1416.4 1367.9h0M1416.6 1397.9h0M1416.6 1390.7h0M1416.8 1398h0M1417 1369.8h0M1417 1385.7h0M1417.9 1399.7h0M1418.2 1398.5h0M1418.2 1405.5h0M1418.2 1356.5h0M1420 1387.3h0M1420 1395.7h0M1420.6 1293.4h0M1420.7 1391.1h0M1421.1 1374.8h0M1421.2 1388.3h0M1421.4 1388.8h0M1421.5 1392.1h0M1421.7 1358.8h0M1422 1384.7h0M1422.2 1391.8h0M1422.8 1383.1h0M1422.8 1481.1h0M1423.4 1479.7h0M1425.2 1383.2h0M1425.4 1379.7h0M1425.6 1371.2h0M1425.7 1378.8h0M1425.7 1380.7h0M1426.3 1379.4h0M1426.9 1321.8h0M1428.6 1332.8h0M1428.9 1474h0M1429.2 1385.9h0M1429.8 1389.2h0M1430.5 1472.8h0M1431.1 1470.1h0M1431.6 1370.8h0M1431.7 1377.6h0M1431.7 1391.3h0M1431.8 1367h0M1432 1321.9h0M1432.1 1384.2h0M1432.2 1373.4h0M1432.7 1377.7h0M1432.8 1270.9h0M1433 1471.5h0M1433.7 1381.1h0M1433.9 1390.8h0M1434 1465h0M1434.2 1331.6h0M1434.3 1379.4h0M1434.5 1317.6h0M1434.5 1323.4h0M1434.8 1383.4h0M1435.5 1325.4h0M1435.6 1497.4h0M1435.8 1374.2h0M1435.8 1322.5h0M1435.8 1322h0M1435.9 1391h0M1435.9 1374.2h0M1436.2 1385.1h0M1437.3 1387.2h0M1437.9 1377.6h0M1438.6 1370.4h0M1438.6 1367.1h0M1439.5 1317.2h0M1439.6 1383.9h0M1439.9 1378.4h0M1440.2 1367.9h0M1440.8 1358.1h0M1441 1369.4h0M1441.5 1382.3h0M1441.5 1328.5h0M1441.6 1364.1h0M1441.9 1328.4h0M1442.3 1319.4h0M1442.6 1312.2h0M1442.7 1325h0M1443.7 1333.4h0M1444.5 1373.1h0M1445.1 1308.9h0M1445.5 1368.3h0M1445.8 1371.1h0M1446.1 1373.4h0M1446.3 1358.5h0M1446.8 1324.5h0M1447.3 1366.8h0M1447.4 1365.7h0M1447.5 1370.5h0M1447.9 1372h0M1448.2 1454.7h0M1448.5 1365h0M1449.1 1377.1h0M1449.7 1354.9h0M1449.8 1368.2h0M1450.6 1361.1h0M1450.7 1359.5h0M1451.3 1362.7h0M1451.4 1366.4h0M1452.2 1359.3h0M1453.1 1358.2h0M1453.3 1366.4h0M1453.5 1373.2h0M1453.8 1364h0M1454.4 1358.8h0M1455.2 1365.9h0M1455.5 1368.7h0M1455.7 1361.5h0M1456.5 1363.2h0M1457.1 1366.4h0M1457.9 1372.9h0M1458.1 1462.2h0M1459.1 1430.6h0M1459.3 1360.5h0M1459.3 1335.8h0M1459.3 1355.3h0M1459.5 1315.9h0M1459.8 1442.8h0M1459.9 1357.7h0M1460.8 1358.7h0M1460.9 1353.6h0M1461 1435.9h0M1461.9 1468.4h0M1462.7 1358.1h0M1463.2 1347.4h0M1463.6 1355.9h0M1464.1 1334.3h0M1464.4 1359.5h0M1464.7 1424.3h0M1464.7 1431.3h0M1465.6 1355.2h0M1466 1310.6h0M1466 1357.8h0M1466.4 1360.9h0M1466.5 1417.3h0M1466.6 1323.3h0M1467.2 1314.2h0M1467.3 1361.4h0M1467.6 1367.1h0M1467.9 1362.4h0M1468.1 1359.1h0M1468.2 1355.1h0M1468.8 1311h0M1469.3 1351.2h0M1469.5 1363.1h0M1469.9 1450.4h0M1470 1356.1h0M1470.1 1311.6h0M1470.1 1357.4h0M1470.3 1353.4h0M1470.5 1355h0M1470.6 1356.8h0M1470.7 1359.2h0M1470.7 1360h0M1470.7 1433.8h0M1470.9 1358.2h0M1470.9 1359h0M1471 1357.3h0M1471.1 1357.9h0M1471.2 1312.3h0M1471.2 1457h0M1471.3 1338.8h0M1472.2 1362h0M1472.3 1313.6h0M1472.3 1359.7h0M1472.4 1354.5h0M1472.5 1423.9h0M1472.5 1444.8h0M1472.7 1358.7h0M1472.9 1341.5h0M1473.2 1426.9h0M1473.4 1349.1h0M1474.9 1345.3h0M1475.1 1363.8h0M1475.3 1344.3h0M1475.5 1438.8h0M1477.3 1352.6h0M1477.6 1421.7h0M1477.8 1349.2h0M1477.9 1426.1h0M1478.2 1354.7h0M1478.3 1325h0M1478.8 1340.4h0M1479.3 1409.9h0M1479.7 1409h0M1480 1359h0M1481.3 1366.6h0M1481.5 1363.9h0M1482.4 1316.7h0M1482.4 1360.5h0M1482.7 1309.2h0M1482.8 1356.8h0M1483 1411.1h0M1484.1 1351.3h0M1484.6 1358.7h0M1485 1344.1h0M1485.6 1395.4h0M1485.7 1360.9h0M1486.1 1331h0M1486.5 1328.8h0M1487.2 1359.9h0M1487.2 1427h0M1487.5 1426.8h0M1489 1354.8h0M1489.7 1389.4h0M1489.9 1357.1h0M1490.1 1345.5h0M1491.4 1362.1h0M1491.7 1333.4h0M1492.8 1407.7h0M1493.1 1351.4h0M1493.3 1408h0M1494 1347.4h0M1495.1 1429.1h0M1495.7 1425.2h0M1495.9 1339.9h0M1496.2 1422.3h0M1496.8 1436.8h0M1497.3 1354.3h0M1497.3 1436.7h0M1497.5 1346.8h0M1498.3 1352.8h0M1498.9 1350.4h0M1500.3 1339.7h0M1500.4 1400.8h0M1500.4 1419.9h0M1500.8 1330.4h0M1500.8 1330.1h0M1501.3 1342.6h0M1501.4 1329.6h0M1501.4 1334.4h0M1502.2 1343.4h0M1502.4 1383.3h0M1502.4 1353.9h0M1502.4 1337.7h0M1502.8 1344.4h0M1503.4 1343.1h0M1503.6 1327.3h0M1503.8 1408.9h0M1503.8 1332.7h0M1504 1346.4h0M1504.6 1321.8h0M1505.4 1406.1h0M1505.7 1408.9h0M1506.9 1432.2h0M1508 1339h0M1508.3 1323h0M1508.6 1346.9h0M1508.7 1340.5h0M1509.2 1435.3h0M1509.3 1402.5h0M1509.7 1339.3h0M1510.2 1410.5h0M1510.8 1329h0M1512 1333.3h0M1512.1 1333.9h0M1512.6 1334.8h0M1512.8 1330.4h0M1513.3 1368.9h0M1513.5 1327.7h0M1513.8 1411.4h0M1514 1340.4h0M1514.2 1332.1h0M1514.4 1419.8h0M1514.6 1344.8h0M1514.6 1333.3h0M1515.1 1331.3h0M1515.9 1327.3h0M1516.3 1333.2h0M1516.3 1402.2h0M1516.4 1326.8h0M1516.6 1329.1h0M1516.7 1345.5h0M1518 1412.8h0M1518 1398.5h0M1518.2 1336.3h0M1518.6 1324.4h0M1518.8 1326.1h0M1519.1 1397.5h0M1519.4 1323.7h0M1520 1333.5h0M1520.2 1339h0M1520.2 1341.4h0M1520.3 1340.4h0M1520.9 1426.6h0M1521.2 1341.1h0M1521.9 1327.6h0M1522.2 1337.9h0M1522.4 1340.6h0M1522.9 1339.1h0M1524 1391h0M1524.6 1333.3h0M1526 1339.9h0M1526.9 1365.3h0M1527.1 1323.3h0M1527.5 1322.2h0M1527.9 1357.8h0M1528.1 1384.5h0M1528.2 1315.7h0M1528.4 1338.6h0M1528.4 1400.3h0M1528.7 1314.2h0M1528.9 1323.5h0M1529.3 1355.1h0M1529.5 1321.7h0M1529.9 1324h0M1530 1328.8h0M1530.3 1330.4h0M1530.8 1341h0M1531.3 1482.8h0M1531.8 1301.6h0M1532.5 1386.8h0M1533.5 1329.1h0M1534.2 1384.4h0M1534.9 1353.7h0M1535 1405.9h0M1537.3 1376.7h0M1537.3 1340.8h0M1538.1 1360.9h0M1538.4 1357.3h0M1538.7 1352.3h0M1539.3 1409.4h0M1540.1 1331.5h0M1540.6 1480.4h0M1540.9 1363.7h0M1541.3 1314.7h0M1541.8 1392h0M1543 1312.4h0M1543.2 1333.6h0M1544.1 1318.9h0M1544.2 1352.9h0M1544.3 1324.3h0M1545.1 1326.5h0M1546.1 1298.4h0M1546.6 1312.4h0M1548.3 1300.7h0M1549.7 1327.2h0M1549.9 1311.9h0M1550 1393.3h0M1551.2 1402.5h0M1552.3 1378.3h0M1552.7 1367.8h0M1554.1 1409h0M1554.3 1368.7h0M1554.6 1304.5h0M1556.3 1390.9h0M1556.4 1378.6h0M1557.5 1395.6h0M1557.5 1406.9h0M1559.6 1313.4h0M1559.7 1362.8h0M1560.8 1363.2h0M1561.8 1363.5h0M1562.2 1372.2h0M1566.1 1383.1h0M1580 1368.1h0M1587.5 1350.6h0M1605.9 1370.3h0M1622.2 1336h0M1629.7 1315.4h0M1671.2 1371.9h0M1676.9 1328.1h0M1701.9 1332.5h0M1755.2 1345.2h0"/>
<path class="d" d="M1332.3 1479h0M1333.4 1494.1h0M1335.4 1511.3h0M1335.8 1512.8h0M1339.1 1468.8h0M1339.2 1509.2h0M1343.5 1499.6h0M1343.8 1515.4h0M1344.4 1499.1h0M1345.7 1495.7h0M1345.7 1507h0M1347.1 1304.1h0M1347.8 1475.8h0M1348.4 1483.2h0M1349.9 1502.5h0M1350.3 1446.3h0M1350.4 1504.7h0M1353.1 1499.6h0M1354.7 1502.3h0M1358.2 1497.7h0M1363 1492.1h0M1363.8 1477h0M1367.4 1475h0M1367.8 1425.5h0M1369.5 1514h0M1370.1 1463.9h0M1371.9 1439.7h0M1372.7 1488.1h0M1375.8 1456h0M1375.8 1477.5h0M1376.3 1485.4h0M1377.6 1464.3h0M1378.6 1480.8h0M1379.4 1444.4h0M1380.1 1510.4h0M1380.4 1467.5h0M1381.2 1433.6h0M1382.2 1456.8h0M1383.4 1444h0M1384.6 1415.6h0M1385.1 1421.3h0M1385.6 1390h0M1385.7 1463.5h0M1386.1 1425.5h0M1387.6 1430.9h0M1387.6 1428.3h0M1387.6 1508.1h0M1387.6 1410.3h0M1388.9 1461.3h0M1391 1458.8h0M1391.2 1434.7h0M1391.9 1432h0M1392.2 1439.3h0M1392.3 1456.4h0M1394 1503.8h0M1394.3 1430.9h0M1394.5 1442h0M1395.3 1356.3h0M1397 1384.2h0M1398 1423.4h0M1400.1 1409.1h0M1401 1367.6h0M1401.9 1249.9h0M1402 1364.6h0M1402.3 1381.7h0M1402.9 1414.1h0M1403.1 1407.8h0M1403.3 1367.1h0M1403.5 1410.4h0M1404.8 1384.4h0M1404.9 1367.3h0M1405.3 1411.8h0M1406 1499.1h0M1406.1 1416.8h0M1406.4 1379.4h0M1406.9 1413.8h0M1406.9 1389.5h0M1406.9 1415.9h0M1407.6 1407.6h0M1407.6 1370.4h0M1407.9 1415.3h0M1409.2 1423.4h0M1409.2 1396.6h0M1409.4 1367.5h0M1409.5 1380.3h0M1409.5 1412.9h0M1410 1407.6h0M1410.3 1262.9h0M1410.4 1418.9h0M1410.5 1411.4h0M1410.8 1400.4h0M1410.9 1393.9h0M1411.1 1405.3h0M1411.3 1410.8h0M1411.8 1409.3h0M1411.8 1354.4h0M1411.9 1383.7h0M1412.2 1355.1h0M1412.2 1309.4h0M1412.7 1393.7h0M1413.2 1396.3h0M1413.2 1411.7h0M1413.3 1392.5h0M1413.3 1387.3h0M1413.7 1397.8h0M1413.8 1389.8h0M1414.3 1398.1h0M1414.4 1399.1h0M1414.4 1391.6h0M1414.4 1398.1h0M1414.8 1413.1h0M1415.2 1359h0M1415.4 1492.1h0M1415.5 1355.6h0M1416.1 1388.4h0M1416.2 1397h0M1416.6 1386h0M1416.8 1346.5h0M1417 1409.4h0M1417.1 1396.9h0M1417.2 1365.7h0M1417.4 1382.2h0M1417.8 1290.3h0M1418.2 1393.6h0M1418.3 1395.1h0M1418.5 1388.5h0M1418.5 1340.4h0M1418.9 1390.3h0M1420 1372.8h0M1420.2 1409.8h0M1420.6 1381.3h0M1421.3 1379.3h0M1421.3 1349.7h0M1421.4 1387.2h0M1421.4 1382.7h0M1421.5 1365h0M1421.9 1397.1h0M1422.1 1396.8h0M1422.1 1388.2h0M1422.1 1383.7h0M1422.4 1369.6h0M1422.5 1382.7h0M1422.8 1389.8h0M1423 1390.7h0M1423.1 1389.9h0M1423.2 1381.5h0M1423.5 1379.4h0M1424.4 1485.6h0M1424.6 1369.8h0M1424.9 1483.2h0M1425 1388.8h0M1425.9 1377.8h0M1428 1387.7h0M1428.9 1392.3h0M1429 1389.9h0M1429.5 1389.1h0M1429.5 1389.2h0M1429.5 1377.8h0M1429.9 1366.3h0M1430 1383.8h0M1430.5 1390.1h0M1430.5 1383.4h0M1430.9 1375.2h0M1430.9 1286.3h0M1431.3 1368.5h0M1431.6 1386.8h0M1432.3 1309.8h0M1432.4 1362h0M1433.4 1377.1h0M1433.6 1382.7h0M1433.9 1387.8h0M1434 1388.2h0M1434.9 1369.8h0M1435.2 1343.4h0M1435.4 1377h0M1436.8 1386.2h0M1437.2 1316.9h0M1437.3 1375.9h0M1437.3 1320.4h0M1437.5 1371.7h0M1437.7 1374.3h0M1438.1 1379.8h0M1438.6 1361.6h0M1439.6 1460.8h0M1440.4 1350.2h0M1440.6 1364.7h0M1441.1 1368.3h0M1441.1 1335.8h0M1441.2 1363.2h0M1441.2 1373.5h0M1442.3 1358.8h0M1442.3 1370.8h0M1442.5 1366.9h0M1442.5 1361.6h0M1442.6 1293.8h0M1442.7 1372h0M1442.7 1333.9h0M1443.3 1373.7h0M1443.3 1457.1h0M1443.6 1367.9h0M1443.6 1327.1h0M1443.7 1317h0M1443.9 1361.9h0M1444.3 1322.1h0M1444.6 1351.7h0M1444.6 1373.5h0M1444.9 1377.3h0M1446 1375.4h0M1446.4 1365.8h0M1446.6 1362.1h0M1447.3 1358.7h0M1448.1 1454.8h0M1448.1 1361.5h0M1448.8 1366h0M1449.1 1362.1h0M1449.2 1364.4h0M1450.4 1357.5h0M1450.8 1367.4h0M1451 1364.7h0M1451.7 1358.9h0M1452.1 1366.5h0M1452.2 1444.7h0M1452.2 1363.2h0M1452.2 1321.1h0M1452.3 1356.6h0M1452.5 1498.8h0M1452.9 1298.5h0M1452.9 1364h0M1453.1 1360h0M1453.3 1352.7h0M1453.4 1361.9h0M1453.5 1364.8h0M1453.7 1370.3h0M1454.1 1370.3h0M1454.6 1365.6h0M1454.8 1360.5h0M1456.7 1359.6h0M1456.9 1427.2h0M1457.1 1358.2h0M1457.1 1359.7h0M1457.5 1360.6h0M1457.5 1353.2h0M1459.2 1431.1h0M1460 1428.2h0M1460.1 1367.8h0M1460.3 1369.7h0M1460.4 1366.8h0M1460.6 1369.6h0M1460.8 1358.5h0M1460.9 1366.7h0M1461.3 1355.8h0M1461.4 1345.7h0M1461.8 1365.7h0M1462.2 1365h0M1462.5 1362.9h0M1462.5 1332.9h0M1462.5 1418.8h0M1462.8 1413.6h0M1463.5 1418.8h0M1463.7 1349.1h0M1463.9 1330.5h0M1464.1 1364.9h0M1464.7 1359.8h0M1465.2 1314.8h0M1465.3 1309h0M1465.3 1451h0M1465.5 1356h0M1466.3 1318.7h0M1466.9 1430h0M1467.4 1356.9h0M1468.1 1324.6h0M1468.3 1359.9h0M1469.2 1358.8h0M1469.6 1354.1h0M1469.8 1352.5h0M1469.9 1436h0M1470.6 1360h0M1470.9 1312.2h0M1471 1355.6h0M1471.3 1353.9h0M1471.4 1355.5h0M1471.7 1356.7h0M1471.8 1356.2h0M1472.2 1353.8h0M1472.8 1285h0M1473 1428.8h0M1473.1 1346h0M1473.1 1418h0M1473.2 1347.8h0M1473.3 1357.7h0M1473.4 1412h0M1474.3 1344.6h0M1474.6 1422.7h0M1474.9 1364.3h0M1475.4 1499.7h0M1475.6 1352h0M1476.3 1417.1h0M1477 1345.9h0M1477.9 1439.3h0M1477.9 1355.1h0M1478.1 1401.2h0M1478.9 1357.9h0M1479.2 1350.8h0M1480.1 1349.1h0M1480.2 1309.5h0M1480.2 1350.6h0M1480.9 1304.7h0M1481.1 1320.3h0M1481.3 1344.5h0M1481.5 1346.2h0M1481.6 1363.4h0M1482 1352.4h0M1482 1308.3h0M1482.5 1361.2h0M1482.5 1345.5h0M1483.3 1350.4h0M1483.9 1351.1h0M1484.2 1361.2h0M1484.5 1357.9h0M1484.9 1351.3h0M1485 1427.4h0M1485.3 1347.8h0M1485.7 1353.2h0M1486 1346.4h0M1486.9 1361.2h0M1487.3 1359.4h0M1488.8 1336.3h0M1489.4 1410h0M1490.4 1349.9h0M1490.4 1504h0M1490.4 1391.1h0M1490.9 1351h0M1491.8 1324.4h0M1492.1 1351.7h0M1492.7 1346h0M1492.9 1349.4h0M1493.2 1426.5h0M1493.8 1389.2h0M1493.8 1358h0M1494.9 1357.3h0M1494.9 1360.4h0M1495.8 1340.2h0M1496.5 1388.4h0M1496.5 1341.8h0M1496.5 1402h0M1498 1328h0M1499.4 1435.8h0M1499.5 1329h0M1499.7 1431.8h0M1499.8 1329.9h0M1501.6 1501.9h0M1502.7 1324.2h0M1502.9 1329.5h0M1503.4 1338.1h0M1504.5 1331.7h0M1505.2 1377.6h0M1505.3 1429.7h0M1505.4 1326.6h0M1505.7 1328.2h0M1506.2 1430.4h0M1506.6 1336.4h0M1506.6 1327.6h0M1506.7 1372.4h0M1506.7 1331h0M1507.1 1375.6h0M1507.5 1424h0M1507.9 1344h0M1508.8 1338.7h0M1510 1405.6h0M1510.3 1432.4h0M1510.4 1332.1h0M1511.1 1330.3h0M1511.3 1333.9h0M1511.6 1469.1h0M1512 1430.3h0M1512.3 1413.9h0M1512.3 1329.9h0M1513 1329.4h0M1513.4 1413.1h0M1513.8 1329.7h0M1513.9 1368.1h0M1514 1329.9h0M1514.1 1324.2h0M1514.4 1326.3h0M1514.5 1333.5h0M1514.6 1326h0M1515.7 1322.9h0M1516.3 1325.5h0M1516.6 1365.5h0M1516.6 1375.9h0M1517.5 1326h0M1517.5 1325.8h0M1517.8 1323.2h0M1517.8 1378.6h0M1518 1333.1h0M1518.1 1416.3h0M1518.4 1330.9h0M1518.9 1334.7h0M1519 1328.2h0M1519.4 1320.9h0M1520.3 1322h0M1520.8 1337.8h0M1521.7 1362.1h0M1522.3 1387.4h0M1523.8 1491.8h0M1524.1 1343.7h0M1524.8 1359.4h0M1525.1 1338.4h0M1525.5 1316.6h0M1525.6 1327.5h0M1526.8 1399.1h0M1527 1354.2h0M1527.3 1322.6h0M1528 1335.8h0M1528.7 1379.7h0M1528.8 1389h0M1529.4 1332.9h0M1529.8 1332.1h0M1529.9 1357.8h0M1530.4 1325.4h0M1530.8 1333h0M1532 1390h0M1532.9 1306.7h0M1533.2 1338.1h0M1533.9 1370.9h0M1534.3 1352.4h0M1534.9 1349.5h0M1535.5 1396h0M1538 1376.5h0M1540.5 1397.8h0M1540.6 1371h0M1540.8 1349h0M1541.6 1341.5h0M1541.8 1317.6h0M1542.5 1363.7h0M1543.3 1399h0M1543.8 1365.3h0M1544 1332.3h0M1544 1331.4h0M1544.6 1361.8h0M1544.6 1318.2h0M1544.8 1298.7h0M1546.9 1373.6h0M1547.2 1405h0M1548.8 1356h0M1550.3 1311.2h0M1552.7 1400.8h0M1553 1311h0M1553.1 1393.2h0M1553.1 1380.8h0M1553.6 1368.2h0M1554.4 1369.2h0M1555.2 1330.7h0M1555.3 1399.8h0M1556.5 1382.7h0M1557.9 1414.4h0M1558.6 1363.2h0M1561.1 1390.4h0M1562.2 1361.5h0M1565 1390h0M1565.9 1395.6h0M1568.2 1306h0M1570.6 1353.8h0M1574.9 1331.9h0M1580.9 1339.4h0M1588.1 1331.9h0M1599.3 1335.6h0M1603.8 1353.4h0M1609.1 1379.7h0M1613.8 1359.1h0M1634.9 1321.2h0M1695.2 1337.5h0M1745.2 1342.1h0"/>
<path class="d" d="M1335.1 1483.8h0M1336 1481.8h0M1337.5 1475.7h0M1337.5 1493.8h0M1337.8 1509.2h0M1341 1479.8h0M1341.9 1480.7h0M1342.3 1472.8h0M1343 1478.3h0M1345.4 1505.9h0M1346.1 1498h0M1346.1 1509.5h0M1347 1516.1h0M1348.1 1433.1h0M1351.1 1500.4h0M1352.2 1512.8h0M1357.3 1458.7h0M1358 1493.9h0M1358.5 1475.9h0M1360.7 1450.6h0M1361.2 1459h0M1362.5 1454.3h0M1362.9 1515.3h0M1366 1490.5h0M1367.9 1434.2h0M1368.9 1488.7h0M1369.3 1424.5h0M1369.7 1486.9h0M1369.9 1486.1h0M1371.4 1447.7h0M1371.7 1439.2h0M1372.4 1510.8h0M1375 1464.5h0M1375 1476.1h0M1377.6 1435.6h0M1379.5 1455.3h0M1379.6 1467.4h0M1380 1427.3h0M1383.2 1509.6h0M1383.4 1415.6h0M1384.9 1467.6h0M1385.3 1407.9h0M1385.5 1446.7h0M1386.2 1444.8h0M1386.2 1425h0M1387.8 1444.7h0M1388.2 1394.7h0M1390.5 1432.3h0M1390.9 1431h0M1391.9 1452.6h0M1392.2 1439.8h0M1393.3 1450.2h0M1396.3 1427.4h0M1397.3 1432.5h0M1397.4 1404.7h0M1398.4 1436.4h0M1398.8 1369.1h0M1400.5 1379.8h0M1401.4 1408.5h0M1401.8 1409.1h0M1402 1502.3h0M1402.3 1406.5h0M1403.1 1409h0M1403.4 1413.4h0M1403.9 1371.8h0M1404 1411.9h0M1404.2 1405.3h0M1404.7 1411.7h0M1405 1435.9h0M1405.3 1391.2h0M1405.5 1388.9h0M1405.6 1428.1h0M1406.1 1405.4h0M1406.8 1360.7h0M1406.9 1371.7h0M1407 1394h0M1407.4 1377.7h0M1407.9 1361.1h0M1408 1407.7h0M1408 1403.6h0M1408.2 1418.6h0M1408.5 1358.4h0M1409.4 1401.9h0M1409.5 1410.2h0M1410 1367.9h0M1410.3 1357.2h0M1410.6 1492.7h0M1410.6 1400.2h0M1410.7 1399h0M1410.9 1371.4h0M1411 1392h0M1411.1 1411.9h0M1411.2 1360.7h0M1411.6 1387.7h0M1411.8 1403.2h0M1411.8 1400.3h0M1412.4 1391.6h0M1412.4 1400.8h0M1412.6 1347.5h0M1412.8 1393.6h0M1413.1 1395.3h0M1413.1 1385.8h0M1413.4 1398.8h0M1413.6 1380.3h0M1414.1 1420.7h0M1414.1 1406.6h0M1414.4 1387.9h0M1414.5 1348.2h0M1415.2 1352.4h0M1415.4 1417.5h0M1415.9 1407h0M1416.4 1399.5h0M1416.8 1411.2h0M1416.8 1487h0M1417.1 1390.9h0M1417.8 1407.2h0M1418.1 1394.3h0M1418.3 1353.7h0M1418.3 1404.3h0M1419.3 1269.4h0M1419.4 1371.3h0M1419.5 1485.7h0M1419.6 1404.1h0M1419.8 1382.6h0M1419.9 1380.9h0M1420.3 1358.3h0M1420.6 1310.9h0M1420.8 1380.9h0M1421 1379.9h0M1421.3 1392.6h0M1421.6 1384h0M1421.6 1482.5h0M1421.7 1369.9h0M1421.8 1384.5h0M1422 1376.6h0M1422 1392h0M1422 1390.6h0M1422 1368.9h0M1422.3 1372.4h0M1422.6 1379.3h0M1422.8 1381.6h0M1422.9 1395.1h0M1423.1 1382.1h0M1423.7 1391.6h0M1423.7 1370h0M1423.7 1383.5h0M1423.8 1371.3h0M1424 1366.1h0M1424.1 1396.2h0M1424.1 1396.4h0M1424.4 1375.4h0M1424.5 1376.7h0M1427.2 1371.6h0M1427.3 1477.1h0M1427.6 1383.3h0M1427.7 1332.9h0M1427.9 1381h0M1427.9 1383.9h0M1428.2 1374.5h0M1428.4 1390.3h0M1428.6 1378.4h0M1428.7 1375.2h0M1428.8 1384.6h0M1428.9 1382.4h0M1429.4 1390.6h0M1429.8 1368.3h0M1430 1318.5h0M1430.3 1326.4h0M1431.2 1378.1h0M1432.8 1315.5h0M1433.1 1381.8h0M1433.2 1333.6h0M1433.4 1373.7h0M1434.4 1383.2h0M1435 1382.6h0M1435.4 1371.2h0M1435.7 1383h0M1435.7 1328.3h0M1436 1381.5h0M1436.3 1372.5h0M1436.5 1384.7h0M1436.8 1317.7h0M1437 1329h0M1437.2 1464.7h0M1437.3 1374.9h0M1437.4 1381.2h0M1437.7 1381h0M1437.9 1361.4h0M1437.9 1381.3h0M1438.6 1381.6h0M1438.6 1329.4h0M1438.7 1371.4h0M1439.6 1333.3h0M1440.3 1350.5h0M1440.5 1314.5h0M1440.5 1374.3h0M1440.9 1377.3h0M1441 1372.9h0M1441.4 1328.2h0M1441.6 1373.3h0M1442.2 1310.8h0M1442.9 1454h0M1443.1 1375.2h0M1443.2 1382h0M1443.9 1379h0M1443.9 1304.4h0M1444.1 1372h0M1444.6 1373.1h0M1445.8 1360.4h0M1446 1359.6h0M1446.1 1358.1h0M1447 1311.8h0M1447.1 1364.2h0M1448.5 1365.8h0M1448.5 1361.3h0M1449.2 1315.1h0M1449.2 1362h0M1449.6 1360.4h0M1449.7 1451.5h0M1450 1367.4h0M1450.1 1361.9h0M1451 1372.7h0M1451.3 1375.1h0M1451.3 1373.7h0M1451.3 1362h0M1451.7 1358.6h0M1452.5 1369.2h0M1453.2 1359.4h0M1453.4 1358.3h0M1454.7 1369.6h0M1455.3 1365.7h0M1455.3 1354.7h0M1455.7 1319.9h0M1455.8 1441h0M1456 1326h0M1456.9 1328.1h0M1457.2 1472.9h0M1457.3 1321.1h0M1457.9 1359.7h0M1458.1 1364.2h0M1458.3 1361.6h0M1459 1315.4h0M1459.3 1362.8h0M1459.3 1366.3h0M1459.6 1369.7h0M1459.9 1315.8h0M1460.3 1436.8h0M1460.4 1361.5h0M1460.8 1325.8h0M1460.9 1321.3h0M1461.1 1357.1h0M1461.4 1355.9h0M1461.7 1374.1h0M1461.8 1430.1h0M1461.9 1360.6h0M1462.6 1360.2h0M1462.8 1352.3h0M1463.6 1327.7h0M1463.6 1356.8h0M1463.8 1415.2h0M1464.1 1364h0M1464.8 1355.2h0M1465.2 1421.8h0M1466 1444.4h0M1466.3 1329.5h0M1466.4 1352.8h0M1466.6 1348.7h0M1467.1 1313.2h0M1467.1 1356.1h0M1467.2 1369.7h0M1467.5 1347.1h0M1467.5 1436h0M1467.6 1332.5h0M1467.6 1358.8h0M1468.2 1366.5h0M1469 1358.7h0M1469.2 1353.7h0M1469.3 1356.3h0M1469.4 1355.3h0M1469.6 1353.4h0M1469.6 1362.2h0M1469.7 1354.9h0M1470.6 1347h0M1470.7 1363.9h0M1470.8 1352.7h0M1471.2 1359.7h0M1471.3 1356.9h0M1471.3 1408.8h0M1471.3 1407h0M1472 1360.3h0M1472 1353.8h0M1472.1 1362.8h0M1472.4 1361.3h0M1472.4 1343.1h0M1472.6 1406.8h0M1472.9 1341.5h0M1473.6 1349.2h0M1473.9 1421.1h0M1474.3 1346.9h0M1474.4 1346.3h0M1476 1356.1h0M1476.9 1362.5h0M1477.1 1343.5h0M1477.2 1358h0M1477.2 1348.3h0M1477.3 1419.5h0M1477.6 1361.5h0M1477.6 1361.4h0M1478.8 1353.6h0M1478.9 1317.1h0M1479.1 1429.1h0M1479.7 1345.3h0M1480.2 1410.7h0M1480.4 1356.8h0M1482.3 1397.9h0M1482.8 1352.7h0M1483.7 1357.2h0M1484.4 1357.1h0M1484.4 1361.7h0M1484.7 1360.6h0M1485 1358.6h0M1486.3 1274.3h0M1488.7 1492.2h0M1488.9 1356.1h0M1489.7 1324.4h0M1491 1331.3h0M1491.5 1347.2h0M1492.5 1351.5h0M1493.4 1353.2h0M1493.7 1321.1h0M1493.9 1359.6h0M1494.1 1326.5h0M1494.9 1406.2h0M1495 1326.1h0M1495.5 1322.6h0M1495.5 1429.6h0M1495.6 1355.2h0M1496.1 1385.4h0M1496.1 1435.9h0M1496.5 1323.4h0M1496.9 1429.6h0M1497.1 1350.3h0M1497.3 1359.5h0M1497.7 1354.9h0M1498.4 1337.8h0M1499.6 1382h0M1499.6 1441.8h0M1501.5 1410.5h0M1501.5 1387.1h0M1501.9 1337.5h0M1502.6 1330.7h0M1503.8 1329h0M1504.3 1329.8h0M1504.8 1396h0M1505.2 1389.8h0M1506.3 1325h0M1506.3 1346.3h0M1506.7 1328.1h0M1507.4 1375.8h0M1507.7 1326.2h0M1508.1 1407.1h0M1508.3 1329.2h0M1508.4 1335.5h0M1508.4 1325.6h0M1508.4 1320.1h0M1509.3 1410h0M1509.7 1492.6h0M1509.9 1330.9h0M1510.2 1319h0M1510.3 1347.3h0M1510.6 1329.9h0M1510.6 1499.7h0M1510.7 1343.3h0M1510.8 1405.4h0M1511.5 1412.9h0M1512.1 1332h0M1512.5 1374.1h0M1512.6 1318.9h0M1512.7 1323.5h0M1513.2 1317.8h0M1513.4 1413.9h0M1513.4 1426.6h0M1513.6 1348.7h0M1514 1323.8h0M1514.3 1321.3h0M1514.4 1323.7h0M1514.6 1425.9h0M1517.2 1494.4h0M1518.3 1331.5h0M1519.2 1401.4h0M1519.3 1338.5h0M1519.5 1324.7h0M1519.6 1327.6h0M1519.7 1391.2h0M1521 1340.9h0M1521.7 1333.7h0M1522 1393h0M1522.8 1325.2h0M1522.9 1328.8h0M1523.4 1336.4h0M1523.5 1340.8h0M1523.8 1324.9h0M1524.5 1319h0M1525.2 1401.3h0M1526.1 1370.4h0M1526.1 1338.6h0M1526.3 1334.9h0M1527.6 1391.7h0M1529.2 1336.7h0M1530 1335.1h0M1530 1333.8h0M1530 1320.8h0M1530.3 1386.2h0M1530.4 1376.3h0M1530.6 1353.3h0M1532.4 1357.2h0M1532.7 1347.1h0M1532.9 1345.8h0M1533 1349.7h0M1533.2 1334h0M1533.3 1328.3h0M1533.8 1355.3h0M1535.6 1275.1h0M1535.6 1339h0M1536.1 1338.6h0M1536.2 1317.7h0M1536.4 1368.5h0M1536.7 1355.1h0M1536.9 1336h0M1537.2 1390.7h0M1537.2 1357.7h0M1537.7 1350.5h0M1538 1339.8h0M1538.6 1341.6h0M1539.4 1345.9h0M1540.2 1322.3h0M1541.2 1354.4h0M1542.8 1334.4h0M1543.1 1310h0M1544.1 1355h0M1545.3 1302.2h0M1545.4 1365.6h0M1545.5 1312.4h0M1545.6 1326.7h0M1545.8 1318.9h0M1546.1 1335.4h0M1546.3 1371.5h0M1547 1324.6h0M1547.2 1310.5h0M1548.4 1301.6h0M1548.8 1384.3h0M1549.5 1396.5h0M1549.6 1302.7h0M1550.2 1313.5h0M1552 1409.3h0M1552.1 1409.9h0M1553.2 1317.3h0M1553.4 1378.9h0M1554 1302.1h0M1554.2 1379.2h0M1555.1 1302.3h0M1555.4 1366.9h0M1555.6 1374h0M1556.6 1388.1h0M1556.7 1405.7h0M1557.5 1376.9h0M1557.9 1384.3h0M1558.9 1369.3h0M1560.1 1371.4h0M1560.6 1365.6h0M1568.8 1320.6h0M1569.3 1335.6h0M1570.6 1461.3h0M1584.7 1334.7h0M1587.1 1361.9h0M1604 1379.7h0M1607.6 1326.3h0M1618.4 1356.3h0M1642.8 1355.4h0M1643.6 1344.4h0M1651.5 1354.1h0M1671.2 1365h0M1711.2 1327.8h0"/>
<path class="d" d="M1334.7 1481.1h0M1335.4 1510.4h0M1335.4 1480.8h0M1336.2 1482.4h0M1337 1505.8h0M1337.2 1488.4h0M1337.8 1488.1h0M1338.2 1515.9h0M1341.2 1498.2h0M1343.9 1505.9h0M1343.9 1472h0M1345 1511.4h0M1345.4 1510.4h0M1345.7 1475.9h0M1347.6 1482.7h0M1348.3 1491.9h0M1350.4 1496h0M1354.5 1513.3h0M1359.9 1479.3h0M1362.2 1495.1h0M1363 1446h0M1363.1 1458.9h0M1365.2 1488.3h0M1365.4 1516.6h0M1368.1 1421.9h0M1369.1 1427.5h0M1370 1492.2h0M1370.1 1458.1h0M1371.9 1469.7h0M1372.3 1438h0M1372.8 1432.2h0M1375.1 1470h0M1376.1 1456.5h0M1376.5 1461.3h0M1378 1509h0M1378.7 1470.5h0M1380.4 1480.5h0M1380.8 1440.1h0M1382.6 1464h0M1382.9 1400.4h0M1383.2 1472.9h0M1384 1467.3h0M1384 1423.5h0M1384.3 1475.7h0M1384.9 1469.6h0M1385.9 1445.4h0M1387.1 1421.1h0M1387.2 1430h0M1389.1 1435.8h0M1390.8 1434.9h0M1390.8 1507.7h0M1391.4 1436h0M1392.6 1446.6h0M1392.6 1427.4h0M1392.9 1437.6h0M1396.9 1426.9h0M1399.2 1433.2h0M1400.8 1439.1h0M1401.2 1442.6h0M1401.4 1391.2h0M1401.9 1298.7h0M1403.1 1409.8h0M1403.3 1437.6h0M1403.6 1414h0M1404.1 1502.9h0M1404.4 1403.7h0M1404.8 1404.9h0M1406 1412.4h0M1406.5 1390.5h0M1406.5 1400.3h0M1406.7 1434.2h0M1406.8 1415.7h0M1406.9 1392.5h0M1406.9 1401.8h0M1407.2 1387.3h0M1407.4 1358.7h0M1407.4 1393h0M1407.6 1398h0M1407.6 1370.9h0M1407.6 1409.4h0M1407.8 1402.2h0M1408.1 1411.4h0M1408.3 1405.5h0M1408.4 1413.6h0M1409.3 1361.4h0M1409.5 1414.6h0M1409.6 1409.2h0M1409.8 1418.6h0M1411 1407.4h0M1411.1 1402.8h0M1411.4 1415h0M1411.6 1417.5h0M1411.9 1427.1h0M1411.9 1385.3h0M1412.1 1389h0M1412.3 1406.9h0M1412.4 1406.3h0M1412.5 1382.3h0M1413 1380.5h0M1413 1408.1h0M1413.5 1388.3h0M1413.6 1398.8h0M1413.8 1396.6h0M1413.8 1401.3h0M1414 1394.6h0M1414.3 1402.6h0M1414.5 1391.8h0M1414.7 1398.3h0M1414.8 1386.7h0M1415.1 1403.1h0M1415.3 1402.9h0M1415.4 1403h0M1415.5 1363.9h0M1415.5 1389.8h0M1415.8 1378h0M1415.9 1384.6h0M1416.1 1398.4h0M1416.4 1392.4h0M1417 1411.1h0M1417.6 1396.2h0M1417.8 1389.1h0M1417.8 1355.2h0M1418.2 1395.4h0M1418.3 1389.5h0M1419.7 1399.8h0M1419.9 1387.3h0M1420 1388.7h0M1420 1407.3h0M1420.5 1348.3h0M1420.8 1383.6h0M1421.2 1394.5h0M1421.6 1314.1h0M1421.8 1396.1h0M1421.9 1363.4h0M1421.9 1383.4h0M1422.2 1386h0M1422.4 1391.2h0M1423.1 1387.6h0M1423.6 1383.4h0M1423.6 1401.7h0M1423.9 1376.4h0M1423.9 1384.8h0M1425.4 1365.8h0M1425.6 1391.5h0M1426.3 1398h0M1426.3 1379.4h0M1426.7 1364h0M1426.8 1388.6h0M1428.1 1381.5h0M1429.1 1382.6h0M1429.2 1385.5h0M1430.3 1384.5h0M1430.5 1391.5h0M1430.8 1371.8h0M1431.4 1382.1h0M1431.5 1383.5h0M1431.6 1389.7h0M1431.7 1391.4h0M1432.1 1365.5h0M1432.2 1323.4h0M1432.2 1358.9h0M1432.8 1367.7h0M1433.9 1367.6h0M1433.9 1388.7h0M1434.1 1371.6h0M1435.7 1383.1h0M1436.6 1337.6h0M1436.8 1368.1h0M1437 1329.9h0M1437.3 1344.9h0M1437.4 1325.6h0M1437.5 1466.7h0M1437.5 1323.3h0M1438.7 1386.7h0M1439.2 1371.2h0M1439.4 1459.1h0M1440.3 1358.9h0M1440.4 1369.3h0M1441 1324.8h0M1441.4 1368.7h0M1441.5 1378.5h0M1441.6 1360.6h0M1441.7 1360.8h0M1441.7 1351.2h0M1441.7 1365h0M1441.8 1373.8h0M1442.3 1358.3h0M1442.5 1348.4h0M1442.9 1339h0M1442.9 1370.8h0M1443.3 1368h0M1444.9 1369.7h0M1444.9 1360h0M1445.2 1306.1h0M1445.9 1320.9h0M1446.3 1312.3h0M1446.7 1359.9h0M1447.4 1369.1h0M1447.5 1359.7h0M1447.8 1369.7h0M1448 1360.1h0M1448.3 1361.6h0M1448.7 1373.1h0M1449.4 1362.4h0M1449.4 1363.3h0M1449.5 1446h0M1449.9 1357.6h0M1450 1350.8h0M1450.3 1364.9h0M1450.8 1374h0M1451.1 1365h0M1451.5 1369.7h0M1451.7 1372h0M1451.8 1365.3h0M1451.9 1354.1h0M1452.9 1366h0M1453 1366.4h0M1454.4 1442.9h0M1456 1361.9h0M1457.3 1325.7h0M1457.8 1370.9h0M1458.1 1456.6h0M1459.2 1318.2h0M1459.4 1372h0M1459.8 1358.6h0M1460.2 1369h0M1460.6 1362h0M1460.7 1357.8h0M1460.9 1358.7h0M1461.1 1426.8h0M1461.6 1364.3h0M1461.8 1362.9h0M1461.9 1422.5h0M1462.3 1318.5h0M1463 1361h0M1463.2 1357.4h0M1463.5 1349.8h0M1463.5 1366.7h0M1463.6 1355.4h0M1463.6 1424.6h0M1463.8 1353.2h0M1464.5 1417.7h0M1465.1 1353h0M1465.2 1364.9h0M1465.5 1332h0M1465.6 1426.9h0M1465.8 1366.2h0M1466.2 1356.1h0M1466.4 1352.3h0M1466.8 1306.4h0M1466.8 1353h0M1467.4 1365.2h0M1467.4 1318.8h0M1467.6 1362.7h0M1467.6 1360.6h0M1467.7 1367.6h0M1467.9 1412.9h0M1468 1361.8h0M1468 1419.8h0M1468.1 1353.7h0M1468.1 1417h0M1468.7 1319.2h0M1468.7 1359h0M1469.2 1348.6h0M1469.3 1350.9h0M1469.4 1445h0M1469.4 1434.5h0M1469.7 1361.2h0M1470 1445.2h0M1470.5 1415.1h0M1470.5 1353.5h0M1470.6 1408.7h0M1471.4 1366h0M1471.6 1352.2h0M1471.9 1359.9h0M1472 1355h0M1472 1363.9h0M1472.1 1356.6h0M1472.1 1350.4h0M1472.2 1429h0M1472.4 1365.7h0M1472.6 1430.1h0M1472.8 1356.2h0M1473.4 1358.4h0M1473.6 1357h0M1474.8 1448.8h0M1474.9 1359.9h0M1475.1 1449.1h0M1475.3 1345.7h0M1475.3 1360.4h0M1476.6 1448.5h0M1476.7 1437.9h0M1476.8 1406.4h0M1477 1311.4h0M1477.1 1361.2h0M1477.4 1358.1h0M1477.5 1405.7h0M1477.5 1353.1h0M1477.9 1420.9h0M1478.7 1351.4h0M1479.3 1355.7h0M1479.9 1354.1h0M1480.9 1400.9h0M1481.2 1344.6h0M1481.2 1345h0M1481.2 1360.2h0M1481.4 1351.3h0M1481.9 1350.9h0M1482.9 1361.5h0M1483 1353.6h0M1483.1 1358.8h0M1483.4 1359.5h0M1483.5 1344.9h0M1484.1 1349.9h0M1484.9 1324.4h0M1485 1354.9h0M1485.5 1355.2h0M1485.5 1354.2h0M1485.6 1358.3h0M1485.6 1349.8h0M1485.7 1350.2h0M1486.5 1348.7h0M1486.9 1350.1h0M1487.1 1354.7h0M1487.3 1346.1h0M1488.2 1396h0M1488.3 1358h0M1489.9 1345.8h0M1490.2 1412.5h0M1490.6 1351.1h0M1491.4 1326.4h0M1492.4 1408.6h0M1492.7 1408h0M1493.8 1321.3h0M1494.1 1326.9h0M1494.4 1343.5h0M1494.6 1362.5h0M1495 1433.2h0M1495 1339.4h0M1495.2 1347h0M1496.1 1349.7h0M1496.1 1319.9h0M1496.7 1338h0M1498.1 1391.7h0M1498.2 1350.9h0M1499.1 1330.3h0M1499.1 1432.6h0M1499.6 1340.9h0M1500.2 1429.6h0M1500.3 1328.8h0M1500.5 1330.2h0M1501.1 1342.2h0M1501.4 1331.5h0M1501.6 1334.6h0M1501.8 1326.6h0M1502.1 1427h0M1502.4 1325.6h0M1503.1 1381.1h0M1503.1 1343h0M1504.4 1317.9h0M1504.6 1340.2h0M1505.6 1352.9h0M1505.7 1432.8h0M1506.7 1349.3h0M1508 1332h0M1508.3 1337.7h0M1508.8 1409.6h0M1509.8 1399.3h0M1510.2 1342.1h0M1510.6 1325.7h0M1510.8 1424.6h0M1511 1370.6h0M1511.1 1324.9h0M1511.2 1409.9h0M1512.1 1415.8h0M1512.2 1416.9h0M1512.2 1321.4h0M1512.7 1334.7h0M1513.4 1338.7h0M1513.5 1325.8h0M1513.6 1416.8h0M1513.8 1420.8h0M1514 1326.1h0M1514 1373.2h0M1514.4 1329.9h0M1514.5 1336.3h0M1515.4 1328.1h0M1516.4 1332.9h0M1517.8 1377h0M1517.9 1331.4h0M1518.1 1322h0M1518.4 1361.8h0M1518.6 1340.8h0M1519 1341h0M1519.3 1329.9h0M1520 1322.7h0M1521.3 1329.2h0M1521.7 1324.9h0M1522 1339.4h0M1523.5 1341.5h0M1523.8 1342.5h0M1524 1357h0M1524.1 1368.8h0M1525.1 1316.3h0M1525.3 1315h0M1526.6 1340.2h0M1527.4 1319.4h0M1527.6 1390.8h0M1527.6 1335.6h0M1527.6 1319.8h0M1529.2 1305h0M1529.6 1303.6h0M1529.6 1335.6h0M1530.1 1371.6h0M1530.8 1377.4h0M1534.9 1389.8h0M1535.8 1339.1h0M1536.4 1392.5h0M1536.8 1372.5h0M1536.9 1346.1h0M1537.9 1340.1h0M1539.8 1368.5h0M1540.7 1341.4h0M1540.9 1344.8h0M1541.2 1406h0M1542.7 1405.6h0M1543 1345.9h0M1543.8 1323.7h0M1544.4 1364.8h0M1545.1 1365.1h0M1546.4 1305.5h0M1547.6 1301.7h0M1548.2 1356.6h0M1551.8 1324.8h0M1552.6 1325.3h0M1552.9 1387.1h0M1553.9 1371.2h0M1554.2 1374.7h0M1555.4 1370.2h0M1555.9 1323.5h0M1556.1 1377h0M1557.8 1372.3h0M1557.8 1386.2h0M1559.8 1304.1h0M1560.6 1371h0M1561.8 1279.8h0M1568.4 1276.6h0M1572.5 1363.8h0M1577.6 1390h0M1581.3 1379.7h0M1594.4 1361.3h0M1601.2 1395.3h0M1625 1334.7h0M1629.7 1337.1h0M1629.7 1352.1h0M1638.1 1359.1h0M1642.8 1360.6h0M1643.6 1346h0M1669 1374h0M1755.2 1387.5h0"/>
<text class="lab" x="1221.5" y="1128.7">I</text>
<text class="ttl" x="1358.7" y="1123.4">Omega aragonite</text>
<text class="ttl" x="1316.5" y="1171.6">y=1.879x<tspan stroke="#000" stroke-width="1.3">-</tspan>0.941</text>
<text class="ttl" x="1317.5" y="1222.9">R^2=0.786</text>
<text class="tk" text-anchor="middle" transform="translate(1294.3 1613.9) scale(.89 1)">0</text>
<text class="tk" text-anchor="middle" transform="translate(1405.3 1613.9) scale(.89 1)">1</text>
<text class="tk" text-anchor="middle" transform="translate(1516.3 1613.9) scale(.89 1)">2</text>
<text class="tk" text-anchor="middle" transform="translate(1627.3 1613.9) scale(.89 1)">3</text>
<text class="tk" text-anchor="middle" transform="translate(1738.3 1613.9) scale(.89 1)">4</text>
<text class="tk" text-anchor="middle" transform="translate(1263.8 1567.6) rotate(-90) scale(.93 1)">-1</text>
<text class="tk" text-anchor="middle" transform="translate(1263.8 1461.2) rotate(-90) scale(.93 1)">1</text>
<text class="tk" text-anchor="middle" transform="translate(1263.8 1354.8) rotate(-90) scale(.93 1)">3</text>
<text class="tk" text-anchor="middle" transform="translate(1263.8 1248.4) rotate(-90) scale(.93 1)">5</text>
<text class="tk" text-anchor="middle" transform="translate(1263.8 1142) rotate(-90) scale(.93 1)">7</text></g>
<g><g stroke="#808080" stroke-width="3.6" fill="none">
<path d="M86.3 1675.5V2110.7M77.1 2101.5H589.1M169.8 2101.5v6.8M253.4 2101.5v9.2M336.9 2101.5v6.8M420.5 2101.5v9.2M504.1 2101.5v6.8M587.6 2101.5v9.2M86.3 2043.5h-6.8M86.3 1985.5h-9.2M86.3 1927.5h-6.8M86.3 1869.5h-9.2M86.3 1811.5h-6.8M86.3 1753.5h-9.2M86.3 1695.5h-6.8"/></g>
<path d="M88 2079.7L564.7 1690.5" stroke="#e31a1c" stroke-width="5.2" stroke-linecap="round" fill="none"/>
<polygon fill="#404040" points="86.6,2059.7 87.5,2065.3 102.5,2066.3 117.5,2065.3 136.3,2062.5 155,2058.8 170,2053.1 185,2043.8 196.3,2032.5 207.5,2019.4 215,2006.3 222.5,1995 230,1987.5 235.6,1978.1 230,1972.5 222.5,1972.5 215,1976.3 209.4,1968.8 203.8,1961.3 200,1953.8 201.9,1944.4 200,1935 200,1923.8 196.3,1916.3 188.8,1916.3 185,1923.8 185,1935 186.9,1946.3 185,1957.5 181.3,1968.8 177.5,1980 170,1987.5 162.5,1991.3 158.8,1998.8 155,2006.3 147.5,2010 143.8,2019.4 136.3,2028.8 126.9,2036.3 117.5,2043.8 108.1,2051.3 98.8,2056.9"/>
<path class="d" d="M99.2 2043.3h0M101.3 2025.4h0M101.9 2043.1h0M102.1 2059.8h0M103.7 2004.3h0M105.4 2034.7h0M110.7 2062h0M110.7 2032.5h0M113.6 2013.1h0M114.8 2048.2h0M117 2043h0M117.5 2062.6h0M118 2016.6h0M119.9 2044.3h0M122.6 2064.2h0M125.1 2008.2h0M126.2 2006h0M127.8 2035.1h0M131.1 2061.5h0M132.8 1991.7h0M133.1 1988.7h0M133.1 2030.1h0M133.1 2010h0M134.9 1993.5h0M135.2 1984.8h0M135.6 1992.8h0M136.5 1980.4h0M142.5 1972.9h0M145.2 2007.8h0M145.6 1982.8h0M145.8 2000.9h0M146.3 1953.8h0M146.3 2004.1h0M146.7 1966.4h0M147.1 1972.3h0M147.9 1992.5h0M148.2 1997.7h0M150.2 2011.2h0M151.3 2012.2h0M151.7 2003.6h0M152.2 1926.6h0M152.3 1941.5h0M152.5 1935h0M153.4 2059.3h0M153.5 1994.9h0M154.5 1974.7h0M155.1 1996.4h0M156.5 1961.5h0M156.6 1938h0M157.1 1998.6h0M159.6 2056.1h0M160.7 1944.3h0M160.9 1997.1h0M163 1992.7h0M163.1 2001.8h0M164 1967h0M164.2 2051.4h0M164.3 1947.9h0M164.5 1991.5h0M165.3 1945.9h0M165.3 1942.5h0M165.5 1994.7h0M166.3 1888.1h0M167.1 1950.4h0M167.4 1959.6h0M168.6 1954.4h0M169.7 1959.7h0M171.4 2051.9h0M172.6 1772.2h0M172.9 1938.9h0M173.2 1956.9h0M173.9 1951.3h0M174.3 1945.1h0M175.1 1984.2h0M176 1968.4h0M176.1 1946.6h0M177.8 1964.4h0M178.3 1981.5h0M178.5 1946.1h0M179.1 1955h0M179.3 2042.5h0M179.8 1914.2h0M180 1955.8h0M180.3 1924.1h0M182.2 1969.6h0M183.7 1944.8h0M184.1 1952.1h0M184.4 2041.2h0M185.1 1900.5h0M185.3 1944.8h0M185.8 1964.4h0M185.8 1958.5h0M186.2 1913.9h0M186.5 1940.4h0M186.6 1951h0M186.9 1931.7h0M188.6 1950.9h0M188.6 1959.9h0M188.8 1931.4h0M188.8 1939.1h0M189.1 1929.1h0M189.5 1914.1h0M190.3 1915.8h0M192.5 1923.7h0M193 1927.2h0M193.6 1904.6h0M194.1 1932.1h0M194.5 1903h0M194.5 1904.3h0M194.6 1917.2h0M194.9 1904.3h0M195.2 1909.5h0M195.8 1928.5h0M196 1926.7h0M196.1 2027.9h0M196.3 1923.8h0M196.3 1887.1h0M196.6 1925.7h0M196.9 1931.2h0M196.9 1956.2h0M197.3 1889.1h0M197.3 1915.5h0M197.3 1949.2h0M197.6 1934.8h0M197.8 1907.7h0M197.9 1907.6h0M197.9 1918h0M198.7 1926.4h0M199 1940.7h0M199 1906.9h0M199.1 2034.9h0M199.5 1924.7h0M199.6 1916h0M199.9 1939h0M200.3 1915.3h0M200.6 2027.8h0M200.8 1931.4h0M201 1960.2h0M201.3 1945.9h0M201.3 1925.6h0M201.8 1918.8h0M201.9 1916.1h0M201.9 1879.1h0M202.2 1909.6h0M202.5 1914.5h0M204.4 1919.4h0M204.7 1951.1h0M205.2 1936.6h0M205.2 1908.1h0M205.9 1946.2h0M206.2 1902.5h0M206.2 1917.2h0M206.3 1945.2h0M206.4 2016.6h0M206.8 1928.2h0M207 1945.9h0M207.3 1916.8h0M207.8 1925.9h0M208.5 1907.6h0M208.9 1900.9h0M209.1 1931.2h0M209.5 1907.4h0M209.6 1902.6h0M209.7 1926.6h0M210.3 1946.9h0M210.5 1910.7h0M210.9 1927.4h0M211.1 1945h0M211.4 1907.8h0M211.8 1902.9h0M212.1 1907.2h0M212.2 1917.4h0M212.3 1949.8h0M212.3 1910.8h0M212.4 2011.7h0M212.7 1923.3h0M212.9 1960.1h0M213.3 1924h0M213.5 1931.2h0M214.2 1918.3h0M214.2 1957.6h0M214.3 1923h0M214.5 1952.6h0M215 1927.9h0M215.1 1916.5h0M215.3 1946.1h0M215.7 1917.4h0M215.9 1915.9h0M216 1934.2h0M216 1942.6h0M216.6 1920.1h0M216.6 2004.1h0M216.8 1931.9h0M216.8 1919.9h0M217 1920h0M218.8 1846.9h0M219.8 1936.5h0M219.9 1928.7h0M220.3 1960h0M220.5 1940.7h0M221.3 1888.2h0M221.5 1993.9h0M221.5 1931.8h0M221.6 1926h0M221.6 1937.8h0M221.7 1957.4h0M222.1 1875.4h0M222.2 1900.8h0M222.6 1898.3h0M222.8 1936.9h0M223.3 1932h0M223.5 1963.7h0M224.1 1934.8h0M224.2 1916.8h0M224.4 1923.5h0M224.6 1884.7h0M224.6 1886.4h0M225 1943.3h0M225.1 1921.2h0M225.1 1855.4h0M225.1 1932.1h0M225.5 1938.1h0M225.9 1946h0M226 1941.3h0M226.1 1943.3h0M226.5 1957.2h0M226.9 1880.9h0M227 1895.7h0M227.5 1939.8h0M227.5 1939.8h0M228 1937.6h0M228.3 1892.8h0M228.5 1888.1h0M228.7 1886.6h0M228.7 1947.3h0M228.8 1857.6h0M229.1 1926.5h0M229.4 1894.5h0M229.9 1976h0M230.1 1888.4h0M230.5 1974.4h0M230.6 1911.3h0M230.9 1957.7h0M231.2 1967.3h0M231.3 1909.9h0M231.9 1918.7h0M232.1 1931.9h0M232.2 1872.3h0M232.4 1970.3h0M232.5 1945.8h0M232.7 1910.2h0M232.7 1961.8h0M232.7 1917.5h0M232.8 1935.5h0M232.8 1933.8h0M232.9 1886.2h0M233.8 1915.9h0M233.8 1969.7h0M234 1887.5h0M234 1912.6h0M234.1 1965h0M234.8 1928.9h0M234.8 1907.8h0M234.9 1971.9h0M235.4 1883.6h0M235.6 1955.9h0M235.6 2012.8h0M235.7 1920h0M235.7 1935.5h0M235.8 1935.4h0M235.8 1948.3h0M235.9 1876h0M236.2 1924.8h0M236.2 1886.3h0M236.3 1897.6h0M236.4 1867.5h0M236.9 1918.1h0M237.1 1919.1h0M237.1 1925.8h0M237.2 1930.7h0M237.2 1943.6h0M237.6 1865.7h0M237.6 1947.2h0M237.6 1973.8h0M238.3 1946.5h0M238.4 1898h0M238.7 1899.9h0M238.9 1867.7h0M239 1950.4h0M239.6 1873.7h0M239.8 1940.8h0M239.9 1912.4h0M240.1 1965.1h0M240.1 1912h0M240.5 1867h0M240.8 1868.4h0M240.9 1919.9h0M241.1 1869.6h0M241.6 1907.8h0M241.6 1902.4h0M242.8 1859.2h0M243.1 1947.5h0M243.4 1932.1h0M243.5 1960.8h0M243.5 1878.3h0M243.6 1940.8h0M243.7 1955.4h0M244.2 1963.7h0M244.4 1955.1h0M245 1960.6h0M245.4 1921.9h0M245.5 1877.7h0M245.7 1946.7h0M245.7 1879.6h0M245.9 2002.6h0M246.5 1904.3h0M246.8 1896.4h0M247.4 1918.9h0M247.6 1876.3h0M247.6 1932.8h0M247.7 1943.4h0M247.7 1957.8h0M247.8 1936.5h0M247.8 1915.4h0M247.9 1923.2h0M248 1881.4h0M248 1907.8h0M248 1920.4h0M248.1 1871.8h0M248.4 1902.4h0M248.5 1935h0M248.6 1948.2h0M248.7 1904.1h0M248.9 1911.9h0M249 1907h0M249.1 1888.1h0M249.2 1953.1h0M249.7 1927.3h0M249.7 1938.2h0M249.8 1882.2h0M249.9 1949.9h0M250 1891.4h0M250.2 1944.1h0M250.3 1939h0M250.3 1906h0M250.9 1872.4h0M250.9 1963.4h0M251 1871.6h0M251 1906.9h0M251.2 1839.4h0M251.2 1974.6h0M252.1 1892.5h0M252.6 1910.6h0M252.8 1879.8h0M253.1 1897.8h0M253.2 1883.1h0M253.3 1885.9h0M253.6 1871.1h0M253.7 1961.9h0M253.7 1926.8h0M253.9 1877.3h0M254.3 1949.2h0M254.6 1916.8h0M255.4 1899.8h0M255.4 1919.2h0M255.8 1894.5h0M255.9 1879.9h0M256 1868.4h0M256.3 1932h0M256.4 1840.1h0M256.6 1952.3h0M257.2 1840.3h0M257.2 1959.7h0M257.5 1946.4h0M257.6 1956h0M257.8 1950h0M258.1 1900.1h0M258.4 1948h0M258.7 1958.3h0M258.8 1916.6h0M259 1875.7h0M259.3 1918.6h0M259.3 1877.7h0M259.4 1909h0M259.7 1920.2h0M259.7 1920.3h0M259.8 1869.8h0M259.8 1851.8h0M260.8 1936h0M261.2 1938.2h0M261.5 1875.6h0M261.5 1949.7h0M262.1 1868.9h0M262.5 1873h0M262.6 1931h0M262.6 1845.9h0M262.8 1961.8h0M262.9 1931.4h0M262.9 1890.3h0M263 1871.5h0M263 1869.3h0M263 1919h0M263 1962.3h0M263.2 1894.3h0M263.2 1869.2h0M263.7 1938.9h0M263.9 1997.8h0M264 1902h0M264.3 1882.5h0M264.3 1906.6h0M264.6 1894h0M264.6 1871.8h0M264.7 1931.1h0M265 1920.7h0M265.1 1943.7h0M265.2 1928.8h0M265.5 1924.6h0M265.8 1914.9h0M265.9 1910.9h0M266 2044.7h0M266.1 1920.4h0M266.4 1932.1h0M266.7 1931.5h0M266.8 1932h0M267.1 1912.9h0M267.2 1898.6h0M267.3 1880.9h0M267.6 1941h0M267.9 1937.2h0M268 1878.7h0M268.1 1916.1h0M268.1 1983.2h0M268.3 1925.8h0M268.3 1915.3h0M268.6 1904.2h0M268.6 1877.5h0M268.6 1926.2h0M268.8 1927.4h0M268.8 1871.9h0M268.8 1916.1h0M268.8 1924.7h0M269.2 1873.2h0M269.6 1989.8h0M270.1 1900.4h0M270.2 1903.8h0M270.3 1935.9h0M270.4 1927.1h0M270.8 1894.7h0M271.3 1996.9h0M271.3 1933.7h0M271.7 1885.3h0M272 1901.3h0M272 1877.2h0M272.3 1933.3h0M272.5 1877.9h0M272.8 1875h0M272.8 1832.4h0M272.8 1869.9h0M272.9 1994.5h0M273 1886.7h0M273 1818.5h0M273.1 1907.3h0M273.5 1906.6h0M273.6 1906.2h0M273.7 1901.7h0M273.8 1890.8h0M273.9 1970.6h0M273.9 1853.5h0M274.1 1897.7h0M274.4 1872.5h0M274.7 1919.3h0M274.9 1869.5h0M275.2 1886.5h0M275.2 1904.4h0M275.7 1871.7h0M276.1 1925.8h0M276.1 1825.5h0M276.3 1823.6h0M276.6 1885.4h0M276.8 1925.4h0M277 1938.8h0M277.8 1941h0M277.9 1871.2h0M278.2 1886.7h0M279 1972.6h0M279.5 1929.4h0M279.8 1926.1h0M279.9 1834.7h0M280 1886.4h0M280 1888.4h0M280.1 1819.4h0M280.4 1967.5h0M280.5 1930.5h0M281.5 1975.3h0M281.9 1922.1h0M282.2 1918.4h0M282.4 1936.3h0M282.5 1887.7h0M283 1956h0M283.1 1918.4h0M284 1932.9h0M284.2 1975.6h0M284.2 1890.5h0M284.3 1922.9h0M284.5 1888.6h0M285.2 1959.2h0M285.6 1886.9h0M285.7 1871.3h0M286.1 1869.3h0M286.1 1877.4h0M286.3 1894h0M287.6 1949.5h0M287.9 1920.9h0M288.2 1819.3h0M288.6 1930.6h0M289 1872.3h0M290.2 1822.8h0M291 1871.7h0M291.4 1891.3h0M291.8 1896.5h0M292 1864.9h0M292.3 1864.5h0M294.2 1891.1h0M294.4 1860.7h0M294.6 1868.9h0M295.9 1902.7h0M295.9 1912.8h0M296.2 1879.9h0M296.3 1883.3h0M296.5 1864.8h0M296.6 1866.1h0M297.2 1884.1h0M297.4 1857.4h0M297.5 1911.7h0M298 1898.7h0M298.2 1886h0M298.3 1894.6h0M298.6 1877.1h0M298.8 1872.9h0M299 1858.1h0M299 1906.2h0M299.2 1865.3h0M299.3 1861.5h0M299.4 1884h0M299.9 1868.5h0M300.1 1869.2h0M300.3 1855.9h0M300.3 1971.2h0M300.6 1857.4h0M300.7 1902.3h0M300.8 1869.2h0M300.8 1957.1h0M301 1854.9h0M301.1 1850h0M301.4 1907.3h0M301.5 1956.9h0M301.5 1916.5h0M301.8 1918.9h0M301.9 1923.1h0M302 1905.3h0M302.3 1931.6h0M302.3 1902.4h0M302.4 1912h0M302.5 1853.9h0M302.9 1897.6h0M303.1 1951.5h0M303.7 1950.4h0M304.1 1899h0M304.2 1882.6h0M304.3 1865.4h0M304.5 1885.2h0M304.6 1846.4h0M305 1883.5h0M305.5 1855h0M305.5 1893.1h0M305.5 1856.4h0M306.1 1857.4h0M306.1 1901.6h0M306.2 1882.7h0M306.2 1949.8h0M306.4 1868.6h0M306.5 1866h0M307.1 1957.2h0M307.2 1889.2h0M307.5 1892.8h0M307.8 1849.9h0M307.8 1851.4h0M308 1855.3h0M308.4 1905.5h0M308.5 1850.5h0M308.5 1857.9h0M308.6 1895.9h0M308.7 1848h0M308.8 1954.4h0M308.9 1853.9h0M309.3 1849.4h0M309.3 1854.4h0M310.1 1883.8h0M310.1 1872.5h0M310.3 1837.5h0M311.2 1849.9h0M311.3 1873.3h0M311.5 1952.5h0M312.2 1857.4h0M312.7 1899h0M313.4 1863h0M313.6 1892.2h0M313.8 1841.6h0M313.9 1911.3h0M314 1949.9h0M314.4 1882.5h0M315.3 1846.4h0M316.3 1897.9h0M316.5 1890.9h0M316.9 1878.6h0M316.9 1868.1h0M317 1883.5h0M317.2 1888.6h0M317.3 1943.8h0M317.6 1886.5h0M317.7 1943.5h0M317.8 1870.2h0M317.9 1892.5h0M318.2 1910.7h0M318.5 1905.6h0M318.9 1865.5h0M319.1 1941.4h0M319.9 1888.5h0M320 1881.3h0M320.1 1870.5h0M320.3 1894.3h0M320.4 1897h0M320.9 1901.9h0M321 1875h0M321.3 1869.8h0M321.4 1876.2h0M321.6 1882.6h0M321.7 1877.2h0M322.3 1875.3h0M322.7 1900.1h0M323.6 1884.7h0M324.5 1913.7h0M326.5 1930.6h0M327.9 1897.8h0M328.2 1909h0M328.6 1894.5h0M328.7 1853.1h0M329 1881.3h0M331.2 1936.6h0M331.3 1936.9h0M331.7 1852.7h0M332.1 1901.7h0M332.3 1934.7h0M332.6 1881.7h0M333.3 1885.8h0M334 1888.2h0M334.4 1907.9h0M334.5 1895.7h0M334.7 1889.3h0M335.5 1895.3h0M335.7 1892.8h0M335.8 1886.9h0M336 1855h0M336.9 1922.8h0M337.1 1896h0M337.5 1950.3h0M338.4 1827.8h0M338.5 1868.4h0M339.9 1880h0M340.4 1896.5h0M341.1 1902h0M342.6 1884.6h0M342.6 1940.9h0M342.6 1951.7h0M342.8 1871.8h0M343.1 1882.9h0M343.3 1953.3h0M344 1876.9h0M345.9 1856.3h0M347.1 1887.3h0M348.9 1839.5h0M349.9 1907.7h0M350 1887.5h0M350.7 1940.3h0M350.8 1904.9h0M351 1895.2h0M351.6 1895.5h0M353.8 1923.8h0M354 1951.4h0M356.2 1937.8h0M357 1923.5h0M366.9 1800.9h0M368.2 1833.8h0M386.6 1886.3h0M396.9 1894.1h0M404.4 1924.7h0M406.3 1886.3h0M406.3 1907.8h0M413.1 1890.6h0M424.8 1867.1h0M429.4 1866.5h0M434 1883.1h0M440 1850.4h0M475.6 1908.1h0M478.1 1905.6h0M478.4 1897.9h0M516.6 1857.2h0"/>
<path class="d" d="M94.9 2063.3h0M97.6 2064.3h0M97.7 2032.5h0M101.6 2048.1h0M104.6 2035.3h0M106.9 2052.7h0M107.5 2046.1h0M110.4 1973.1h0M111.5 2053.5h0M112.4 2004.2h0M114.5 2011.3h0M114.8 2013.6h0M117.3 2041.5h0M118.3 2045.5h0M118.4 1987.5h0M119.6 2022.9h0M126 2028.5h0M129.7 1970.5h0M131.5 2024.2h0M131.6 1993.4h0M132.9 1969.2h0M133 1977h0M133 1988.1h0M133.8 1976.2h0M134.7 1961.4h0M135.6 1987.8h0M135.6 1973.5h0M135.7 2026h0M136.1 2029.4h0M136.7 1993.3h0M138.6 2012h0M139.1 1997.6h0M139.7 1963h0M139.8 2058.6h0M139.8 1992.4h0M140.5 1977.6h0M141.6 2028.5h0M143.3 1962.3h0M143.5 2060.1h0M144.5 2000.4h0M146 1986h0M148.1 2013.4h0M148.3 1986h0M149.2 1994.2h0M152.3 2002.7h0M154.1 2053.5h0M155.3 1990.2h0M156 1985.6h0M156.6 1986.8h0M158.3 1942h0M158.7 2004h0M158.7 1953.6h0M159.4 1945.1h0M161.2 2001.9h0M161.7 1942.2h0M162.5 1937.6h0M163.5 1996.6h0M164.4 1980.8h0M165.3 1990.3h0M165.7 2051.2h0M165.9 1948.3h0M166.4 1950h0M166.6 1994h0M169.4 1953.9h0M170.7 1963.5h0M172.1 1961.1h0M173.9 1955.8h0M174.1 2048.1h0M175.3 1967.7h0M176.6 1938.1h0M177.8 1937.9h0M177.9 2048h0M179.1 1926.5h0M179.4 1911.5h0M180.5 1947h0M181.4 1776.1h0M182.6 2041.1h0M183.4 1909.9h0M183.7 1818.4h0M184 1934.7h0M184.6 1947.9h0M184.7 1955.1h0M186.2 1931.7h0M186.4 1934.1h0M186.5 1915.3h0M186.6 2037.3h0M186.9 1947.5h0M187 1914.9h0M187.4 1928.8h0M187.8 1929.1h0M188.3 1936.3h0M188.3 1923.4h0M188.3 1916.9h0M188.4 1936.6h0M188.5 1925.3h0M188.8 1926.1h0M189.3 1951.4h0M189.4 1952.1h0M190 1946.6h0M190.1 1945.3h0M190.3 1956.4h0M190.7 1911h0M191.1 1913.4h0M191.6 1915.7h0M192 1949.4h0M192 1925.1h0M192.2 1905.1h0M192.5 1907.3h0M193.2 1902.8h0M193.2 1885.6h0M193.4 1907.7h0M193.6 1906h0M193.6 1908.7h0M194.1 1908.8h0M194.3 1906.3h0M194.4 1921.2h0M194.6 1950.7h0M194.8 1922.6h0M194.9 1914.6h0M195.5 1934.7h0M195.5 1912h0M195.9 1924.4h0M196 1887.6h0M196.2 1918.2h0M196.4 1948h0M197.7 1932.3h0M198.8 1919.6h0M199.4 1909.4h0M199.8 1910.5h0M200.1 1956.9h0M201.3 1934.6h0M201.5 1912.2h0M201.7 1937.7h0M201.8 1918.8h0M202.1 1917.4h0M202.3 1912.3h0M202.4 1953h0M202.9 1949.6h0M203.1 2023.7h0M203.1 1933.7h0M203.2 1926.9h0M203.8 1907.1h0M204.1 1940.7h0M204.8 1937.6h0M205 1915.9h0M205.5 1969.5h0M205.8 1965.2h0M205.9 1932.6h0M206 2049.4h0M206 1939.2h0M206 1939.2h0M206.1 1938.1h0M206.1 1929.2h0M206.3 2020.4h0M206.6 1857.2h0M206.7 1921h0M206.7 1906.1h0M206.9 1922.9h0M206.9 1918.9h0M207.3 1935.9h0M207.4 2012.3h0M207.5 1922.9h0M207.6 1935.8h0M207.8 1930.3h0M208.4 1941.5h0M208.6 1915.2h0M208.7 1941.9h0M208.8 1924.1h0M209 1901.8h0M209.3 1914.1h0M209.6 1880.3h0M209.7 1971.5h0M209.9 1907.1h0M209.9 1932.1h0M209.9 1918.8h0M210.9 1971.4h0M211 1958.9h0M211.2 1904.8h0M211.2 1934.8h0M211.7 1942.8h0M211.8 1944.7h0M211.9 1949.5h0M211.9 1933h0M212 1915.1h0M212.8 1951.7h0M212.8 1917.1h0M213 1901.6h0M213 1947h0M213.1 1906.7h0M213.4 1916.1h0M213.7 1960h0M213.9 1917.5h0M214.3 1912h0M214.4 1913h0M215.1 1901.3h0M215.5 1911.3h0M215.8 1929.7h0M216.1 1900.8h0M216.1 1873.4h0M216.4 1896.9h0M216.5 1907.5h0M216.5 1907.9h0M216.7 1907.1h0M217 1936.3h0M217.8 1904.6h0M217.8 1966.2h0M217.9 1938.6h0M218 1979h0M218 1936.8h0M218.2 1906.3h0M219.7 1891.2h0M220 1999.8h0M220 1909.2h0M220 1902.1h0M221.1 1926.1h0M221.6 1890.4h0M221.6 1953.8h0M221.6 1940.3h0M221.6 1888.1h0M221.8 1939.8h0M222.4 1931.3h0M223 1945.5h0M223.1 1961.5h0M224.2 1892.4h0M224.5 1927.9h0M224.6 1923.9h0M224.9 1945.4h0M224.9 1890h0M224.9 1960.7h0M225 1927.6h0M225 1969.4h0M225.1 1985.6h0M225.5 1895.8h0M226.4 1963.6h0M226.6 1870.7h0M227 1915h0M227 1943.8h0M227.2 1968.4h0M227.4 1896.9h0M227.5 1946.8h0M227.7 1928.7h0M228 1939h0M228.2 1938.9h0M228.2 1937.2h0M228.3 1923.2h0M228.5 1984.8h0M228.5 1915.9h0M228.5 1921.2h0M228.6 1902h0M228.7 1950.9h0M228.8 1883.1h0M228.8 1896.7h0M228.9 1931.6h0M229.2 1925.4h0M230.2 1911.7h0M230.5 1945.3h0M230.8 1885.5h0M230.8 1861h0M230.8 1885h0M230.9 1927.2h0M231.2 1961.6h0M231.3 1885.2h0M232.8 1934.3h0M232.9 1970.7h0M232.9 1968.6h0M232.9 1908h0M233 1937.4h0M233.2 2024.1h0M233.4 1879.9h0M233.4 1915.5h0M233.7 1964.7h0M233.8 1830.6h0M233.8 1969.3h0M233.8 1916.3h0M234 1955.2h0M234 1975h0M234 1912.7h0M234 1902.4h0M234.1 1878.4h0M234.2 1969.8h0M234.4 1979.7h0M234.5 1872.8h0M234.6 1891.2h0M234.7 1957.9h0M234.9 1964.3h0M235.6 1949.3h0M235.8 1892.5h0M236 1870.4h0M236.1 1891.4h0M236.3 1867.1h0M236.7 1865.6h0M236.7 1935.4h0M236.8 1892.6h0M236.8 1959h0M236.9 1886.7h0M237.3 1955.7h0M237.6 1891.5h0M237.8 1890.5h0M238.2 1925.2h0M238.6 1898.4h0M238.8 1864h0M239 1951.8h0M239 1924.1h0M239 1866.7h0M239.2 1865.1h0M239.5 1872.5h0M239.7 1942.4h0M239.9 1936.7h0M240 1900h0M240.5 1963.1h0M240.7 1917.8h0M240.7 1869.4h0M241.1 1947.6h0M241.2 1867.4h0M241.7 1925.8h0M241.8 1914.2h0M242.6 1883.3h0M242.9 1870.4h0M243.2 1940.9h0M243.3 1997.5h0M243.6 1876.5h0M243.6 1931.3h0M243.6 1893.3h0M243.8 1979.4h0M243.8 1924.2h0M244.1 1968.3h0M244.5 1863.1h0M244.7 1924.2h0M244.8 1998.9h0M244.9 1964.3h0M245.2 1977.6h0M245.2 1921.8h0M245.6 1948.8h0M245.6 1907.1h0M245.7 1986.2h0M245.9 1872.5h0M246.3 1939.7h0M246.4 1974.4h0M246.6 1861.2h0M246.9 1962h0M247 1888.5h0M247.2 1875.7h0M247.3 1939.6h0M247.3 1921.7h0M247.6 1991.8h0M247.8 1896.2h0M248 1988.4h0M248.1 1912.9h0M248.2 1900.5h0M248.3 1899.5h0M248.4 1937.4h0M248.4 1947.3h0M248.6 1968.8h0M248.9 1901.8h0M249.1 1871.2h0M249.1 1950h0M249.1 1905.3h0M249.2 1901.2h0M249.4 1906.8h0M249.5 1902.4h0M249.7 1903.8h0M249.9 1924.3h0M249.9 1900.3h0M250 1908.5h0M250.2 1951.1h0M250.3 1885.1h0M250.6 1898.3h0M250.6 1878.3h0M250.7 1941.5h0M250.8 1942.1h0M250.9 1950.3h0M251.1 1870.7h0M251.6 1907.2h0M251.6 1902.1h0M251.7 1924.7h0M251.8 1914.8h0M252 1868.3h0M252.1 1893.6h0M252.1 1927.6h0M252.9 1878h0M253.1 1963.4h0M253.3 1866.3h0M253.4 1891.6h0M253.6 1868.2h0M253.9 1948.3h0M254 1912.1h0M254 1868.5h0M254.2 1947.9h0M254.6 1863.1h0M255.1 1967.3h0M255.3 1951.7h0M255.5 1915.7h0M255.8 1939.7h0M255.8 1868.5h0M257.3 1956.7h0M257.8 1974.1h0M257.9 1952.6h0M258 1960.4h0M258.5 1984.4h0M259.1 1972.5h0M259.4 1952.3h0M260 1931.1h0M260.4 1921.9h0M260.7 1851.7h0M260.9 1916.6h0M260.9 1867.2h0M260.9 1916.6h0M261.2 1892.8h0M261.2 1898.7h0M261.2 1945.7h0M261.4 1930.5h0M261.4 1872h0M262 1924.2h0M262.3 1860.6h0M262.5 1901.6h0M263.1 1864.5h0M263.2 1870h0M263.4 1865h0M263.7 1873.9h0M263.7 1908.2h0M263.8 1917.3h0M264.2 1868h0M264.3 1946.6h0M264.7 1893.4h0M264.8 1888.5h0M264.8 1908.9h0M264.8 1859.6h0M264.9 1922.6h0M264.9 1871.9h0M265.1 2055h0M265.3 1926.6h0M265.8 1869.6h0M265.8 1934.7h0M266 1928.9h0M266.1 1912.7h0M266.7 1904.4h0M266.9 1861.6h0M267.2 1938.2h0M267.6 1925.3h0M267.9 1906.5h0M268 1896h0M268 1922.2h0M268.8 1927.9h0M269 1914.1h0M269.3 1904.7h0M270 1930.2h0M270.1 1933.4h0M270.4 1903.6h0M270.5 1903.7h0M270.7 1901.3h0M271.6 1932.8h0M271.9 1888.7h0M272.1 1834.1h0M272.4 1906.8h0M272.4 1986.6h0M272.4 1901.3h0M272.6 1920.1h0M272.7 1946.9h0M272.8 1901.4h0M273 1867.5h0M273.4 1932.9h0M273.5 1914h0M273.9 1899.5h0M274.3 1936.3h0M274.3 1905.4h0M274.8 1929.8h0M276.4 1924.6h0M276.5 1946.9h0M276.9 1952.1h0M277 1905.2h0M277.5 1824.3h0M277.8 2053.5h0M278.5 1912.5h0M278.6 1900.3h0M278.7 1878.8h0M278.8 1967.9h0M279 1949.3h0M279.2 1914.3h0M279.6 1918.3h0M280.5 1864.6h0M281.7 1849.2h0M281.9 2021.3h0M282.7 1867.4h0M283.1 1980h0M283.5 1925.1h0M284.1 1872.8h0M284.1 1919.1h0M284.4 1887.5h0M284.5 1919h0M285.1 1893.8h0M285.3 1919.9h0M285.5 1895.6h0M285.8 1884.7h0M286 1871.7h0M286 1881.6h0M286 1888.2h0M286.3 1921.4h0M286.9 1874.3h0M287.3 1873.4h0M287.7 1877.7h0M287.7 1858.4h0M288.1 2050.9h0M288.6 1919.6h0M290.2 1877.8h0M290.4 1909.2h0M290.5 1920.5h0M290.9 1921.5h0M291 1818.1h0M291.1 1944.3h0M291.4 1890.2h0M291.7 1817.5h0M292.4 1943.9h0M292.4 1874.7h0M292.6 1915.8h0M292.9 1947.6h0M293 1893.5h0M293.2 1946.7h0M293.2 1890.8h0M293.6 1870.8h0M293.9 1890.5h0M294 1916.8h0M294.2 1820.9h0M294.2 1867.6h0M294.4 1904.6h0M295.4 1877.7h0M295.9 1893.8h0M296.3 1910.9h0M296.4 1947.9h0M296.6 1929h0M296.9 1911.3h0M297.3 1916.7h0M297.4 1900.1h0M297.5 2046.2h0M298.2 1881.4h0M298.2 1939.5h0M299.1 1889.9h0M299.3 1850.8h0M299.6 1953.4h0M299.6 1898.6h0M299.7 1899.2h0M299.9 1896h0M300.4 1895.2h0M300.8 1864.6h0M300.8 1847.7h0M301.3 1862.1h0M302 1873.4h0M302.2 1951.3h0M302.9 1895.8h0M303 1851.6h0M303.1 2044.3h0M303.3 1909.3h0M303.8 1849.1h0M303.8 1895.9h0M304.2 1887.9h0M305.1 1893.9h0M305.1 1847.4h0M305.2 1849.8h0M305.5 1860h0M305.6 1856.6h0M305.7 1898.7h0M305.9 1888.9h0M306.1 1873.9h0M306.3 1856.1h0M306.3 1909.6h0M306.6 1899.6h0M306.8 1878.4h0M306.9 1888.8h0M307.1 1873.3h0M307.6 1881.7h0M307.7 1852.3h0M307.8 1965.9h0M308 1848.2h0M308.2 1904.4h0M308.4 1855.3h0M308.6 1855.5h0M309 1853.5h0M309.2 1901.6h0M309.2 1947h0M309.8 1856.6h0M309.9 1866.5h0M309.9 1865.6h0M310.1 1889.6h0M310.2 1890.1h0M310.9 1892.3h0M311.1 1863.6h0M311.3 1955h0M311.3 1879.7h0M311.5 1878.9h0M311.7 1851.5h0M311.7 1871.3h0M312.1 1880.4h0M312.6 1884.7h0M313 1869h0M313.3 1863.3h0M313.3 1868.8h0M313.7 1884.9h0M313.9 1877.7h0M314.3 1938.9h0M314.5 1913.1h0M314.8 1872.2h0M315 1886.7h0M315 1878.7h0M315.4 1882.9h0M316.2 1892.3h0M316.4 1896.3h0M316.4 1874.9h0M316.7 1874h0M316.8 1880.2h0M317.3 1891.9h0M317.3 1895.7h0M317.5 1894.2h0M317.6 1858.3h0M317.8 1878.3h0M318.1 1899.5h0M319.2 1877.7h0M320 1909.4h0M320 1858.5h0M320.1 1887.7h0M322 1881.4h0M322.9 1873.6h0M323 1908.7h0M323.1 1876.5h0M323.3 1847.9h0M323.4 1901.8h0M323.6 1844.8h0M323.8 1946.3h0M324.3 1873.5h0M324.7 1860.5h0M324.9 1872.9h0M325.1 1889h0M325.4 1885.4h0M326.5 1902.8h0M328.4 1799.1h0M328.5 1891.7h0M328.6 1900.8h0M329.2 1879.9h0M329.2 1900.5h0M329.4 1880.2h0M330.2 1880.3h0M331.3 1829.1h0M331.6 1878.8h0M332.3 1854.9h0M335 1891h0M335 1877.1h0M335.3 1877.3h0M336 1898.9h0M336.2 1887.3h0M336.5 1926.1h0M336.5 1913.9h0M336.8 1885h0M337 1880.5h0M337.1 1886.8h0M337.3 1853.6h0M337.6 1914.6h0M337.9 1859.6h0M338 1880.5h0M338.5 1878.5h0M338.5 1875.9h0M339.6 1883.1h0M341.5 1917h0M342 1921.5h0M342.4 1880.1h0M342.5 1846.6h0M343.4 1942.1h0M343.8 1919.2h0M344.4 1882.5h0M345 1842.2h0M345.7 1941h0M347.3 1881.8h0M347.4 1954.7h0M347.6 1887.8h0M348.7 1893.1h0M348.8 1899.3h0M349.4 1940h0M350 1948.1h0M351.9 1928.4h0M352.5 1905.8h0M353.6 1918.4h0M354.8 1930.2h0M356.1 1903.9h0M356.2 1921h0M357.5 1923.6h0M358.4 1935h0M362.2 1892.2h0M369.7 1865.6h0M380 1895.6h0M441.9 1893.5h0M446.5 1875.4h0M446.9 1887.5h0M450.4 1886.5h0M508.8 1862.2h0"/>
<path class="d" d="M88.6 2063.2h0M89 2060.2h0M90 2065.9h0M92 2061h0M98.8 2060.1h0M99.4 2064.2h0M99.8 2023.2h0M100.6 2045.7h0M101.1 2016.3h0M103.8 2037.2h0M103.9 2066.2h0M104.5 2026.2h0M104.5 2024h0M108.3 2035.6h0M109.4 1830.6h0M109.5 2004.8h0M111.7 2023.5h0M114.2 2047.9h0M115.4 2064.7h0M115.6 2042.7h0M117.8 2043h0M121.9 2042.4h0M122.6 2045.1h0M126 2061.8h0M126.4 2040.7h0M129.1 2040.1h0M130.2 1999.7h0M130.5 2060.7h0M132.3 2066.5h0M133.7 1973.3h0M133.9 1991.9h0M134.7 2034.9h0M134.8 2058.5h0M135.3 2031.6h0M135.6 1980.4h0M140.8 1980.1h0M141.3 2024.4h0M141.7 1986.9h0M142.7 1980.9h0M144 1955.3h0M144.1 1989.6h0M144.5 2060.3h0M144.7 1996.1h0M144.9 1957.2h0M145 2023.4h0M145.8 1959.3h0M147 2018.5h0M148 1961.2h0M148 2009.3h0M148.1 2019.8h0M151.1 1955h0M151.5 2055.3h0M153.3 1939.4h0M153.5 2003.7h0M154.7 2001.3h0M156.3 2006.4h0M161.6 1950.1h0M161.8 1937.1h0M162 1963.1h0M162.9 1938.6h0M164 1943.8h0M164.2 1947.1h0M164.3 1960.1h0M166.7 1975h0M168.1 2054h0M168.2 1991.7h0M168.7 1948h0M169.2 1964.4h0M170.8 1950.5h0M171.2 1945.5h0M172.2 1985.1h0M173.2 1825.3h0M174.2 1926.9h0M175.4 1987h0M177.3 1944h0M177.8 1978h0M178.7 1940.6h0M179 1964.4h0M180.5 1975.1h0M181.1 1943.8h0M181.3 1973.6h0M181.5 1952.9h0M183.2 1953.9h0M183.9 1951.4h0M184.7 1939h0M185 1837.1h0M185.2 1917.5h0M185.9 1918.7h0M185.9 1915.2h0M187.1 1904.6h0M187.1 1949.1h0M187.2 1939.7h0M187.2 1939.3h0M187.8 1956.9h0M188.2 2036.5h0M189.2 1921.8h0M189.5 1922.3h0M189.5 1916.1h0M189.7 2039.4h0M189.8 1949h0M190.1 1940.7h0M190.8 1915.2h0M191 2034.4h0M191 1954.8h0M191.7 1921.6h0M192.1 1906h0M193.2 1899.2h0M193.2 1900.7h0M193.8 1793.1h0M193.9 1917.9h0M193.9 1913.8h0M194.3 1921.1h0M194.4 1839.4h0M194.8 1918h0M194.8 1905.6h0M195 2031.1h0M195.2 1922.8h0M195.8 1908.9h0M196.8 1948.3h0M197 1916h0M197.2 1937.2h0M197.3 1936.2h0M197.5 1883.6h0M198.1 1911.4h0M199.2 1939h0M199.3 1927.2h0M199.6 1904.3h0M199.7 1925.7h0M200.3 1928.5h0M200.5 1916.2h0M201 1880h0M201 1917.9h0M201.1 1933.6h0M201.8 1918.9h0M202.3 1938.7h0M202.4 1923.6h0M202.6 1900h0M202.7 1921h0M203.9 1963.5h0M204.3 1941.4h0M206.3 1926.7h0M206.7 1921.9h0M207.8 1896h0M207.9 1939.5h0M207.9 1929.3h0M208.3 1915h0M208.4 1813.7h0M208.6 1946.7h0M208.6 1927.3h0M208.7 1924.4h0M209.3 1941h0M209.4 1915.7h0M209.6 1902.3h0M209.6 1937.5h0M209.8 1930.1h0M209.9 1910.6h0M210.2 1941.3h0M210.2 1951.6h0M210.2 1878.1h0M210.3 1800h0M210.7 1975.8h0M211.1 1905.3h0M211.2 1947.8h0M211.3 1859.6h0M211.7 1903.8h0M211.8 1872.8h0M211.9 1913.7h0M212.1 1905.2h0M212.3 1897.2h0M212.4 1942.3h0M212.8 1949.8h0M212.8 1896.1h0M213 1917.3h0M213.1 2006.1h0M213.5 1942.8h0M213.6 1907.4h0M213.8 1914.3h0M214.1 1929.5h0M214.1 1921.8h0M214.8 1939.4h0M214.9 1919.3h0M215.3 1914.6h0M215.4 1958.8h0M216 1906.5h0M216 1892.8h0M216.8 1995.7h0M216.8 1920.8h0M217.1 1921.9h0M217.4 1915.9h0M218.1 1918.1h0M218.1 1892.8h0M219.1 1929.3h0M219.5 1934h0M219.6 1973.6h0M220.3 1910h0M220.9 1922.8h0M221.1 1918.5h0M221.4 1898h0M221.9 1821.6h0M222 1973.7h0M222.4 1943.2h0M222.5 1930.6h0M223 1941.4h0M223.1 1920.9h0M223.3 1934.6h0M223.5 1969.6h0M223.5 1944.6h0M224.6 1900h0M224.7 1962.6h0M224.9 1943.4h0M224.9 2050.3h0M225 1958h0M225.1 1958.7h0M225.8 1931.5h0M226 1989.1h0M226.1 1972.5h0M226.1 1891.9h0M226.2 1923.3h0M226.3 1940.9h0M226.6 1880.6h0M226.8 1943.8h0M227 1957.3h0M227.1 1884.7h0M227.1 1895.8h0M227.4 1870.5h0M227.4 1915.8h0M227.4 1886.2h0M227.4 1932.7h0M227.5 1969h0M227.7 1910h0M227.9 1947.5h0M228.2 1969.2h0M228.7 1894.4h0M229 1936.7h0M229.2 1931.3h0M229.2 1933h0M230 1981.2h0M230.5 1929.7h0M230.7 1970.8h0M230.9 1918.7h0M231.4 1971.2h0M231.6 1912h0M231.7 1973.1h0M231.7 1898.1h0M231.8 1885h0M232.5 1968.6h0M232.6 1886.9h0M232.8 1937.7h0M232.9 1974.6h0M233.3 1957h0M233.6 1968.9h0M235 1896.8h0M235.2 1973.7h0M235.3 1972.2h0M236 1919.2h0M236.4 1886.2h0M237.2 1932.9h0M237.6 1886.2h0M237.9 1897.1h0M238.1 1857.7h0M238.1 1924.6h0M238.5 1951.2h0M238.6 1878.5h0M239 2019.4h0M239.2 1893.2h0M239.5 1900.5h0M240 1920.1h0M240.1 1965h0M240.3 1874.8h0M240.3 1864.7h0M240.5 1925.6h0M240.7 1868.1h0M240.8 1886.9h0M241.2 1907.3h0M241.2 1863.8h0M241.2 1864h0M241.3 1867.8h0M241.3 1918.9h0M241.5 1938.4h0M241.6 1937.4h0M241.8 1941.8h0M242.5 1981.5h0M242.6 1870.3h0M242.8 1882.8h0M242.8 1918h0M243.1 1945.5h0M243.2 1915.1h0M243.4 2000.4h0M243.4 1952.1h0M243.5 1868.6h0M243.7 1939.5h0M243.7 1876.2h0M243.8 1911.8h0M244 1967h0M244.1 1897.9h0M244.6 1867h0M245.2 1907.9h0M245.3 1931.3h0M245.4 1943.9h0M245.4 1864.7h0M245.6 1854.1h0M245.6 1930.2h0M245.8 1901.5h0M246.2 1873.9h0M246.7 1954.9h0M246.9 1908.6h0M247.1 1906.5h0M247.1 1960.6h0M247.5 1892h0M247.7 1887.6h0M248 1869.4h0M248 1952.2h0M248.2 1877.1h0M248.4 1901.6h0M248.5 1892.9h0M248.6 1894.7h0M248.6 1925.3h0M248.7 1907.8h0M248.8 2051.3h0M248.8 1948.5h0M248.8 1898.3h0M249.2 1961.6h0M249.6 1981.5h0M249.7 1881.3h0M249.7 1866.7h0M249.9 1870.6h0M250.1 1946h0M250.1 1907.4h0M250.3 1962.3h0M250.3 1944.2h0M250.9 1910.5h0M250.9 1912.2h0M250.9 1922.1h0M251 1896.4h0M251.1 1950.4h0M251.2 1943.2h0M251.6 1866.1h0M251.6 1906.4h0M251.8 1893.9h0M252 1941h0M252.4 1908.3h0M252.6 1917h0M253 1910.4h0M253.2 1889.4h0M253.2 1884.6h0M253.7 1957.9h0M253.7 1908.9h0M253.9 1900.4h0M254.4 1864h0M254.6 1883.3h0M254.9 1920.8h0M255 1868.9h0M255.1 1925h0M255.7 1866.7h0M256.6 1934.8h0M256.7 1871.5h0M257.1 1939.4h0M257.3 1926.1h0M257.4 1837.3h0M257.6 1841.1h0M258.1 1931.4h0M258.1 1939.6h0M258.3 1916.7h0M258.8 1953.6h0M258.9 1949.5h0M259.6 1964.1h0M259.7 1876.9h0M260.4 1956.8h0M260.5 1933.5h0M260.9 1876.9h0M261 1938.6h0M261.1 1909.8h0M261.1 1869.5h0M261.4 1918.2h0M262.7 1870.5h0M262.9 1933.2h0M262.9 1868.1h0M263.4 1907.4h0M263.5 1875.9h0M263.5 1895.4h0M263.6 1882.9h0M263.9 1924.3h0M264 1935h0M264.1 1926.4h0M264.1 1892.4h0M264.8 1922.5h0M264.9 1872.8h0M264.9 1910.5h0M265.1 1912.3h0M265.1 1868.3h0M265.4 1917.8h0M265.5 1865.6h0M265.6 1903.9h0M265.8 1992.3h0M265.9 1918.1h0M266.1 1913.4h0M266.4 1924.8h0M266.5 1919.3h0M266.6 1895.7h0M266.9 1983.6h0M267.2 1993.1h0M267.2 1877.4h0M267.6 1899.3h0M267.7 1920.7h0M268.4 1916.9h0M268.4 1890.4h0M268.6 1891.5h0M268.7 1900.9h0M268.8 1871.8h0M268.8 1908.9h0M269 1927.1h0M269.3 1880.1h0M269.4 1832.8h0M269.7 1875.3h0M269.7 1900h0M269.9 1875.7h0M270.1 1876.4h0M270.4 1894.9h0M270.4 1875.7h0M270.4 1922h0M271.1 1873.9h0M271.3 1921.3h0M271.4 1903.9h0M271.4 1891.4h0M271.6 1905.2h0M271.7 1899.6h0M271.9 1914.5h0M272.2 1928.6h0M272.3 1916.6h0M272.5 1912.4h0M272.5 1874.8h0M273.4 1879.2h0M273.5 1903.6h0M273.5 1911.1h0M273.8 1873.8h0M273.8 1894.6h0M274.1 1799.1h0M274.1 1911.8h0M274.1 1892.3h0M274.3 1903.3h0M274.3 1950.3h0M274.6 1930.4h0M274.7 1902h0M274.9 1871.9h0M275.5 1895.5h0M275.6 1905.8h0M275.8 1918.2h0M275.9 1932.8h0M276.1 1880.7h0M276.4 1917.2h0M276.5 1821.4h0M276.6 1873h0M276.8 1878.4h0M276.8 1914.7h0M277.1 1969.3h0M277.2 1846.1h0M277.4 1815.2h0M277.7 1873.5h0M277.8 1858h0M278.2 1845.8h0M278.5 1907.4h0M279 1933.6h0M279 1866.9h0M279.6 1943.6h0M279.8 1878h0M280.3 1871.2h0M280.9 1887.5h0M281 1924.1h0M281.3 1887.1h0M281.4 1974.4h0M282 1944.6h0M282 1826.6h0M282.6 1920.3h0M283.4 1884.6h0M283.5 1864.7h0M283.7 1884.9h0M283.7 1961.7h0M283.9 1877.8h0M284 1825.2h0M284.1 1853.1h0M284.1 1862.7h0M284.2 1894.1h0M284.3 1928.4h0M284.7 1966.5h0M284.8 1846.6h0M284.8 1931.9h0M284.9 1879h0M285 1814.6h0M285.1 1847.4h0M285.1 1869.1h0M285.3 1961h0M285.5 1820.4h0M285.7 1930.5h0M286 1925.1h0M286 1928.9h0M286.9 1918.4h0M286.9 1856.9h0M286.9 1854.2h0M287.3 1883.1h0M287.7 1949.6h0M287.7 1872.7h0M288.2 1851.1h0M288.2 1963.3h0M289 1917.5h0M289.1 2044.7h0M289.9 1850h0M289.9 1891.4h0M290.2 1921h0M290.5 1891.9h0M290.9 1863.3h0M290.9 1912.1h0M291.5 1939.3h0M291.5 1863.8h0M291.6 1868.5h0M292.2 1862.7h0M292.3 1929.2h0M292.4 1892h0M292.8 1867.5h0M293.5 1902h0M293.5 1892.8h0M293.6 1889.1h0M293.6 1900.2h0M294 1924.9h0M294.2 1876.9h0M294.6 1915.8h0M295.6 1865.3h0M295.9 1900h0M295.9 1874.4h0M296 1875.9h0M296 1864.3h0M296.5 1877.3h0M296.6 1892.3h0M296.6 1924.3h0M296.8 1922.6h0M297.9 1900.3h0M297.9 1864.5h0M298 1917.3h0M298.2 1860.5h0M298.3 1922.8h0M298.8 1896.8h0M299 1855.4h0M299.2 1909.2h0M299.2 1862.2h0M299.3 1844.5h0M300 1902.4h0M300.3 1864.6h0M300.3 1899.6h0M300.4 1903.9h0M300.7 1908.5h0M300.8 1870.3h0M301 1913.8h0M301.1 1872.5h0M301.3 1892.5h0M302 1967.2h0M302.2 1866.3h0M302.3 1895.3h0M302.5 1889.2h0M302.6 1894.5h0M302.6 1895h0M302.9 1865.3h0M303.8 1898.9h0M303.9 1893.5h0M304.6 1862h0M304.9 1885.2h0M305 1957.5h0M305.1 1882.5h0M305.4 1897.8h0M306.1 1849.2h0M306.7 1883h0M307 1887.3h0M307.2 1853.4h0M307.4 1856.9h0M307.8 1939.7h0M308.2 1871.8h0M308.8 1858.6h0M308.9 1869.2h0M310 1889.9h0M310 1897.7h0M310.1 1914.7h0M310.5 1865.4h0M310.6 1856.3h0M310.7 1887.7h0M311.2 1947.7h0M311.4 1847.2h0M312.3 1877.1h0M312.4 1883.6h0M312.6 1869.6h0M312.9 1867.8h0M313.3 1868.5h0M313.7 1883.5h0M315 1955.3h0M315.1 1886.6h0M315.3 1878.2h0M315.3 1869.2h0M315.6 1881.3h0M315.8 1889.4h0M315.8 1905.7h0M316.3 1916.9h0M316.4 1906.6h0M316.7 1876.5h0M316.7 1887.7h0M317.7 1891.2h0M318 1889.8h0M318.1 1896.4h0M318.1 1945.3h0M318.2 1874.7h0M318.3 1875.1h0M318.7 1923.6h0M318.7 1889.5h0M320 1887.4h0M320.2 1891.9h0M320.4 1849.1h0M320.7 1915.8h0M321.3 1887.3h0M321.5 1908h0M322.6 1903.1h0M322.7 1916.1h0M322.9 1922.4h0M324.4 1904.6h0M325.1 2033.4h0M325.2 1901.4h0M325.3 1859.6h0M326.4 1851.2h0M327.7 1858h0M328.4 1904.5h0M328.7 1885.5h0M328.9 1883.6h0M329.5 1851.8h0M330.4 1883h0M330.6 1859.9h0M331.3 1912.6h0M331.5 1880.3h0M331.7 1907.9h0M332.5 1883.6h0M333.1 1914.2h0M333.2 1900.9h0M333.6 1859.5h0M334 1889.6h0M334 1882.7h0M334.3 1857.3h0M334.5 1903.2h0M334.7 1892.2h0M335.3 1917.5h0M336 1884.2h0M339.4 1891.9h0M341.6 1882.2h0M341.7 1950.4h0M343.4 1926.8h0M344.2 1938h0M345.7 1952.3h0M345.8 1942.1h0M347.4 1897.9h0M349.7 1907.9h0M350.6 1954.7h0M350.7 1950.7h0M351.3 1935.9h0M352.6 1903.2h0M353 1917.9h0M353.6 1834.2h0M355.6 1932.1h0M356 1926.1h0M357.3 1922h0M358.8 1928.4h0M359.4 1804.3h0M360.7 2013.4h0M363.1 1897.5h0M366.9 1887.2h0M368.2 1849.3h0M372.5 1916.3h0M373.4 1929h0M377.2 1905h0M379.1 1871.3h0M382.8 1865.6h0M387.5 1861.9h0M402.1 1866h0M402.5 1931.3h0M415.2 1894h0M432.5 1867.1h0M564 1922.5h0"/>
<path class="d" d="M87.6 2059.8h0M90.3 2044.3h0M93.3 2063.8h0M93.8 2061.9h0M94.1 2038.1h0M98.2 2011.9h0M99.1 2045.9h0M101.1 2026.4h0M103.3 2057.9h0M105.9 2062.9h0M107.5 2056h0M111.7 2064.5h0M114.1 2015.4h0M115.2 2017.1h0M115.5 2037.5h0M116 2048h0M116.6 1987.1h0M118.2 2043.1h0M119.1 2048h0M122.3 2064.5h0M124.8 2039h0M127.1 2035.1h0M130.7 2004.5h0M130.8 1998.3h0M132.2 1984.5h0M132.4 2000.8h0M132.8 1999.9h0M135.1 2003.1h0M137.6 2060.9h0M139.5 2027.6h0M142.7 1982.3h0M142.7 1978.2h0M143.1 1982.5h0M143.5 1986.7h0M143.6 1980.3h0M145.3 1997.4h0M145.6 1985.6h0M146.4 1965.4h0M146.8 1982.9h0M147 1992.5h0M147.9 2058.2h0M148.8 2016.3h0M150.2 2011.6h0M150.6 1990.9h0M151.5 1959.2h0M151.6 1986.9h0M152 1944.8h0M154.7 2005.5h0M154.8 2008.6h0M155.6 1944.8h0M157.3 1998.5h0M159 1996.7h0M159.1 1996h0M159.9 2054.6h0M162.4 1965.8h0M166 1948.6h0M167.6 1939.6h0M169.2 1955.3h0M169.3 1978.9h0M169.6 1947h0M169.6 1942.2h0M170.4 1988.1h0M171.4 1928.6h0M171.7 2049.3h0M171.8 1970.7h0M171.8 1961.9h0M172.3 1944.1h0M174.3 1928.2h0M175.2 1950h0M177.7 1953.5h0M178.5 1968.4h0M181.7 1978.7h0M182.2 1930.8h0M182.2 1966.8h0M182.8 1786.9h0M182.9 1932.8h0M185.1 1923.5h0M185.2 1954.2h0M185.6 1931.7h0M185.9 1922h0M186.1 1926.5h0M187.3 1940.9h0M187.6 1928.3h0M187.9 1963.1h0M188 1916.9h0M188.1 1960h0M188.2 1920.5h0M188.8 1953.7h0M188.9 1941.2h0M189.1 1921h0M189.2 1909.8h0M190.1 1904.6h0M190.1 1941.3h0M190.7 1944.5h0M191.2 1907.2h0M191.4 1920.1h0M191.4 1929.3h0M191.6 1815.9h0M191.7 1955.1h0M192.9 1906.9h0M193.2 1932.1h0M194.1 1949.3h0M194.3 1928.3h0M194.4 1949.4h0M195.2 2029h0M195.3 1821.6h0M195.7 1929.6h0M195.9 1935.4h0M196.3 1844.1h0M197.9 1880.4h0M198.3 1915.7h0M198.5 1929.4h0M198.5 1925.6h0M199.3 1939.9h0M199.7 1926.1h0M199.8 1881.8h0M200 1886.7h0M200 1938.7h0M200.8 1919.6h0M200.8 1905.4h0M200.8 1912.4h0M201 1942.6h0M201.1 1917.3h0M201.2 1936.2h0M201.3 1891.4h0M201.4 1929.9h0M201.9 1913.4h0M202 1926.3h0M202.1 1895.2h0M202.1 1928.8h0M202.2 1928.7h0M202.4 1916.1h0M202.7 1921.6h0M202.8 1903h0M203.5 1900.7h0M204.1 1898.4h0M204.1 1917.4h0M204.4 2022.8h0M204.5 1943.7h0M204.5 1926h0M204.7 1930h0M205.2 1920.4h0M205.4 1920.3h0M206.3 1876h0M206.6 1934.6h0M206.7 1943h0M206.9 1934.7h0M207.3 1943.5h0M207.8 1950.5h0M207.9 1938.3h0M207.9 1872h0M208 1918.3h0M208.2 1920.4h0M208.2 1935.6h0M208.6 1920.1h0M208.7 1904.4h0M209 2012.6h0M209 1941.5h0M209.6 1907.6h0M209.6 1910.6h0M209.7 1939h0M209.8 1917.3h0M210 1906.7h0M210.3 1936.5h0M210.5 1930.9h0M211.7 1907.5h0M212 1876.9h0M212 1920.3h0M212.5 1952.9h0M212.5 1902.9h0M212.6 1912.9h0M212.8 1910.2h0M212.9 1948.6h0M212.9 1909.3h0M213.1 1919.3h0M213.1 1920h0M213.2 1902.4h0M214.1 1925h0M214.2 1959.2h0M214.3 2005.1h0M214.4 1837.5h0M214.4 1942.7h0M214.5 1922.4h0M215.6 1931.7h0M215.6 1919.4h0M215.9 1918.2h0M216.4 1958.7h0M216.5 1916.2h0M217.3 1932.7h0M217.7 1924h0M217.8 1898.5h0M217.8 1854.4h0M218 1933.1h0M218.1 1924.5h0M218.6 1900.2h0M218.8 1965.5h0M218.9 1936.5h0M219.2 1930.2h0M219.6 1902.3h0M220.2 1902.6h0M220.2 1898h0M220.9 1917.5h0M221.1 1941.2h0M221.1 1905.1h0M221.4 1926.8h0M221.9 1908.4h0M221.9 1841.3h0M222.4 1961.8h0M222.6 1895.7h0M223.1 1871.4h0M223.1 1967.6h0M223.9 1930.1h0M223.9 1966.2h0M223.9 1926.7h0M224.3 1898.7h0M224.3 1994.7h0M224.7 1871.8h0M224.8 1880.3h0M225.3 1991.2h0M225.3 1874.8h0M225.5 1976.8h0M225.5 1949.1h0M225.8 1935.1h0M226.3 1946.9h0M227 1927.3h0M227.1 1899.9h0M227.2 1869.6h0M227.3 1960.4h0M227.5 1974.5h0M227.7 1929.4h0M227.8 1933.8h0M227.9 1948.5h0M228.1 1897.6h0M228.2 1915h0M228.2 1899.7h0M228.7 1929.9h0M228.9 1978.6h0M229.3 1901.9h0M229.8 1936h0M229.9 1926.7h0M230 1934h0M230.2 1916.3h0M230.5 1957.1h0M230.7 1958.1h0M230.8 1977.3h0M231 1900.3h0M231 1936.7h0M231.2 1956.7h0M231.5 1967.7h0M231.5 1912.3h0M231.5 1961.3h0M231.8 1968.2h0M232 1983.7h0M232 1950h0M232.2 1978.3h0M232.8 1981.5h0M232.8 1973.7h0M232.8 1886.1h0M233 1909.7h0M233.2 1871.3h0M233.5 1897h0M233.6 1888.5h0M233.8 2007.2h0M234 1978.4h0M234.3 1886h0M235.2 1890.6h0M235.2 1972.5h0M235.4 1895.8h0M235.6 1922.2h0M235.9 1910.6h0M236.3 1974.3h0M236.9 1891.9h0M237.5 1875h0M237.6 1920.8h0M237.6 1923.8h0M237.8 1874.3h0M238.2 1915.9h0M238.6 1879.8h0M238.7 1897.1h0M239.7 1955.8h0M240 1863.8h0M240.2 1881.5h0M240.3 1956.2h0M240.3 1878h0M240.4 1960.2h0M240.5 1870.5h0M240.8 1925.6h0M240.9 1867.3h0M241.4 1923h0M241.7 1959.6h0M241.8 1916.9h0M242.2 1918h0M242.3 1913.2h0M242.5 1880.3h0M242.7 1912.7h0M242.7 1948.6h0M242.7 1921.2h0M243.5 1948.4h0M243.7 1940.9h0M244 1983.8h0M244.5 1889.2h0M244.7 1942.5h0M245 1898.1h0M245.1 1877.3h0M245.2 1881.3h0M246 1965.7h0M246 1958h0M246.5 1903.2h0M246.6 1898.3h0M246.9 1943.8h0M246.9 1905.9h0M246.9 1934.5h0M247 1936.7h0M247.3 1855.9h0M247.3 1925.5h0M247.7 1954.3h0M248.3 1918h0M248.6 1906.1h0M248.7 1955.9h0M248.9 1941.6h0M248.9 1873.2h0M249.3 1901.6h0M249.4 1904h0M249.6 1888.3h0M249.6 1887.9h0M249.7 2000.6h0M249.9 1963.6h0M250.1 1923.1h0M250.1 1891.5h0M250.3 1987.9h0M250.4 1900.9h0M250.6 1887.6h0M250.7 1924.9h0M250.8 1941h0M251.4 1900.5h0M252 1922.2h0M252.1 1882.7h0M252.2 1892h0M252.4 1858.4h0M252.6 1880.9h0M252.8 1882.3h0M253.1 1890.7h0M253.6 1865.7h0M254.3 1935.8h0M254.4 1905.4h0M254.6 1891.1h0M256 1863h0M257.1 1948.7h0M257.8 1928.2h0M257.9 1872.8h0M258.4 1877.7h0M258.8 1954.6h0M259.1 1915.6h0M259.2 1956.1h0M259.3 1908.4h0M259.4 1809.4h0M259.7 1931.1h0M259.8 1958.4h0M259.9 1954.1h0M259.9 1940.8h0M260 1960.2h0M260.6 1916.3h0M260.6 1874.3h0M260.6 1939.2h0M260.7 1876.4h0M260.7 1944.2h0M261.9 1912.3h0M262.1 1941.3h0M262.2 1918.9h0M262.4 1870.6h0M262.5 1850.8h0M262.6 1955.2h0M262.9 1862.3h0M263.1 1939.1h0M263.1 1916.1h0M263.2 1873.8h0M263.7 1966.2h0M263.8 1880.3h0M264 1915h0M264.2 1861h0M264.3 1858.4h0M264.3 1934.7h0M264.4 1865.8h0M264.8 1930.4h0M264.9 1867.6h0M265.1 1925.8h0M265.3 1903.2h0M265.6 1868.3h0M265.8 1963.4h0M265.9 1933.8h0M265.9 1930.6h0M266 1907.7h0M266 1933h0M266.1 1918.8h0M266.2 1935.5h0M266.2 1909h0M266.5 1926.8h0M266.5 1934.2h0M266.6 1922.8h0M266.7 1907.4h0M267.1 1910.3h0M267.4 1867.9h0M267.4 1907.1h0M267.5 1929.6h0M267.6 1890.9h0M267.6 1872.9h0M267.7 1854.5h0M267.8 1903.7h0M267.9 1903.7h0M268 1906.1h0M268.1 1944.6h0M268.1 1898.3h0M268.2 1872h0M268.4 1912h0M268.6 1912.2h0M269 1880.7h0M269.2 1915.7h0M269.7 1878.8h0M269.7 1923.4h0M269.8 1902.4h0M270 1921.8h0M270.3 1906.3h0M270.5 1986.7h0M270.5 1835.2h0M271.1 1904.6h0M271.2 1874h0M271.3 1829.9h0M271.5 1948.5h0M271.6 1898h0M271.7 1926.6h0M271.9 1876.2h0M272.1 1835.9h0M272.1 1911.5h0M272.3 1903.8h0M272.5 1866.2h0M272.9 1928.1h0M273.8 1899.6h0M273.9 1923.1h0M274.2 1928.2h0M274.2 1884.4h0M274.3 1902h0M274.4 1939.4h0M274.4 1813.6h0M274.4 1898.7h0M274.5 1878.2h0M274.5 1890.2h0M274.6 1935.6h0M274.9 1927.6h0M275.5 1916.6h0M275.6 1907.7h0M275.8 1906.9h0M275.9 1872.4h0M275.9 1863.5h0M276.2 1890.3h0M276.3 1863.7h0M276.3 1901.3h0M276.8 1894h0M277 1817.1h0M277.2 1871h0M277.5 1896.6h0M277.6 1871.3h0M277.7 1946.5h0M278.3 1923.1h0M278.5 1881.2h0M278.5 1971.5h0M278.8 1876.1h0M279.3 1949h0M279.4 1877.6h0M279.8 1979.6h0M280.4 1935.1h0M280.9 1931.6h0M281.1 1917.7h0M281.1 1849.9h0M281.4 1886.5h0M281.5 1845.4h0M281.7 1827.3h0M282 1840.6h0M282 1969.3h0M282.3 1840.5h0M283 1962.8h0M283.3 1877.2h0M283.4 1893h0M283.7 1863.9h0M283.8 1977.4h0M283.9 1843.6h0M283.9 1893.7h0M284 1822h0M284.5 1927.2h0M284.5 1951.2h0M284.6 1886.1h0M284.9 1932.9h0M285.3 1945.8h0M285.3 1915h0M286.6 1964.4h0M287.7 1861.3h0M288 1847.4h0M289 1869.7h0M289 1877.7h0M289.3 1896.1h0M289.9 1958.8h0M290.3 1892.1h0M290.4 1966.3h0M290.4 1881.9h0M290.8 1872.4h0M291.4 1916.9h0M291.5 1872.7h0M291.6 1868.3h0M291.7 1864.7h0M291.8 1900.8h0M292 1914.7h0M292.8 1940.1h0M293 1813.5h0M293.7 1873.5h0M294.2 1920.8h0M294.6 1865.7h0M295 1917.7h0M295.3 1923.2h0M295.5 1876h0M295.6 1863h0M295.8 1881.1h0M295.8 1896.6h0M296.5 1868.3h0M297.1 1863.5h0M297.3 1903.5h0M297.9 1896.2h0M298.1 1914.9h0M298.1 1861.3h0M298.2 1909.8h0M298.2 1919h0M298.4 1857.5h0M298.7 1868.8h0M299 1895.8h0M299.6 1904.2h0M299.7 1887.6h0M299.7 1871.8h0M299.9 1923h0M299.9 1862.3h0M299.9 1864.1h0M300.8 1860.5h0M300.9 1874h0M301.2 1873.7h0M301.4 1905h0M302 1874.4h0M302 1858.4h0M302.5 1915.3h0M302.5 1960.7h0M303.7 1885.4h0M303.8 1856.5h0M304 1887.6h0M304.2 1882.6h0M304.5 1893.7h0M304.6 1866.4h0M304.6 1896.3h0M304.7 1849.3h0M305 1867.9h0M305 1859.7h0M305.2 1894.1h0M305.4 1851.3h0M305.7 1873.8h0M305.7 1887.7h0M306.2 1959.1h0M306.3 1867.3h0M306.5 1858h0M306.6 1849.8h0M306.6 1889.7h0M306.7 1888.5h0M306.7 1886.1h0M307 1897.2h0M307 1960.6h0M307.2 1870.6h0M307.5 1886h0M307.6 1890h0M307.7 1852.3h0M308 1890.1h0M308.1 1889.2h0M308.3 1852.5h0M308.5 1953.8h0M308.8 1971.6h0M308.8 1882.5h0M309.3 1880.2h0M309.8 1957.1h0M310 1885.5h0M310.1 1909.5h0M310.4 1852.5h0M310.5 1886.3h0M311.3 1861.2h0M311.4 1901.6h0M311.5 1864.2h0M311.7 1849.7h0M312 1904.1h0M312.8 1914.1h0M312.9 1849.6h0M313.2 1873.1h0M313.5 1868.2h0M313.5 1885.1h0M313.6 1872.6h0M314.3 1952.6h0M314.9 1888.2h0M314.9 2034.9h0M316.2 1953.4h0M317 1882.2h0M317.4 1904.8h0M317.4 1898.4h0M317.8 1946.6h0M318 1890.9h0M318.8 1879.4h0M318.8 1885.7h0M319.3 1901h0M320.3 1875h0M320.3 1899.4h0M320.4 1920.7h0M321 1897.8h0M321.1 1892.9h0M321.6 1904h0M322.9 1857.4h0M325.2 1912.1h0M327 1894.2h0M327.7 1856.6h0M330.1 1860.3h0M331.9 1928.1h0M332.7 1856.7h0M333 1885.2h0M334 1904.3h0M335.2 1894.9h0M335.4 1842.3h0M335.9 1846.8h0M337.3 1878.6h0M337.4 1872.1h0M337.5 1882.9h0M337.7 1892.7h0M339.4 1913.8h0M340.9 1929.5h0M341.1 1857.1h0M342.1 1844h0M343.7 1866.8h0M345.4 1873.3h0M346.3 1891h0M346.4 1936.3h0M347.2 1853.4h0M347.2 1947.4h0M347.2 1945.8h0M349.1 1882.1h0M349.3 1893.8h0M349.5 1946.2h0M350 1908h0M350.6 1944.3h0M351.6 1940.5h0M352.8 1937.2h0M353.1 1905h0M354.3 1899.9h0M354.6 1945.2h0M355.8 1909.5h0M357.4 1925.3h0M358.1 1898.7h0M358.5 1893.1h0M359.8 1936.1h0M361.6 1892.8h0M407.2 1919.1h0M410 1855.7h0M422.2 1887.9h0M433.1 1843.4h0M447.1 1893.5h0M448.5 1877.1h0M500.2 1868.5h0M554.6 1873.1h0M564 1875.9h0"/>
<text class="lab" x="3" y="1653.8">J</text>
<text class="ttl" x="147.3" y="1657">Omega calcite</text>
<text class="ttl" x="102.9" y="1703.8">y=1.773x<tspan stroke="#000" stroke-width="1.3">-</tspan>1.397</text>
<text class="ttl" x="103.9" y="1749.6">R^2=0.790</text>
<text class="tk" text-anchor="middle" transform="translate(86.3 2147.1) scale(.89 1)">0.5</text>
<text class="tk" text-anchor="middle" transform="translate(253.4 2147.1) scale(.89 1)">2.5</text>
<text class="tk" text-anchor="middle" transform="translate(420.5 2147.1) scale(.89 1)">4.5</text>
<text class="tk" text-anchor="middle" transform="translate(587.6 2147.1) scale(.89 1)">6.5</text>
<text class="tk" text-anchor="middle" transform="translate(55.8 2101.5) rotate(-90) scale(.93 1)">-1</text>
<text class="tk" text-anchor="middle" transform="translate(55.8 1985.5) rotate(-90) scale(.93 1)">2</text>
<text class="tk" text-anchor="middle" transform="translate(55.8 1869.5) rotate(-90) scale(.93 1)">5</text>
<text class="tk" text-anchor="middle" transform="translate(55.8 1753.5) rotate(-90) scale(.93 1)">8</text></g>
</svg>
</body></html>
